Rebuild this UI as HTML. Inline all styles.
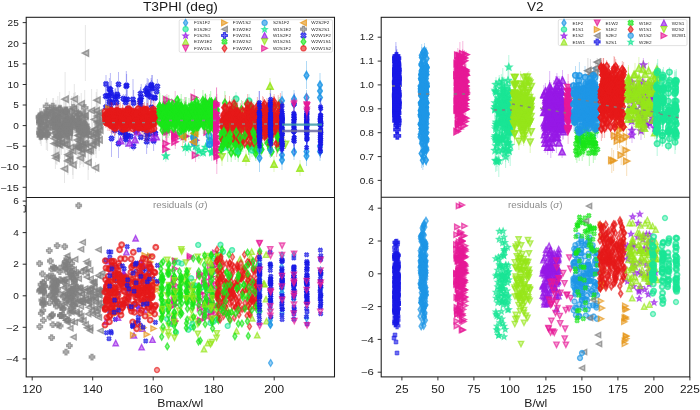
<!DOCTYPE html><html><head><meta charset="utf-8"><style>html,body{margin:0;padding:0;background:#fff;width:700px;height:410px;overflow:hidden}svg{display:block;font-family:"Liberation Sans",sans-serif;will-change:transform}</style></head><body><svg width="700" height="410" viewBox="0 0 700 410"><defs><path id="d1" d="M0,-1.22 L0.74,0 L0,1.22 L-0.74,0Z" transform="scale(3.10)"/><path id="D1" d="M0,-1.25 L0.85,0 L0,1.25 L-0.85,0Z" transform="scale(3.10)"/><path id="o1" d="M0.920,0.000 L0.797,0.460 L0.460,0.797 L0.000,0.920 L-0.460,0.797 L-0.797,0.460 L-0.920,0.000 L-0.797,-0.460 L-0.460,-0.797 L-0.000,-0.920 L0.460,-0.797 L0.797,-0.460Z" transform="scale(3.10)"/><path id="s1" d="M0.000,-0.900 L0.265,-0.264 L0.951,-0.209 L0.428,0.239 L0.588,0.909 L0.000,0.550 L-0.588,0.909 L-0.428,0.239 L-0.951,-0.209 L-0.265,-0.264Z" transform="scale(3.10)"/><path id="u1" d="M0,-1 L1,1 L-1,1Z" transform="scale(3.10)"/><path id="v1" d="M0,1 L1,-1 L-1,-1Z" transform="scale(3.10)"/><path id="r1" d="M1,0 L-1,-1 L-1,1Z" transform="scale(3.10)"/><path id="l1" d="M-1,0 L1,-1 L1,1Z" transform="scale(3.10)"/><path id="p1" d="M-0.36,-1 H0.36 V-0.36 H1 V0.36 H0.36 V1 H-0.36 V0.36 H-1 V-0.36 H-0.36Z" transform="scale(3.10)"/><path id="x1" d="M-0.36,-1 H0.36 V-0.36 H1 V0.36 H0.36 V1 H-0.36 V0.36 H-1 V-0.36 H-0.36Z" transform="scale(2.42) rotate(45)"/><path id="d2" d="M0,-1.22 L0.74,0 L0,1.22 L-0.74,0Z" transform="scale(2.70)"/><path id="D2" d="M0,-1.25 L0.85,0 L0,1.25 L-0.85,0Z" transform="scale(2.70)"/><path id="o2" d="M0.920,0.000 L0.797,0.460 L0.460,0.797 L0.000,0.920 L-0.460,0.797 L-0.797,0.460 L-0.920,0.000 L-0.797,-0.460 L-0.460,-0.797 L-0.000,-0.920 L0.460,-0.797 L0.797,-0.460Z" transform="scale(2.70)"/><path id="s2" d="M0.000,-0.900 L0.265,-0.264 L0.951,-0.209 L0.428,0.239 L0.588,0.909 L0.000,0.550 L-0.588,0.909 L-0.428,0.239 L-0.951,-0.209 L-0.265,-0.264Z" transform="scale(2.70)"/><path id="u2" d="M0,-1 L1,1 L-1,1Z" transform="scale(2.70)"/><path id="v2" d="M0,1 L1,-1 L-1,-1Z" transform="scale(2.70)"/><path id="r2" d="M1,0 L-1,-1 L-1,1Z" transform="scale(2.70)"/><path id="l2" d="M-1,0 L1,-1 L1,1Z" transform="scale(2.70)"/><path id="p2" d="M-0.36,-1 H0.36 V-0.36 H1 V0.36 H0.36 V1 H-0.36 V0.36 H-1 V-0.36 H-0.36Z" transform="scale(2.70)"/><path id="x2" d="M-0.36,-1 H0.36 V-0.36 H1 V0.36 H0.36 V1 H-0.36 V0.36 H-1 V-0.36 H-0.36Z" transform="scale(2.11) rotate(45)"/><path id="d3" d="M0,-1.22 L0.74,0 L0,1.22 L-0.74,0Z" transform="scale(2.60)"/><path id="D3" d="M0,-1.25 L0.85,0 L0,1.25 L-0.85,0Z" transform="scale(2.60)"/><path id="o3" d="M0.920,0.000 L0.797,0.460 L0.460,0.797 L0.000,0.920 L-0.460,0.797 L-0.797,0.460 L-0.920,0.000 L-0.797,-0.460 L-0.460,-0.797 L-0.000,-0.920 L0.460,-0.797 L0.797,-0.460Z" transform="scale(2.60)"/><path id="s3" d="M0.000,-0.900 L0.265,-0.264 L0.951,-0.209 L0.428,0.239 L0.588,0.909 L0.000,0.550 L-0.588,0.909 L-0.428,0.239 L-0.951,-0.209 L-0.265,-0.264Z" transform="scale(2.60)"/><path id="u3" d="M0,-1 L1,1 L-1,1Z" transform="scale(2.60)"/><path id="v3" d="M0,1 L1,-1 L-1,-1Z" transform="scale(2.60)"/><path id="r3" d="M1,0 L-1,-1 L-1,1Z" transform="scale(2.60)"/><path id="l3" d="M-1,0 L1,-1 L1,1Z" transform="scale(2.60)"/><path id="p3" d="M-0.36,-1 H0.36 V-0.36 H1 V0.36 H0.36 V1 H-0.36 V0.36 H-1 V-0.36 H-0.36Z" transform="scale(2.60)"/><path id="x3" d="M-0.36,-1 H0.36 V-0.36 H1 V0.36 H0.36 V1 H-0.36 V0.36 H-1 V-0.36 H-0.36Z" transform="scale(2.03) rotate(45)"/><path id="d4" d="M0,-1.22 L0.74,0 L0,1.22 L-0.74,0Z" transform="scale(2.30)"/><path id="D4" d="M0,-1.25 L0.85,0 L0,1.25 L-0.85,0Z" transform="scale(2.30)"/><path id="o4" d="M0.920,0.000 L0.797,0.460 L0.460,0.797 L0.000,0.920 L-0.460,0.797 L-0.797,0.460 L-0.920,0.000 L-0.797,-0.460 L-0.460,-0.797 L-0.000,-0.920 L0.460,-0.797 L0.797,-0.460Z" transform="scale(2.30)"/><path id="s4" d="M0.000,-0.900 L0.265,-0.264 L0.951,-0.209 L0.428,0.239 L0.588,0.909 L0.000,0.550 L-0.588,0.909 L-0.428,0.239 L-0.951,-0.209 L-0.265,-0.264Z" transform="scale(2.30)"/><path id="u4" d="M0,-1 L1,1 L-1,1Z" transform="scale(2.30)"/><path id="v4" d="M0,1 L1,-1 L-1,-1Z" transform="scale(2.30)"/><path id="r4" d="M1,0 L-1,-1 L-1,1Z" transform="scale(2.30)"/><path id="l4" d="M-1,0 L1,-1 L1,1Z" transform="scale(2.30)"/><path id="p4" d="M-0.36,-1 H0.36 V-0.36 H1 V0.36 H0.36 V1 H-0.36 V0.36 H-1 V-0.36 H-0.36Z" transform="scale(2.30)"/><path id="x4" d="M-0.36,-1 H0.36 V-0.36 H1 V0.36 H0.36 V1 H-0.36 V0.36 H-1 V-0.36 H-0.36Z" transform="scale(1.79) rotate(45)"/><path id="dL" d="M0,-1.22 L0.74,0 L0,1.22 L-0.74,0Z" transform="scale(2.90)"/><path id="DL" d="M0,-1.25 L0.85,0 L0,1.25 L-0.85,0Z" transform="scale(2.90)"/><path id="oL" d="M0.920,0.000 L0.797,0.460 L0.460,0.797 L0.000,0.920 L-0.460,0.797 L-0.797,0.460 L-0.920,0.000 L-0.797,-0.460 L-0.460,-0.797 L-0.000,-0.920 L0.460,-0.797 L0.797,-0.460Z" transform="scale(2.90)"/><path id="sL" d="M0.000,-0.900 L0.265,-0.264 L0.951,-0.209 L0.428,0.239 L0.588,0.909 L0.000,0.550 L-0.588,0.909 L-0.428,0.239 L-0.951,-0.209 L-0.265,-0.264Z" transform="scale(2.90)"/><path id="uL" d="M0,-1 L1,1 L-1,1Z" transform="scale(2.90)"/><path id="vL" d="M0,1 L1,-1 L-1,-1Z" transform="scale(2.90)"/><path id="rL" d="M1,0 L-1,-1 L-1,1Z" transform="scale(2.90)"/><path id="lL" d="M-1,0 L1,-1 L1,1Z" transform="scale(2.90)"/><path id="pL" d="M-0.36,-1 H0.36 V-0.36 H1 V0.36 H0.36 V1 H-0.36 V0.36 H-1 V-0.36 H-0.36Z" transform="scale(2.90)"/><path id="xL" d="M-0.36,-1 H0.36 V-0.36 H1 V0.36 H0.36 V1 H-0.36 V0.36 H-1 V-0.36 H-0.36Z" transform="scale(2.75) rotate(45)"/><clipPath id="cTL"><rect x="26.2" y="17.3" width="308.3" height="180.1"/></clipPath><clipPath id="cBL"><rect x="26.2" y="197.4" width="308.3" height="179.5"/></clipPath><clipPath id="cTR"><rect x="381.2" y="17.3" width="308.6" height="179.9"/></clipPath><clipPath id="cBR"><rect x="381.2" y="197.2" width="308.6" height="179.7"/></clipPath></defs><g clip-path="url(#cTL)"><path d="M88.1 146V180M96.1 128V158M91.6 89V132M60.2 111V142M85.3 131V140M65.1 72V126M88.4 118V152M83.8 119V146M73.0 151V179M78.7 103V126M66.8 138V150M68.2 109V137M76.7 110V145M55.3 105V146M63.1 114V134M61.3 129V149M97.8 127V138M82.3 129V161M69.3 150V162M85.4 111V158M71.3 108V129M56.9 107V165M73.8 93V123M59.6 131V158M56.0 152V164M54.7 129V137M95.5 162V173M54.1 131V156M67.8 106V141M80.2 110V152M74.4 119V133M54.5 103V136M96.4 123V147M82.7 108V143M94.4 107V132M81.2 93V114M69.2 118V146M69.2 91V154M98.9 115V137M62.4 116V145M55.6 113V160M56.9 120V126M99.1 129V151M57.4 116V138M75.2 92V134M69.6 117V142M86.8 114V148M66.1 132V142M64.5 155V183M75.1 124V133M97.0 89V111M66.0 121V148M56.0 100V156M98.9 101V125M96.2 92V129M85.8 141V148M78.6 113V136M57.8 129V158M65.5 111V146M95.6 131V151M88.4 132V170M74.3 84V114M65.2 112V126M78.9 121V150M85.2 106V124M99.8 114V146M57.9 96V123M92.8 135V155M99.4 112V119M81.7 120V149M77.9 121V150M77.3 126V154M90.4 139V162M79.1 123V141M80.4 151V165M59.9 109V118M77.4 129V164M77.4 138V153M91.6 129V160M68.0 121V143M67.7 157V165M83.3 110V153M85.8 118V137M82.3 115V143M97.0 96V148M71.9 101V138M81.9 143V164M98.3 119V129M76.5 105V138M68.8 106V132M84.7 125V161M67.9 134V175M92.6 123V152M80.8 125V153M78.3 138V159M57.7 106V149M63.8 97V126M57.5 139V147M70.6 134V161M64.1 106V147M57.5 122V146M95.0 125V142M81.1 139V159M69.7 154V166M55.4 142V169M72.8 127V175M79.7 116V168M64.9 122V167M95.8 120V154M72.2 116V129M83.3 128V167M61.2 107V124M56.7 120V139M62.7 118V145M81.2 119V142M54.1 121V156M55.8 108V127M99.3 112V132M82.5 119V131M97.1 100V132M76.9 117V131M78.7 136V158M77.4 108V137M61.5 130V155" stroke="#808080" stroke-opacity="0.20" stroke-width="1" fill="none"/><g fill="#808080" fill-opacity="0.45" stroke="#808080" stroke-opacity="0.70" stroke-width="0.50"><use href="#l1" x="88.1" y="162.7"/><use href="#l1" x="96.1" y="142.9"/><use href="#l1" x="91.6" y="110.7"/><use href="#l1" x="60.2" y="126.7"/><use href="#l1" x="85.3" y="135.1"/><use href="#l1" x="65.1" y="99.2"/><use href="#l1" x="88.4" y="134.9"/><use href="#l1" x="83.8" y="132.1"/><use href="#l1" x="73.0" y="164.8"/><use href="#l1" x="78.7" y="114.3"/><use href="#l1" x="66.8" y="144.3"/><use href="#l1" x="68.2" y="123.0"/><use href="#l1" x="76.7" y="127.5"/><use href="#l1" x="55.3" y="125.5"/><use href="#l1" x="63.1" y="124.2"/><use href="#l1" x="61.3" y="139.1"/><use href="#l1" x="97.8" y="132.1"/><use href="#l1" x="82.3" y="145.0"/><use href="#l1" x="69.3" y="155.9"/><use href="#l1" x="85.4" y="134.1"/><use href="#l1" x="71.3" y="118.7"/><use href="#l1" x="56.9" y="136.3"/><use href="#l1" x="73.8" y="108.4"/><use href="#l1" x="59.6" y="144.9"/><use href="#l1" x="56.0" y="158.2"/><use href="#l1" x="54.7" y="133.3"/><use href="#l1" x="95.5" y="167.8"/><use href="#l1" x="54.1" y="143.6"/><use href="#l1" x="67.8" y="123.7"/><use href="#l1" x="80.2" y="131.3"/><use href="#l1" x="74.4" y="126.4"/><use href="#l1" x="54.5" y="119.6"/><use href="#l1" x="96.4" y="134.8"/><use href="#l1" x="82.7" y="125.7"/><use href="#l1" x="94.4" y="119.4"/><use href="#l1" x="81.2" y="103.9"/><use href="#l1" x="69.2" y="132.3"/><use href="#l1" x="69.2" y="122.2"/><use href="#l1" x="98.9" y="126.0"/><use href="#l1" x="62.4" y="130.2"/><use href="#l1" x="55.6" y="136.6"/><use href="#l1" x="56.9" y="122.9"/><use href="#l1" x="99.1" y="139.9"/><use href="#l1" x="57.4" y="126.7"/><use href="#l1" x="75.2" y="113.1"/><use href="#l1" x="69.6" y="129.3"/><use href="#l1" x="86.8" y="131.2"/><use href="#l1" x="66.1" y="137.1"/><use href="#l1" x="64.5" y="168.8"/><use href="#l1" x="75.1" y="128.5"/><use href="#l1" x="97.0" y="100.2"/><use href="#l1" x="66.0" y="134.7"/><use href="#l1" x="56.0" y="128.4"/><use href="#l1" x="98.9" y="112.7"/><use href="#l1" x="96.2" y="110.7"/><use href="#l1" x="85.8" y="144.3"/><use href="#l1" x="78.6" y="124.5"/><use href="#l1" x="57.8" y="143.6"/><use href="#l1" x="65.5" y="128.6"/><use href="#l1" x="95.6" y="140.9"/><use href="#l1" x="68.6" y="137.1"/><use href="#l1" x="88.4" y="151.2"/><use href="#l1" x="74.3" y="99.1"/><use href="#l1" x="65.2" y="119.0"/><use href="#l1" x="78.9" y="135.5"/><use href="#l1" x="85.2" y="115.3"/><use href="#l1" x="99.8" y="130.1"/><use href="#l1" x="57.9" y="109.4"/><use href="#l1" x="92.8" y="145.0"/><use href="#l1" x="99.4" y="115.6"/><use href="#l1" x="81.7" y="134.3"/><use href="#l1" x="77.9" y="135.5"/><use href="#l1" x="77.3" y="140.0"/><use href="#l1" x="90.4" y="150.4"/><use href="#l1" x="79.1" y="132.1"/><use href="#l1" x="80.4" y="158.0"/><use href="#l1" x="59.9" y="113.5"/><use href="#l1" x="77.4" y="146.7"/><use href="#l1" x="77.4" y="145.2"/><use href="#l1" x="91.6" y="144.4"/><use href="#l1" x="68.0" y="131.8"/><use href="#l1" x="67.7" y="160.9"/><use href="#l1" x="83.3" y="131.2"/><use href="#l1" x="85.8" y="127.6"/><use href="#l1" x="82.3" y="129.0"/><use href="#l1" x="97.0" y="122.0"/><use href="#l1" x="71.9" y="119.1"/><use href="#l1" x="81.9" y="153.2"/><use href="#l1" x="94.8" y="129.2"/><use href="#l1" x="98.3" y="123.9"/><use href="#l1" x="76.5" y="121.3"/><use href="#l1" x="68.8" y="118.7"/><use href="#l1" x="84.7" y="143.1"/><use href="#l1" x="67.9" y="154.6"/><use href="#l1" x="92.6" y="137.4"/><use href="#l1" x="80.8" y="139.2"/><use href="#l1" x="81.0" y="124.0"/><use href="#l1" x="78.3" y="148.2"/><use href="#l1" x="57.7" y="127.6"/><use href="#l1" x="63.8" y="111.1"/><use href="#l1" x="57.5" y="143.4"/><use href="#l1" x="70.6" y="147.5"/><use href="#l1" x="90.5" y="132.9"/><use href="#l1" x="64.1" y="126.5"/><use href="#l1" x="57.5" y="133.9"/><use href="#l1" x="95.0" y="133.5"/><use href="#l1" x="69.0" y="131.5"/><use href="#l1" x="81.1" y="149.2"/><use href="#l1" x="69.7" y="159.8"/><use href="#l1" x="55.4" y="155.6"/><use href="#l1" x="72.8" y="150.9"/><use href="#l1" x="79.7" y="141.7"/><use href="#l1" x="64.9" y="144.2"/><use href="#l1" x="95.8" y="136.8"/><use href="#l1" x="72.2" y="122.6"/><use href="#l1" x="83.3" y="147.4"/><use href="#l1" x="61.2" y="115.3"/><use href="#l1" x="56.7" y="129.1"/><use href="#l1" x="62.7" y="131.5"/><use href="#l1" x="81.2" y="130.6"/><use href="#l1" x="54.1" y="138.5"/><use href="#l1" x="55.8" y="117.5"/><use href="#l1" x="99.3" y="121.9"/><use href="#l1" x="82.5" y="124.9"/><use href="#l1" x="97.1" y="116.1"/><use href="#l1" x="76.9" y="123.9"/><use href="#l1" x="78.7" y="146.9"/><use href="#l1" x="77.4" y="122.8"/><use href="#l1" x="61.5" y="142.6"/><use href="#l1" x="94.8" y="129.4"/></g><path d="M41.3 132V140M66.4 107V120M67.2 112V131M53.2 107V127M65.8 111V135M53.3 111V130M58.4 112V122M59.7 92V125M58.9 128V144M65.3 121V142M41.5 108V121M53.2 115V134M67.1 117V128M40.5 117V128M59.6 123V129M40.3 114V144M52.7 110V133M67.0 115V134M53.6 98V124M84.7 109V128M78.9 113V136M47.0 104V118M72.5 107V141M66.3 118V136M39.9 125V141M46.3 118V150M46.4 129V143M66.2 106V118M83.9 113V152M40.2 112V126M41.2 124V146M41.1 111V121M59.5 105V115M41.3 130V137M40.0 116V131M73.3 96V120M65.4 112V133M53.4 106V122M46.5 105V141M65.3 101V120M84.6 121V136M41.6 120V139M84.7 90V126M52.7 98V115M45.5 110V123M46.6 124V135M84.2 109V121M71.6 96V128M47.7 107V117M40.2 108V134M40.4 131V141M59.9 115V124M79.8 119V141M66.2 110V121M58.3 119V131M66.8 124V142M78.5 122V131M53.3 109V144M71.7 112V135M67.2 118V141M46.5 109V119M77.8 112V128M86.1 127V137M53.8 110V128M58.9 108V118M84.8 114V141M47.7 111V137M84.7 117V133M65.0 121V136M59.0 119V154M66.9 107V145M59.5 119V132M60.2 113V159M66.6 121V132M71.6 101V134M66.5 127V134M80.1 125V133M39.5 108V127M84.6 114V137M47.2 124V132M45.3 122V129M51.9 103V124M72.2 116V125M78.6 111V130M59.8 114V142M79.1 96V132M84.2 109V138M84.6 123V134M40.4 125V140M78.4 105V124M46.6 98V115M53.8 117V141M47.7 110V120M59.1 127V138M66.3 100V121M53.6 108V136M66.7 112V144M65.9 112V133M47.6 117V151M86.0 124V132M52.7 103V115M46.7 128V139M59.4 109V135M59.6 113V122" stroke="#808080" stroke-opacity="0.20" stroke-width="1" fill="none"/><g fill="#808080" fill-opacity="0.42" stroke="#808080" stroke-opacity="0.67" stroke-width="0.50"><use href="#p1" x="41.3" y="135.8"/><use href="#p1" x="46.8" y="119.7"/><use href="#p1" x="66.4" y="113.6"/><use href="#p1" x="67.2" y="121.9"/><use href="#p1" x="53.2" y="116.9"/><use href="#p1" x="65.8" y="122.7"/><use href="#p1" x="53.3" y="120.5"/><use href="#p1" x="58.4" y="117.1"/><use href="#p1" x="59.7" y="108.7"/><use href="#p1" x="58.9" y="135.9"/><use href="#p1" x="65.3" y="131.8"/><use href="#p1" x="41.5" y="114.5"/><use href="#p1" x="53.2" y="124.9"/><use href="#p1" x="67.1" y="122.4"/><use href="#p1" x="40.5" y="122.3"/><use href="#p1" x="59.6" y="125.9"/><use href="#p1" x="40.3" y="129.2"/><use href="#p1" x="46.3" y="116.6"/><use href="#p1" x="52.7" y="121.7"/><use href="#p1" x="78.2" y="119.9"/><use href="#p1" x="67.0" y="124.6"/><use href="#p1" x="53.6" y="111.0"/><use href="#p1" x="84.7" y="118.6"/><use href="#p1" x="78.9" y="124.3"/><use href="#p1" x="47.0" y="110.9"/><use href="#p1" x="72.5" y="123.6"/><use href="#p1" x="66.3" y="126.7"/><use href="#p1" x="39.9" y="132.9"/><use href="#p1" x="46.3" y="133.7"/><use href="#p1" x="83.8" y="129.7"/><use href="#p1" x="46.4" y="135.8"/><use href="#p1" x="66.2" y="111.7"/><use href="#p1" x="65.1" y="124.8"/><use href="#p1" x="83.9" y="132.3"/><use href="#p1" x="79.1" y="125.9"/><use href="#p1" x="40.2" y="118.9"/><use href="#p1" x="41.2" y="134.9"/><use href="#p1" x="41.1" y="115.8"/><use href="#p1" x="59.5" y="110.0"/><use href="#p1" x="41.3" y="133.8"/><use href="#p1" x="40.0" y="123.3"/><use href="#p1" x="73.3" y="107.8"/><use href="#p1" x="65.4" y="122.2"/><use href="#p1" x="53.4" y="113.9"/><use href="#p1" x="46.5" y="123.0"/><use href="#p1" x="65.3" y="110.6"/><use href="#p1" x="84.6" y="128.5"/><use href="#p1" x="41.6" y="129.8"/><use href="#p1" x="84.7" y="107.8"/><use href="#p1" x="52.7" y="106.5"/><use href="#p1" x="45.5" y="116.6"/><use href="#p1" x="46.6" y="129.5"/><use href="#p1" x="84.2" y="115.0"/><use href="#p1" x="71.6" y="112.1"/><use href="#p1" x="47.7" y="112.2"/><use href="#p1" x="40.2" y="121.2"/><use href="#p1" x="40.4" y="135.9"/><use href="#p1" x="59.9" y="119.8"/><use href="#p1" x="79.8" y="130.1"/><use href="#p1" x="66.2" y="115.5"/><use href="#p1" x="58.3" y="124.7"/><use href="#p1" x="66.8" y="133.3"/><use href="#p1" x="78.5" y="126.7"/><use href="#p1" x="53.3" y="126.2"/><use href="#p1" x="71.7" y="123.5"/><use href="#p1" x="67.2" y="129.6"/><use href="#p1" x="66.8" y="119.4"/><use href="#p1" x="46.5" y="114.2"/><use href="#p1" x="77.8" y="119.8"/><use href="#p1" x="39.7" y="116.6"/><use href="#p1" x="86.1" y="132.1"/><use href="#p1" x="53.8" y="118.9"/><use href="#p1" x="58.9" y="113.3"/><use href="#p1" x="84.8" y="127.8"/><use href="#p1" x="47.7" y="124.2"/><use href="#p1" x="84.7" y="125.0"/><use href="#p1" x="65.0" y="128.7"/><use href="#p1" x="59.0" y="136.5"/><use href="#p1" x="66.9" y="126.1"/><use href="#p1" x="59.5" y="125.4"/><use href="#p1" x="60.2" y="135.6"/><use href="#p1" x="66.6" y="126.5"/><use href="#p1" x="71.6" y="117.6"/><use href="#p1" x="66.5" y="130.6"/><use href="#p1" x="80.1" y="128.7"/><use href="#p1" x="39.5" y="117.5"/><use href="#p1" x="84.6" y="125.6"/><use href="#p1" x="47.2" y="128.1"/><use href="#p1" x="45.3" y="125.7"/><use href="#p1" x="51.9" y="113.2"/><use href="#p1" x="72.2" y="120.5"/><use href="#p1" x="78.6" y="120.4"/><use href="#p1" x="59.8" y="128.3"/><use href="#p1" x="79.1" y="114.1"/><use href="#p1" x="84.2" y="123.4"/><use href="#p1" x="84.6" y="128.8"/><use href="#p1" x="40.4" y="132.6"/><use href="#p1" x="78.4" y="114.6"/><use href="#p1" x="46.6" y="106.4"/><use href="#p1" x="53.8" y="129.0"/><use href="#p1" x="47.7" y="115.0"/><use href="#p1" x="59.1" y="132.4"/><use href="#p1" x="66.3" y="110.3"/><use href="#p1" x="53.6" y="122.0"/><use href="#p1" x="66.7" y="127.9"/><use href="#p1" x="39.9" y="121.4"/><use href="#p1" x="65.9" y="122.5"/><use href="#p1" x="47.6" y="134.0"/><use href="#p1" x="86.0" y="127.9"/><use href="#p1" x="52.7" y="109.0"/><use href="#p1" x="59.9" y="135.6"/><use href="#p1" x="46.7" y="133.5"/><use href="#p1" x="59.4" y="122.3"/><use href="#p1" x="59.6" y="117.8"/><use href="#p1" x="41.1" y="126.9"/></g><path d="M85.4 25V81" stroke="#808080" stroke-opacity="0.20" stroke-width="1" fill="none"/><g fill="#808080" fill-opacity="0.50" stroke="#808080" stroke-opacity="0.75" stroke-width="0.50"><use href="#l1" x="85.4" y="53.1"/></g><path d="M126.6 74V97M156.6 88V95M125.7 94V105M140.1 90V111M110.4 88V97M105.9 96V118M145.6 84V97M140.5 87V101M110.4 73V106M109.4 78V99M133.0 79V120M151.1 78V93M140.4 97V113M151.6 91V123M140.3 97V108M151.5 80V90M106.0 75V93M152.0 75V103M105.7 87V105M111.4 81V108M128.1 97V120M141.2 84V111M123.4 94V104M146.9 83V106M107.3 85V106M147.2 78V106M154.8 93V103M116.6 96V109M150.6 89V105M118.5 72V97M115.3 88V109M148.0 89V97M115.1 89V104M157.4 79V93M109.5 94V109M127.4 90V108M148.3 79V111M140.4 89V110M112.5 96V109M110.3 88V117M117.2 84V105M152.1 75V101M133.6 90V116M117.8 81V112M125.6 97V108M110.3 97V119M126.3 71V101M109.4 88V105" stroke="#1919e6" stroke-opacity="0.30" stroke-width="1" fill="none"/><g fill="#1919e6" fill-opacity="0.60" stroke="#1919e6" stroke-opacity="0.85" stroke-width="0.50"><use href="#x1" x="126.6" y="85.4"/><use href="#x1" x="156.6" y="91.5"/><use href="#x1" x="125.7" y="99.7"/><use href="#x1" x="140.1" y="100.6"/><use href="#x1" x="147.3" y="88.3"/><use href="#x1" x="110.4" y="92.6"/><use href="#x1" x="105.9" y="107.1"/><use href="#x1" x="145.6" y="90.5"/><use href="#x1" x="140.5" y="93.6"/><use href="#x1" x="110.4" y="89.5"/><use href="#x1" x="109.4" y="88.8"/><use href="#x1" x="133.0" y="99.4"/><use href="#x1" x="151.1" y="85.9"/><use href="#x1" x="140.4" y="104.9"/><use href="#x1" x="151.6" y="107.4"/><use href="#x1" x="140.3" y="102.3"/><use href="#x1" x="151.5" y="84.8"/><use href="#x1" x="106.0" y="84.0"/><use href="#x1" x="152.0" y="88.6"/><use href="#x1" x="105.7" y="96.2"/><use href="#x1" x="111.4" y="94.2"/><use href="#x1" x="128.1" y="108.6"/><use href="#x1" x="141.2" y="97.4"/><use href="#x1" x="123.4" y="98.7"/><use href="#x1" x="146.9" y="94.1"/><use href="#x1" x="107.3" y="95.6"/><use href="#x1" x="147.2" y="92.3"/><use href="#x1" x="154.8" y="98.1"/><use href="#x1" x="116.6" y="102.5"/><use href="#x1" x="150.6" y="96.8"/><use href="#x1" x="154.8" y="97.4"/><use href="#x1" x="118.5" y="84.4"/><use href="#x1" x="115.3" y="98.6"/><use href="#x1" x="148.0" y="93.0"/><use href="#x1" x="115.1" y="96.6"/><use href="#x1" x="157.4" y="86.4"/><use href="#x1" x="109.5" y="101.7"/><use href="#x1" x="127.4" y="99.4"/><use href="#x1" x="148.3" y="95.0"/><use href="#x1" x="140.4" y="99.7"/><use href="#x1" x="112.5" y="102.8"/><use href="#x1" x="110.3" y="102.2"/><use href="#x1" x="117.2" y="94.4"/><use href="#x1" x="152.1" y="87.6"/><use href="#x1" x="133.6" y="103.0"/><use href="#x1" x="117.8" y="96.4"/><use href="#x1" x="125.6" y="102.4"/><use href="#x1" x="110.3" y="108.0"/><use href="#x1" x="126.3" y="86.2"/><use href="#x1" x="109.4" y="96.2"/></g><path d="M125.6 128V147M146.6 129V154M125.3 126V140M128.2 128V143M146.9 126V139M153.6 131V151M155.3 122V145M125.7 127V143M114.8 122V139M111.5 120V157M118.5 129V158M147.3 126V148M125.8 129V142M122.7 125V140M143.8 121V138M130.7 133V140M133.4 142V151M136.0 118V145M126.0 132V147M149.6 122V145M120.6 126V139M123.3 121V141M136.4 123V136" stroke="#1919e6" stroke-opacity="0.30" stroke-width="1" fill="none"/><g fill="#1919e6" fill-opacity="0.60" stroke="#1919e6" stroke-opacity="0.85" stroke-width="0.50"><use href="#x1" x="125.6" y="137.2"/><use href="#x1" x="140.8" y="137.2"/><use href="#x1" x="146.6" y="141.6"/><use href="#x1" x="125.3" y="132.7"/><use href="#x1" x="128.2" y="135.7"/><use href="#x1" x="146.9" y="132.4"/><use href="#x1" x="153.6" y="140.9"/><use href="#x1" x="155.3" y="133.5"/><use href="#x1" x="125.7" y="134.9"/><use href="#x1" x="114.8" y="130.2"/><use href="#x1" x="111.5" y="138.5"/><use href="#x1" x="118.5" y="143.5"/><use href="#x1" x="147.3" y="137.3"/><use href="#x1" x="125.8" y="135.5"/><use href="#x1" x="122.7" y="132.2"/><use href="#x1" x="143.8" y="129.3"/><use href="#x1" x="130.7" y="136.5"/><use href="#x1" x="133.4" y="146.3"/><use href="#x1" x="155.0" y="133.3"/><use href="#x1" x="136.0" y="131.3"/><use href="#x1" x="126.0" y="139.4"/><use href="#x1" x="149.6" y="133.7"/><use href="#x1" x="120.6" y="132.5"/><use href="#x1" x="123.3" y="130.7"/><use href="#x1" x="136.4" y="129.5"/></g><path d="M137.4 126V137M120.6 136V145M135.0 130V149M156.2 132V141M129.6 137V149M152.9 133V143" stroke="#9619e6" stroke-opacity="0.30" stroke-width="1" fill="none"/><g fill="#9619e6" fill-opacity="0.50" stroke="#9619e6" stroke-opacity="0.75" stroke-width="0.50"><use href="#u1" x="137.4" y="131.4"/><use href="#u1" x="120.6" y="140.6"/><use href="#u1" x="135.0" y="139.5"/><use href="#u1" x="156.2" y="136.6"/><use href="#u1" x="129.6" y="142.8"/><use href="#u1" x="152.9" y="137.7"/></g><path d="M138.3 111V118M127.1 113V131M120.8 109V124M108.8 100V118M145.0 112V124" stroke="#e69619" stroke-opacity="0.30" stroke-width="1" fill="none"/><g fill="#e69619" fill-opacity="0.50" stroke="#e69619" stroke-opacity="0.75" stroke-width="0.50"><use href="#r1" x="138.3" y="114.2"/><use href="#r1" x="127.1" y="122.3"/><use href="#r1" x="120.8" y="116.5"/><use href="#r1" x="108.8" y="108.7"/><use href="#r1" x="145.0" y="118.2"/></g><path d="M136.9 110V118M148.1 110V123M120.6 113V120M148.4 111V124M116.1 109V120M145.4 124V130M138.8 114V124M141.1 109V121M106.8 106V127M148.2 118V134M123.1 115V126M150.3 114V126M106.9 110V118M129.2 103V121M142.7 107V125M115.5 116V122M140.7 110V127M136.0 109V117M155.0 112V127M117.9 108V119M132.9 119V133M122.9 104V122M140.4 116V127M124.8 118V128M153.6 107V119M120.4 108V124M141.2 121V129M125.6 108V129M109.8 108V126M144.9 113V141M108.9 117V124M106.2 112V124M106.2 119V126M153.8 120V137M134.2 110V130M151.4 115V128M122.3 117V132M122.8 121V128M145.7 108V116M143.6 120V132M151.3 125V134M144.9 107V124M125.1 120V133M138.7 114V126M118.6 108V121M109.8 106V121M153.9 113V129M134.8 108V121M135.3 117V129M151.3 113V125M128.6 107V130M142.9 103V125M149.4 112V130M115.1 115V122M134.0 110V127M119.6 109V121M110.8 113V130M118.7 105V119M114.5 120V136M151.2 112V124M105.6 113V126M110.3 108V123M117.9 107V122M141.7 113V120M115.4 121V135M153.9 112V121M136.1 119V131M147.4 103V126M110.2 112V127M113.2 114V126M150.3 113V134M130.1 112V133M147.2 108V127M139.7 123V132M120.4 108V129M109.1 105V124M116.3 107V115M140.3 115V127M143.5 104V124M146.9 118V142M139.5 107V122M112.9 119V130M113.1 107V122M152.4 118V130M144.5 117V127M148.9 120V128M131.7 106V116M149.0 110V127M138.7 114V130M147.0 103V125M153.3 111V127M123.5 120V133M126.4 116V125M145.2 115V125M130.4 105V122M153.4 100V119M133.8 116V132M125.3 118V128M143.3 105V116M126.4 108V124M144.7 110V123M122.6 105V118M115.7 105V122M124.1 116V128M139.3 116V123M118.2 105V125M150.4 113V132M141.2 121V134M123.9 113V131M142.0 112V122M143.2 111V119M127.3 116V128M150.8 113V137M133.2 111V121M125.1 125V132M112.4 103V121M138.2 118V136M125.7 107V128M124.7 107V117M118.0 106V123M111.9 114V124M120.8 118V129M137.6 106V134M116.3 103V120M111.3 102V119M139.5 115V123M146.8 117V130M130.0 101V121M127.5 111V125M147.9 117V137M143.8 111V120M117.8 109V126M126.8 106V122M116.7 102V119M138.0 123V130M111.9 112V126M132.1 112V122M125.1 116V125M117.4 112V127M117.5 104V118M115.7 108V120M153.5 105V124M153.2 113V130M142.1 107V127M131.3 110V127M152.6 109V121M117.8 119V132M143.0 118V137M134.9 112V124M108.0 114V121M115.0 114V128M145.5 113V124M139.7 109V128M108.0 110V131M128.7 112V119M155.0 110V123M126.7 117V129M154.9 103V120M124.4 111V124M123.4 114V121M141.1 104V122M132.1 116V129M106.9 111V125M151.1 116V126M133.3 117V127M148.7 110V128M109.6 117V131M106.9 112V119M143.6 118V124M145.4 112V128M145.1 117V131M141.5 110V125M133.9 109V118M144.5 102V116M137.9 111V126M151.9 113V131M136.6 107V123M113.3 116V127M145.5 113V133M141.6 123V132M115.1 107V118M154.3 112V123M154.5 115V131M140.4 116V129M137.0 116V126M113.1 110V126M116.1 118V127M105.9 114V128M114.8 115V126M124.8 120V132M142.8 120V132M132.0 112V125M133.2 115V124M145.9 106V126M119.6 111V123M132.7 110V123M138.2 100V118M138.8 112V129M152.6 114V123M146.4 110V123M129.9 112V132M150.8 107V123M114.9 110V123M107.6 106V120M116.6 118V132M111.2 106V125M151.8 113V122M117.0 113V133M118.9 104V120M148.2 105V123M136.7 118V125M131.1 107V118M127.4 115V128M144.5 119V133M126.2 117V129M136.0 115V126M123.1 118V140M109.0 109V124M148.6 107V123M141.8 112V127M148.4 112V128M150.6 99V125M115.0 111V127M132.9 106V127M134.6 117V135M137.1 103V123M122.2 113V128M150.5 108V122M143.3 116V124M120.3 102V123M135.0 107V116M143.6 112V123M112.2 117V134M125.7 106V119M141.2 111V119M127.4 104V118M111.1 102V119M113.3 108V132M111.1 119V129M122.3 109V124M146.0 120V129M136.8 106V122M125.2 110V118M154.5 109V121M134.3 118V129M139.0 111V127M108.2 113V128M138.7 124V131M143.4 109V129M136.0 117V125M126.9 108V126M148.4 107V130M141.6 108V116M125.8 116V135M128.4 112V126M140.6 106V115M152.1 109V120M129.8 118V132M131.9 120V129M128.2 112V125M149.7 111V125M144.1 107V114M111.1 118V133M113.8 111V127M114.0 112V133" stroke="#e61919" stroke-opacity="0.30" stroke-width="1" fill="none"/><g fill="#e61919" fill-opacity="0.55" stroke="#e61919" stroke-opacity="0.80" stroke-width="0.50"><use href="#o1" x="136.9" y="114.0"/><use href="#o1" x="148.1" y="116.5"/><use href="#o1" x="120.6" y="116.5"/><use href="#o1" x="148.4" y="117.5"/><use href="#o1" x="118.3" y="118.4"/><use href="#o1" x="145.4" y="115.6"/><use href="#o1" x="116.1" y="114.5"/><use href="#o1" x="145.4" y="127.0"/><use href="#o1" x="138.8" y="118.8"/><use href="#o1" x="141.1" y="115.3"/><use href="#o1" x="106.8" y="116.5"/><use href="#o1" x="148.2" y="125.6"/><use href="#o1" x="123.1" y="120.5"/><use href="#o1" x="150.3" y="120.3"/><use href="#o1" x="106.9" y="114.5"/><use href="#o1" x="129.2" y="112.1"/><use href="#o1" x="142.7" y="116.0"/><use href="#o1" x="109.4" y="120.6"/><use href="#o1" x="115.5" y="118.9"/><use href="#o1" x="140.7" y="118.7"/><use href="#o1" x="136.0" y="112.8"/><use href="#o1" x="146.2" y="109.4"/><use href="#o1" x="122.0" y="121.8"/><use href="#o1" x="155.0" y="119.6"/><use href="#o1" x="117.9" y="113.8"/><use href="#o1" x="132.9" y="126.0"/><use href="#o1" x="122.9" y="113.2"/><use href="#o1" x="140.4" y="121.5"/><use href="#o1" x="124.8" y="122.6"/><use href="#o1" x="153.6" y="112.8"/><use href="#o1" x="120.4" y="115.5"/><use href="#o1" x="141.2" y="125.0"/><use href="#o1" x="125.6" y="118.5"/><use href="#o1" x="109.8" y="117.4"/><use href="#o1" x="144.9" y="127.3"/><use href="#o1" x="108.9" y="120.5"/><use href="#o1" x="106.2" y="117.6"/><use href="#o1" x="106.2" y="122.5"/><use href="#o1" x="113.5" y="123.9"/><use href="#o1" x="153.8" y="128.5"/><use href="#o1" x="143.1" y="119.6"/><use href="#o1" x="134.2" y="119.9"/><use href="#o1" x="147.0" y="116.5"/><use href="#o1" x="151.4" y="121.4"/><use href="#o1" x="122.3" y="124.7"/><use href="#o1" x="122.8" y="124.3"/><use href="#o1" x="145.7" y="112.3"/><use href="#o1" x="143.6" y="125.9"/><use href="#o1" x="144.7" y="127.1"/><use href="#o1" x="151.3" y="129.4"/><use href="#o1" x="144.9" y="115.8"/><use href="#o1" x="125.1" y="126.4"/><use href="#o1" x="138.7" y="120.2"/><use href="#o1" x="118.6" y="114.7"/><use href="#o1" x="109.8" y="113.3"/><use href="#o1" x="153.9" y="121.0"/><use href="#o1" x="134.8" y="114.5"/><use href="#o1" x="135.3" y="122.9"/><use href="#o1" x="128.5" y="116.4"/><use href="#o1" x="151.3" y="118.8"/><use href="#o1" x="128.6" y="118.4"/><use href="#o1" x="142.9" y="114.1"/><use href="#o1" x="149.4" y="120.9"/><use href="#o1" x="115.1" y="118.5"/><use href="#o1" x="134.0" y="118.6"/><use href="#o1" x="119.6" y="115.0"/><use href="#o1" x="110.8" y="121.7"/><use href="#o1" x="118.7" y="112.0"/><use href="#o1" x="114.5" y="127.8"/><use href="#o1" x="145.2" y="114.8"/><use href="#o1" x="151.2" y="118.2"/><use href="#o1" x="105.6" y="119.4"/><use href="#o1" x="110.3" y="116.0"/><use href="#o1" x="105.2" y="115.5"/><use href="#o1" x="155.2" y="120.7"/><use href="#o1" x="128.3" y="122.4"/><use href="#o1" x="117.9" y="114.2"/><use href="#o1" x="141.7" y="116.7"/><use href="#o1" x="115.4" y="128.2"/><use href="#o1" x="153.9" y="116.4"/><use href="#o1" x="136.1" y="125.1"/><use href="#o1" x="147.4" y="114.7"/><use href="#o1" x="126.7" y="128.2"/><use href="#o1" x="110.2" y="119.5"/><use href="#o1" x="113.2" y="120.1"/><use href="#o1" x="150.3" y="123.5"/><use href="#o1" x="130.1" y="122.5"/><use href="#o1" x="147.2" y="117.3"/><use href="#o1" x="139.7" y="127.7"/><use href="#o1" x="120.4" y="118.2"/><use href="#o1" x="109.1" y="114.9"/><use href="#o1" x="116.3" y="111.2"/><use href="#o1" x="140.3" y="120.9"/><use href="#o1" x="138.1" y="118.7"/><use href="#o1" x="143.5" y="113.6"/><use href="#o1" x="146.9" y="129.6"/><use href="#o1" x="105.3" y="111.6"/><use href="#o1" x="139.5" y="114.4"/><use href="#o1" x="112.9" y="124.4"/><use href="#o1" x="113.1" y="114.6"/><use href="#o1" x="152.4" y="124.3"/><use href="#o1" x="144.5" y="122.2"/><use href="#o1" x="148.9" y="123.8"/><use href="#o1" x="131.7" y="111.1"/><use href="#o1" x="141.3" y="126.5"/><use href="#o1" x="149.0" y="118.2"/><use href="#o1" x="138.7" y="122.0"/><use href="#o1" x="147.0" y="114.0"/><use href="#o1" x="153.3" y="118.9"/><use href="#o1" x="123.5" y="126.3"/><use href="#o1" x="126.4" y="120.3"/><use href="#o1" x="145.2" y="120.2"/><use href="#o1" x="130.4" y="113.5"/><use href="#o1" x="153.4" y="109.4"/><use href="#o1" x="133.8" y="124.1"/><use href="#o1" x="128.5" y="113.9"/><use href="#o1" x="125.3" y="123.0"/><use href="#o1" x="143.3" y="110.4"/><use href="#o1" x="126.4" y="115.8"/><use href="#o1" x="144.7" y="116.7"/><use href="#o1" x="122.6" y="111.1"/><use href="#o1" x="115.7" y="113.2"/><use href="#o1" x="105.5" y="116.2"/><use href="#o1" x="124.1" y="121.6"/><use href="#o1" x="139.3" y="119.6"/><use href="#o1" x="118.2" y="114.8"/><use href="#o1" x="150.4" y="122.7"/><use href="#o1" x="141.2" y="127.5"/><use href="#o1" x="123.9" y="121.9"/><use href="#o1" x="142.0" y="117.2"/><use href="#o1" x="143.2" y="115.0"/><use href="#o1" x="127.3" y="122.0"/><use href="#o1" x="150.8" y="125.0"/><use href="#o1" x="133.2" y="116.1"/><use href="#o1" x="114.5" y="114.0"/><use href="#o1" x="125.1" y="128.4"/><use href="#o1" x="112.4" y="112.0"/><use href="#o1" x="138.2" y="127.0"/><use href="#o1" x="125.7" y="117.3"/><use href="#o1" x="141.9" y="121.3"/><use href="#o1" x="124.7" y="111.8"/><use href="#o1" x="118.0" y="114.4"/><use href="#o1" x="111.9" y="118.8"/><use href="#o1" x="120.8" y="123.3"/><use href="#o1" x="137.6" y="120.3"/><use href="#o1" x="116.3" y="111.9"/><use href="#o1" x="111.3" y="110.7"/><use href="#o1" x="139.5" y="119.2"/><use href="#o1" x="127.4" y="128.0"/><use href="#o1" x="146.8" y="123.5"/><use href="#o1" x="125.6" y="122.4"/><use href="#o1" x="132.4" y="122.5"/><use href="#o1" x="130.0" y="110.6"/><use href="#o1" x="127.5" y="117.9"/><use href="#o1" x="147.9" y="126.7"/><use href="#o1" x="143.8" y="115.5"/><use href="#o1" x="117.8" y="117.5"/><use href="#o1" x="126.8" y="113.8"/><use href="#o1" x="116.7" y="110.6"/><use href="#o1" x="138.0" y="126.1"/><use href="#o1" x="138.9" y="122.5"/><use href="#o1" x="111.9" y="119.0"/><use href="#o1" x="132.1" y="117.1"/><use href="#o1" x="125.1" y="120.4"/><use href="#o1" x="135.3" y="114.5"/><use href="#o1" x="117.4" y="119.8"/><use href="#o1" x="117.5" y="110.8"/><use href="#o1" x="115.7" y="114.0"/><use href="#o1" x="142.7" y="120.8"/><use href="#o1" x="153.5" y="114.5"/><use href="#o1" x="147.1" y="125.6"/><use href="#o1" x="122.4" y="128.9"/><use href="#o1" x="153.2" y="121.4"/><use href="#o1" x="142.1" y="117.4"/><use href="#o1" x="131.3" y="118.6"/><use href="#o1" x="152.6" y="115.0"/><use href="#o1" x="117.8" y="125.5"/><use href="#o1" x="143.0" y="127.5"/><use href="#o1" x="134.9" y="117.6"/><use href="#o1" x="108.0" y="117.1"/><use href="#o1" x="138.3" y="114.0"/><use href="#o1" x="115.0" y="120.7"/><use href="#o1" x="145.5" y="118.7"/><use href="#o1" x="139.7" y="118.2"/><use href="#o1" x="108.0" y="120.8"/><use href="#o1" x="128.7" y="115.5"/><use href="#o1" x="155.0" y="116.6"/><use href="#o1" x="126.7" y="122.7"/><use href="#o1" x="120.1" y="117.1"/><use href="#o1" x="154.9" y="111.1"/><use href="#o1" x="147.5" y="118.1"/><use href="#o1" x="152.4" y="120.4"/><use href="#o1" x="124.4" y="117.2"/><use href="#o1" x="108.9" y="111.8"/><use href="#o1" x="123.4" y="117.7"/><use href="#o1" x="141.1" y="113.2"/><use href="#o1" x="132.1" y="122.8"/><use href="#o1" x="113.5" y="121.3"/><use href="#o1" x="106.9" y="118.2"/><use href="#o1" x="151.1" y="121.3"/><use href="#o1" x="133.3" y="121.8"/><use href="#o1" x="148.7" y="118.9"/><use href="#o1" x="109.6" y="123.8"/><use href="#o1" x="106.9" y="115.7"/><use href="#o1" x="143.6" y="121.1"/><use href="#o1" x="145.4" y="120.2"/><use href="#o1" x="145.1" y="124.0"/><use href="#o1" x="143.9" y="117.1"/><use href="#o1" x="141.5" y="117.1"/><use href="#o1" x="155.3" y="116.3"/><use href="#o1" x="131.2" y="121.9"/><use href="#o1" x="146.0" y="119.5"/><use href="#o1" x="133.9" y="113.7"/><use href="#o1" x="144.5" y="109.2"/><use href="#o1" x="137.9" y="118.5"/><use href="#o1" x="151.9" y="121.7"/><use href="#o1" x="136.6" y="114.8"/><use href="#o1" x="113.3" y="121.1"/><use href="#o1" x="145.5" y="123.4"/><use href="#o1" x="141.6" y="127.4"/><use href="#o1" x="115.1" y="112.5"/><use href="#o1" x="154.3" y="117.4"/><use href="#o1" x="154.5" y="123.1"/><use href="#o1" x="140.4" y="122.1"/><use href="#o1" x="140.1" y="123.4"/><use href="#o1" x="137.0" y="121.3"/><use href="#o1" x="113.1" y="117.6"/><use href="#o1" x="116.1" y="122.5"/><use href="#o1" x="105.9" y="121.3"/><use href="#o1" x="114.8" y="120.2"/><use href="#o1" x="124.8" y="125.8"/><use href="#o1" x="142.8" y="125.9"/><use href="#o1" x="132.0" y="118.5"/><use href="#o1" x="133.2" y="119.5"/><use href="#o1" x="145.9" y="115.7"/><use href="#o1" x="119.6" y="116.7"/><use href="#o1" x="127.8" y="117.3"/><use href="#o1" x="132.7" y="116.8"/><use href="#o1" x="138.2" y="109.0"/><use href="#o1" x="138.8" y="120.5"/><use href="#o1" x="152.6" y="118.8"/><use href="#o1" x="146.4" y="116.1"/><use href="#o1" x="129.9" y="121.9"/><use href="#o1" x="150.8" y="115.0"/><use href="#o1" x="114.9" y="116.4"/><use href="#o1" x="107.6" y="113.0"/><use href="#o1" x="116.6" y="125.0"/><use href="#o1" x="111.2" y="115.7"/><use href="#o1" x="151.8" y="117.7"/><use href="#o1" x="117.0" y="123.1"/><use href="#o1" x="118.9" y="111.8"/><use href="#o1" x="148.2" y="114.0"/><use href="#o1" x="138.1" y="120.6"/><use href="#o1" x="136.7" y="121.5"/><use href="#o1" x="131.1" y="112.4"/><use href="#o1" x="127.4" y="121.5"/><use href="#o1" x="144.5" y="125.8"/><use href="#o1" x="126.2" y="123.0"/><use href="#o1" x="108.2" y="122.1"/><use href="#o1" x="136.0" y="120.5"/><use href="#o1" x="123.1" y="129.1"/><use href="#o1" x="132.9" y="128.7"/><use href="#o1" x="109.0" y="116.2"/><use href="#o1" x="148.6" y="115.0"/><use href="#o1" x="141.8" y="119.4"/><use href="#o1" x="134.4" y="119.4"/><use href="#o1" x="148.4" y="119.9"/><use href="#o1" x="150.6" y="111.7"/><use href="#o1" x="115.0" y="119.1"/><use href="#o1" x="132.9" y="116.3"/><use href="#o1" x="134.6" y="126.2"/><use href="#o1" x="137.1" y="112.8"/><use href="#o1" x="122.2" y="120.4"/><use href="#o1" x="150.5" y="114.6"/><use href="#o1" x="143.3" y="120.1"/><use href="#o1" x="129.2" y="121.5"/><use href="#o1" x="120.3" y="112.7"/><use href="#o1" x="135.0" y="111.6"/><use href="#o1" x="143.6" y="117.8"/><use href="#o1" x="112.2" y="125.8"/><use href="#o1" x="125.7" y="112.5"/><use href="#o1" x="141.2" y="114.7"/><use href="#o1" x="127.4" y="111.1"/><use href="#o1" x="111.1" y="110.6"/><use href="#o1" x="113.3" y="119.6"/><use href="#o1" x="111.1" y="124.1"/><use href="#o1" x="122.3" y="116.4"/><use href="#o1" x="146.0" y="124.6"/><use href="#o1" x="127.4" y="114.8"/><use href="#o1" x="136.8" y="114.0"/><use href="#o1" x="125.2" y="114.2"/><use href="#o1" x="154.5" y="114.9"/><use href="#o1" x="123.5" y="119.3"/><use href="#o1" x="134.3" y="123.5"/><use href="#o1" x="139.0" y="119.4"/><use href="#o1" x="108.2" y="120.3"/><use href="#o1" x="138.7" y="127.8"/><use href="#o1" x="145.7" y="110.3"/><use href="#o1" x="107.1" y="123.2"/><use href="#o1" x="143.4" y="119.2"/><use href="#o1" x="136.0" y="121.2"/><use href="#o1" x="143.8" y="120.4"/><use href="#o1" x="126.9" y="116.7"/><use href="#o1" x="148.4" y="118.4"/><use href="#o1" x="141.6" y="112.1"/><use href="#o1" x="125.8" y="125.4"/><use href="#o1" x="128.4" y="119.2"/><use href="#o1" x="140.6" y="110.6"/><use href="#o1" x="152.1" y="114.6"/><use href="#o1" x="129.8" y="125.2"/><use href="#o1" x="131.9" y="124.4"/><use href="#o1" x="128.2" y="118.2"/><use href="#o1" x="149.7" y="118.3"/><use href="#o1" x="152.8" y="115.5"/><use href="#o1" x="144.1" y="110.7"/><use href="#o1" x="111.1" y="125.6"/><use href="#o1" x="122.4" y="119.7"/><use href="#o1" x="128.4" y="108.8"/><use href="#o1" x="113.8" y="118.6"/><use href="#o1" x="114.0" y="122.1"/></g><path d="M184.4 130V143M166.7 98V113M194.3 89V106M206.7 95V109M175.0 138V146M167.2 118V146M194.9 111V137M166.3 117V141M166.1 127V160M166.9 94V105M176.0 106V124M195.5 149V162M206.8 107V124M184.7 97V120M185.4 102V122M166.8 96V116M194.6 121V133M185.6 106V142M195.5 130V150M166.0 142V157M174.9 128V143M166.4 104V115M167.2 124V136M195.0 112V134M175.5 130V146M175.2 91V115M175.3 124V149M195.5 109V126M185.8 130V142M167.1 117V131M195.0 98V125M185.1 102V116M166.1 119V142M207.3 99V119M175.3 127V139M195.3 100V114M167.3 99V112M175.9 105V125M175.1 106V124" stroke="#e61996" stroke-opacity="0.30" stroke-width="1" fill="none"/><g fill="#e61996" fill-opacity="0.55" stroke="#e61996" stroke-opacity="0.80" stroke-width="0.50"><use href="#r1" x="184.4" y="136.3"/><use href="#r1" x="166.7" y="105.4"/><use href="#r1" x="194.3" y="97.5"/><use href="#r1" x="206.7" y="102.2"/><use href="#r1" x="175.0" y="141.8"/><use href="#r1" x="167.2" y="132.0"/><use href="#r1" x="194.9" y="123.6"/><use href="#r1" x="166.3" y="128.8"/><use href="#r1" x="166.1" y="143.6"/><use href="#r1" x="166.9" y="99.8"/><use href="#r1" x="207.2" y="131.9"/><use href="#r1" x="176.0" y="114.8"/><use href="#r1" x="195.5" y="155.2"/><use href="#r1" x="206.8" y="115.6"/><use href="#r1" x="184.7" y="108.8"/><use href="#r1" x="185.4" y="112.0"/><use href="#r1" x="166.8" y="105.7"/><use href="#r1" x="194.6" y="126.9"/><use href="#r1" x="185.6" y="123.7"/><use href="#r1" x="195.5" y="140.3"/><use href="#r1" x="166.0" y="149.2"/><use href="#r1" x="174.9" y="135.4"/><use href="#r1" x="166.4" y="109.6"/><use href="#r1" x="167.2" y="130.2"/><use href="#r1" x="195.0" y="123.0"/><use href="#r1" x="175.5" y="138.4"/><use href="#r1" x="175.2" y="103.2"/><use href="#r1" x="175.3" y="136.2"/><use href="#r1" x="195.5" y="117.7"/><use href="#r1" x="185.8" y="136.2"/><use href="#r1" x="167.1" y="123.8"/><use href="#r1" x="195.0" y="111.5"/><use href="#r1" x="185.1" y="108.9"/><use href="#r1" x="166.1" y="130.8"/><use href="#r1" x="207.3" y="108.8"/><use href="#r1" x="175.3" y="133.3"/><use href="#r1" x="195.3" y="107.3"/><use href="#r1" x="167.3" y="105.6"/><use href="#r1" x="175.9" y="115.4"/><use href="#r1" x="175.1" y="115.3"/></g><path d="M188.6 142V153M211.7 142V161M195.5 134V158M203.1 148V157M212.1 132V149M165.8 149V162M181.8 130V140M213.7 135V151M185.4 139V156M198.9 142V159M205.6 142V152M220.9 142V153" stroke="#19e696" stroke-opacity="0.30" stroke-width="1" fill="none"/><g fill="#19e696" fill-opacity="0.60" stroke="#19e696" stroke-opacity="0.85" stroke-width="0.50"><use href="#s1" x="188.6" y="147.2"/><use href="#s1" x="211.7" y="151.4"/><use href="#s1" x="226.3" y="147.3"/><use href="#s1" x="195.5" y="146.1"/><use href="#s1" x="203.1" y="152.3"/><use href="#s1" x="212.1" y="140.4"/><use href="#s1" x="165.8" y="155.7"/><use href="#s1" x="181.8" y="135.2"/><use href="#s1" x="211.9" y="152.4"/><use href="#s1" x="213.7" y="142.6"/><use href="#s1" x="185.4" y="147.4"/><use href="#s1" x="198.9" y="150.5"/><use href="#s1" x="205.6" y="147.1"/><use href="#s1" x="220.9" y="147.3"/></g><path d="M209.5 139V150M194.2 134V152M209.1 128V143M209.6 136V145M193.7 129V145M193.8 130V146M194.7 136V145" stroke="#1e96e6" stroke-opacity="0.30" stroke-width="1" fill="none"/><g fill="#1e96e6" fill-opacity="0.60" stroke="#1e96e6" stroke-opacity="0.85" stroke-width="0.50"><use href="#o1" x="209.5" y="144.7"/><use href="#o1" x="194.2" y="142.8"/><use href="#o1" x="209.1" y="135.6"/><use href="#o1" x="209.8" y="144.1"/><use href="#o1" x="209.6" y="140.9"/><use href="#o1" x="193.7" y="136.7"/><use href="#o1" x="193.8" y="138.0"/><use href="#o1" x="194.7" y="140.3"/></g><path d="M182.6 124V149M193.3 122V129M194.6 126V139M193.3 137V146M173.7 111V119M194.3 129V138M205.6 105V121" stroke="#e69619" stroke-opacity="0.30" stroke-width="1" fill="none"/><g fill="#e69619" fill-opacity="0.60" stroke="#e69619" stroke-opacity="0.85" stroke-width="0.50"><use href="#l1" x="182.6" y="136.8"/><use href="#l1" x="193.3" y="125.6"/><use href="#l1" x="194.6" y="132.9"/><use href="#l1" x="193.3" y="141.9"/><use href="#l1" x="206.7" y="122.9"/><use href="#l1" x="173.7" y="114.9"/><use href="#l1" x="194.3" y="133.4"/><use href="#l1" x="205.6" y="113.1"/></g><path d="M177.6 113V135M206.6 102V111M175.4 102V113M208.8 112V127M161.3 117V130M201.0 108V123M207.5 101V125M211.7 97V110M209.8 110V125M207.5 101V120M181.2 94V118M165.9 108V124M188.7 115V140M202.9 90V111M171.6 114V131M181.2 99V115M168.5 99V120M175.9 103V122M191.0 100V116M163.2 110V126M203.6 103V122M160.3 114V125M189.8 103V118M184.4 101V118M197.6 110V131M207.9 109V119M171.1 102V120M164.2 121V128M176.5 110V129M169.0 102V112M190.0 109V129M182.1 112V129M181.9 113V129M210.1 105V123M186.8 104V125M169.2 109V135M183.5 115V143M172.6 111V128M180.7 99V123M168.2 115V133M199.8 116V131M162.5 95V121M196.9 122V130M185.8 100V123M184.1 108V129M169.9 100V117M173.3 107V133M203.8 108V127M197.8 100V112M192.6 113V132M180.3 104V123M198.8 113V135M184.5 117V139M162.5 119V142M183.1 104V120M166.3 105V129M174.9 113V131M165.0 105V119M159.1 106V115M186.3 97V122M185.4 97V121M167.4 102V126M177.6 97V122M183.0 99V122M164.5 113V123M181.9 107V114M174.2 105V122M182.5 104V128M212.0 102V122M169.5 111V136M168.1 107V127M174.8 113V129M167.9 112V131M180.9 98V121M192.2 106V127M160.3 108V124M196.8 117V136M186.1 118V125M183.1 106V122M205.0 103V110M210.0 107V129M181.4 107V116M212.6 104V121M176.4 105V124M178.8 100V119M191.7 95V116M194.7 97V111M213.4 112V124M199.0 110V127M183.2 105V118M205.4 94V119M198.3 122V131M204.6 110V129M193.5 118V133M182.5 115V131M203.2 116V134M197.2 108V122M199.2 109V126M180.6 104V122M207.4 105V128M160.7 110V131M204.3 112V130M190.2 121V131M192.7 113V119M166.0 102V129M203.4 102V119M183.1 107V132M171.0 109V130M210.5 110V119M210.5 119V135M202.4 118V128M177.7 102V113M198.1 102V113M186.2 110V132M175.5 100V121M195.4 101V114M179.1 108V127M212.1 99V115M165.8 113V134M206.4 104V124M180.8 110V130M185.9 118V138M210.4 110V136M213.0 105V118M203.4 99V114M180.0 102V116M198.5 100V120M188.6 114V123M193.1 110V118M214.3 109V127M210.7 91V116M159.2 116V127M168.3 112V124M201.1 102V116M200.4 103V121M163.7 101V116M207.2 111V125M165.6 117V138M216.2 104V128M171.6 98V117M189.0 98V117M216.9 101V118M181.8 122V129M177.4 107V114M215.1 114V123M159.6 91V122M200.9 106V116M191.0 110V121M203.1 110V127M177.3 97V103M163.7 113V123M173.4 104V119M176.4 115V131M186.4 116V122M205.2 109V123M193.7 110V125M185.1 118V124M181.2 125V134M185.3 106V124M166.8 103V118M170.5 111V124M176.8 110V124M163.5 114V131M184.0 120V132M191.8 104V117M189.4 107V124M212.2 108V125M184.5 103V117M175.9 106V134M198.6 109V131M180.4 103V127M174.5 116V130M192.1 113V136M173.8 110V121M199.4 98V119M171.0 107V129M202.4 109V122M179.3 100V120M198.7 115V122M215.3 120V131M215.0 104V135M205.2 94V118M209.7 94V110M201.2 105V122M173.2 104V120M212.8 105V116M215.9 111V126M183.5 116V129M175.0 115V128M164.5 105V115M192.0 116V125M180.0 105V122M197.5 112V132M173.8 118V127M166.5 105V121M165.0 111V118M212.0 99V109M217.5 113V126M177.9 115V125M178.2 106V118M216.6 97V126M214.1 106V124M189.7 120V132M160.5 103V120M173.7 123V133M167.2 106V127M202.4 108V120M159.2 108V119M187.1 117V127M197.9 109V122M211.4 97V108M210.3 113V126M190.6 117V128M196.9 106V123M204.4 106V129M176.1 109V127M189.8 116V126M167.8 119V131M174.8 102V126M172.8 114V127M199.9 108V122M164.3 107V123M208.1 111V129M171.8 110V132M175.8 107V123M173.7 113V120M165.9 116V133M199.5 103V117M175.5 101V115M191.9 113V131M211.5 100V129M210.3 99V125M207.1 110V139M180.3 111V121M164.6 112V129M169.2 110V131M165.8 98V122M181.7 106V124M164.6 116V135M169.1 104V117M162.4 102V122M210.0 103V125M213.2 107V122M170.5 111V129M190.5 114V122M203.4 108V123M212.9 114V132M174.7 109V133M159.4 100V112M215.9 108V127M204.5 117V134M208.5 118V141M207.5 106V121M194.5 100V122M210.3 104V125M190.8 102V123M161.1 117V129M211.1 113V131M194.8 113V130M213.6 116V125M193.5 116V141M202.7 99V110M159.7 104V116M165.5 111V122M194.2 110V132M184.1 108V122M209.1 98V120M198.2 117V125M183.6 122V129M171.1 108V126M164.7 111V119M176.5 110V128M203.2 102V125M205.4 94V111M211.7 108V127M195.4 110V135M163.9 106V124M185.3 101V124M190.7 107V121M209.2 113V129M165.2 95V124M215.4 111V132M192.6 115V135M192.2 107V125M159.8 93V121M213.3 121V136M210.2 107V120M162.5 107V125M199.4 102V120M168.1 119V138M173.3 108V120M208.8 106V122M168.8 105V124M190.0 119V130M163.9 107V120M167.4 112V128M178.3 96V114M193.9 103V125M201.2 104V117M186.5 114V122M187.2 104V125M178.6 106V125M178.1 107V122M186.2 102V128M208.4 102V110M215.9 110V125M175.3 120V131M208.9 102V115M213.6 114V136M216.0 110V118M175.8 101V125M180.9 108V117M179.4 118V124M215.3 96V108M192.8 111V133M180.4 115V131M197.8 117V130M168.8 104V125M191.5 111V135M189.3 108V119M179.3 126V137M205.4 93V116M171.9 110V124M168.3 113V123M171.6 117V129M196.6 96V107M188.1 110V121M164.1 105V115M197.6 112V124M178.0 106V128M200.1 102V126M168.8 95V114M166.8 105V119M192.7 101V114M191.2 103V115M184.8 103V120M163.8 105V125M214.5 114V133M167.9 111V131M210.5 108V119M170.3 105V126" stroke="#19e619" stroke-opacity="0.30" stroke-width="1" fill="none"/><g fill="#19e619" fill-opacity="0.60" stroke="#19e619" stroke-opacity="0.85" stroke-width="0.50"><use href="#d1" x="205.4" y="107.7"/><use href="#d1" x="177.6" y="124.1"/><use href="#d1" x="196.3" y="118.5"/><use href="#d1" x="189.6" y="120.1"/><use href="#d1" x="206.6" y="106.5"/><use href="#d1" x="175.4" y="107.8"/><use href="#d1" x="208.8" y="119.4"/><use href="#d1" x="161.3" y="123.2"/><use href="#d1" x="201.0" y="115.8"/><use href="#d1" x="207.5" y="112.7"/><use href="#d1" x="211.7" y="103.8"/><use href="#d1" x="209.8" y="117.2"/><use href="#d1" x="207.5" y="110.6"/><use href="#d1" x="181.2" y="106.1"/><use href="#d1" x="165.9" y="116.2"/><use href="#d1" x="188.7" y="127.3"/><use href="#d1" x="202.9" y="100.5"/><use href="#d1" x="171.6" y="122.5"/><use href="#d1" x="181.2" y="106.7"/><use href="#d1" x="168.5" y="109.7"/><use href="#d1" x="175.9" y="112.8"/><use href="#d1" x="191.0" y="108.0"/><use href="#d1" x="163.2" y="117.8"/><use href="#d1" x="203.6" y="112.6"/><use href="#d1" x="160.3" y="119.4"/><use href="#d1" x="189.8" y="110.7"/><use href="#d1" x="184.4" y="109.2"/><use href="#d1" x="197.6" y="120.4"/><use href="#d1" x="207.9" y="113.7"/><use href="#d1" x="171.1" y="110.9"/><use href="#d1" x="164.2" y="124.5"/><use href="#d1" x="176.5" y="119.5"/><use href="#d1" x="169.0" y="106.9"/><use href="#d1" x="190.0" y="119.3"/><use href="#d1" x="182.1" y="120.7"/><use href="#d1" x="181.9" y="120.9"/><use href="#d1" x="210.1" y="113.9"/><use href="#d1" x="186.8" y="114.5"/><use href="#d1" x="189.6" y="124.3"/><use href="#d1" x="169.2" y="122.2"/><use href="#d1" x="183.5" y="128.9"/><use href="#d1" x="172.6" y="119.8"/><use href="#d1" x="180.7" y="111.1"/><use href="#d1" x="168.2" y="124.1"/><use href="#d1" x="199.8" y="123.6"/><use href="#d1" x="162.5" y="107.9"/><use href="#d1" x="196.9" y="126.1"/><use href="#d1" x="185.8" y="111.3"/><use href="#d1" x="184.1" y="118.5"/><use href="#d1" x="169.9" y="108.2"/><use href="#d1" x="173.3" y="119.7"/><use href="#d1" x="203.8" y="117.4"/><use href="#d1" x="197.8" y="105.9"/><use href="#d1" x="192.6" y="122.7"/><use href="#d1" x="180.3" y="113.7"/><use href="#d1" x="198.8" y="123.7"/><use href="#d1" x="184.5" y="128.1"/><use href="#d1" x="162.5" y="130.3"/><use href="#d1" x="183.1" y="111.9"/><use href="#d1" x="166.3" y="117.0"/><use href="#d1" x="174.9" y="121.8"/><use href="#d1" x="165.0" y="112.3"/><use href="#d1" x="159.1" y="110.2"/><use href="#d1" x="186.3" y="109.6"/><use href="#d1" x="185.4" y="108.8"/><use href="#d1" x="167.4" y="113.6"/><use href="#d1" x="177.6" y="109.5"/><use href="#d1" x="183.0" y="110.4"/><use href="#d1" x="164.5" y="118.1"/><use href="#d1" x="181.9" y="110.4"/><use href="#d1" x="174.2" y="113.5"/><use href="#d1" x="182.5" y="115.7"/><use href="#d1" x="212.0" y="111.9"/><use href="#d1" x="169.5" y="123.6"/><use href="#d1" x="168.1" y="117.4"/><use href="#d1" x="174.8" y="121.4"/><use href="#d1" x="167.9" y="121.7"/><use href="#d1" x="180.9" y="109.5"/><use href="#d1" x="192.2" y="116.5"/><use href="#d1" x="160.3" y="116.2"/><use href="#d1" x="196.8" y="126.5"/><use href="#d1" x="186.1" y="121.3"/><use href="#d1" x="173.6" y="121.8"/><use href="#d1" x="183.1" y="114.1"/><use href="#d1" x="205.0" y="106.3"/><use href="#d1" x="210.0" y="118.0"/><use href="#d1" x="181.4" y="111.1"/><use href="#d1" x="212.6" y="112.5"/><use href="#d1" x="176.4" y="114.7"/><use href="#d1" x="178.8" y="109.6"/><use href="#d1" x="191.7" y="105.5"/><use href="#d1" x="194.7" y="104.3"/><use href="#d1" x="213.4" y="118.5"/><use href="#d1" x="199.0" y="118.7"/><use href="#d1" x="183.2" y="111.4"/><use href="#d1" x="205.4" y="106.5"/><use href="#d1" x="198.3" y="126.3"/><use href="#d1" x="204.6" y="119.1"/><use href="#d1" x="193.5" y="125.8"/><use href="#d1" x="182.5" y="122.8"/><use href="#d1" x="199.1" y="109.6"/><use href="#d1" x="203.2" y="125.3"/><use href="#d1" x="197.2" y="115.0"/><use href="#d1" x="199.2" y="117.4"/><use href="#d1" x="180.6" y="113.3"/><use href="#d1" x="207.4" y="116.6"/><use href="#d1" x="160.7" y="120.8"/><use href="#d1" x="204.3" y="108.7"/><use href="#d1" x="204.3" y="120.6"/><use href="#d1" x="190.2" y="125.8"/><use href="#d1" x="192.7" y="115.9"/><use href="#d1" x="166.0" y="115.6"/><use href="#d1" x="203.4" y="110.6"/><use href="#d1" x="183.1" y="119.5"/><use href="#d1" x="201.7" y="117.6"/><use href="#d1" x="171.0" y="119.4"/><use href="#d1" x="210.5" y="114.3"/><use href="#d1" x="172.5" y="104.7"/><use href="#d1" x="210.5" y="126.9"/><use href="#d1" x="202.4" y="122.8"/><use href="#d1" x="177.7" y="107.6"/><use href="#d1" x="198.1" y="107.4"/><use href="#d1" x="186.2" y="121.2"/><use href="#d1" x="175.5" y="110.9"/><use href="#d1" x="195.4" y="107.5"/><use href="#d1" x="179.1" y="117.4"/><use href="#d1" x="212.1" y="106.9"/><use href="#d1" x="165.8" y="123.6"/><use href="#d1" x="206.4" y="114.1"/><use href="#d1" x="180.8" y="119.6"/><use href="#d1" x="185.9" y="128.0"/><use href="#d1" x="210.4" y="122.8"/><use href="#d1" x="213.0" y="111.2"/><use href="#d1" x="203.4" y="106.4"/><use href="#d1" x="180.0" y="108.8"/><use href="#d1" x="198.5" y="109.7"/><use href="#d1" x="188.6" y="118.7"/><use href="#d1" x="193.1" y="114.1"/><use href="#d1" x="214.3" y="118.3"/><use href="#d1" x="210.7" y="103.6"/><use href="#d1" x="159.2" y="121.6"/><use href="#d1" x="168.3" y="117.9"/><use href="#d1" x="201.1" y="109.0"/><use href="#d1" x="195.5" y="117.4"/><use href="#d1" x="200.4" y="112.1"/><use href="#d1" x="163.7" y="108.1"/><use href="#d1" x="175.3" y="122.7"/><use href="#d1" x="207.2" y="117.9"/><use href="#d1" x="165.6" y="127.5"/><use href="#d1" x="211.0" y="126.5"/><use href="#d1" x="216.2" y="115.7"/><use href="#d1" x="171.6" y="107.7"/><use href="#d1" x="161.3" y="115.7"/><use href="#d1" x="189.0" y="107.6"/><use href="#d1" x="216.9" y="109.5"/><use href="#d1" x="181.8" y="125.5"/><use href="#d1" x="177.4" y="110.6"/><use href="#d1" x="215.1" y="118.6"/><use href="#d1" x="159.6" y="106.5"/><use href="#d1" x="200.9" y="111.1"/><use href="#d1" x="191.0" y="115.5"/><use href="#d1" x="203.1" y="118.4"/><use href="#d1" x="177.3" y="100.0"/><use href="#d1" x="163.7" y="118.2"/><use href="#d1" x="173.4" y="111.2"/><use href="#d1" x="176.4" y="123.1"/><use href="#d1" x="186.4" y="119.0"/><use href="#d1" x="205.2" y="116.3"/><use href="#d1" x="193.7" y="117.6"/><use href="#d1" x="185.1" y="120.9"/><use href="#d1" x="181.2" y="129.7"/><use href="#d1" x="185.3" y="114.8"/><use href="#d1" x="197.3" y="114.4"/><use href="#d1" x="166.8" y="110.2"/><use href="#d1" x="170.5" y="117.8"/><use href="#d1" x="176.8" y="116.9"/><use href="#d1" x="163.5" y="122.3"/><use href="#d1" x="184.0" y="125.7"/><use href="#d1" x="191.8" y="110.0"/><use href="#d1" x="189.4" y="115.7"/><use href="#d1" x="212.2" y="116.5"/><use href="#d1" x="184.5" y="109.8"/><use href="#d1" x="175.9" y="120.2"/><use href="#d1" x="198.6" y="119.7"/><use href="#d1" x="180.4" y="115.0"/><use href="#d1" x="174.5" y="123.5"/><use href="#d1" x="192.1" y="124.6"/><use href="#d1" x="173.8" y="115.7"/><use href="#d1" x="199.4" y="108.4"/><use href="#d1" x="171.0" y="117.7"/><use href="#d1" x="202.4" y="115.5"/><use href="#d1" x="179.3" y="110.3"/><use href="#d1" x="198.7" y="118.7"/><use href="#d1" x="215.3" y="125.7"/><use href="#d1" x="181.6" y="111.5"/><use href="#d1" x="215.0" y="119.3"/><use href="#d1" x="205.2" y="106.0"/><use href="#d1" x="209.7" y="102.0"/><use href="#d1" x="201.2" y="113.4"/><use href="#d1" x="173.2" y="112.1"/><use href="#d1" x="212.8" y="110.1"/><use href="#d1" x="215.9" y="118.6"/><use href="#d1" x="183.5" y="122.5"/><use href="#d1" x="180.5" y="120.9"/><use href="#d1" x="175.0" y="121.3"/><use href="#d1" x="164.5" y="110.1"/><use href="#d1" x="192.0" y="120.4"/><use href="#d1" x="180.0" y="113.4"/><use href="#d1" x="197.5" y="122.2"/><use href="#d1" x="173.8" y="122.4"/><use href="#d1" x="166.5" y="112.7"/><use href="#d1" x="165.0" y="114.3"/><use href="#d1" x="212.0" y="104.3"/><use href="#d1" x="217.5" y="119.3"/><use href="#d1" x="177.9" y="119.7"/><use href="#d1" x="178.2" y="112.3"/><use href="#d1" x="216.6" y="111.4"/><use href="#d1" x="214.1" y="115.1"/><use href="#d1" x="189.7" y="125.9"/><use href="#d1" x="160.5" y="111.5"/><use href="#d1" x="173.7" y="127.9"/><use href="#d1" x="167.2" y="116.9"/><use href="#d1" x="202.4" y="113.7"/><use href="#d1" x="159.2" y="113.4"/><use href="#d1" x="187.1" y="122.2"/><use href="#d1" x="197.9" y="116.0"/><use href="#d1" x="211.4" y="102.2"/><use href="#d1" x="210.3" y="119.4"/><use href="#d1" x="190.6" y="122.4"/><use href="#d1" x="196.9" y="114.8"/><use href="#d1" x="204.4" y="117.7"/><use href="#d1" x="176.1" y="118.3"/><use href="#d1" x="189.8" y="120.7"/><use href="#d1" x="167.8" y="125.2"/><use href="#d1" x="174.8" y="113.8"/><use href="#d1" x="172.8" y="120.3"/><use href="#d1" x="199.9" y="114.8"/><use href="#d1" x="164.3" y="115.0"/><use href="#d1" x="208.1" y="119.9"/><use href="#d1" x="171.8" y="121.2"/><use href="#d1" x="175.8" y="115.1"/><use href="#d1" x="173.7" y="116.9"/><use href="#d1" x="165.9" y="124.8"/><use href="#d1" x="199.5" y="109.9"/><use href="#d1" x="175.5" y="107.8"/><use href="#d1" x="191.9" y="121.7"/><use href="#d1" x="211.5" y="114.5"/><use href="#d1" x="210.3" y="111.9"/><use href="#d1" x="207.1" y="124.4"/><use href="#d1" x="180.3" y="115.8"/><use href="#d1" x="164.6" y="120.5"/><use href="#d1" x="169.2" y="120.2"/><use href="#d1" x="165.8" y="110.0"/><use href="#d1" x="181.7" y="115.0"/><use href="#d1" x="164.6" y="125.4"/><use href="#d1" x="204.1" y="116.5"/><use href="#d1" x="169.1" y="110.8"/><use href="#d1" x="162.4" y="112.0"/><use href="#d1" x="210.0" y="114.3"/><use href="#d1" x="213.2" y="114.6"/><use href="#d1" x="170.5" y="119.9"/><use href="#d1" x="190.5" y="118.1"/><use href="#d1" x="203.4" y="115.9"/><use href="#d1" x="212.9" y="123.2"/><use href="#d1" x="174.7" y="120.9"/><use href="#d1" x="159.4" y="106.2"/><use href="#d1" x="215.9" y="117.2"/><use href="#d1" x="204.5" y="125.6"/><use href="#d1" x="208.5" y="129.6"/><use href="#d1" x="207.5" y="113.9"/><use href="#d1" x="194.5" y="111.3"/><use href="#d1" x="210.3" y="114.6"/><use href="#d1" x="190.8" y="112.9"/><use href="#d1" x="161.1" y="122.9"/><use href="#d1" x="211.1" y="121.8"/><use href="#d1" x="194.8" y="121.3"/><use href="#d1" x="213.6" y="120.4"/><use href="#d1" x="193.5" y="128.9"/><use href="#d1" x="202.7" y="104.2"/><use href="#d1" x="159.7" y="109.8"/><use href="#d1" x="165.5" y="116.7"/><use href="#d1" x="194.2" y="121.0"/><use href="#d1" x="184.1" y="114.9"/><use href="#d1" x="209.1" y="109.3"/><use href="#d1" x="198.2" y="120.7"/><use href="#d1" x="183.6" y="125.4"/><use href="#d1" x="171.1" y="117.2"/><use href="#d1" x="164.7" y="115.5"/><use href="#d1" x="176.5" y="119.0"/><use href="#d1" x="203.2" y="113.7"/><use href="#d1" x="205.4" y="102.1"/><use href="#d1" x="211.7" y="117.9"/><use href="#d1" x="195.4" y="122.4"/><use href="#d1" x="163.9" y="115.3"/><use href="#d1" x="185.3" y="112.4"/><use href="#d1" x="190.7" y="113.9"/><use href="#d1" x="209.2" y="120.9"/><use href="#d1" x="165.2" y="109.2"/><use href="#d1" x="215.4" y="121.4"/><use href="#d1" x="192.6" y="125.0"/><use href="#d1" x="192.2" y="116.2"/><use href="#d1" x="159.8" y="107.0"/><use href="#d1" x="213.3" y="128.4"/><use href="#d1" x="210.2" y="113.5"/><use href="#d1" x="162.5" y="116.2"/><use href="#d1" x="211.3" y="112.8"/><use href="#d1" x="199.4" y="111.3"/><use href="#d1" x="168.1" y="128.5"/><use href="#d1" x="173.3" y="113.9"/><use href="#d1" x="208.8" y="113.7"/><use href="#d1" x="168.8" y="114.7"/><use href="#d1" x="190.0" y="124.7"/><use href="#d1" x="163.9" y="113.6"/><use href="#d1" x="167.4" y="119.9"/><use href="#d1" x="178.3" y="104.6"/><use href="#d1" x="193.9" y="114.2"/><use href="#d1" x="201.2" y="110.4"/><use href="#d1" x="186.5" y="117.7"/><use href="#d1" x="187.2" y="114.5"/><use href="#d1" x="178.6" y="115.8"/><use href="#d1" x="178.1" y="114.5"/><use href="#d1" x="186.2" y="115.1"/><use href="#d1" x="208.4" y="105.9"/><use href="#d1" x="215.9" y="117.2"/><use href="#d1" x="175.3" y="125.3"/><use href="#d1" x="208.9" y="108.5"/><use href="#d1" x="213.6" y="125.3"/><use href="#d1" x="216.0" y="114.1"/><use href="#d1" x="175.8" y="112.7"/><use href="#d1" x="180.9" y="112.8"/><use href="#d1" x="179.4" y="121.0"/><use href="#d1" x="215.3" y="102.4"/><use href="#d1" x="192.8" y="122.2"/><use href="#d1" x="180.4" y="122.9"/><use href="#d1" x="197.8" y="123.3"/><use href="#d1" x="168.8" y="114.3"/><use href="#d1" x="191.5" y="123.2"/><use href="#d1" x="189.3" y="113.6"/><use href="#d1" x="179.3" y="131.1"/><use href="#d1" x="205.4" y="104.2"/><use href="#d1" x="171.9" y="117.0"/><use href="#d1" x="168.3" y="117.9"/><use href="#d1" x="171.6" y="123.0"/><use href="#d1" x="196.6" y="101.6"/><use href="#d1" x="211.7" y="113.0"/><use href="#d1" x="188.1" y="115.7"/><use href="#d1" x="164.1" y="110.1"/><use href="#d1" x="197.6" y="118.1"/><use href="#d1" x="178.0" y="117.2"/><use href="#d1" x="200.1" y="113.6"/><use href="#d1" x="168.8" y="104.8"/><use href="#d1" x="166.8" y="112.2"/><use href="#d1" x="192.7" y="107.7"/><use href="#d1" x="191.2" y="108.7"/><use href="#d1" x="184.8" y="111.3"/><use href="#d1" x="163.8" y="114.6"/><use href="#d1" x="214.5" y="123.2"/><use href="#d1" x="167.9" y="120.8"/><use href="#d1" x="210.5" y="113.3"/><use href="#d1" x="170.3" y="115.4"/></g><path d="M216.7 104V123M216.6 129V153M216.9 94V112M216.2 126V146M216.2 124V154M216.9 107V125M216.5 97V114M216.5 88V121M216.7 137V162M216.6 87V139M216.9 125V161M216.7 119V146M216.3 111V135M216.2 112V131M216.4 120V134M216.2 130V156M216.5 127V147M216.7 137V151M216.4 132V156M216.8 111V127M216.3 97V116M216.8 138V174M216.8 117V138M216.2 120V137M216.2 109V117M216.7 151V164M216.8 113V128M216.8 121V141M216.5 119V134M216.3 111V137M216.8 137V156M216.1 143V158M216.5 101V134M216.7 105V132M216.9 112V123M216.8 141V164M216.6 104V133M216.4 121V139" stroke="#e61996" stroke-opacity="0.30" stroke-width="1" fill="none"/><g fill="#e61996" fill-opacity="0.60" stroke="#e61996" stroke-opacity="0.85" stroke-width="0.50"><use href="#r3" x="216.7" y="113.8"/><use href="#r3" x="216.6" y="141.3"/><use href="#r3" x="216.9" y="103.0"/><use href="#r3" x="216.2" y="136.0"/><use href="#r3" x="216.2" y="138.7"/><use href="#r3" x="216.9" y="116.0"/><use href="#r3" x="216.5" y="105.3"/><use href="#r3" x="216.5" y="104.4"/><use href="#r3" x="216.7" y="149.8"/><use href="#r3" x="216.6" y="112.8"/><use href="#r3" x="216.9" y="142.9"/><use href="#r3" x="216.7" y="132.3"/><use href="#r3" x="216.3" y="123.4"/><use href="#r3" x="216.2" y="121.8"/><use href="#r3" x="216.4" y="127.2"/><use href="#r3" x="216.2" y="142.9"/><use href="#r3" x="216.5" y="136.7"/><use href="#r3" x="216.7" y="144.1"/><use href="#r3" x="216.4" y="143.8"/><use href="#r3" x="216.7" y="126.0"/><use href="#r3" x="216.8" y="118.9"/><use href="#r3" x="216.3" y="106.3"/><use href="#r3" x="216.8" y="156.1"/><use href="#r3" x="216.8" y="127.0"/><use href="#r3" x="216.2" y="128.5"/><use href="#r3" x="216.2" y="113.0"/><use href="#r3" x="216.7" y="157.2"/><use href="#r3" x="216.8" y="120.6"/><use href="#r3" x="216.8" y="130.7"/><use href="#r3" x="216.5" y="126.3"/><use href="#r3" x="216.3" y="124.1"/><use href="#r3" x="216.8" y="146.9"/><use href="#r3" x="216.1" y="150.3"/><use href="#r3" x="216.3" y="123.1"/><use href="#r3" x="216.5" y="117.6"/><use href="#r3" x="216.7" y="118.2"/><use href="#r3" x="216.9" y="117.9"/><use href="#r3" x="216.8" y="152.9"/><use href="#r3" x="216.6" y="118.3"/><use href="#r3" x="216.4" y="130.0"/></g><path d="M266.6 128V138M251.0 99V118M254.0 141V156M257.1 100V127M238.2 145V162M279.2 97V112M270.8 131V150M233.5 116V129M281.6 111V127M279.7 131V148M265.1 125V145M274.7 107V128M253.9 120V134M245.4 121V137M278.6 113V135M263.4 118V137M237.9 108V129M224.9 91V115M250.5 119V141M235.2 143V160M230.8 113V133M233.0 115V133M235.0 130V144M267.0 114V139M237.3 103V120M259.1 115V142M249.8 132V160M253.8 102V135M237.0 136V155M240.8 117V136M269.1 130V154M259.9 113V120M226.8 136V151M268.6 114V129M279.0 127V146M227.7 127V162M245.8 118V132M225.9 121V136M223.2 135V152M234.9 100V112M271.7 146V157M240.5 112V127M259.1 125V151M248.3 106V129M277.6 141V154M257.7 128V137M247.7 126V136M228.5 109V117M277.7 125V136M236.4 134V141M221.8 129V149M234.2 131V151M232.1 110V122M277.8 121V140M239.0 126V141M242.8 130V152M229.7 109V129M238.0 139V155M221.8 127V139M223.8 126V139M273.9 119V135M226.0 109V127M236.9 120V148M231.2 143V162M248.5 137V155M221.5 127V143M229.5 121V138M255.8 146V161M236.6 113V128M231.8 99V122M255.8 135V147M273.9 101V114M267.5 135V151M252.1 109V125M229.9 117V134M229.0 121V137M258.0 117V136M248.2 107V128M281.4 125V137M263.1 113V130M226.8 112V140M249.4 102V111M256.9 103V128M246.7 118V132M269.7 123V140M223.4 119V132M247.2 111V122M246.7 99V109M241.5 100V119M237.6 133V143M248.9 139V155M224.0 130V143M228.0 120V130M279.4 131V150M239.3 130V143" stroke="#19e619" stroke-opacity="0.30" stroke-width="1" fill="none"/><g fill="#19e619" fill-opacity="0.60" stroke="#19e619" stroke-opacity="0.85" stroke-width="0.50"><use href="#d1" x="266.6" y="132.8"/><use href="#d1" x="251.0" y="108.3"/><use href="#d1" x="254.0" y="148.7"/><use href="#d1" x="257.1" y="113.7"/><use href="#d1" x="238.2" y="153.3"/><use href="#d1" x="279.2" y="104.4"/><use href="#d1" x="270.8" y="140.4"/><use href="#d1" x="233.5" y="122.5"/><use href="#d1" x="281.6" y="119.0"/><use href="#d1" x="279.7" y="139.8"/><use href="#d1" x="265.1" y="135.2"/><use href="#d1" x="249.4" y="133.3"/><use href="#d1" x="274.7" y="117.3"/><use href="#d1" x="253.9" y="126.7"/><use href="#d1" x="245.4" y="128.9"/><use href="#d1" x="278.6" y="123.8"/><use href="#d1" x="263.4" y="127.4"/><use href="#d1" x="237.9" y="118.5"/><use href="#d1" x="257.2" y="143.0"/><use href="#d1" x="224.9" y="103.1"/><use href="#d1" x="250.5" y="130.2"/><use href="#d1" x="235.2" y="151.7"/><use href="#d1" x="230.8" y="123.1"/><use href="#d1" x="233.0" y="124.0"/><use href="#d1" x="235.0" y="137.3"/><use href="#d1" x="267.0" y="126.6"/><use href="#d1" x="237.3" y="111.2"/><use href="#d1" x="259.1" y="128.4"/><use href="#d1" x="249.8" y="146.0"/><use href="#d1" x="253.8" y="118.5"/><use href="#d1" x="237.0" y="145.4"/><use href="#d1" x="240.8" y="126.8"/><use href="#d1" x="269.1" y="142.2"/><use href="#d1" x="259.9" y="116.6"/><use href="#d1" x="226.8" y="143.5"/><use href="#d1" x="268.6" y="121.4"/><use href="#d1" x="279.0" y="136.4"/><use href="#d1" x="227.7" y="144.1"/><use href="#d1" x="245.8" y="125.1"/><use href="#d1" x="225.9" y="128.1"/><use href="#d1" x="223.2" y="143.8"/><use href="#d1" x="234.9" y="105.8"/><use href="#d1" x="271.7" y="151.8"/><use href="#d1" x="240.5" y="119.8"/><use href="#d1" x="259.1" y="137.6"/><use href="#d1" x="248.3" y="117.5"/><use href="#d1" x="277.6" y="147.6"/><use href="#d1" x="257.7" y="132.4"/><use href="#d1" x="247.7" y="130.5"/><use href="#d1" x="228.5" y="113.2"/><use href="#d1" x="277.7" y="130.5"/><use href="#d1" x="236.4" y="137.7"/><use href="#d1" x="221.8" y="138.7"/><use href="#d1" x="234.2" y="141.3"/><use href="#d1" x="232.1" y="116.0"/><use href="#d1" x="277.8" y="130.3"/><use href="#d1" x="279.0" y="120.6"/><use href="#d1" x="239.0" y="133.5"/><use href="#d1" x="242.8" y="140.8"/><use href="#d1" x="229.7" y="119.2"/><use href="#d1" x="238.0" y="146.7"/><use href="#d1" x="221.8" y="132.5"/><use href="#d1" x="223.8" y="132.7"/><use href="#d1" x="273.9" y="127.3"/><use href="#d1" x="254.1" y="134.4"/><use href="#d1" x="226.0" y="117.9"/><use href="#d1" x="236.9" y="133.8"/><use href="#d1" x="231.2" y="152.6"/><use href="#d1" x="248.5" y="145.8"/><use href="#d1" x="221.5" y="135.0"/><use href="#d1" x="229.5" y="129.5"/><use href="#d1" x="255.8" y="153.4"/><use href="#d1" x="236.6" y="120.8"/><use href="#d1" x="231.8" y="110.2"/><use href="#d1" x="255.8" y="140.9"/><use href="#d1" x="273.9" y="107.7"/><use href="#d1" x="267.5" y="143.0"/><use href="#d1" x="252.1" y="116.9"/><use href="#d1" x="229.9" y="125.4"/><use href="#d1" x="229.0" y="128.8"/><use href="#d1" x="258.0" y="126.6"/><use href="#d1" x="248.2" y="117.5"/><use href="#d1" x="281.4" y="130.9"/><use href="#d1" x="263.1" y="121.9"/><use href="#d1" x="221.9" y="138.4"/><use href="#d1" x="226.8" y="125.8"/><use href="#d1" x="249.4" y="106.6"/><use href="#d1" x="256.9" y="115.3"/><use href="#d1" x="246.7" y="125.0"/><use href="#d1" x="269.7" y="131.2"/><use href="#d1" x="223.4" y="125.6"/><use href="#d1" x="247.2" y="116.8"/><use href="#d1" x="246.7" y="103.8"/><use href="#d1" x="241.5" y="109.8"/><use href="#d1" x="237.6" y="138.0"/><use href="#d1" x="248.9" y="147.1"/><use href="#d1" x="224.0" y="136.7"/><use href="#d1" x="228.0" y="124.8"/><use href="#d1" x="279.4" y="140.3"/><use href="#d1" x="239.3" y="136.8"/></g><path d="M239.5 107V122M255.1 135V157M231.6 126V144M285.5 139V149M256.5 103V126M239.9 125V137M249.7 111V129M278.1 113V125M222.0 147V166M229.9 112V128M228.5 120V145M272.6 128V145M244.8 112V128" stroke="#96e619" stroke-opacity="0.30" stroke-width="1" fill="none"/><g fill="#96e619" fill-opacity="0.50" stroke="#96e619" stroke-opacity="0.75" stroke-width="0.50"><use href="#v1" x="239.5" y="114.5"/><use href="#v1" x="255.1" y="146.3"/><use href="#v1" x="231.6" y="135.0"/><use href="#v1" x="285.5" y="144.4"/><use href="#v1" x="256.5" y="114.3"/><use href="#v1" x="239.9" y="131.5"/><use href="#v1" x="226.9" y="124.6"/><use href="#v1" x="249.7" y="119.7"/><use href="#v1" x="278.1" y="119.1"/><use href="#v1" x="222.0" y="156.8"/><use href="#v1" x="229.9" y="120.0"/><use href="#v1" x="228.5" y="132.7"/><use href="#v1" x="272.6" y="136.1"/><use href="#v1" x="244.8" y="119.8"/></g><path d="M236.0 92V106M249.0 94V108M252.0 143V157M238.0 144V158" stroke="#19e696" stroke-opacity="0.30" stroke-width="1" fill="none"/><g fill="#19e696" fill-opacity="0.55" stroke="#19e696" stroke-opacity="0.80" stroke-width="0.50"><use href="#o1" x="236.0" y="99.0"/><use href="#o1" x="249.0" y="101.0"/><use href="#o1" x="252.0" y="150.0"/><use href="#o1" x="238.0" y="151.0"/></g><path d="M248.5 111V127M259.1 113V122M242.5 107V126M259.4 108V124M261.4 111V127M247.4 119V139M268.7 118V131M237.5 121V143M254.2 109V131M222.8 112V128M263.6 116V127M252.3 133V141M267.9 109V119M237.3 105V124M255.7 110V135M274.1 94V109M232.0 121V130M254.2 134V152M240.5 120V133M263.7 116V135M245.3 127V144M235.1 120V139M227.9 128V148M270.8 119V135M268.0 101V113M248.2 117V128M223.3 104V137M274.2 118V133M247.8 123V135M255.5 115V127M240.6 134V150M279.6 107V125M254.3 105V126M239.2 114V139M238.2 123V140M262.6 115V128M260.9 108V129M236.4 129V146M260.4 104V114M264.9 116V129M263.5 97V116M253.2 104V117M245.8 112V134M269.8 114V130M250.3 113V128M235.9 106V117M230.0 111V128M258.7 126V141M279.4 109V129M274.1 96V117M223.3 114V138M256.5 120V138M223.4 112V120M255.5 131V145M271.6 112V121M229.5 106V124M245.9 113V133M280.1 101V123M244.6 138V149M230.2 102V119M262.7 113V129M247.4 99V120M267.2 118V136M270.9 108V129M259.4 121V145M229.9 108V122M263.8 109V125M229.9 118V140M254.5 125V144M274.9 118V131M281.0 129V147M250.9 130V140M266.0 128V141M256.5 104V119M275.3 120V135M248.8 124V134M259.3 123V131M270.4 133V156M276.6 130V157M265.2 106V122M240.6 111V137M231.0 113V120M258.5 126V153M270.3 105V132M264.2 101V124M254.5 120V136M269.6 100V116M246.2 131V142M223.7 108V121M271.3 108V131M235.1 110V138M259.2 118V136M254.9 119V129M277.1 117V128M275.5 108V133M247.6 94V114M277.8 102V125M233.5 126V150M232.8 100V131M275.0 114V130M258.5 101V124M254.1 114V128M246.3 103V117M255.3 111V127M252.3 125V147M229.5 96V114M253.2 113V137M234.9 110V125M243.7 117V136M222.6 110V134M260.8 119V133M260.6 108V132M236.0 115V131M265.5 119V127M248.2 122V137M267.8 123V142M270.7 106V121M226.4 110V135M267.3 105V126M246.9 126V146M250.8 113V130M268.2 122V138M247.2 99V127M228.5 112V119M234.7 103V122M230.4 115V141M243.9 115V126M278.7 130V148M262.0 120V134M249.2 110V129M263.3 115V123M273.0 106V120M234.7 112V126M246.0 128V137M263.9 107V122M240.0 108V138M225.6 111V124M253.9 108V124M259.0 132V148M273.1 96V111M234.7 119V138M260.7 104V118M279.5 105V124M239.9 115V124M226.6 108V125M259.9 128V149M246.5 104V126M245.5 107V123M279.4 110V122M234.8 126V138M250.0 135V149M280.5 119V129M246.0 128V142M258.6 100V118M233.7 120V129M277.5 126V141M260.3 105V117M251.1 100V113M280.4 93V115M257.7 101V121M261.9 117V124M226.8 108V122M234.0 107V130M223.0 122V130M234.5 108V122M239.1 111V127M222.9 135V145M272.6 127V137M237.7 101V122M275.1 118V139M246.7 121V141M257.4 97V115M240.0 132V147M280.7 109V126M266.0 114V125M252.0 105V118M250.1 123V132M231.6 103V131M279.1 106V127M278.3 139V145M276.8 119V148M232.7 108V121M251.3 121V130M273.1 113V130M246.4 116V133M264.4 128V144M236.1 112V124M257.4 121V128M258.7 105V123M239.0 127V137M228.0 119V132M267.1 119V128M264.6 125V141M225.4 95V121M274.2 119V126M262.2 122V132M236.4 126V143M245.4 117V125M274.6 112V126M262.6 96V118M233.5 114V130M238.9 123V148M247.1 110V126M247.5 117V126M226.9 123V142M229.7 110V125M265.2 109V130M258.0 114V132M269.3 106V124M249.3 104V122M242.7 101V121M275.9 108V128M243.3 118V130M222.8 117V128M224.4 108V134M261.6 108V118M276.4 123V132M256.4 109V135M277.1 114V128M249.9 111V118M269.2 101V112M242.0 134V149M227.6 106V129M275.0 104V121M281.5 120V128M257.5 104V120M268.1 99V118M231.3 104V117M236.9 115V130M275.6 112V129M278.2 95V117M234.3 118V138M254.3 112V126M250.3 111V123M254.4 118V140M277.1 111V141M264.5 99V110M237.5 119V126M252.7 126V141M234.6 112V125M267.8 120V136M270.4 110V121M226.6 109V129M228.0 131V145M266.9 98V119M230.1 131V151M246.8 129V140M236.1 105V119M232.4 112V127M250.6 111V138M240.0 107V128M250.6 112V124M234.1 96V112M223.2 119V137M246.8 109V140M281.0 111V129M268.1 124V138M231.8 101V125M265.2 114V124M252.7 110V125M230.1 120V131M266.4 125V139M268.5 118V126M261.9 112V143M265.5 122V132M252.1 105V120M259.2 105V128M263.0 119V135M242.2 115V130M263.6 121V134M279.8 120V137M244.3 113V130M242.1 115V130M240.4 103V131M241.9 118V138M239.8 118V129" stroke="#e61919" stroke-opacity="0.30" stroke-width="1" fill="none"/><g fill="#e61919" fill-opacity="0.55" stroke="#e61919" stroke-opacity="0.80" stroke-width="0.50"><use href="#D1" x="248.5" y="119.0"/><use href="#D1" x="259.1" y="117.6"/><use href="#D1" x="242.5" y="116.7"/><use href="#D1" x="259.4" y="116.3"/><use href="#D1" x="261.4" y="118.7"/><use href="#D1" x="247.4" y="129.0"/><use href="#D1" x="268.7" y="124.5"/><use href="#D1" x="279.3" y="138.4"/><use href="#D1" x="237.5" y="131.9"/><use href="#D1" x="254.2" y="120.0"/><use href="#D1" x="222.8" y="119.9"/><use href="#D1" x="263.6" y="121.1"/><use href="#D1" x="252.3" y="137.4"/><use href="#D1" x="267.9" y="113.5"/><use href="#D1" x="237.3" y="114.3"/><use href="#D1" x="255.7" y="122.4"/><use href="#D1" x="274.1" y="101.9"/><use href="#D1" x="232.0" y="125.4"/><use href="#D1" x="254.2" y="143.1"/><use href="#D1" x="240.5" y="126.5"/><use href="#D1" x="263.7" y="125.9"/><use href="#D1" x="245.3" y="135.1"/><use href="#D1" x="235.1" y="129.3"/><use href="#D1" x="227.9" y="138.3"/><use href="#D1" x="270.8" y="127.0"/><use href="#D1" x="268.0" y="106.8"/><use href="#D1" x="248.2" y="122.7"/><use href="#D1" x="223.3" y="120.3"/><use href="#D1" x="274.2" y="125.3"/><use href="#D1" x="247.8" y="128.9"/><use href="#D1" x="255.5" y="120.9"/><use href="#D1" x="240.6" y="142.2"/><use href="#D1" x="279.6" y="116.1"/><use href="#D1" x="254.3" y="115.4"/><use href="#D1" x="239.2" y="126.4"/><use href="#D1" x="238.2" y="131.5"/><use href="#D1" x="262.6" y="121.8"/><use href="#D1" x="260.9" y="118.7"/><use href="#D1" x="236.4" y="137.5"/><use href="#D1" x="260.4" y="109.0"/><use href="#D1" x="264.9" y="122.9"/><use href="#D1" x="275.2" y="126.2"/><use href="#D1" x="263.5" y="106.5"/><use href="#D1" x="253.2" y="110.1"/><use href="#D1" x="245.8" y="122.8"/><use href="#D1" x="269.8" y="122.0"/><use href="#D1" x="246.6" y="133.8"/><use href="#D1" x="250.3" y="120.6"/><use href="#D1" x="235.9" y="111.4"/><use href="#D1" x="230.0" y="119.4"/><use href="#D1" x="258.7" y="133.2"/><use href="#D1" x="279.4" y="118.6"/><use href="#D1" x="274.1" y="106.5"/><use href="#D1" x="223.3" y="126.2"/><use href="#D1" x="256.5" y="129.1"/><use href="#D1" x="223.4" y="116.1"/><use href="#D1" x="255.5" y="137.9"/><use href="#D1" x="271.6" y="116.6"/><use href="#D1" x="229.5" y="114.6"/><use href="#D1" x="245.9" y="122.8"/><use href="#D1" x="280.1" y="111.6"/><use href="#D1" x="244.6" y="143.1"/><use href="#D1" x="230.2" y="110.6"/><use href="#D1" x="262.7" y="120.7"/><use href="#D1" x="247.4" y="109.4"/><use href="#D1" x="267.2" y="127.2"/><use href="#D1" x="270.9" y="118.5"/><use href="#D1" x="259.4" y="133.0"/><use href="#D1" x="229.9" y="114.8"/><use href="#D1" x="263.8" y="117.2"/><use href="#D1" x="229.9" y="128.6"/><use href="#D1" x="254.5" y="134.7"/><use href="#D1" x="274.9" y="124.6"/><use href="#D1" x="281.0" y="137.8"/><use href="#D1" x="250.9" y="135.0"/><use href="#D1" x="266.0" y="134.7"/><use href="#D1" x="256.5" y="111.6"/><use href="#D1" x="275.3" y="127.5"/><use href="#D1" x="248.8" y="129.0"/><use href="#D1" x="259.3" y="126.9"/><use href="#D1" x="270.4" y="144.6"/><use href="#D1" x="276.6" y="143.3"/><use href="#D1" x="265.2" y="114.3"/><use href="#D1" x="240.6" y="124.3"/><use href="#D1" x="231.0" y="116.4"/><use href="#D1" x="258.5" y="139.5"/><use href="#D1" x="270.3" y="118.2"/><use href="#D1" x="264.2" y="112.4"/><use href="#D1" x="254.5" y="127.9"/><use href="#D1" x="236.7" y="114.6"/><use href="#D1" x="269.6" y="107.8"/><use href="#D1" x="246.2" y="136.3"/><use href="#D1" x="223.7" y="114.2"/><use href="#D1" x="271.3" y="119.4"/><use href="#D1" x="235.1" y="124.0"/><use href="#D1" x="259.2" y="127.3"/><use href="#D1" x="254.9" y="124.2"/><use href="#D1" x="277.1" y="122.5"/><use href="#D1" x="275.5" y="120.4"/><use href="#D1" x="247.6" y="104.3"/><use href="#D1" x="277.8" y="113.3"/><use href="#D1" x="233.5" y="138.1"/><use href="#D1" x="232.8" y="115.2"/><use href="#D1" x="275.0" y="122.1"/><use href="#D1" x="258.5" y="112.5"/><use href="#D1" x="253.4" y="114.1"/><use href="#D1" x="254.1" y="121.1"/><use href="#D1" x="246.3" y="110.1"/><use href="#D1" x="255.3" y="119.3"/><use href="#D1" x="252.3" y="135.8"/><use href="#D1" x="229.5" y="105.4"/><use href="#D1" x="253.2" y="125.3"/><use href="#D1" x="234.9" y="117.8"/><use href="#D1" x="243.7" y="126.4"/><use href="#D1" x="222.6" y="121.7"/><use href="#D1" x="260.8" y="126.0"/><use href="#D1" x="260.6" y="120.3"/><use href="#D1" x="236.0" y="123.0"/><use href="#D1" x="265.5" y="123.0"/><use href="#D1" x="248.2" y="129.5"/><use href="#D1" x="267.8" y="132.1"/><use href="#D1" x="270.7" y="113.2"/><use href="#D1" x="226.8" y="134.5"/><use href="#D1" x="226.4" y="122.3"/><use href="#D1" x="267.3" y="115.8"/><use href="#D1" x="246.9" y="135.9"/><use href="#D1" x="250.8" y="121.3"/><use href="#D1" x="268.2" y="130.2"/><use href="#D1" x="247.2" y="113.1"/><use href="#D1" x="228.5" y="115.7"/><use href="#D1" x="234.7" y="112.9"/><use href="#D1" x="230.4" y="128.2"/><use href="#D1" x="243.9" y="120.6"/><use href="#D1" x="278.7" y="138.9"/><use href="#D1" x="262.0" y="127.0"/><use href="#D1" x="249.2" y="119.3"/><use href="#D1" x="263.3" y="118.9"/><use href="#D1" x="273.0" y="113.0"/><use href="#D1" x="234.7" y="119.1"/><use href="#D1" x="246.0" y="132.1"/><use href="#D1" x="263.9" y="114.2"/><use href="#D1" x="240.0" y="123.3"/><use href="#D1" x="225.6" y="117.2"/><use href="#D1" x="253.9" y="115.8"/><use href="#D1" x="259.0" y="139.9"/><use href="#D1" x="273.1" y="103.4"/><use href="#D1" x="234.7" y="128.3"/><use href="#D1" x="260.7" y="111.4"/><use href="#D1" x="279.5" y="114.4"/><use href="#D1" x="239.9" y="119.7"/><use href="#D1" x="226.6" y="116.5"/><use href="#D1" x="259.9" y="138.1"/><use href="#D1" x="246.5" y="115.1"/><use href="#D1" x="245.5" y="115.0"/><use href="#D1" x="279.4" y="116.3"/><use href="#D1" x="234.8" y="132.4"/><use href="#D1" x="250.0" y="142.2"/><use href="#D1" x="280.5" y="124.4"/><use href="#D1" x="246.0" y="135.1"/><use href="#D1" x="258.6" y="108.6"/><use href="#D1" x="233.7" y="124.5"/><use href="#D1" x="277.5" y="133.6"/><use href="#D1" x="271.2" y="135.9"/><use href="#D1" x="260.3" y="111.3"/><use href="#D1" x="251.1" y="106.1"/><use href="#D1" x="280.4" y="103.9"/><use href="#D1" x="257.7" y="110.9"/><use href="#D1" x="261.9" y="120.3"/><use href="#D1" x="226.8" y="115.1"/><use href="#D1" x="234.0" y="118.7"/><use href="#D1" x="223.0" y="126.4"/><use href="#D1" x="234.5" y="115.0"/><use href="#D1" x="239.1" y="119.1"/><use href="#D1" x="222.9" y="140.1"/><use href="#D1" x="272.6" y="131.9"/><use href="#D1" x="237.7" y="111.4"/><use href="#D1" x="275.1" y="128.7"/><use href="#D1" x="246.7" y="131.2"/><use href="#D1" x="257.4" y="106.2"/><use href="#D1" x="240.0" y="139.5"/><use href="#D1" x="280.7" y="117.4"/><use href="#D1" x="266.0" y="119.8"/><use href="#D1" x="252.0" y="111.5"/><use href="#D1" x="250.1" y="127.4"/><use href="#D1" x="231.6" y="117.0"/><use href="#D1" x="279.1" y="116.4"/><use href="#D1" x="278.3" y="142.0"/><use href="#D1" x="276.8" y="133.3"/><use href="#D1" x="232.7" y="114.9"/><use href="#D1" x="251.3" y="125.8"/><use href="#D1" x="273.1" y="121.7"/><use href="#D1" x="246.4" y="124.9"/><use href="#D1" x="264.4" y="136.1"/><use href="#D1" x="236.1" y="117.9"/><use href="#D1" x="257.4" y="124.6"/><use href="#D1" x="224.4" y="107.5"/><use href="#D1" x="258.7" y="113.9"/><use href="#D1" x="239.0" y="132.1"/><use href="#D1" x="228.0" y="125.5"/><use href="#D1" x="267.1" y="123.3"/><use href="#D1" x="264.6" y="133.0"/><use href="#D1" x="225.4" y="108.0"/><use href="#D1" x="274.2" y="122.7"/><use href="#D1" x="262.2" y="127.1"/><use href="#D1" x="236.4" y="134.5"/><use href="#D1" x="245.4" y="121.2"/><use href="#D1" x="274.6" y="118.7"/><use href="#D1" x="262.6" y="107.3"/><use href="#D1" x="233.5" y="121.8"/><use href="#D1" x="238.9" y="135.6"/><use href="#D1" x="247.1" y="118.2"/><use href="#D1" x="247.5" y="121.4"/><use href="#D1" x="226.9" y="132.6"/><use href="#D1" x="229.7" y="117.4"/><use href="#D1" x="265.2" y="119.5"/><use href="#D1" x="258.0" y="122.8"/><use href="#D1" x="269.3" y="114.9"/><use href="#D1" x="238.6" y="114.0"/><use href="#D1" x="249.3" y="113.4"/><use href="#D1" x="242.7" y="111.0"/><use href="#D1" x="275.9" y="117.8"/><use href="#D1" x="243.3" y="123.8"/><use href="#D1" x="222.8" y="122.4"/><use href="#D1" x="224.4" y="120.8"/><use href="#D1" x="261.6" y="113.1"/><use href="#D1" x="276.4" y="127.3"/><use href="#D1" x="256.4" y="121.9"/><use href="#D1" x="277.1" y="121.0"/><use href="#D1" x="249.9" y="114.5"/><use href="#D1" x="269.2" y="106.5"/><use href="#D1" x="242.0" y="141.4"/><use href="#D1" x="227.6" y="117.5"/><use href="#D1" x="255.9" y="137.1"/><use href="#D1" x="275.0" y="112.3"/><use href="#D1" x="281.5" y="123.9"/><use href="#D1" x="257.5" y="112.1"/><use href="#D1" x="268.1" y="108.4"/><use href="#D1" x="231.3" y="110.5"/><use href="#D1" x="236.9" y="122.4"/><use href="#D1" x="275.6" y="120.8"/><use href="#D1" x="278.2" y="106.2"/><use href="#D1" x="234.3" y="127.9"/><use href="#D1" x="254.3" y="119.3"/><use href="#D1" x="250.3" y="116.9"/><use href="#D1" x="254.4" y="128.6"/><use href="#D1" x="277.1" y="125.7"/><use href="#D1" x="264.5" y="104.3"/><use href="#D1" x="237.5" y="122.8"/><use href="#D1" x="273.1" y="118.8"/><use href="#D1" x="230.9" y="125.3"/><use href="#D1" x="252.7" y="133.7"/><use href="#D1" x="234.6" y="118.4"/><use href="#D1" x="267.8" y="127.8"/><use href="#D1" x="270.4" y="115.4"/><use href="#D1" x="226.6" y="118.7"/><use href="#D1" x="228.0" y="137.9"/><use href="#D1" x="266.9" y="108.6"/><use href="#D1" x="230.1" y="140.9"/><use href="#D1" x="246.8" y="134.3"/><use href="#D1" x="236.1" y="111.7"/><use href="#D1" x="232.4" y="119.5"/><use href="#D1" x="250.6" y="124.2"/><use href="#D1" x="240.0" y="117.5"/><use href="#D1" x="271.1" y="111.0"/><use href="#D1" x="250.6" y="118.2"/><use href="#D1" x="234.1" y="104.0"/><use href="#D1" x="223.2" y="127.9"/><use href="#D1" x="246.8" y="124.4"/><use href="#D1" x="281.0" y="120.0"/><use href="#D1" x="268.1" y="130.9"/><use href="#D1" x="231.8" y="112.7"/><use href="#D1" x="265.2" y="118.7"/><use href="#D1" x="252.7" y="117.5"/><use href="#D1" x="230.1" y="125.2"/><use href="#D1" x="266.4" y="132.2"/><use href="#D1" x="268.5" y="121.8"/><use href="#D1" x="261.9" y="127.4"/><use href="#D1" x="265.5" y="127.1"/><use href="#D1" x="252.1" y="112.5"/><use href="#D1" x="259.2" y="116.1"/><use href="#D1" x="229.6" y="118.2"/><use href="#D1" x="263.0" y="127.1"/><use href="#D1" x="242.2" y="122.5"/><use href="#D1" x="263.6" y="127.4"/><use href="#D1" x="279.8" y="128.2"/><use href="#D1" x="244.3" y="121.2"/><use href="#D1" x="242.1" y="122.6"/><use href="#D1" x="240.4" y="117.1"/><use href="#D1" x="241.9" y="128.0"/><use href="#D1" x="239.8" y="123.5"/></g><path d="M244.8 127V143M236.2 126V138M281.0 130V146M222.7 137V155M261.6 143V156M254.8 133V147M221.1 145V153M224.5 137V144M228.3 131V153M226.4 136V145M224.1 125V141M231.3 141V151M235.4 135V153M224.3 138V146M270.3 129V155M277.5 129V145M240.8 142V153M256.0 143V156M229.9 123V146M260.1 145V153M269.9 140V157M240.1 128V148M260.7 137V153M253.1 121V143M278.5 130V144M230.0 128V150M281.1 131V144" stroke="#19e619" stroke-opacity="0.30" stroke-width="1" fill="none"/><g fill="#19e619" fill-opacity="0.60" stroke="#19e619" stroke-opacity="0.85" stroke-width="0.50"><use href="#d1" x="244.8" y="135.4"/><use href="#d1" x="228.4" y="137.7"/><use href="#d1" x="236.2" y="132.2"/><use href="#d1" x="281.0" y="138.0"/><use href="#d1" x="222.7" y="146.1"/><use href="#d1" x="261.6" y="149.5"/><use href="#d1" x="254.8" y="140.2"/><use href="#d1" x="221.1" y="149.0"/><use href="#d1" x="224.5" y="140.5"/><use href="#d1" x="228.3" y="141.9"/><use href="#d1" x="226.4" y="140.2"/><use href="#d1" x="224.1" y="133.0"/><use href="#d1" x="231.3" y="146.1"/><use href="#d1" x="253.8" y="134.3"/><use href="#d1" x="235.4" y="144.4"/><use href="#d1" x="224.3" y="142.2"/><use href="#d1" x="270.3" y="142.3"/><use href="#d1" x="277.5" y="137.0"/><use href="#d1" x="223.7" y="131.6"/><use href="#d1" x="240.8" y="147.1"/><use href="#d1" x="256.0" y="149.6"/><use href="#d1" x="229.9" y="134.5"/><use href="#d1" x="260.1" y="149.2"/><use href="#d1" x="269.9" y="148.2"/><use href="#d1" x="240.1" y="138.0"/><use href="#d1" x="260.7" y="144.9"/><use href="#d1" x="253.1" y="131.8"/><use href="#d1" x="278.5" y="137.3"/><use href="#d1" x="230.0" y="138.9"/><use href="#d1" x="281.1" y="137.7"/></g><path d="M270.0 78V94M246.0 150V166M274.0 156V172M300.0 160V176" stroke="#96e619" stroke-opacity="0.30" stroke-width="1" fill="none"/><g fill="#96e619" fill-opacity="0.60" stroke="#96e619" stroke-opacity="0.85" stroke-width="0.50"><use href="#u1" x="270.0" y="86.0"/><use href="#u1" x="246.0" y="158.0"/><use href="#u1" x="274.0" y="164.0"/><use href="#u1" x="300.0" y="168.0"/></g><path d="M259.5 144V172M259.5 142V158M270.5 142V158M282.0 91V111M282.0 147V163M282.0 150V170M294.0 90V108M294.0 97V111M294.0 144V160M306.5 61V89M306.5 90V106M306.5 143V161M306.5 146V166M320.0 73V97M320.0 82V100M320.0 89V107M320.0 143V161M320.0 137V155" stroke="#1e96e6" stroke-opacity="0.35" stroke-width="1" fill="none"/><g fill="#1e96e6" fill-opacity="0.60" stroke="#1e96e6" stroke-opacity="0.85" stroke-width="0.50"><use href="#d1" x="259.5" y="158.0"/><use href="#d1" x="259.5" y="150.0"/><use href="#d1" x="270.5" y="150.0"/><use href="#d1" x="282.0" y="100.8"/><use href="#d1" x="282.0" y="155.0"/><use href="#d1" x="282.0" y="160.0"/><use href="#d1" x="294.0" y="99.0"/><use href="#d1" x="294.0" y="104.0"/><use href="#d1" x="294.0" y="152.0"/><use href="#d1" x="306.5" y="75.4"/><use href="#d1" x="306.5" y="97.6"/><use href="#d1" x="306.5" y="151.6"/><use href="#d1" x="306.5" y="156.0"/><use href="#d1" x="320.0" y="85.0"/><use href="#d1" x="320.0" y="91.0"/><use href="#d1" x="320.0" y="97.6"/><use href="#d1" x="320.0" y="151.6"/><use href="#d1" x="320.0" y="146.0"/></g><path d="M281.9 106V130M282.0 115V121M270.6 105V129M307.2 112V137M259.6 126V138M259.4 115V132M294.1 122V136M259.1 107V116M259.9 129V145M320.7 115V128M306.8 117V125M306.7 107V122M270.6 125V141M282.2 111V128M281.7 119V141M259.5 114V134M320.5 98V115M282.2 101V111M259.4 122V146M282.1 140V150M306.4 109V123M259.2 102V124M259.1 117V145M306.5 113V134M293.8 120V143M294.4 128V155M320.3 108V130M320.8 116V140M306.9 117V132M270.2 114V130M320.8 117V129M270.4 113V138M259.1 108V133M293.8 118V130M270.3 108V127M259.3 115V132M320.7 111V124M282.3 142V153M293.7 115V137M259.7 116V131M282.0 140V150M270.2 128V142M259.8 106V127M270.2 134V148M270.6 89V109M270.3 124V137M270.6 94V113M306.6 128V133M259.6 110V123M270.3 121V145M306.5 119V135M320.6 121V140M282.2 109V127M281.8 114V132M306.7 119V132M259.3 118V147M259.2 122V141M320.4 125V135M320.1 127V146M320.1 113V137M306.9 123V141M294.3 93V116M320.4 107V123M270.9 118V132M270.4 134V148M281.9 119V127M320.7 120V126M294.3 113V125M270.7 111V126M270.4 123V129M320.3 117V133M270.8 127V150M320.1 113V126M293.6 134V147M270.7 127V145M282.4 124V132M306.5 114V133M259.5 113V124M306.6 115V141M320.2 111V130M320.5 145V158M281.7 117V131M293.7 106V131M307.1 106V121M320.7 128V140M270.8 125V142M281.8 117V134M259.4 129V137M259.4 91V114M282.1 134V154M320.4 106V128M320.2 125V139M306.9 129V150M270.6 116V138M320.9 121V129M320.3 111V130M259.3 109V118M259.5 118V138M282.2 113V133M320.5 122V141M259.7 126V148M270.6 135V143M259.3 135V147M282.0 109V121M307.0 126V133M270.8 104V123M259.5 120V141M270.8 125V143M259.2 115V135M281.9 102V119M306.6 141V154M259.3 106V122M282.0 120V138M320.2 142V155M307.1 132V144M306.6 119V125M259.9 105V124M282.2 136V152M320.6 117V127M320.3 132V144M307.2 122V139M294.0 130V146M293.9 111V121M307.1 117V134M306.8 125V137M270.3 118V141M307.2 125V143M293.9 109V123M259.6 140V152M320.2 116V132M270.5 124V144M270.5 108V116M270.8 135V153M259.2 123V134M270.3 125V134M259.4 137V152M306.9 105V120M270.6 110V129M259.6 118V136M306.8 117V136M307.0 110V132M270.6 119V142M294.2 121V133M320.9 120V147M281.7 120V137M282.3 117V125M320.8 109V136M259.7 127V149M259.5 130V146M259.2 116V136M320.8 137V151M293.7 124V139M320.6 136V146M259.2 130V148M282.0 125V141M294.1 111V130M282.1 116V122M281.9 128V144M293.9 123V133M282.0 116V130M320.7 118V130M320.9 103V128M282.4 105V133M320.8 98V119M281.8 132V149M259.6 116V132M282.3 139V145M259.6 100V115M320.6 119V147M307.0 119V131M293.7 112V131M293.8 124V137M307.0 131V145M259.4 126V146M306.6 122V148M282.2 102V123M320.8 131V144M281.8 128V154M293.7 110V116M306.5 110V133M294.2 112V120M320.6 123V141M306.9 113V123M259.2 91V117M307.0 117V136M270.3 100V111M306.8 131V147M259.4 115V126M281.9 133V152M270.5 107V133M259.8 127V146M294.2 120V142M259.8 128V154M270.5 121V145M306.4 110V127M294.0 115V131M270.8 127V141M307.0 101V116M294.0 121V139M270.2 93V110M320.4 123V142M259.3 118V145M306.5 104V126M282.2 130V138M270.3 115V132M270.6 123V148M270.3 124V143M320.1 136V144M306.5 117V135M320.1 137V156M270.5 125V134M320.7 115V135M259.6 114V148M281.7 133V146M282.0 107V124M320.8 123V139M281.7 116V135M306.9 114V126M306.4 114V132M270.4 107V120M294.2 111V118M282.1 123V138M282.2 117V125M281.8 108V135M259.3 125V138M270.5 121V137M270.5 102V115M270.7 113V138M270.7 107V125M282.0 106V128M259.7 125V137M270.2 113V125M294.4 120V141M270.7 127V139M320.3 107V128M259.3 121V139M294.3 123V152M282.1 111V121M259.7 123V139M282.3 124V145M282.0 121V138M259.8 120V137M281.6 131V148M281.6 110V123M306.5 122V133M320.3 118V131M282.2 106V122M270.4 107V121M259.7 124V137M320.8 132V147M270.1 116V139M282.1 121V145M270.2 113V135M306.9 107V117M259.7 117V139M306.9 101V120M270.1 98V111M281.8 141V158M259.1 113V130M259.3 107V118M307.0 111V126M259.3 113V128M293.9 123V140M270.6 116V130M306.8 108V123M306.6 123V144M320.7 115V134M306.6 125V138" stroke="#1919e6" stroke-opacity="0.30" stroke-width="1" fill="none"/><g fill="#1919e6" fill-opacity="0.60" stroke="#1919e6" stroke-opacity="0.85" stroke-width="0.50"><use href="#x3" x="281.9" y="117.8"/><use href="#x3" x="282.0" y="117.8"/><use href="#x3" x="270.6" y="117.4"/><use href="#x3" x="281.9" y="134.2"/><use href="#x3" x="307.2" y="124.1"/><use href="#x3" x="259.6" y="131.7"/><use href="#x3" x="259.4" y="123.4"/><use href="#x3" x="294.1" y="128.7"/><use href="#x3" x="259.1" y="111.7"/><use href="#x3" x="259.9" y="136.8"/><use href="#x3" x="320.7" y="121.5"/><use href="#x3" x="306.8" y="120.9"/><use href="#x3" x="306.7" y="114.5"/><use href="#x3" x="270.6" y="133.0"/><use href="#x3" x="282.2" y="119.1"/><use href="#x3" x="281.7" y="129.7"/><use href="#x3" x="259.5" y="123.8"/><use href="#x3" x="320.5" y="106.8"/><use href="#x3" x="282.2" y="105.8"/><use href="#x3" x="259.4" y="134.1"/><use href="#x3" x="282.1" y="145.4"/><use href="#x3" x="306.4" y="116.0"/><use href="#x3" x="259.2" y="113.2"/><use href="#x3" x="259.1" y="131.1"/><use href="#x3" x="306.5" y="123.8"/><use href="#x3" x="293.8" y="131.6"/><use href="#x3" x="294.4" y="141.4"/><use href="#x3" x="320.3" y="119.0"/><use href="#x3" x="320.8" y="127.7"/><use href="#x3" x="306.9" y="124.2"/><use href="#x3" x="270.2" y="122.0"/><use href="#x3" x="320.8" y="122.8"/><use href="#x3" x="270.4" y="125.1"/><use href="#x3" x="259.1" y="120.5"/><use href="#x3" x="293.8" y="123.9"/><use href="#x3" x="270.3" y="117.7"/><use href="#x3" x="306.5" y="116.7"/><use href="#x3" x="259.3" y="123.3"/><use href="#x3" x="320.7" y="117.6"/><use href="#x3" x="282.3" y="147.6"/><use href="#x3" x="293.7" y="125.8"/><use href="#x3" x="259.7" y="123.5"/><use href="#x3" x="282.0" y="144.9"/><use href="#x3" x="270.2" y="135.1"/><use href="#x3" x="259.8" y="116.3"/><use href="#x3" x="270.2" y="141.1"/><use href="#x3" x="270.6" y="99.4"/><use href="#x3" x="270.3" y="130.6"/><use href="#x3" x="270.6" y="103.5"/><use href="#x3" x="306.6" y="130.8"/><use href="#x3" x="259.6" y="116.8"/><use href="#x3" x="270.3" y="133.3"/><use href="#x3" x="306.5" y="127.2"/><use href="#x3" x="320.6" y="130.8"/><use href="#x3" x="282.2" y="118.0"/><use href="#x3" x="281.8" y="122.6"/><use href="#x3" x="306.7" y="125.6"/><use href="#x3" x="259.3" y="132.1"/><use href="#x3" x="259.2" y="131.7"/><use href="#x3" x="320.4" y="130.1"/><use href="#x3" x="320.1" y="136.4"/><use href="#x3" x="320.1" y="125.1"/><use href="#x3" x="306.9" y="131.8"/><use href="#x3" x="259.7" y="128.8"/><use href="#x3" x="294.3" y="104.4"/><use href="#x3" x="320.4" y="115.2"/><use href="#x3" x="270.9" y="124.9"/><use href="#x3" x="270.4" y="141.0"/><use href="#x3" x="281.9" y="122.8"/><use href="#x3" x="320.7" y="123.4"/><use href="#x3" x="294.3" y="118.9"/><use href="#x3" x="270.7" y="118.6"/><use href="#x3" x="270.4" y="126.0"/><use href="#x3" x="320.3" y="124.6"/><use href="#x3" x="270.8" y="138.8"/><use href="#x3" x="320.1" y="119.1"/><use href="#x3" x="293.6" y="140.7"/><use href="#x3" x="270.7" y="135.9"/><use href="#x3" x="282.4" y="128.3"/><use href="#x3" x="306.5" y="123.4"/><use href="#x3" x="259.5" y="118.5"/><use href="#x3" x="306.6" y="127.9"/><use href="#x3" x="320.2" y="120.8"/><use href="#x3" x="320.5" y="151.4"/><use href="#x3" x="281.7" y="124.1"/><use href="#x3" x="293.7" y="118.5"/><use href="#x3" x="307.1" y="113.7"/><use href="#x3" x="320.7" y="133.9"/><use href="#x3" x="270.8" y="133.2"/><use href="#x3" x="281.8" y="125.8"/><use href="#x3" x="259.4" y="132.8"/><use href="#x3" x="259.4" y="102.6"/><use href="#x3" x="282.1" y="143.8"/><use href="#x3" x="320.4" y="117.3"/><use href="#x3" x="320.2" y="132.1"/><use href="#x3" x="306.9" y="139.2"/><use href="#x3" x="270.6" y="126.9"/><use href="#x3" x="320.9" y="124.9"/><use href="#x3" x="320.3" y="120.4"/><use href="#x3" x="259.3" y="113.4"/><use href="#x3" x="259.5" y="128.0"/><use href="#x3" x="282.2" y="123.3"/><use href="#x3" x="320.5" y="131.5"/><use href="#x3" x="259.7" y="136.7"/><use href="#x3" x="270.6" y="138.6"/><use href="#x3" x="259.3" y="140.6"/><use href="#x3" x="282.0" y="115.0"/><use href="#x3" x="307.0" y="129.8"/><use href="#x3" x="270.8" y="113.6"/><use href="#x3" x="259.5" y="130.4"/><use href="#x3" x="270.8" y="133.9"/><use href="#x3" x="259.2" y="124.8"/><use href="#x3" x="281.9" y="110.3"/><use href="#x3" x="306.6" y="147.5"/><use href="#x3" x="259.3" y="113.6"/><use href="#x3" x="282.0" y="129.0"/><use href="#x3" x="320.2" y="148.9"/><use href="#x3" x="307.1" y="138.2"/><use href="#x3" x="306.6" y="121.7"/><use href="#x3" x="259.9" y="114.7"/><use href="#x3" x="282.2" y="144.4"/><use href="#x3" x="320.6" y="122.1"/><use href="#x3" x="320.3" y="138.0"/><use href="#x3" x="307.2" y="130.5"/><use href="#x3" x="294.0" y="137.9"/><use href="#x3" x="293.9" y="116.0"/><use href="#x3" x="294.3" y="118.9"/><use href="#x3" x="307.1" y="125.2"/><use href="#x3" x="306.8" y="131.3"/><use href="#x3" x="270.3" y="129.5"/><use href="#x3" x="307.2" y="133.9"/><use href="#x3" x="293.9" y="116.2"/><use href="#x3" x="259.6" y="146.2"/><use href="#x3" x="320.2" y="124.2"/><use href="#x3" x="270.5" y="133.8"/><use href="#x3" x="270.5" y="111.6"/><use href="#x3" x="270.8" y="143.9"/><use href="#x3" x="270.2" y="133.7"/><use href="#x3" x="259.2" y="128.5"/><use href="#x3" x="270.3" y="129.8"/><use href="#x3" x="259.4" y="144.1"/><use href="#x3" x="306.9" y="112.5"/><use href="#x3" x="270.6" y="119.7"/><use href="#x3" x="259.6" y="126.8"/><use href="#x3" x="306.8" y="126.8"/><use href="#x3" x="307.0" y="121.0"/><use href="#x3" x="270.6" y="130.4"/><use href="#x3" x="294.2" y="127.1"/><use href="#x3" x="320.9" y="133.4"/><use href="#x3" x="281.7" y="128.5"/><use href="#x3" x="282.3" y="121.0"/><use href="#x3" x="320.8" y="122.5"/><use href="#x3" x="259.7" y="137.9"/><use href="#x3" x="259.5" y="138.3"/><use href="#x3" x="259.2" y="125.6"/><use href="#x3" x="320.8" y="143.9"/><use href="#x3" x="293.7" y="131.8"/><use href="#x3" x="320.6" y="140.9"/><use href="#x3" x="259.2" y="139.0"/><use href="#x3" x="282.0" y="133.0"/><use href="#x3" x="294.1" y="120.3"/><use href="#x3" x="282.1" y="118.7"/><use href="#x3" x="281.9" y="135.9"/><use href="#x3" x="293.9" y="128.1"/><use href="#x3" x="282.0" y="123.1"/><use href="#x3" x="320.7" y="124.0"/><use href="#x3" x="320.9" y="115.4"/><use href="#x3" x="282.4" y="119.4"/><use href="#x3" x="320.8" y="108.5"/><use href="#x3" x="281.8" y="140.6"/><use href="#x3" x="259.6" y="123.9"/><use href="#x3" x="282.3" y="142.3"/><use href="#x3" x="259.6" y="107.3"/><use href="#x3" x="320.6" y="132.9"/><use href="#x3" x="259.5" y="125.5"/><use href="#x3" x="307.0" y="125.3"/><use href="#x3" x="293.7" y="121.6"/><use href="#x3" x="293.8" y="130.5"/><use href="#x3" x="307.0" y="138.3"/><use href="#x3" x="259.4" y="135.9"/><use href="#x3" x="306.6" y="135.1"/><use href="#x3" x="282.2" y="112.5"/><use href="#x3" x="320.8" y="137.4"/><use href="#x3" x="281.8" y="140.6"/><use href="#x3" x="293.7" y="113.4"/><use href="#x3" x="306.5" y="121.4"/><use href="#x3" x="294.2" y="115.7"/><use href="#x3" x="320.6" y="131.8"/><use href="#x3" x="306.9" y="117.7"/><use href="#x3" x="259.2" y="104.4"/><use href="#x3" x="307.0" y="126.2"/><use href="#x3" x="270.3" y="105.3"/><use href="#x3" x="306.8" y="139.4"/><use href="#x3" x="259.4" y="120.2"/><use href="#x3" x="281.9" y="142.8"/><use href="#x3" x="270.5" y="120.1"/><use href="#x3" x="259.8" y="136.5"/><use href="#x3" x="259.6" y="134.9"/><use href="#x3" x="294.2" y="131.1"/><use href="#x3" x="259.8" y="141.1"/><use href="#x3" x="270.5" y="133.0"/><use href="#x3" x="306.4" y="118.4"/><use href="#x3" x="294.0" y="122.9"/><use href="#x3" x="270.8" y="134.2"/><use href="#x3" x="307.0" y="108.2"/><use href="#x3" x="294.0" y="130.1"/><use href="#x3" x="270.2" y="101.7"/><use href="#x3" x="320.4" y="132.5"/><use href="#x3" x="259.3" y="131.5"/><use href="#x3" x="306.5" y="114.6"/><use href="#x3" x="282.2" y="134.1"/><use href="#x3" x="270.3" y="123.5"/><use href="#x3" x="320.3" y="143.3"/><use href="#x3" x="270.6" y="135.3"/><use href="#x3" x="270.3" y="133.6"/><use href="#x3" x="320.1" y="140.4"/><use href="#x3" x="306.5" y="125.9"/><use href="#x3" x="320.1" y="146.8"/><use href="#x3" x="270.5" y="129.8"/><use href="#x3" x="320.7" y="124.8"/><use href="#x3" x="259.6" y="131.2"/><use href="#x3" x="281.7" y="139.5"/><use href="#x3" x="282.0" y="115.7"/><use href="#x3" x="320.8" y="131.0"/><use href="#x3" x="281.7" y="125.7"/><use href="#x3" x="306.9" y="119.9"/><use href="#x3" x="306.4" y="122.8"/><use href="#x3" x="270.4" y="113.8"/><use href="#x3" x="294.2" y="114.2"/><use href="#x3" x="282.1" y="130.8"/><use href="#x3" x="282.2" y="120.8"/><use href="#x3" x="281.8" y="121.2"/><use href="#x3" x="259.3" y="131.8"/><use href="#x3" x="270.5" y="129.0"/><use href="#x3" x="270.5" y="108.2"/><use href="#x3" x="270.7" y="125.3"/><use href="#x3" x="270.7" y="116.4"/><use href="#x3" x="282.0" y="116.9"/><use href="#x3" x="259.7" y="131.1"/><use href="#x3" x="270.2" y="119.2"/><use href="#x3" x="294.4" y="130.8"/><use href="#x3" x="270.7" y="132.7"/><use href="#x3" x="320.3" y="117.3"/><use href="#x3" x="259.3" y="129.8"/><use href="#x3" x="294.3" y="137.3"/><use href="#x3" x="282.1" y="116.4"/><use href="#x3" x="259.7" y="131.1"/><use href="#x3" x="282.3" y="134.4"/><use href="#x3" x="282.0" y="129.7"/><use href="#x3" x="259.8" y="128.7"/><use href="#x3" x="281.6" y="139.9"/><use href="#x3" x="281.6" y="116.4"/><use href="#x3" x="306.5" y="127.5"/><use href="#x3" x="320.4" y="122.6"/><use href="#x3" x="320.3" y="124.4"/><use href="#x3" x="282.2" y="114.2"/><use href="#x3" x="270.4" y="114.2"/><use href="#x3" x="270.2" y="123.8"/><use href="#x3" x="259.3" y="128.6"/><use href="#x3" x="259.7" y="130.5"/><use href="#x3" x="320.8" y="139.3"/><use href="#x3" x="270.1" y="127.4"/><use href="#x3" x="282.1" y="132.6"/><use href="#x3" x="270.2" y="123.8"/><use href="#x3" x="306.9" y="112.0"/><use href="#x3" x="259.7" y="128.0"/><use href="#x3" x="306.9" y="110.3"/><use href="#x3" x="270.1" y="104.7"/><use href="#x3" x="281.8" y="149.4"/><use href="#x3" x="259.1" y="121.6"/><use href="#x3" x="259.3" y="112.6"/><use href="#x3" x="307.0" y="118.4"/><use href="#x3" x="320.3" y="120.4"/><use href="#x3" x="259.3" y="120.5"/><use href="#x3" x="293.9" y="131.3"/><use href="#x3" x="270.6" y="122.8"/><use href="#x3" x="306.8" y="115.9"/><use href="#x3" x="306.6" y="133.7"/><use href="#x3" x="320.7" y="124.6"/><use href="#x3" x="306.6" y="131.5"/></g><path d="M294.1 98V108M306.8 97V115M306.6 93V115M293.9 97V112M307.1 95V116M306.9 101V119M307.0 102V109M306.8 102V121" stroke="#e61996" stroke-opacity="0.30" stroke-width="1" fill="none"/><g fill="#e61996" fill-opacity="0.40" stroke="#e61996" stroke-opacity="0.65" stroke-width="0.50"><use href="#v3" x="294.1" y="103.1"/><use href="#v3" x="306.8" y="106.3"/><use href="#v3" x="306.6" y="104.3"/><use href="#v3" x="293.9" y="104.5"/><use href="#v3" x="307.1" y="105.3"/><use href="#v3" x="306.9" y="109.7"/><use href="#v3" x="307.0" y="105.2"/><use href="#v3" x="306.8" y="111.6"/></g><path d="M282 124.6H322" stroke="#3a9aa8" stroke-width="2.4" opacity="0.85"/><path d="M282 131H322" stroke="#6a6aa0" stroke-width="2.4" opacity="0.85"/><path d="M102 122.6H158" stroke="#8a8a8a" stroke-width="1.4" stroke-dasharray="3 7" opacity="0.9"/><path d="M158 120.5H220" stroke="#8a8a8a" stroke-width="1.4" stroke-dasharray="3 8" opacity="0.9"/><path d="M220 124H284" stroke="#8a8a8a" stroke-width="1.4" stroke-dasharray="3 8" opacity="0.9"/></g><g clip-path="url(#cBL)"><g fill="#808080" fill-opacity="0.45" stroke="#808080" stroke-opacity="0.70" stroke-width="0.50"><use href="#p2" x="77.6" y="272.5"/><use href="#p2" x="43.1" y="291.3"/><use href="#p2" x="60.9" y="307.0"/><use href="#p2" x="72.0" y="289.3"/><use href="#p2" x="54.6" y="287.4"/><use href="#p2" x="53.2" y="278.1"/><use href="#p2" x="65.2" y="280.2"/><use href="#p2" x="41.8" y="300.2"/><use href="#p2" x="45.0" y="303.7"/><use href="#p2" x="76.4" y="302.8"/><use href="#p2" x="66.8" y="258.8"/><use href="#p2" x="54.7" y="292.6"/><use href="#p2" x="68.5" y="267.1"/><use href="#p2" x="73.5" y="305.0"/><use href="#p2" x="64.7" y="246.5"/><use href="#p2" x="57.2" y="302.4"/><use href="#p2" x="43.4" y="320.4"/><use href="#p2" x="51.7" y="269.2"/><use href="#p2" x="49.9" y="296.2"/><use href="#p2" x="77.7" y="295.0"/><use href="#p2" x="56.3" y="306.0"/><use href="#p2" x="60.4" y="315.7"/><use href="#p2" x="64.2" y="265.4"/><use href="#p2" x="74.9" y="305.7"/><use href="#p2" x="74.5" y="280.4"/><use href="#p2" x="45.0" y="286.7"/><use href="#p2" x="63.8" y="281.6"/><use href="#p2" x="54.0" y="298.8"/><use href="#p2" x="64.5" y="317.7"/><use href="#p2" x="53.7" y="291.3"/><use href="#p2" x="71.0" y="289.4"/><use href="#p2" x="60.0" y="268.1"/><use href="#p2" x="60.9" y="315.4"/><use href="#p2" x="42.1" y="287.3"/><use href="#p2" x="53.3" y="267.2"/><use href="#p2" x="43.8" y="292.2"/><use href="#p2" x="65.4" y="261.7"/><use href="#p2" x="71.9" y="298.2"/><use href="#p2" x="70.0" y="312.8"/><use href="#p2" x="57.9" y="324.8"/><use href="#p2" x="55.2" y="284.5"/><use href="#p2" x="71.1" y="293.1"/><use href="#p2" x="71.4" y="275.3"/><use href="#p2" x="70.7" y="273.5"/><use href="#p2" x="49.7" y="302.6"/><use href="#p2" x="71.1" y="307.8"/><use href="#p2" x="68.2" y="298.1"/><use href="#p2" x="55.9" y="289.4"/><use href="#p2" x="42.5" y="303.4"/><use href="#p2" x="71.5" y="267.3"/><use href="#p2" x="63.0" y="309.3"/><use href="#p2" x="52.6" y="276.1"/><use href="#p2" x="66.2" y="286.0"/><use href="#p2" x="56.0" y="283.3"/><use href="#p2" x="71.7" y="263.3"/><use href="#p2" x="45.3" y="296.3"/><use href="#p2" x="41.0" y="284.5"/><use href="#p2" x="60.1" y="279.5"/><use href="#p2" x="39.5" y="291.0"/><use href="#p2" x="74.4" y="283.8"/><use href="#p2" x="42.9" y="304.3"/><use href="#p2" x="64.9" y="262.9"/><use href="#p2" x="72.2" y="277.9"/><use href="#p2" x="58.4" y="302.5"/><use href="#p2" x="63.3" y="315.3"/><use href="#p2" x="52.5" y="314.7"/><use href="#p2" x="56.8" y="285.0"/><use href="#p2" x="41.3" y="313.4"/><use href="#p2" x="52.7" y="285.4"/><use href="#p2" x="40.8" y="289.5"/><use href="#p2" x="68.5" y="294.0"/><use href="#p2" x="65.6" y="301.7"/><use href="#p2" x="49.6" y="276.2"/><use href="#p2" x="68.6" y="296.4"/><use href="#p2" x="72.6" y="278.7"/><use href="#p2" x="59.8" y="271.7"/><use href="#p2" x="42.4" y="273.9"/><use href="#p2" x="55.3" y="280.5"/><use href="#p2" x="62.2" y="306.9"/><use href="#p2" x="50.4" y="261.0"/><use href="#p2" x="73.1" y="295.7"/><use href="#p2" x="52.0" y="315.7"/><use href="#p2" x="55.6" y="299.8"/><use href="#p2" x="44.4" y="286.0"/><use href="#p2" x="39.6" y="263.5"/><use href="#p2" x="42.4" y="289.8"/><use href="#p2" x="55.1" y="295.8"/><use href="#p2" x="52.2" y="287.5"/><use href="#p2" x="69.5" y="260.2"/><use href="#p2" x="60.2" y="325.9"/><use href="#p2" x="53.9" y="297.8"/><use href="#p2" x="49.9" y="317.2"/><use href="#p2" x="51.3" y="288.4"/><use href="#p2" x="57.6" y="288.7"/><use href="#p2" x="57.2" y="245.7"/><use href="#p2" x="54.8" y="302.9"/><use href="#p2" x="63.3" y="296.9"/><use href="#p2" x="55.3" y="285.3"/><use href="#p2" x="74.8" y="292.0"/><use href="#p2" x="39.8" y="326.6"/><use href="#p2" x="43.6" y="291.4"/><use href="#p2" x="53.8" y="293.0"/><use href="#p2" x="71.9" y="290.2"/><use href="#p2" x="70.5" y="273.1"/><use href="#p2" x="50.9" y="294.9"/><use href="#p2" x="56.4" y="281.6"/><use href="#p2" x="54.6" y="268.3"/><use href="#p2" x="42.8" y="310.3"/><use href="#p2" x="63.4" y="308.3"/><use href="#p2" x="69.4" y="345.7"/><use href="#p2" x="43.2" y="301.0"/><use href="#p2" x="49.3" y="250.6"/><use href="#p2" x="74.4" y="274.3"/><use href="#p2" x="52.9" y="281.3"/><use href="#p2" x="60.5" y="315.4"/><use href="#p2" x="57.4" y="281.6"/><use href="#p2" x="56.3" y="291.7"/><use href="#p2" x="70.5" y="309.8"/><use href="#p2" x="61.7" y="280.7"/><use href="#p2" x="71.6" y="271.0"/><use href="#p2" x="54.9" y="290.6"/><use href="#p2" x="68.1" y="319.6"/><use href="#p2" x="70.6" y="297.0"/><use href="#p2" x="76.4" y="287.4"/><use href="#p2" x="43.3" y="282.5"/><use href="#p2" x="55.3" y="268.1"/><use href="#p2" x="47.4" y="277.5"/><use href="#p2" x="59.8" y="293.9"/><use href="#p2" x="64.3" y="295.9"/><use href="#p2" x="52.9" y="324.6"/><use href="#p2" x="64.9" y="280.1"/><use href="#p2" x="66.2" y="268.3"/><use href="#p2" x="56.4" y="282.7"/><use href="#p2" x="75.0" y="291.9"/><use href="#p2" x="43.4" y="282.6"/><use href="#p2" x="40.4" y="289.9"/><use href="#p2" x="66.7" y="271.9"/><use href="#p2" x="52.8" y="282.3"/><use href="#p2" x="72.5" y="305.2"/><use href="#p2" x="51.6" y="337.7"/></g><g fill="#808080" fill-opacity="0.45" stroke="#808080" stroke-opacity="0.70" stroke-width="0.50"><use href="#l2" x="72.2" y="289.1"/><use href="#l2" x="70.3" y="328.1"/><use href="#l2" x="69.2" y="301.0"/><use href="#l2" x="80.8" y="306.4"/><use href="#l2" x="66.3" y="320.4"/><use href="#l2" x="102.3" y="272.9"/><use href="#l2" x="91.4" y="305.8"/><use href="#l2" x="102.2" y="306.4"/><use href="#l2" x="83.4" y="320.4"/><use href="#l2" x="80.4" y="301.2"/><use href="#l2" x="70.6" y="297.5"/><use href="#l2" x="86.3" y="272.8"/><use href="#l2" x="94.4" y="281.8"/><use href="#l2" x="82.4" y="302.4"/><use href="#l2" x="64.6" y="292.4"/><use href="#l2" x="72.6" y="310.8"/><use href="#l2" x="85.6" y="299.4"/><use href="#l2" x="66.5" y="281.8"/><use href="#l2" x="64.7" y="269.1"/><use href="#l2" x="86.4" y="261.6"/><use href="#l2" x="92.6" y="282.0"/><use href="#l2" x="101.1" y="302.8"/><use href="#l2" x="80.0" y="287.7"/><use href="#l2" x="88.6" y="301.9"/><use href="#l2" x="99.4" y="291.3"/><use href="#l2" x="88.4" y="300.8"/><use href="#l2" x="69.5" y="291.9"/><use href="#l2" x="74.7" y="322.3"/><use href="#l2" x="95.2" y="298.5"/><use href="#l2" x="82.3" y="299.5"/><use href="#l2" x="98.6" y="249.7"/><use href="#l2" x="102.3" y="290.4"/><use href="#l2" x="91.5" y="286.8"/><use href="#l2" x="97.3" y="314.3"/><use href="#l2" x="91.7" y="310.9"/><use href="#l2" x="71.8" y="285.3"/><use href="#l2" x="98.6" y="294.8"/><use href="#l2" x="78.7" y="278.7"/><use href="#l2" x="98.7" y="290.3"/><use href="#l2" x="98.7" y="302.9"/><use href="#l2" x="98.0" y="275.6"/><use href="#l2" x="91.9" y="298.5"/><use href="#l2" x="66.3" y="320.4"/><use href="#l2" x="85.7" y="324.4"/><use href="#l2" x="76.3" y="311.6"/><use href="#l2" x="90.1" y="270.2"/><use href="#l2" x="71.2" y="274.4"/><use href="#l2" x="96.3" y="311.3"/><use href="#l2" x="94.4" y="287.4"/><use href="#l2" x="78.0" y="300.4"/><use href="#l2" x="69.4" y="302.9"/><use href="#l2" x="81.0" y="249.2"/><use href="#l2" x="97.7" y="308.6"/><use href="#l2" x="81.8" y="294.3"/><use href="#l2" x="67.5" y="322.5"/><use href="#l2" x="78.7" y="291.6"/><use href="#l2" x="73.3" y="288.9"/><use href="#l2" x="72.6" y="301.2"/><use href="#l2" x="75.1" y="296.8"/><use href="#l2" x="81.7" y="294.1"/><use href="#l2" x="90.1" y="327.7"/><use href="#l2" x="71.7" y="321.5"/><use href="#l2" x="80.3" y="288.7"/><use href="#l2" x="90.8" y="288.7"/><use href="#l2" x="102.6" y="290.0"/><use href="#l2" x="98.8" y="317.4"/><use href="#l2" x="65.7" y="299.6"/><use href="#l2" x="99.5" y="295.4"/><use href="#l2" x="75.6" y="287.4"/><use href="#l2" x="88.1" y="314.0"/><use href="#l2" x="93.3" y="296.5"/><use href="#l2" x="79.5" y="301.6"/><use href="#l2" x="88.0" y="263.7"/><use href="#l2" x="82.7" y="242.3"/><use href="#l2" x="66.5" y="263.7"/><use href="#l2" x="85.2" y="268.8"/><use href="#l2" x="80.8" y="271.9"/><use href="#l2" x="79.4" y="313.4"/><use href="#l2" x="70.2" y="298.3"/><use href="#l2" x="78.3" y="287.5"/><use href="#l2" x="95.8" y="298.8"/><use href="#l2" x="71.9" y="291.4"/><use href="#l2" x="75.8" y="274.9"/><use href="#l2" x="95.8" y="302.6"/><use href="#l2" x="69.7" y="290.0"/><use href="#l2" x="98.0" y="292.7"/><use href="#l2" x="89.9" y="330.5"/><use href="#l2" x="90.7" y="299.5"/><use href="#l2" x="89.3" y="293.2"/><use href="#l2" x="69.2" y="276.9"/><use href="#l2" x="74.1" y="280.0"/><use href="#l2" x="85.1" y="288.5"/><use href="#l2" x="64.9" y="265.7"/><use href="#l2" x="93.8" y="283.1"/><use href="#l2" x="100.5" y="330.7"/><use href="#l2" x="85.1" y="290.8"/><use href="#l2" x="85.6" y="298.7"/><use href="#l2" x="65.2" y="303.5"/><use href="#l2" x="89.9" y="289.7"/><use href="#l2" x="75.1" y="259.3"/><use href="#l2" x="91.0" y="292.5"/><use href="#l2" x="80.5" y="300.2"/><use href="#l2" x="90.6" y="278.7"/><use href="#l2" x="71.4" y="311.9"/><use href="#l2" x="97.7" y="289.7"/><use href="#l2" x="93.0" y="314.2"/><use href="#l2" x="63.7" y="287.5"/><use href="#l2" x="94.9" y="308.3"/><use href="#l2" x="83.1" y="302.5"/><use href="#l2" x="83.9" y="269.4"/><use href="#l2" x="94.5" y="293.4"/><use href="#l2" x="87.9" y="289.8"/><use href="#l2" x="81.1" y="316.1"/><use href="#l2" x="88.7" y="307.3"/><use href="#l2" x="101.9" y="306.8"/><use href="#l2" x="76.7" y="313.1"/><use href="#l2" x="73.9" y="302.9"/><use href="#l2" x="100.5" y="276.7"/><use href="#l2" x="86.9" y="301.5"/><use href="#l2" x="88.0" y="295.2"/><use href="#l2" x="65.2" y="294.2"/><use href="#l2" x="70.9" y="297.6"/><use href="#l2" x="80.3" y="320.2"/><use href="#l2" x="73.6" y="269.6"/><use href="#l2" x="86.6" y="277.0"/><use href="#l2" x="74.1" y="282.1"/><use href="#l2" x="73.5" y="337.1"/><use href="#l2" x="64.6" y="268.1"/><use href="#l2" x="87.0" y="327.7"/><use href="#l2" x="67.2" y="255.8"/></g><g fill="#808080" fill-opacity="0.45" stroke="#808080" stroke-opacity="0.70" stroke-width="0.50"><use href="#p2" x="78.7" y="205.5"/><use href="#p2" x="66.0" y="352.0"/><use href="#p2" x="92.0" y="357.0"/></g><g fill="#1919e6" fill-opacity="0.50" stroke="#1919e6" stroke-opacity="0.75" stroke-width="0.50"><use href="#x2" x="143.1" y="267.1"/><use href="#x2" x="127.2" y="246.6"/><use href="#x2" x="131.3" y="288.9"/><use href="#x2" x="114.6" y="274.5"/><use href="#x2" x="109.7" y="311.8"/><use href="#x2" x="127.7" y="293.2"/><use href="#x2" x="138.3" y="317.2"/><use href="#x2" x="136.4" y="291.8"/><use href="#x2" x="136.1" y="263.6"/><use href="#x2" x="110.8" y="294.2"/><use href="#x2" x="140.8" y="273.7"/><use href="#x2" x="114.1" y="278.9"/><use href="#x2" x="132.6" y="326.5"/><use href="#x2" x="135.3" y="322.9"/><use href="#x2" x="147.1" y="285.6"/><use href="#x2" x="147.3" y="298.6"/><use href="#x2" x="149.4" y="272.5"/><use href="#x2" x="143.3" y="271.1"/><use href="#x2" x="122.5" y="275.2"/><use href="#x2" x="124.2" y="303.7"/><use href="#x2" x="111.3" y="289.7"/><use href="#x2" x="157.5" y="265.4"/><use href="#x2" x="134.1" y="281.8"/><use href="#x2" x="110.9" y="301.6"/><use href="#x2" x="133.1" y="326.2"/><use href="#x2" x="111.9" y="265.4"/><use href="#x2" x="139.1" y="293.2"/><use href="#x2" x="128.9" y="306.1"/><use href="#x2" x="109.9" y="257.1"/><use href="#x2" x="118.5" y="305.5"/><use href="#x2" x="138.0" y="306.6"/><use href="#x2" x="140.5" y="325.3"/><use href="#x2" x="135.2" y="303.6"/><use href="#x2" x="127.6" y="284.8"/><use href="#x2" x="145.7" y="269.3"/><use href="#x2" x="113.5" y="266.9"/><use href="#x2" x="109.0" y="338.7"/><use href="#x2" x="148.1" y="282.4"/><use href="#x2" x="145.7" y="341.0"/><use href="#x2" x="149.7" y="263.7"/><use href="#x2" x="123.1" y="303.8"/><use href="#x2" x="108.8" y="251.9"/><use href="#x2" x="137.1" y="295.7"/><use href="#x2" x="136.2" y="271.2"/><use href="#x2" x="153.2" y="278.8"/><use href="#x2" x="142.4" y="282.4"/><use href="#x2" x="155.4" y="322.4"/><use href="#x2" x="106.5" y="332.7"/><use href="#x2" x="109.6" y="284.1"/><use href="#x2" x="116.5" y="281.3"/><use href="#x2" x="148.4" y="256.4"/><use href="#x2" x="105.9" y="260.2"/><use href="#x2" x="118.3" y="293.3"/><use href="#x2" x="115.4" y="319.4"/><use href="#x2" x="120.9" y="276.3"/></g><g fill="#9619e6" fill-opacity="0.45" stroke="#9619e6" stroke-opacity="0.70" stroke-width="0.50"><use href="#u2" x="108.4" y="261.2"/><use href="#u2" x="127.6" y="288.1"/><use href="#u2" x="152.5" y="339.7"/><use href="#u2" x="109.8" y="286.1"/><use href="#u2" x="123.5" y="272.5"/><use href="#u2" x="146.0" y="309.6"/><use href="#u2" x="111.1" y="270.4"/><use href="#u2" x="142.4" y="328.6"/><use href="#u2" x="135.6" y="238.3"/><use href="#u2" x="141.6" y="347.2"/><use href="#u2" x="142.3" y="263.5"/><use href="#u2" x="134.0" y="335.4"/><use href="#u2" x="124.3" y="274.0"/><use href="#u2" x="134.2" y="292.0"/><use href="#u2" x="118.0" y="317.5"/><use href="#u2" x="107.2" y="282.0"/><use href="#u2" x="138.9" y="308.3"/><use href="#u2" x="140.4" y="262.1"/><use href="#u2" x="105.9" y="321.5"/><use href="#u2" x="126.4" y="252.1"/><use href="#u2" x="115.7" y="343.0"/><use href="#u2" x="128.1" y="297.2"/></g><g fill="#e69619" fill-opacity="0.45" stroke="#e69619" stroke-opacity="0.70" stroke-width="0.50"><use href="#r2" x="114.6" y="307.3"/><use href="#r2" x="143.3" y="327.7"/><use href="#r2" x="154.8" y="281.8"/><use href="#r2" x="157.9" y="287.2"/><use href="#r2" x="116.8" y="313.2"/><use href="#r2" x="151.2" y="283.4"/><use href="#r2" x="130.8" y="278.0"/><use href="#r2" x="150.4" y="313.9"/><use href="#r2" x="150.2" y="261.9"/><use href="#r2" x="153.6" y="328.5"/><use href="#r2" x="133.2" y="335.1"/><use href="#r2" x="132.1" y="283.9"/><use href="#r2" x="146.8" y="334.4"/><use href="#r2" x="115.0" y="296.4"/><use href="#r2" x="157.0" y="290.0"/><use href="#r2" x="150.3" y="255.9"/><use href="#r2" x="144.7" y="255.4"/><use href="#r2" x="111.3" y="280.3"/></g><g fill="#e61919" fill-opacity="0.32" stroke="#e61919" stroke-opacity="0.75" stroke-width="0.70"><use href="#o2" x="126.3" y="302.4"/><use href="#o2" x="143.6" y="265.9"/><use href="#o2" x="106.9" y="317.6"/><use href="#o2" x="149.3" y="303.7"/><use href="#o2" x="145.0" y="279.8"/><use href="#o2" x="115.6" y="273.1"/><use href="#o2" x="118.5" y="263.4"/><use href="#o2" x="120.9" y="281.5"/><use href="#o2" x="135.7" y="297.6"/><use href="#o2" x="152.1" y="285.4"/><use href="#o2" x="142.2" y="287.8"/><use href="#o2" x="137.1" y="289.3"/><use href="#o2" x="106.3" y="288.6"/><use href="#o2" x="119.6" y="249.7"/><use href="#o2" x="125.7" y="283.1"/><use href="#o2" x="156.4" y="283.0"/><use href="#o2" x="151.2" y="281.6"/><use href="#o2" x="140.1" y="293.5"/><use href="#o2" x="120.6" y="304.4"/><use href="#o2" x="132.9" y="292.0"/><use href="#o2" x="155.6" y="305.3"/><use href="#o2" x="108.6" y="268.8"/><use href="#o2" x="118.1" y="270.5"/><use href="#o2" x="106.0" y="268.1"/><use href="#o2" x="110.4" y="292.7"/><use href="#o2" x="118.0" y="295.1"/><use href="#o2" x="109.6" y="300.3"/><use href="#o2" x="113.6" y="312.4"/><use href="#o2" x="111.3" y="281.6"/><use href="#o2" x="153.5" y="308.9"/><use href="#o2" x="143.2" y="258.3"/><use href="#o2" x="146.8" y="275.8"/><use href="#o2" x="108.2" y="282.7"/><use href="#o2" x="151.8" y="287.9"/><use href="#o2" x="139.8" y="280.6"/><use href="#o2" x="112.0" y="261.9"/><use href="#o2" x="121.7" y="283.6"/><use href="#o2" x="124.9" y="291.7"/><use href="#o2" x="123.9" y="286.2"/><use href="#o2" x="144.2" y="288.6"/><use href="#o2" x="139.8" y="291.2"/><use href="#o2" x="137.4" y="289.5"/><use href="#o2" x="136.3" y="283.9"/><use href="#o2" x="152.1" y="256.6"/><use href="#o2" x="134.0" y="290.0"/><use href="#o2" x="110.8" y="307.8"/><use href="#o2" x="116.5" y="296.7"/><use href="#o2" x="149.2" y="264.3"/><use href="#o2" x="155.8" y="247.3"/><use href="#o2" x="108.6" y="290.9"/><use href="#o2" x="127.2" y="280.3"/><use href="#o2" x="121.2" y="283.7"/><use href="#o2" x="119.7" y="265.9"/><use href="#o2" x="143.2" y="293.5"/><use href="#o2" x="135.1" y="287.8"/><use href="#o2" x="151.2" y="290.2"/><use href="#o2" x="138.8" y="288.7"/><use href="#o2" x="151.6" y="294.2"/><use href="#o2" x="136.7" y="328.8"/><use href="#o2" x="110.4" y="297.4"/><use href="#o2" x="149.8" y="287.2"/><use href="#o2" x="115.5" y="279.7"/><use href="#o2" x="116.1" y="303.6"/><use href="#o2" x="142.4" y="287.4"/><use href="#o2" x="136.1" y="288.7"/><use href="#o2" x="152.4" y="296.2"/><use href="#o2" x="109.4" y="316.5"/><use href="#o2" x="143.5" y="290.2"/><use href="#o2" x="147.5" y="291.5"/><use href="#o2" x="121.0" y="315.1"/><use href="#o2" x="146.7" y="294.9"/><use href="#o2" x="152.1" y="290.5"/><use href="#o2" x="116.0" y="280.0"/><use href="#o2" x="126.5" y="297.0"/><use href="#o2" x="111.3" y="308.0"/><use href="#o2" x="130.9" y="272.3"/><use href="#o2" x="134.4" y="304.2"/><use href="#o2" x="107.4" y="298.4"/><use href="#o2" x="145.1" y="316.0"/><use href="#o2" x="149.5" y="288.0"/><use href="#o2" x="154.7" y="314.1"/><use href="#o2" x="106.7" y="301.3"/><use href="#o2" x="112.7" y="305.5"/><use href="#o2" x="147.3" y="290.2"/><use href="#o2" x="142.5" y="276.8"/><use href="#o2" x="137.4" y="323.2"/><use href="#o2" x="143.6" y="291.5"/><use href="#o2" x="148.7" y="306.2"/><use href="#o2" x="118.5" y="287.1"/><use href="#o2" x="135.0" y="288.7"/><use href="#o2" x="129.1" y="303.7"/><use href="#o2" x="104.8" y="292.1"/><use href="#o2" x="150.3" y="305.0"/><use href="#o2" x="105.2" y="308.7"/><use href="#o2" x="112.0" y="308.5"/><use href="#o2" x="150.1" y="298.3"/><use href="#o2" x="106.1" y="307.7"/><use href="#o2" x="114.3" y="274.4"/><use href="#o2" x="123.2" y="305.2"/><use href="#o2" x="126.2" y="276.8"/><use href="#o2" x="154.9" y="272.7"/><use href="#o2" x="114.7" y="265.9"/><use href="#o2" x="150.7" y="295.5"/><use href="#o2" x="131.3" y="281.9"/><use href="#o2" x="148.2" y="307.8"/><use href="#o2" x="131.2" y="258.9"/><use href="#o2" x="125.5" y="279.4"/><use href="#o2" x="105.3" y="260.7"/><use href="#o2" x="132.7" y="321.9"/><use href="#o2" x="139.5" y="266.1"/><use href="#o2" x="106.3" y="301.9"/><use href="#o2" x="106.9" y="300.6"/><use href="#o2" x="107.7" y="282.4"/><use href="#o2" x="108.2" y="297.2"/><use href="#o2" x="106.2" y="299.3"/><use href="#o2" x="119.4" y="289.2"/><use href="#o2" x="105.7" y="279.7"/><use href="#o2" x="140.4" y="276.1"/><use href="#o2" x="149.4" y="267.0"/><use href="#o2" x="138.6" y="267.9"/><use href="#o2" x="145.9" y="276.4"/><use href="#o2" x="138.5" y="294.8"/><use href="#o2" x="147.6" y="286.0"/><use href="#o2" x="141.0" y="262.9"/><use href="#o2" x="133.6" y="273.9"/><use href="#o2" x="116.1" y="308.0"/><use href="#o2" x="110.0" y="315.5"/><use href="#o2" x="128.2" y="298.5"/><use href="#o2" x="125.6" y="287.0"/><use href="#o2" x="121.6" y="279.0"/><use href="#o2" x="135.1" y="303.7"/><use href="#o2" x="122.0" y="307.9"/><use href="#o2" x="115.0" y="311.8"/><use href="#o2" x="140.6" y="312.9"/><use href="#o2" x="106.2" y="292.0"/><use href="#o2" x="113.8" y="292.8"/><use href="#o2" x="152.0" y="275.1"/><use href="#o2" x="141.0" y="303.0"/><use href="#o2" x="114.8" y="300.3"/><use href="#o2" x="107.7" y="296.3"/><use href="#o2" x="111.9" y="301.1"/><use href="#o2" x="145.8" y="292.4"/><use href="#o2" x="151.7" y="297.8"/><use href="#o2" x="109.9" y="269.0"/><use href="#o2" x="118.7" y="274.4"/><use href="#o2" x="133.0" y="265.4"/><use href="#o2" x="115.1" y="286.9"/><use href="#o2" x="111.5" y="311.2"/><use href="#o2" x="143.5" y="281.3"/><use href="#o2" x="124.8" y="299.6"/><use href="#o2" x="139.7" y="273.0"/><use href="#o2" x="105.4" y="307.9"/><use href="#o2" x="131.3" y="308.0"/><use href="#o2" x="146.6" y="291.0"/><use href="#o2" x="151.0" y="268.0"/><use href="#o2" x="120.0" y="282.2"/><use href="#o2" x="137.6" y="294.8"/><use href="#o2" x="141.5" y="310.5"/><use href="#o2" x="134.5" y="312.3"/><use href="#o2" x="131.7" y="279.5"/><use href="#o2" x="149.9" y="267.8"/><use href="#o2" x="133.8" y="264.7"/><use href="#o2" x="140.9" y="274.1"/><use href="#o2" x="109.9" y="289.5"/><use href="#o2" x="105.0" y="325.0"/><use href="#o2" x="113.8" y="261.2"/><use href="#o2" x="110.1" y="281.6"/><use href="#o2" x="129.1" y="281.4"/><use href="#o2" x="127.9" y="287.2"/><use href="#o2" x="121.7" y="244.8"/><use href="#o2" x="132.3" y="293.6"/><use href="#o2" x="145.0" y="298.9"/><use href="#o2" x="147.6" y="299.5"/><use href="#o2" x="111.5" y="261.1"/><use href="#o2" x="115.1" y="288.2"/><use href="#o2" x="147.7" y="294.5"/><use href="#o2" x="106.8" y="300.2"/><use href="#o2" x="107.3" y="286.8"/><use href="#o2" x="106.3" y="286.2"/><use href="#o2" x="109.4" y="321.8"/><use href="#o2" x="122.5" y="307.2"/><use href="#o2" x="123.4" y="290.9"/><use href="#o2" x="109.8" y="289.6"/><use href="#o2" x="123.4" y="303.6"/><use href="#o2" x="120.4" y="275.7"/><use href="#o2" x="130.7" y="308.0"/><use href="#o2" x="114.8" y="292.3"/><use href="#o2" x="143.3" y="289.8"/><use href="#o2" x="147.3" y="277.2"/><use href="#o2" x="112.9" y="287.4"/><use href="#o2" x="121.6" y="300.6"/><use href="#o2" x="143.4" y="301.0"/><use href="#o2" x="115.7" y="292.7"/><use href="#o2" x="131.6" y="267.1"/><use href="#o2" x="118.4" y="273.9"/><use href="#o2" x="124.8" y="258.7"/><use href="#o2" x="147.2" y="287.6"/><use href="#o2" x="145.6" y="278.4"/><use href="#o2" x="129.3" y="287.9"/><use href="#o2" x="136.8" y="284.2"/><use href="#o2" x="137.1" y="289.0"/><use href="#o2" x="139.3" y="283.3"/><use href="#o2" x="141.6" y="300.0"/><use href="#o2" x="145.7" y="259.2"/><use href="#o2" x="151.6" y="310.9"/><use href="#o2" x="112.4" y="303.9"/><use href="#o2" x="141.5" y="267.5"/><use href="#o2" x="108.2" y="276.2"/><use href="#o2" x="105.1" y="309.6"/><use href="#o2" x="123.6" y="278.3"/><use href="#o2" x="120.6" y="258.7"/><use href="#o2" x="122.9" y="281.0"/><use href="#o2" x="114.9" y="300.8"/><use href="#o2" x="133.3" y="252.3"/><use href="#o2" x="154.2" y="272.1"/><use href="#o2" x="142.1" y="297.4"/><use href="#o2" x="110.5" y="303.1"/><use href="#o2" x="119.6" y="277.4"/><use href="#o2" x="146.4" y="287.1"/><use href="#o2" x="122.2" y="280.8"/><use href="#o2" x="117.5" y="300.6"/><use href="#o2" x="143.7" y="306.4"/><use href="#o2" x="137.0" y="298.2"/><use href="#o2" x="114.6" y="276.0"/><use href="#o2" x="150.2" y="320.1"/><use href="#o2" x="115.2" y="289.7"/><use href="#o2" x="111.5" y="266.4"/><use href="#o2" x="129.7" y="292.7"/><use href="#o2" x="149.5" y="273.1"/><use href="#o2" x="128.5" y="296.9"/><use href="#o2" x="135.1" y="281.7"/><use href="#o2" x="131.5" y="311.3"/><use href="#o2" x="138.1" y="294.1"/><use href="#o2" x="116.3" y="267.9"/><use href="#o2" x="137.6" y="277.7"/><use href="#o2" x="137.6" y="291.8"/><use href="#o2" x="120.3" y="311.4"/><use href="#o2" x="126.3" y="278.5"/><use href="#o2" x="154.8" y="306.6"/><use href="#o2" x="112.4" y="292.8"/></g><g fill="#1919e6" fill-opacity="0.50" stroke="#1919e6" stroke-opacity="0.75" stroke-width="0.50"><use href="#x2" x="143.1" y="327.2"/><use href="#x2" x="127.2" y="285.4"/><use href="#x2" x="131.3" y="306.8"/><use href="#x2" x="114.6" y="300.1"/><use href="#x2" x="109.7" y="286.1"/><use href="#x2" x="127.7" y="279.8"/><use href="#x2" x="138.3" y="320.7"/><use href="#x2" x="136.4" y="263.1"/><use href="#x2" x="136.1" y="282.8"/><use href="#x2" x="110.8" y="331.5"/><use href="#x2" x="140.8" y="276.4"/><use href="#x2" x="114.1" y="312.3"/><use href="#x2" x="132.6" y="325.4"/><use href="#x2" x="135.3" y="264.4"/><use href="#x2" x="147.1" y="303.7"/><use href="#x2" x="147.3" y="281.7"/><use href="#x2" x="149.4" y="279.1"/><use href="#x2" x="143.3" y="304.4"/><use href="#x2" x="122.5" y="265.9"/><use href="#x2" x="124.2" y="268.7"/><use href="#x2" x="111.3" y="332.9"/><use href="#x2" x="157.5" y="281.2"/><use href="#x2" x="134.1" y="291.2"/><use href="#x2" x="110.9" y="252.0"/><use href="#x2" x="133.1" y="273.1"/><use href="#x2" x="111.9" y="268.9"/><use href="#x2" x="139.1" y="249.9"/><use href="#x2" x="128.9" y="289.0"/><use href="#x2" x="109.9" y="275.7"/><use href="#x2" x="118.5" y="310.1"/></g><g fill="#e61919" fill-opacity="0.40" stroke="#e61919" stroke-opacity="0.65" stroke-width="0.50"><use href="#o2" x="157.0" y="370.0"/></g><g fill="#96e619" fill-opacity="0.45" stroke="#96e619" stroke-opacity="0.70" stroke-width="0.50"><use href="#v2" x="193.0" y="290.7"/><use href="#v2" x="186.1" y="277.7"/><use href="#v2" x="219.2" y="271.3"/><use href="#v2" x="218.9" y="278.2"/><use href="#v2" x="211.9" y="293.8"/><use href="#v2" x="179.1" y="310.7"/><use href="#v2" x="192.4" y="298.7"/><use href="#v2" x="216.8" y="333.4"/><use href="#v2" x="211.9" y="306.1"/><use href="#v2" x="180.3" y="296.1"/><use href="#v2" x="200.2" y="261.5"/><use href="#v2" x="173.3" y="296.5"/><use href="#v2" x="212.2" y="308.4"/><use href="#v2" x="212.0" y="342.2"/><use href="#v2" x="167.5" y="302.3"/><use href="#v2" x="175.5" y="323.5"/><use href="#v2" x="212.6" y="269.5"/><use href="#v2" x="216.9" y="289.5"/><use href="#v2" x="174.5" y="261.0"/><use href="#v2" x="173.3" y="286.1"/><use href="#v2" x="192.9" y="288.9"/><use href="#v2" x="187.2" y="276.7"/><use href="#v2" x="169.0" y="285.1"/><use href="#v2" x="192.0" y="299.9"/><use href="#v2" x="173.6" y="315.8"/><use href="#v2" x="169.6" y="287.1"/><use href="#v2" x="213.0" y="261.2"/><use href="#v2" x="161.5" y="318.8"/><use href="#v2" x="218.8" y="263.8"/><use href="#v2" x="212.7" y="310.7"/><use href="#v2" x="206.6" y="285.9"/><use href="#v2" x="160.7" y="295.7"/><use href="#v2" x="191.7" y="319.7"/><use href="#v2" x="168.3" y="303.4"/><use href="#v2" x="167.1" y="295.1"/><use href="#v2" x="193.3" y="282.4"/><use href="#v2" x="217.1" y="318.3"/><use href="#v2" x="175.1" y="297.2"/><use href="#v2" x="181.0" y="284.5"/><use href="#v2" x="206.1" y="289.0"/><use href="#v2" x="185.8" y="281.8"/><use href="#v2" x="206.4" y="260.2"/><use href="#v2" x="168.5" y="335.8"/><use href="#v2" x="168.8" y="325.8"/><use href="#v2" x="191.7" y="311.0"/><use href="#v2" x="168.0" y="272.1"/><use href="#v2" x="187.9" y="270.9"/><use href="#v2" x="197.9" y="324.1"/><use href="#v2" x="211.0" y="305.7"/><use href="#v2" x="210.6" y="319.7"/><use href="#v2" x="174.9" y="316.2"/><use href="#v2" x="162.7" y="330.6"/><use href="#v2" x="175.2" y="301.9"/><use href="#v2" x="193.6" y="302.8"/><use href="#v2" x="216.5" y="337.9"/><use href="#v2" x="199.8" y="276.7"/><use href="#v2" x="198.1" y="321.4"/><use href="#v2" x="197.7" y="256.8"/><use href="#v2" x="205.8" y="256.1"/><use href="#v2" x="193.6" y="317.8"/></g><g fill="#e61996" fill-opacity="0.45" stroke="#e61996" stroke-opacity="0.70" stroke-width="0.50"><use href="#r2" x="216.1" y="305.3"/><use href="#r2" x="174.0" y="279.6"/><use href="#r2" x="190.7" y="284.8"/><use href="#r2" x="210.9" y="312.3"/><use href="#r2" x="199.7" y="299.0"/><use href="#r2" x="204.1" y="311.7"/><use href="#r2" x="215.8" y="306.7"/><use href="#r2" x="190.1" y="257.9"/><use href="#r2" x="205.2" y="315.6"/><use href="#r2" x="190.0" y="256.1"/><use href="#r2" x="174.0" y="300.0"/><use href="#r2" x="175.6" y="285.0"/><use href="#r2" x="215.3" y="252.8"/><use href="#r2" x="200.5" y="293.5"/><use href="#r2" x="199.4" y="275.4"/><use href="#r2" x="174.9" y="320.9"/><use href="#r2" x="216.9" y="265.0"/><use href="#r2" x="175.2" y="260.9"/><use href="#r2" x="175.1" y="268.8"/><use href="#r2" x="210.5" y="272.6"/><use href="#r2" x="189.3" y="285.2"/><use href="#r2" x="175.5" y="279.3"/><use href="#r2" x="175.5" y="300.5"/><use href="#r2" x="200.7" y="305.6"/><use href="#r2" x="211.8" y="296.1"/><use href="#r2" x="204.3" y="283.2"/><use href="#r2" x="174.1" y="278.4"/><use href="#r2" x="175.2" y="290.1"/><use href="#r2" x="216.0" y="313.4"/><use href="#r2" x="175.0" y="289.1"/><use href="#r2" x="210.8" y="300.7"/><use href="#r2" x="211.2" y="283.4"/><use href="#r2" x="211.6" y="276.5"/><use href="#r2" x="200.4" y="292.7"/><use href="#r2" x="200.8" y="273.6"/><use href="#r2" x="211.9" y="318.4"/><use href="#r2" x="200.1" y="308.5"/><use href="#r2" x="215.9" y="283.9"/><use href="#r2" x="205.2" y="295.1"/><use href="#r2" x="211.1" y="313.6"/><use href="#r2" x="216.5" y="294.8"/><use href="#r2" x="211.6" y="276.5"/><use href="#r2" x="189.9" y="287.5"/><use href="#r2" x="210.0" y="266.3"/><use href="#r2" x="205.2" y="318.1"/><use href="#r2" x="200.7" y="285.9"/><use href="#r2" x="216.1" y="271.5"/><use href="#r2" x="211.0" y="287.4"/><use href="#r2" x="215.2" y="289.6"/><use href="#r2" x="205.4" y="303.5"/><use href="#r2" x="174.7" y="305.1"/><use href="#r2" x="211.3" y="312.6"/><use href="#r2" x="174.4" y="321.8"/><use href="#r2" x="215.8" y="265.5"/><use href="#r2" x="174.5" y="305.2"/><use href="#r2" x="210.4" y="302.3"/><use href="#r2" x="215.2" y="295.3"/><use href="#r2" x="174.1" y="319.0"/><use href="#r2" x="200.3" y="320.1"/><use href="#r2" x="205.0" y="279.4"/></g><g fill="#19e696" fill-opacity="0.45" stroke="#19e696" stroke-opacity="0.70" stroke-width="0.50"><use href="#o2" x="220.2" y="254.7"/><use href="#o2" x="220.3" y="305.9"/><use href="#o2" x="191.5" y="327.2"/><use href="#o2" x="181.7" y="263.6"/><use href="#o2" x="164.2" y="307.1"/><use href="#o2" x="177.0" y="295.5"/><use href="#o2" x="202.0" y="287.4"/><use href="#o2" x="221.8" y="277.4"/><use href="#o2" x="227.7" y="325.9"/><use href="#o2" x="207.3" y="290.0"/><use href="#o2" x="195.2" y="285.4"/><use href="#o2" x="217.1" y="319.7"/><use href="#o2" x="213.5" y="321.7"/><use href="#o2" x="176.0" y="332.3"/><use href="#o2" x="172.0" y="324.1"/><use href="#o2" x="213.1" y="271.7"/><use href="#o2" x="227.2" y="289.6"/><use href="#o2" x="188.4" y="329.7"/><use href="#o2" x="220.5" y="244.8"/><use href="#o2" x="198.2" y="244.9"/><use href="#o2" x="191.1" y="278.2"/><use href="#o2" x="193.8" y="285.5"/><use href="#o2" x="230.0" y="277.5"/><use href="#o2" x="192.4" y="323.8"/><use href="#o2" x="214.6" y="292.4"/><use href="#o2" x="223.0" y="251.7"/><use href="#o2" x="210.5" y="323.0"/><use href="#o2" x="179.7" y="295.0"/><use href="#o2" x="214.0" y="258.6"/><use href="#o2" x="232.0" y="297.7"/><use href="#o2" x="178.3" y="262.4"/><use href="#o2" x="209.7" y="310.2"/><use href="#o2" x="167.2" y="319.1"/><use href="#o2" x="225.5" y="291.6"/><use href="#o2" x="232.1" y="250.1"/></g><g fill="#19e619" fill-opacity="0.45" stroke="#19e619" stroke-opacity="0.70" stroke-width="0.50"><use href="#d2" x="192.3" y="307.4"/><use href="#d2" x="191.9" y="298.1"/><use href="#d2" x="174.7" y="312.6"/><use href="#d2" x="180.8" y="276.2"/><use href="#d2" x="168.2" y="309.9"/><use href="#d2" x="161.4" y="310.2"/><use href="#d2" x="188.0" y="286.3"/><use href="#d2" x="186.2" y="275.1"/><use href="#d2" x="167.1" y="304.1"/><use href="#d2" x="175.0" y="304.1"/><use href="#d2" x="180.1" y="300.3"/><use href="#d2" x="175.1" y="323.3"/><use href="#d2" x="186.5" y="292.3"/><use href="#d2" x="199.1" y="287.0"/><use href="#d2" x="211.3" y="309.4"/><use href="#d2" x="180.9" y="312.2"/><use href="#d2" x="175.5" y="293.0"/><use href="#d2" x="179.6" y="290.1"/><use href="#d2" x="167.4" y="273.6"/><use href="#d2" x="219.0" y="300.3"/><use href="#d2" x="161.1" y="278.5"/><use href="#d2" x="161.2" y="299.5"/><use href="#d2" x="169.1" y="286.5"/><use href="#d2" x="205.2" y="302.8"/><use href="#d2" x="181.5" y="296.4"/><use href="#d2" x="168.6" y="273.6"/><use href="#d2" x="187.5" y="292.5"/><use href="#d2" x="185.8" y="291.1"/><use href="#d2" x="198.0" y="292.1"/><use href="#d2" x="161.5" y="295.3"/><use href="#d2" x="161.6" y="310.8"/><use href="#d2" x="174.3" y="291.0"/><use href="#d2" x="218.7" y="293.4"/><use href="#d2" x="212.2" y="266.0"/><use href="#d2" x="161.3" y="279.5"/><use href="#d2" x="167.2" y="287.5"/><use href="#d2" x="218.4" y="299.6"/><use href="#d2" x="218.2" y="295.1"/><use href="#d2" x="168.4" y="265.2"/><use href="#d2" x="187.6" y="283.7"/><use href="#d2" x="173.3" y="270.8"/><use href="#d2" x="198.4" y="290.1"/><use href="#d2" x="193.3" y="297.9"/><use href="#d2" x="193.5" y="293.0"/><use href="#d2" x="206.5" y="292.2"/><use href="#d2" x="204.6" y="255.4"/><use href="#d2" x="206.6" y="299.1"/><use href="#d2" x="193.6" y="298.5"/><use href="#d2" x="186.3" y="327.9"/><use href="#d2" x="198.5" y="341.6"/><use href="#d2" x="206.5" y="306.8"/><use href="#d2" x="162.2" y="300.1"/><use href="#d2" x="187.7" y="302.0"/><use href="#d2" x="211.5" y="255.0"/><use href="#d2" x="211.7" y="288.3"/><use href="#d2" x="191.9" y="303.8"/><use href="#d2" x="210.8" y="270.7"/><use href="#d2" x="187.2" y="319.6"/><use href="#d2" x="217.2" y="305.9"/><use href="#d2" x="210.4" y="290.5"/><use href="#d2" x="181.8" y="313.5"/><use href="#d2" x="168.0" y="310.6"/><use href="#d2" x="199.2" y="286.3"/><use href="#d2" x="169.4" y="306.1"/><use href="#d2" x="187.2" y="271.9"/><use href="#d2" x="200.3" y="340.6"/><use href="#d2" x="162.6" y="289.2"/><use href="#d2" x="180.5" y="289.6"/><use href="#d2" x="212.7" y="270.9"/><use href="#d2" x="211.5" y="274.4"/><use href="#d2" x="198.5" y="294.4"/><use href="#d2" x="218.6" y="307.4"/><use href="#d2" x="163.0" y="302.8"/><use href="#d2" x="200.2" y="289.6"/><use href="#d2" x="211.1" y="281.1"/><use href="#d2" x="212.3" y="296.7"/><use href="#d2" x="204.5" y="317.2"/><use href="#d2" x="186.6" y="302.4"/><use href="#d2" x="179.6" y="286.0"/><use href="#d2" x="204.4" y="281.6"/><use href="#d2" x="199.0" y="296.3"/><use href="#d2" x="179.8" y="287.8"/><use href="#d2" x="218.5" y="296.1"/><use href="#d2" x="186.5" y="298.2"/><use href="#d2" x="168.6" y="270.5"/><use href="#d2" x="212.3" y="319.7"/><use href="#d2" x="205.1" y="270.5"/><use href="#d2" x="174.5" y="276.5"/><use href="#d2" x="205.5" y="287.8"/><use href="#d2" x="205.8" y="297.5"/><use href="#d2" x="205.7" y="285.6"/><use href="#d2" x="204.4" y="277.2"/><use href="#d2" x="193.3" y="258.5"/><use href="#d2" x="173.8" y="292.4"/><use href="#d2" x="180.4" y="315.0"/><use href="#d2" x="181.8" y="277.4"/><use href="#d2" x="175.0" y="299.1"/><use href="#d2" x="198.4" y="286.7"/><use href="#d2" x="193.5" y="316.9"/><use href="#d2" x="168.5" y="300.9"/><use href="#d2" x="162.1" y="317.1"/><use href="#d2" x="180.0" y="297.4"/><use href="#d2" x="174.3" y="279.9"/><use href="#d2" x="217.3" y="257.4"/><use href="#d2" x="175.5" y="331.8"/><use href="#d2" x="193.8" y="327.1"/><use href="#d2" x="174.0" y="325.6"/><use href="#d2" x="168.8" y="322.6"/><use href="#d2" x="161.8" y="276.6"/><use href="#d2" x="161.9" y="307.5"/><use href="#d2" x="179.5" y="271.3"/><use href="#d2" x="199.9" y="300.1"/><use href="#d2" x="205.4" y="301.9"/><use href="#d2" x="205.2" y="324.2"/><use href="#d2" x="161.3" y="263.7"/><use href="#d2" x="211.0" y="286.9"/><use href="#d2" x="204.3" y="265.0"/><use href="#d2" x="162.1" y="282.4"/><use href="#d2" x="198.3" y="298.7"/><use href="#d2" x="169.0" y="293.0"/><use href="#d2" x="161.1" y="273.6"/><use href="#d2" x="193.5" y="286.9"/><use href="#d2" x="218.1" y="276.1"/><use href="#d2" x="181.8" y="303.3"/><use href="#d2" x="212.2" y="279.0"/><use href="#d2" x="173.7" y="293.7"/><use href="#d2" x="218.1" y="298.6"/><use href="#d2" x="162.4" y="313.1"/><use href="#d2" x="181.7" y="278.5"/><use href="#d2" x="186.6" y="301.5"/><use href="#d2" x="174.4" y="263.0"/><use href="#d2" x="205.8" y="273.9"/><use href="#d2" x="204.4" y="305.2"/><use href="#d2" x="162.7" y="276.3"/><use href="#d2" x="210.9" y="255.1"/><use href="#d2" x="162.9" y="279.5"/><use href="#d2" x="212.4" y="301.8"/><use href="#d2" x="180.2" y="296.5"/><use href="#d2" x="204.4" y="302.8"/><use href="#d2" x="204.9" y="315.0"/><use href="#d2" x="173.6" y="318.1"/><use href="#d2" x="173.3" y="282.2"/><use href="#d2" x="217.9" y="297.1"/><use href="#d2" x="193.4" y="304.4"/><use href="#d2" x="168.4" y="315.2"/><use href="#d2" x="186.9" y="283.6"/><use href="#d2" x="174.1" y="311.9"/><use href="#d2" x="162.1" y="287.5"/><use href="#d2" x="199.9" y="312.5"/><use href="#d2" x="161.7" y="309.2"/><use href="#d2" x="161.2" y="319.2"/><use href="#d2" x="199.1" y="275.9"/><use href="#d2" x="180.9" y="280.0"/><use href="#d2" x="185.8" y="285.1"/><use href="#d2" x="163.0" y="326.8"/><use href="#d2" x="218.5" y="320.3"/><use href="#d2" x="181.8" y="282.9"/><use href="#d2" x="173.8" y="317.7"/><use href="#d2" x="211.3" y="272.6"/><use href="#d2" x="186.5" y="323.2"/><use href="#d2" x="163.2" y="261.6"/><use href="#d2" x="198.6" y="304.7"/><use href="#d2" x="167.3" y="346.4"/><use href="#d2" x="204.9" y="284.9"/><use href="#d2" x="168.2" y="290.7"/><use href="#d2" x="211.0" y="301.6"/><use href="#d2" x="186.7" y="291.0"/><use href="#d2" x="169.0" y="309.0"/><use href="#d2" x="161.7" y="336.8"/><use href="#d2" x="162.6" y="279.2"/><use href="#d2" x="187.0" y="293.8"/><use href="#d2" x="169.2" y="287.5"/><use href="#d2" x="169.0" y="263.8"/><use href="#d2" x="174.3" y="276.6"/><use href="#d2" x="186.7" y="271.2"/><use href="#d2" x="218.2" y="286.3"/><use href="#d2" x="161.3" y="286.7"/><use href="#d2" x="212.8" y="294.9"/><use href="#d2" x="163.2" y="279.6"/><use href="#d2" x="173.5" y="290.6"/><use href="#d2" x="217.9" y="286.6"/><use href="#d2" x="217.6" y="307.9"/><use href="#d2" x="162.1" y="305.1"/><use href="#d2" x="218.2" y="292.7"/><use href="#d2" x="205.9" y="301.4"/><use href="#d2" x="168.0" y="293.4"/><use href="#d2" x="218.2" y="317.2"/><use href="#d2" x="174.8" y="300.5"/><use href="#d2" x="160.9" y="268.8"/><use href="#d2" x="212.4" y="295.8"/><use href="#d2" x="198.6" y="259.3"/><use href="#d2" x="212.2" y="322.4"/><use href="#d2" x="163.0" y="311.5"/><use href="#d2" x="187.6" y="282.0"/><use href="#d2" x="212.6" y="328.4"/><use href="#d2" x="192.5" y="297.0"/><use href="#d2" x="187.4" y="308.8"/><use href="#d2" x="187.3" y="292.2"/><use href="#d2" x="187.8" y="298.9"/><use href="#d2" x="174.3" y="298.9"/><use href="#d2" x="193.4" y="302.5"/><use href="#d2" x="161.2" y="295.8"/><use href="#d2" x="211.2" y="305.5"/><use href="#d2" x="179.6" y="305.0"/><use href="#d2" x="205.2" y="307.4"/><use href="#d2" x="193.0" y="294.7"/><use href="#d2" x="210.9" y="256.1"/><use href="#d2" x="179.8" y="292.9"/><use href="#d2" x="217.1" y="254.7"/><use href="#d2" x="186.2" y="298.0"/><use href="#d2" x="180.6" y="292.8"/><use href="#d2" x="217.9" y="304.7"/><use href="#d2" x="199.1" y="322.0"/><use href="#d2" x="187.3" y="282.5"/><use href="#d2" x="204.9" y="312.0"/><use href="#d2" x="179.9" y="278.5"/><use href="#d2" x="198.8" y="271.4"/><use href="#d2" x="161.2" y="289.7"/><use href="#d2" x="169.0" y="273.9"/><use href="#d2" x="205.4" y="272.1"/></g><g fill="#96e619" fill-opacity="0.45" stroke="#96e619" stroke-opacity="0.70" stroke-width="0.50"><use href="#u2" x="250.7" y="256.7"/><use href="#u2" x="243.3" y="266.7"/><use href="#u2" x="246.5" y="274.9"/><use href="#u2" x="247.8" y="274.2"/><use href="#u2" x="226.7" y="307.9"/><use href="#u2" x="240.1" y="259.1"/><use href="#u2" x="207.8" y="343.2"/><use href="#u2" x="252.2" y="318.3"/><use href="#u2" x="263.6" y="283.8"/><use href="#u2" x="210.7" y="288.7"/><use href="#u2" x="204.5" y="304.1"/><use href="#u2" x="231.7" y="311.7"/><use href="#u2" x="247.4" y="306.5"/><use href="#u2" x="244.7" y="290.0"/><use href="#u2" x="266.0" y="299.1"/><use href="#u2" x="254.8" y="305.7"/><use href="#u2" x="266.5" y="321.1"/><use href="#u2" x="236.5" y="331.0"/><use href="#u2" x="266.1" y="254.6"/><use href="#u2" x="237.8" y="284.7"/><use href="#u2" x="248.2" y="281.2"/><use href="#u2" x="257.2" y="335.2"/><use href="#u2" x="209.4" y="260.5"/><use href="#u2" x="220.0" y="259.4"/><use href="#u2" x="238.5" y="278.5"/><use href="#u2" x="244.1" y="295.4"/><use href="#u2" x="210.5" y="263.1"/><use href="#u2" x="204.0" y="349.2"/><use href="#u2" x="264.5" y="284.0"/><use href="#u2" x="251.7" y="251.7"/></g><g fill="#96e619" fill-opacity="0.45" stroke="#96e619" stroke-opacity="0.70" stroke-width="0.50"><use href="#v2" x="191.8" y="296.4"/><use href="#v2" x="185.9" y="262.5"/><use href="#v2" x="218.0" y="271.9"/><use href="#v2" x="216.9" y="311.4"/><use href="#v2" x="212.4" y="298.2"/><use href="#v2" x="181.3" y="249.4"/><use href="#v2" x="191.8" y="291.3"/><use href="#v2" x="216.9" y="293.7"/><use href="#v2" x="212.1" y="318.6"/><use href="#v2" x="181.7" y="251.5"/><use href="#v2" x="197.8" y="333.8"/><use href="#v2" x="174.5" y="337.7"/><use href="#v2" x="212.1" y="271.8"/><use href="#v2" x="211.9" y="306.6"/><use href="#v2" x="168.3" y="332.2"/><use href="#v2" x="174.4" y="280.3"/><use href="#v2" x="210.9" y="308.7"/><use href="#v2" x="219.2" y="257.3"/><use href="#v2" x="175.5" y="291.9"/><use href="#v2" x="174.7" y="298.5"/><use href="#v2" x="191.5" y="285.7"/><use href="#v2" x="186.2" y="298.3"/><use href="#v2" x="167.2" y="259.8"/><use href="#v2" x="193.3" y="298.5"/><use href="#v2" x="174.1" y="322.1"/><use href="#v2" x="169.2" y="307.4"/><use href="#v2" x="210.5" y="344.4"/><use href="#v2" x="162.6" y="309.1"/><use href="#v2" x="218.2" y="256.6"/><use href="#v2" x="210.9" y="271.9"/></g><g fill="#e61919" fill-opacity="0.40" stroke="#e61919" stroke-opacity="0.65" stroke-width="0.50"><use href="#d2" x="244.8" y="303.2"/><use href="#d2" x="223.7" y="301.0"/><use href="#d2" x="217.1" y="295.7"/><use href="#d2" x="238.2" y="281.3"/><use href="#d2" x="240.6" y="276.7"/><use href="#d2" x="243.2" y="274.6"/><use href="#d2" x="237.9" y="305.0"/><use href="#d2" x="243.4" y="270.5"/><use href="#d2" x="238.3" y="267.8"/><use href="#d2" x="247.0" y="315.7"/><use href="#d2" x="235.9" y="284.6"/><use href="#d2" x="256.1" y="302.9"/><use href="#d2" x="246.8" y="289.2"/><use href="#d2" x="230.5" y="298.0"/><use href="#d2" x="249.5" y="326.5"/><use href="#d2" x="218.5" y="299.5"/><use href="#d2" x="219.1" y="290.3"/><use href="#d2" x="220.5" y="268.1"/><use href="#d2" x="244.1" y="308.4"/><use href="#d2" x="254.9" y="306.7"/><use href="#d2" x="227.6" y="284.3"/><use href="#d2" x="254.1" y="276.2"/><use href="#d2" x="247.5" y="261.8"/><use href="#d2" x="222.6" y="301.5"/><use href="#d2" x="222.1" y="293.7"/><use href="#d2" x="237.5" y="278.0"/><use href="#d2" x="254.5" y="294.6"/><use href="#d2" x="229.9" y="263.6"/><use href="#d2" x="224.6" y="305.5"/><use href="#d2" x="225.9" y="282.4"/><use href="#d2" x="245.8" y="271.4"/><use href="#d2" x="258.3" y="297.4"/><use href="#d2" x="231.0" y="281.2"/><use href="#d2" x="240.3" y="276.1"/><use href="#d2" x="234.3" y="295.6"/><use href="#d2" x="218.8" y="314.0"/><use href="#d2" x="248.1" y="305.8"/><use href="#d2" x="249.1" y="291.8"/><use href="#d2" x="254.1" y="302.0"/><use href="#d2" x="241.6" y="278.0"/><use href="#d2" x="230.3" y="288.7"/><use href="#d2" x="223.5" y="293.3"/><use href="#d2" x="226.1" y="286.9"/><use href="#d2" x="232.5" y="257.0"/><use href="#d2" x="254.4" y="282.5"/><use href="#d2" x="234.3" y="317.7"/><use href="#d2" x="217.1" y="278.9"/><use href="#d2" x="217.4" y="282.5"/><use href="#d2" x="252.8" y="294.0"/><use href="#d2" x="239.0" y="314.7"/><use href="#d2" x="233.1" y="291.8"/><use href="#d2" x="242.8" y="292.6"/><use href="#d2" x="258.6" y="276.5"/><use href="#d2" x="244.8" y="269.1"/><use href="#d2" x="248.0" y="287.0"/><use href="#d2" x="224.0" y="281.0"/><use href="#d2" x="240.9" y="263.1"/><use href="#d2" x="237.7" y="284.8"/><use href="#d2" x="239.0" y="297.2"/><use href="#d2" x="229.7" y="302.8"/><use href="#d2" x="224.3" y="293.8"/><use href="#d2" x="232.1" y="286.2"/><use href="#d2" x="217.0" y="298.4"/><use href="#d2" x="252.2" y="289.2"/><use href="#d2" x="234.3" y="295.4"/><use href="#d2" x="244.5" y="254.6"/><use href="#d2" x="222.0" y="271.0"/><use href="#d2" x="223.1" y="311.7"/><use href="#d2" x="233.8" y="266.7"/><use href="#d2" x="222.8" y="265.4"/><use href="#d2" x="216.8" y="261.1"/><use href="#d2" x="225.6" y="282.6"/><use href="#d2" x="231.6" y="297.1"/><use href="#d2" x="255.8" y="270.4"/><use href="#d2" x="256.7" y="293.3"/><use href="#d2" x="217.6" y="283.7"/><use href="#d2" x="229.9" y="289.3"/><use href="#d2" x="241.1" y="278.8"/><use href="#d2" x="249.6" y="313.3"/><use href="#d2" x="250.1" y="314.7"/><use href="#d2" x="236.5" y="307.8"/><use href="#d2" x="222.6" y="262.6"/><use href="#d2" x="228.5" y="279.7"/><use href="#d2" x="252.5" y="300.4"/><use href="#d2" x="231.3" y="292.3"/><use href="#d2" x="256.2" y="282.5"/><use href="#d2" x="230.0" y="290.5"/><use href="#d2" x="227.5" y="294.7"/><use href="#d2" x="256.2" y="288.9"/><use href="#d2" x="255.0" y="290.9"/><use href="#d2" x="232.3" y="270.5"/><use href="#d2" x="256.7" y="285.1"/><use href="#d2" x="249.3" y="262.8"/><use href="#d2" x="216.7" y="260.9"/><use href="#d2" x="220.7" y="258.3"/><use href="#d2" x="224.1" y="295.9"/><use href="#d2" x="256.9" y="258.9"/><use href="#d2" x="232.3" y="286.7"/><use href="#d2" x="251.7" y="301.4"/><use href="#d2" x="217.0" y="249.7"/><use href="#d2" x="219.5" y="278.9"/><use href="#d2" x="236.8" y="300.8"/><use href="#d2" x="226.9" y="286.3"/><use href="#d2" x="217.7" y="291.7"/><use href="#d2" x="217.7" y="294.0"/><use href="#d2" x="229.8" y="319.5"/><use href="#d2" x="231.9" y="302.1"/><use href="#d2" x="237.5" y="266.4"/><use href="#d2" x="217.2" y="294.1"/><use href="#d2" x="237.3" y="289.1"/><use href="#d2" x="232.0" y="264.6"/><use href="#d2" x="234.8" y="282.8"/><use href="#d2" x="249.0" y="263.4"/><use href="#d2" x="248.2" y="300.3"/><use href="#d2" x="237.9" y="303.2"/><use href="#d2" x="242.9" y="277.7"/><use href="#d2" x="258.3" y="288.0"/><use href="#d2" x="220.1" y="289.6"/><use href="#d2" x="224.3" y="283.6"/><use href="#d2" x="219.8" y="286.1"/><use href="#d2" x="221.5" y="307.5"/><use href="#d2" x="249.9" y="308.4"/><use href="#d2" x="219.2" y="263.9"/><use href="#d2" x="239.6" y="309.6"/><use href="#d2" x="225.9" y="286.6"/><use href="#d2" x="235.2" y="307.5"/><use href="#d2" x="228.9" y="268.2"/><use href="#d2" x="225.0" y="288.7"/><use href="#d2" x="243.5" y="268.5"/><use href="#d2" x="220.1" y="272.8"/><use href="#d2" x="252.9" y="284.8"/><use href="#d2" x="250.3" y="282.2"/><use href="#d2" x="253.3" y="270.7"/><use href="#d2" x="258.8" y="284.8"/><use href="#d2" x="221.9" y="278.4"/><use href="#d2" x="232.8" y="293.1"/><use href="#d2" x="258.8" y="294.5"/><use href="#d2" x="233.7" y="294.4"/><use href="#d2" x="221.0" y="256.8"/><use href="#d2" x="230.8" y="276.4"/><use href="#d2" x="236.2" y="284.9"/><use href="#d2" x="237.6" y="286.5"/><use href="#d2" x="217.8" y="259.3"/><use href="#d2" x="242.1" y="309.1"/><use href="#d2" x="228.6" y="313.5"/><use href="#d2" x="235.3" y="298.3"/><use href="#d2" x="247.9" y="279.7"/><use href="#d2" x="237.6" y="288.3"/><use href="#d2" x="250.3" y="277.6"/><use href="#d2" x="251.7" y="299.9"/><use href="#d2" x="251.1" y="299.5"/><use href="#d2" x="237.4" y="269.3"/><use href="#d2" x="251.9" y="297.7"/><use href="#d2" x="255.1" y="269.9"/><use href="#d2" x="249.0" y="297.8"/><use href="#d2" x="250.5" y="302.5"/><use href="#d2" x="238.9" y="270.5"/><use href="#d2" x="253.1" y="269.1"/><use href="#d2" x="256.2" y="298.7"/><use href="#d2" x="220.7" y="282.0"/><use href="#d2" x="232.1" y="290.2"/><use href="#d2" x="239.8" y="302.5"/><use href="#d2" x="222.3" y="302.9"/><use href="#d2" x="218.7" y="305.8"/><use href="#d2" x="259.5" y="253.2"/><use href="#d2" x="232.8" y="272.6"/><use href="#d2" x="247.8" y="275.9"/><use href="#d2" x="229.7" y="283.5"/><use href="#d2" x="235.7" y="306.8"/><use href="#d2" x="231.7" y="288.2"/><use href="#d2" x="237.6" y="289.9"/><use href="#d2" x="232.6" y="306.3"/><use href="#d2" x="232.7" y="287.1"/><use href="#d2" x="252.5" y="263.2"/><use href="#d2" x="218.4" y="270.3"/><use href="#d2" x="223.6" y="297.6"/><use href="#d2" x="229.7" y="262.9"/><use href="#d2" x="237.2" y="265.1"/><use href="#d2" x="239.9" y="277.8"/><use href="#d2" x="256.1" y="283.2"/><use href="#d2" x="257.0" y="287.7"/><use href="#d2" x="220.6" y="279.0"/><use href="#d2" x="253.1" y="282.8"/><use href="#d2" x="223.5" y="315.8"/><use href="#d2" x="224.2" y="274.0"/><use href="#d2" x="255.8" y="300.9"/><use href="#d2" x="226.6" y="312.9"/><use href="#d2" x="244.5" y="289.9"/><use href="#d2" x="246.2" y="283.3"/><use href="#d2" x="221.6" y="275.8"/><use href="#d2" x="242.4" y="292.3"/><use href="#d2" x="217.3" y="270.9"/><use href="#d2" x="220.1" y="319.7"/><use href="#d2" x="225.9" y="306.6"/><use href="#d2" x="228.1" y="294.9"/><use href="#d2" x="230.0" y="294.4"/><use href="#d2" x="230.0" y="288.7"/><use href="#d2" x="241.4" y="274.9"/><use href="#d2" x="226.6" y="263.7"/><use href="#d2" x="227.1" y="299.6"/></g><g fill="#19e619" fill-opacity="0.45" stroke="#19e619" stroke-opacity="0.70" stroke-width="0.50"><use href="#d2" x="243.7" y="284.7"/><use href="#d2" x="229.0" y="254.4"/><use href="#d2" x="228.8" y="276.9"/><use href="#d2" x="230.1" y="320.5"/><use href="#d2" x="219.9" y="266.4"/><use href="#d2" x="221.1" y="309.6"/><use href="#d2" x="252.6" y="282.1"/><use href="#d2" x="257.4" y="307.1"/><use href="#d2" x="255.4" y="293.0"/><use href="#d2" x="253.1" y="261.1"/><use href="#d2" x="251.8" y="310.2"/><use href="#d2" x="239.8" y="286.3"/><use href="#d2" x="257.5" y="310.5"/><use href="#d2" x="223.1" y="312.1"/><use href="#d2" x="226.8" y="294.3"/><use href="#d2" x="248.3" y="335.9"/><use href="#d2" x="242.4" y="294.4"/><use href="#d2" x="223.3" y="292.0"/><use href="#d2" x="252.3" y="289.1"/><use href="#d2" x="226.8" y="272.9"/><use href="#d2" x="235.6" y="313.7"/><use href="#d2" x="238.3" y="309.7"/><use href="#d2" x="259.3" y="309.1"/><use href="#d2" x="234.9" y="336.3"/><use href="#d2" x="222.0" y="249.4"/><use href="#d2" x="256.4" y="305.4"/><use href="#d2" x="248.0" y="264.7"/><use href="#d2" x="227.6" y="316.0"/><use href="#d2" x="225.6" y="301.2"/><use href="#d2" x="230.3" y="284.5"/><use href="#d2" x="224.9" y="290.9"/><use href="#d2" x="226.1" y="313.2"/><use href="#d2" x="223.2" y="307.2"/><use href="#d2" x="236.9" y="288.6"/><use href="#d2" x="247.4" y="321.2"/><use href="#d2" x="249.1" y="294.3"/><use href="#d2" x="237.7" y="278.5"/><use href="#d2" x="247.3" y="297.8"/><use href="#d2" x="224.3" y="286.1"/><use href="#d2" x="226.5" y="272.0"/><use href="#d2" x="236.8" y="288.1"/><use href="#d2" x="245.0" y="308.6"/><use href="#d2" x="248.9" y="287.1"/><use href="#d2" x="257.8" y="265.3"/><use href="#d2" x="238.3" y="323.7"/><use href="#d2" x="247.9" y="273.8"/><use href="#d2" x="259.8" y="251.2"/><use href="#d2" x="238.5" y="276.1"/><use href="#d2" x="253.3" y="267.6"/><use href="#d2" x="228.9" y="313.2"/><use href="#d2" x="238.3" y="274.6"/><use href="#d2" x="245.6" y="267.0"/><use href="#d2" x="247.6" y="252.6"/><use href="#d2" x="244.0" y="284.9"/><use href="#d2" x="260.0" y="311.3"/><use href="#d2" x="227.3" y="285.6"/><use href="#d2" x="231.5" y="312.2"/><use href="#d2" x="242.9" y="297.4"/><use href="#d2" x="229.9" y="275.2"/><use href="#d2" x="241.9" y="323.5"/></g><g fill="#1e96e6" fill-opacity="0.45" stroke="#1e96e6" stroke-opacity="0.70" stroke-width="0.50"><use href="#d2" x="259.7" y="290.3"/><use href="#d2" x="320.8" y="273.7"/><use href="#d2" x="281.7" y="266.8"/><use href="#d2" x="270.6" y="363.0"/><use href="#d2" x="293.8" y="299.6"/><use href="#d2" x="306.6" y="292.0"/><use href="#d2" x="259.5" y="312.0"/><use href="#d2" x="281.9" y="292.7"/><use href="#d2" x="306.9" y="277.6"/><use href="#d2" x="282.0" y="312.8"/><use href="#d2" x="320.8" y="295.4"/><use href="#d2" x="259.5" y="281.0"/><use href="#d2" x="294.1" y="291.2"/><use href="#d2" x="270.7" y="292.5"/><use href="#d2" x="270.3" y="320.6"/><use href="#d2" x="282.0" y="255.4"/><use href="#d2" x="306.6" y="284.1"/><use href="#d2" x="282.2" y="287.1"/><use href="#d2" x="259.3" y="275.6"/><use href="#d2" x="281.9" y="289.0"/><use href="#d2" x="306.6" y="318.2"/><use href="#d2" x="281.9" y="286.1"/><use href="#d2" x="270.2" y="309.7"/><use href="#d2" x="293.9" y="255.0"/><use href="#d2" x="293.9" y="285.2"/><use href="#d2" x="293.8" y="281.4"/><use href="#d2" x="281.8" y="292.8"/><use href="#d2" x="270.7" y="265.7"/><use href="#d2" x="259.4" y="262.5"/><use href="#d2" x="270.3" y="324.4"/><use href="#d2" x="320.5" y="270.3"/><use href="#d2" x="259.5" y="282.0"/><use href="#d2" x="270.5" y="324.9"/><use href="#d2" x="320.5" y="286.2"/><use href="#d2" x="282.3" y="276.1"/><use href="#d2" x="306.9" y="283.4"/><use href="#d2" x="259.3" y="282.8"/><use href="#d2" x="259.8" y="279.4"/><use href="#d2" x="270.5" y="317.8"/><use href="#d2" x="320.7" y="288.3"/></g><g fill="#1919e6" fill-opacity="0.50" stroke="#1919e6" stroke-opacity="0.75" stroke-width="0.50"><use href="#x2" x="259.3" y="299.1"/><use href="#x2" x="270.1" y="252.2"/><use href="#x2" x="282.2" y="309.4"/><use href="#x2" x="282.3" y="295.9"/><use href="#x2" x="282.1" y="300.0"/><use href="#x2" x="307.0" y="263.3"/><use href="#x2" x="282.0" y="281.9"/><use href="#x2" x="306.7" y="279.8"/><use href="#x2" x="320.4" y="278.8"/><use href="#x2" x="259.5" y="272.1"/><use href="#x2" x="270.3" y="264.0"/><use href="#x2" x="307.1" y="277.3"/><use href="#x2" x="320.4" y="307.2"/><use href="#x2" x="294.3" y="282.9"/><use href="#x2" x="282.2" y="280.5"/><use href="#x2" x="320.5" y="298.6"/><use href="#x2" x="307.1" y="324.0"/><use href="#x2" x="259.7" y="268.8"/><use href="#x2" x="293.7" y="284.9"/><use href="#x2" x="293.6" y="276.7"/><use href="#x2" x="270.1" y="282.3"/><use href="#x2" x="282.4" y="283.6"/><use href="#x2" x="293.6" y="288.2"/><use href="#x2" x="270.8" y="284.4"/><use href="#x2" x="259.7" y="284.5"/><use href="#x2" x="306.6" y="283.7"/><use href="#x2" x="307.1" y="295.2"/><use href="#x2" x="293.9" y="319.3"/><use href="#x2" x="320.5" y="296.0"/><use href="#x2" x="259.3" y="267.4"/><use href="#x2" x="307.0" y="286.2"/><use href="#x2" x="294.3" y="309.2"/><use href="#x2" x="259.6" y="275.9"/><use href="#x2" x="270.1" y="289.5"/><use href="#x2" x="320.8" y="294.4"/><use href="#x2" x="306.4" y="281.8"/><use href="#x2" x="270.9" y="301.9"/><use href="#x2" x="306.5" y="296.4"/><use href="#x2" x="306.4" y="290.6"/><use href="#x2" x="320.7" y="258.0"/><use href="#x2" x="307.1" y="299.9"/><use href="#x2" x="259.3" y="294.6"/><use href="#x2" x="281.8" y="307.1"/><use href="#x2" x="282.3" y="260.2"/><use href="#x2" x="307.0" y="275.0"/><use href="#x2" x="281.8" y="295.7"/><use href="#x2" x="259.7" y="296.7"/><use href="#x2" x="320.5" y="281.2"/><use href="#x2" x="259.1" y="273.1"/><use href="#x2" x="282.0" y="274.4"/><use href="#x2" x="259.2" y="283.0"/><use href="#x2" x="307.1" y="262.8"/><use href="#x2" x="282.1" y="319.5"/><use href="#x2" x="293.8" y="258.0"/><use href="#x2" x="307.1" y="286.2"/><use href="#x2" x="294.1" y="290.2"/><use href="#x2" x="259.1" y="287.7"/><use href="#x2" x="307.2" y="269.2"/><use href="#x2" x="293.9" y="267.1"/><use href="#x2" x="294.3" y="294.5"/><use href="#x2" x="270.7" y="279.3"/><use href="#x2" x="306.7" y="268.3"/><use href="#x2" x="306.8" y="261.5"/><use href="#x2" x="281.8" y="280.0"/><use href="#x2" x="270.4" y="278.4"/><use href="#x2" x="282.1" y="275.0"/><use href="#x2" x="282.1" y="280.2"/><use href="#x2" x="294.3" y="281.5"/><use href="#x2" x="294.3" y="291.0"/><use href="#x2" x="307.1" y="302.7"/><use href="#x2" x="307.2" y="266.5"/><use href="#x2" x="270.5" y="291.9"/><use href="#x2" x="281.9" y="268.6"/><use href="#x2" x="293.7" y="271.4"/><use href="#x2" x="293.9" y="276.9"/><use href="#x2" x="281.7" y="287.5"/><use href="#x2" x="306.6" y="254.8"/><use href="#x2" x="307.0" y="275.7"/><use href="#x2" x="259.4" y="257.1"/><use href="#x2" x="320.1" y="291.5"/><use href="#x2" x="270.3" y="299.8"/><use href="#x2" x="281.8" y="304.0"/><use href="#x2" x="320.4" y="250.1"/><use href="#x2" x="320.2" y="299.2"/><use href="#x2" x="259.4" y="284.4"/><use href="#x2" x="259.4" y="279.9"/><use href="#x2" x="259.9" y="265.2"/><use href="#x2" x="282.3" y="279.2"/><use href="#x2" x="293.9" y="295.5"/><use href="#x2" x="282.2" y="282.1"/><use href="#x2" x="294.1" y="281.3"/><use href="#x2" x="294.1" y="294.1"/><use href="#x2" x="259.9" y="287.1"/><use href="#x2" x="294.0" y="306.9"/><use href="#x2" x="294.0" y="283.2"/><use href="#x2" x="320.8" y="286.2"/><use href="#x2" x="306.6" y="290.5"/><use href="#x2" x="306.4" y="316.7"/><use href="#x2" x="294.1" y="267.0"/><use href="#x2" x="259.9" y="304.9"/><use href="#x2" x="270.4" y="306.0"/><use href="#x2" x="259.4" y="297.2"/><use href="#x2" x="320.8" y="273.7"/><use href="#x2" x="293.9" y="284.5"/><use href="#x2" x="282.0" y="284.2"/><use href="#x2" x="294.1" y="274.3"/><use href="#x2" x="270.5" y="295.2"/><use href="#x2" x="259.1" y="315.4"/><use href="#x2" x="320.7" y="274.7"/><use href="#x2" x="259.7" y="269.5"/><use href="#x2" x="259.3" y="280.5"/><use href="#x2" x="320.7" y="313.8"/><use href="#x2" x="281.8" y="259.7"/><use href="#x2" x="259.5" y="319.3"/><use href="#x2" x="294.2" y="271.1"/><use href="#x2" x="306.9" y="282.6"/><use href="#x2" x="270.7" y="295.4"/><use href="#x2" x="270.5" y="266.3"/><use href="#x2" x="270.8" y="297.6"/><use href="#x2" x="306.6" y="277.6"/><use href="#x2" x="270.4" y="291.9"/><use href="#x2" x="270.3" y="300.5"/><use href="#x2" x="307.2" y="283.6"/><use href="#x2" x="320.5" y="295.7"/><use href="#x2" x="307.0" y="301.7"/><use href="#x2" x="270.9" y="288.4"/><use href="#x2" x="282.0" y="270.1"/><use href="#x2" x="270.7" y="279.6"/><use href="#x2" x="259.7" y="270.7"/><use href="#x2" x="270.9" y="316.8"/><use href="#x2" x="306.6" y="270.6"/><use href="#x2" x="293.7" y="298.1"/><use href="#x2" x="259.6" y="273.4"/><use href="#x2" x="282.3" y="279.6"/><use href="#x2" x="270.3" y="270.4"/><use href="#x2" x="259.2" y="302.3"/><use href="#x2" x="270.7" y="283.8"/><use href="#x2" x="293.9" y="314.0"/><use href="#x2" x="320.3" y="290.2"/><use href="#x2" x="320.4" y="305.9"/><use href="#x2" x="282.0" y="261.5"/><use href="#x2" x="282.0" y="274.8"/><use href="#x2" x="294.0" y="284.4"/><use href="#x2" x="259.9" y="295.6"/><use href="#x2" x="259.2" y="270.0"/><use href="#x2" x="307.0" y="279.6"/><use href="#x2" x="294.0" y="285.4"/><use href="#x2" x="259.8" y="274.4"/><use href="#x2" x="270.2" y="284.0"/><use href="#x2" x="306.6" y="308.5"/><use href="#x2" x="306.6" y="302.4"/><use href="#x2" x="293.7" y="268.8"/><use href="#x2" x="306.7" y="293.2"/><use href="#x2" x="320.8" y="271.4"/><use href="#x2" x="270.8" y="276.3"/><use href="#x2" x="282.1" y="297.6"/><use href="#x2" x="293.9" y="267.2"/><use href="#x2" x="307.1" y="292.7"/><use href="#x2" x="306.8" y="295.9"/><use href="#x2" x="307.0" y="311.9"/><use href="#x2" x="294.2" y="276.8"/><use href="#x2" x="281.7" y="271.6"/><use href="#x2" x="307.1" y="302.6"/><use href="#x2" x="320.8" y="303.6"/><use href="#x2" x="320.5" y="280.9"/><use href="#x2" x="259.5" y="291.0"/><use href="#x2" x="320.8" y="255.7"/><use href="#x2" x="259.2" y="323.3"/><use href="#x2" x="293.7" y="276.0"/><use href="#x2" x="306.4" y="282.1"/><use href="#x2" x="320.5" y="271.8"/><use href="#x2" x="306.9" y="263.2"/><use href="#x2" x="270.3" y="291.6"/><use href="#x2" x="259.7" y="282.6"/><use href="#x2" x="320.5" y="286.3"/><use href="#x2" x="259.6" y="273.1"/><use href="#x2" x="320.7" y="301.8"/><use href="#x2" x="270.3" y="281.2"/><use href="#x2" x="270.4" y="300.9"/><use href="#x2" x="294.3" y="280.6"/><use href="#x2" x="259.8" y="259.1"/><use href="#x2" x="281.9" y="315.2"/><use href="#x2" x="306.5" y="280.3"/><use href="#x2" x="294.0" y="311.2"/><use href="#x2" x="307.0" y="297.5"/><use href="#x2" x="259.5" y="309.6"/><use href="#x2" x="259.4" y="307.2"/><use href="#x2" x="320.6" y="259.8"/><use href="#x2" x="282.0" y="261.3"/><use href="#x2" x="294.2" y="281.7"/><use href="#x2" x="282.0" y="303.5"/><use href="#x2" x="259.8" y="268.4"/><use href="#x2" x="270.2" y="264.6"/><use href="#x2" x="306.8" y="275.1"/><use href="#x2" x="270.8" y="282.3"/><use href="#x2" x="294.0" y="284.6"/><use href="#x2" x="259.3" y="304.6"/><use href="#x2" x="320.7" y="286.4"/><use href="#x2" x="307.1" y="298.5"/><use href="#x2" x="282.3" y="309.2"/></g><g fill="#e61996" fill-opacity="0.40" stroke="#e61996" stroke-opacity="0.65" stroke-width="0.50"><use href="#v2" x="306.6" y="281.0"/><use href="#v2" x="293.9" y="274.8"/><use href="#v2" x="270.2" y="249.3"/><use href="#v2" x="320.4" y="285.0"/><use href="#v2" x="259.3" y="243.5"/><use href="#v2" x="281.9" y="276.0"/><use href="#v2" x="320.6" y="259.9"/><use href="#v2" x="270.5" y="311.9"/><use href="#v2" x="306.7" y="290.1"/><use href="#v2" x="259.7" y="269.8"/><use href="#v2" x="306.9" y="305.0"/><use href="#v2" x="282.2" y="299.8"/><use href="#v2" x="320.5" y="270.6"/><use href="#v2" x="270.6" y="291.0"/><use href="#v2" x="281.8" y="286.6"/><use href="#v2" x="270.2" y="306.4"/><use href="#v2" x="320.3" y="311.9"/><use href="#v2" x="293.9" y="281.7"/><use href="#v2" x="294.3" y="321.0"/><use href="#v2" x="270.7" y="292.4"/><use href="#v2" x="270.4" y="315.9"/><use href="#v2" x="293.7" y="313.6"/><use href="#v2" x="293.9" y="296.0"/><use href="#v2" x="294.0" y="304.7"/><use href="#v2" x="294.0" y="293.8"/><use href="#v2" x="320.7" y="282.7"/><use href="#v2" x="282.1" y="245.7"/><use href="#v2" x="293.9" y="283.4"/><use href="#v2" x="259.6" y="287.7"/><use href="#v2" x="294.1" y="253.8"/><use href="#v2" x="307.1" y="325.3"/><use href="#v2" x="259.7" y="243.0"/><use href="#v2" x="270.6" y="255.7"/><use href="#v2" x="282.0" y="255.2"/><use href="#v2" x="259.7" y="326.0"/></g></g><g clip-path="url(#cTR)"><path d="M397.6 92V110M397.2 71V93M397.5 74V82M395.9 69V79M397.4 68V84M396.3 78V87M396.2 103V123M397.2 103V111M395.8 94V102M396.0 79V92M397.3 86V104M397.0 121V138M396.3 90V120M397.3 57V73M397.2 72V87M396.8 99V112M395.8 74V92M397.4 77V93M396.3 76V89M396.8 80V97M396.6 104V111M396.3 60V79M396.8 104V117M396.1 57V77M397.1 96V109M397.0 96V105M397.3 108V128M396.4 59V83M395.9 42V75M397.2 54V71M397.5 66V92M396.0 79V96M396.3 103V113M397.0 74V96M396.1 46V69M395.9 92V104M397.2 76V86M395.9 69V82M397.3 57V71M396.7 78V98M396.1 70V93M396.1 99V119M396.7 90V112M396.7 84V103M397.4 65V88M397.0 92V104M396.7 59V79M397.5 102V111M397.0 82V106M397.6 74V94M397.1 74V89M397.3 64V82M396.6 75V90M395.9 87V102M397.7 86V105M396.4 78V94M396.9 63V81M396.2 99V120M395.9 103V119M397.4 94V114M396.7 77V89M397.4 113V128M397.7 62V83M396.8 102V117M397.3 64V76M396.9 56V70M396.5 89V96M396.7 79V95M397.0 87V99M397.6 87V101M397.6 104V122M396.4 61V78M396.6 97V119M396.8 79V92M395.8 78V85M396.4 81V90M396.1 94V100M396.3 96V116M396.2 66V74M396.9 77V92M396.9 82V95M396.8 88V99M397.7 78V92M396.9 75V85M397.3 98V121M397.6 64V75M396.7 69V98M396.7 86V104M396.4 67V94M397.3 84V107M395.9 101V125M396.4 97V107M397.6 97V111M397.6 70V92M396.8 86V111M396.9 83V108M397.6 117V129M396.4 78V87M396.8 90V104M396.3 94V113M396.7 66V90M397.2 92V114M396.6 98V115M397.2 60V91M397.6 92V101M395.9 92V109M397.1 101V120M397.3 75V84M396.3 92V116M397.5 98V110M395.9 92V114M396.7 100V115M396.6 56V67M395.9 98V113M396.0 103V128M397.2 65V80M397.6 93V111M397.6 67V91M397.6 68V85M396.2 86V103M397.2 118V134M396.0 84V97M397.5 72V90M397.1 70V85M397.3 61V74M397.7 112V128M396.0 55V67M397.1 92V113M396.7 87V108M396.7 88V108M396.9 70V87M396.1 109V125M396.8 85V106M395.8 85V105M396.1 79V98M396.9 94V112M396.8 92V114M395.9 79V87M396.7 95V107M396.9 71V90M396.2 73V91M397.0 96V112M396.8 71V79M396.4 62V92M396.1 81V91M395.9 93V101M396.7 103V109M396.6 98V108M396.7 79V98M395.8 86V102M396.7 107V123M397.1 71V95M396.5 91V111M396.8 61V81M396.7 78V90M396.9 92V103M396.2 71V93M396.9 49V82M397.1 68V82M396.2 90V98M397.4 83V101M397.2 69V94M397.4 52V64M396.1 56V71M396.4 94V117M397.1 87V109M397.1 100V114M396.6 93V115M396.0 79V93M396.9 103V115M397.0 59V79M396.5 78V95M396.7 112V125M396.2 103V120M396.5 50V62M396.7 96V119M396.6 78V100M396.6 96V119M396.8 88V108M396.8 57V86M396.2 87V106M397.1 69V76M395.9 79V93M396.3 95V106M396.5 73V85M397.7 66V73M396.5 73V82M395.9 86V94M396.7 92V112M396.2 64V75M397.2 63V91M397.0 79V90M396.0 100V109M397.7 101V114M397.5 82V102M395.9 95V117M395.8 86V106M397.3 58V74M396.7 92V111M396.1 84V103M396.9 93V109M397.3 133V139M397.2 103V112M395.9 80V92M395.9 68V79M397.3 89V107M397.0 89V99M396.7 91V105M396.7 51V67M397.6 74V86" stroke="#1919e6" stroke-opacity="0.30" stroke-width="1" fill="none"/><g fill="#1919e6" fill-opacity="0.60" stroke="#1919e6" stroke-opacity="0.85" stroke-width="0.50"><use href="#p1" x="396.0" y="120.8"/><use href="#p1" x="397.6" y="100.9"/><use href="#p1" x="397.2" y="81.8"/><use href="#p1" x="397.5" y="78.0"/><use href="#p1" x="395.9" y="74.1"/><use href="#p1" x="397.4" y="76.3"/><use href="#p1" x="396.3" y="82.5"/><use href="#p1" x="396.2" y="112.8"/><use href="#p1" x="397.2" y="107.0"/><use href="#p1" x="395.8" y="97.9"/><use href="#p1" x="396.0" y="85.8"/><use href="#p1" x="397.3" y="94.8"/><use href="#p1" x="397.0" y="129.7"/><use href="#p1" x="396.3" y="105.1"/><use href="#p1" x="397.3" y="65.0"/><use href="#p1" x="397.2" y="79.7"/><use href="#p1" x="396.8" y="106.0"/><use href="#p1" x="395.8" y="83.0"/><use href="#p1" x="397.4" y="84.5"/><use href="#p1" x="396.3" y="82.6"/><use href="#p1" x="396.8" y="88.8"/><use href="#p1" x="396.8" y="85.8"/><use href="#p1" x="396.6" y="107.7"/><use href="#p1" x="396.3" y="69.2"/><use href="#p1" x="396.8" y="110.5"/><use href="#p1" x="396.1" y="66.8"/><use href="#p1" x="397.1" y="102.7"/><use href="#p1" x="396.2" y="72.6"/><use href="#p1" x="397.0" y="100.2"/><use href="#p1" x="397.3" y="118.0"/><use href="#p1" x="396.4" y="71.1"/><use href="#p1" x="395.9" y="58.5"/><use href="#p1" x="397.2" y="62.4"/><use href="#p1" x="397.5" y="78.6"/><use href="#p1" x="396.0" y="87.6"/><use href="#p1" x="396.3" y="108.0"/><use href="#p1" x="397.0" y="85.4"/><use href="#p1" x="396.1" y="57.5"/><use href="#p1" x="395.9" y="98.3"/><use href="#p1" x="397.2" y="80.5"/><use href="#p1" x="395.9" y="75.4"/><use href="#p1" x="397.3" y="64.0"/><use href="#p1" x="396.7" y="88.0"/><use href="#p1" x="396.1" y="81.6"/><use href="#p1" x="396.1" y="108.7"/><use href="#p1" x="396.7" y="101.0"/><use href="#p1" x="396.7" y="93.8"/><use href="#p1" x="397.4" y="76.4"/><use href="#p1" x="397.0" y="97.9"/><use href="#p1" x="396.7" y="68.6"/><use href="#p1" x="397.5" y="106.6"/><use href="#p1" x="397.0" y="94.2"/><use href="#p1" x="397.6" y="84.5"/><use href="#p1" x="397.1" y="81.3"/><use href="#p1" x="397.3" y="73.2"/><use href="#p1" x="396.6" y="82.1"/><use href="#p1" x="395.9" y="94.1"/><use href="#p1" x="397.7" y="95.4"/><use href="#p1" x="396.4" y="85.9"/><use href="#p1" x="396.9" y="72.1"/><use href="#p1" x="396.2" y="109.5"/><use href="#p1" x="395.9" y="111.2"/><use href="#p1" x="397.4" y="103.7"/><use href="#p1" x="396.5" y="68.5"/><use href="#p1" x="396.7" y="83.4"/><use href="#p1" x="397.4" y="120.6"/><use href="#p1" x="397.7" y="72.1"/><use href="#p1" x="396.9" y="90.6"/><use href="#p1" x="396.8" y="109.3"/><use href="#p1" x="397.3" y="70.4"/><use href="#p1" x="396.9" y="63.2"/><use href="#p1" x="396.5" y="92.7"/><use href="#p1" x="396.7" y="87.0"/><use href="#p1" x="397.1" y="65.0"/><use href="#p1" x="397.0" y="93.1"/><use href="#p1" x="397.6" y="94.1"/><use href="#p1" x="397.6" y="113.1"/><use href="#p1" x="396.4" y="69.8"/><use href="#p1" x="396.6" y="107.8"/><use href="#p1" x="396.8" y="85.7"/><use href="#p1" x="395.8" y="81.6"/><use href="#p1" x="396.4" y="85.2"/><use href="#p1" x="397.3" y="89.6"/><use href="#p1" x="396.1" y="97.0"/><use href="#p1" x="396.3" y="106.4"/><use href="#p1" x="396.2" y="70.2"/><use href="#p1" x="396.9" y="84.2"/><use href="#p1" x="396.9" y="88.4"/><use href="#p1" x="396.8" y="93.5"/><use href="#p1" x="397.7" y="85.0"/><use href="#p1" x="396.9" y="80.0"/><use href="#p1" x="397.3" y="109.5"/><use href="#p1" x="397.6" y="69.4"/><use href="#p1" x="396.7" y="83.3"/><use href="#p1" x="396.7" y="95.0"/><use href="#p1" x="396.4" y="80.5"/><use href="#p1" x="397.3" y="95.6"/><use href="#p1" x="395.9" y="112.7"/><use href="#p1" x="396.4" y="101.6"/><use href="#p1" x="397.6" y="103.8"/><use href="#p1" x="397.6" y="81.1"/><use href="#p1" x="396.8" y="98.3"/><use href="#p1" x="396.9" y="95.4"/><use href="#p1" x="397.6" y="123.4"/><use href="#p1" x="396.4" y="82.4"/><use href="#p1" x="396.8" y="97.2"/><use href="#p1" x="396.3" y="103.3"/><use href="#p1" x="396.7" y="78.2"/><use href="#p1" x="397.2" y="103.0"/><use href="#p1" x="396.6" y="106.5"/><use href="#p1" x="397.2" y="75.1"/><use href="#p1" x="397.6" y="96.7"/><use href="#p1" x="395.9" y="100.3"/><use href="#p1" x="397.1" y="110.5"/><use href="#p1" x="397.3" y="79.5"/><use href="#p1" x="396.3" y="104.2"/><use href="#p1" x="397.5" y="103.9"/><use href="#p1" x="395.9" y="102.9"/><use href="#p1" x="396.7" y="107.9"/><use href="#p1" x="396.6" y="61.2"/><use href="#p1" x="395.9" y="105.7"/><use href="#p1" x="396.0" y="115.4"/><use href="#p1" x="397.2" y="72.5"/><use href="#p1" x="397.6" y="102.3"/><use href="#p1" x="397.6" y="102.5"/><use href="#p1" x="396.2" y="101.7"/><use href="#p1" x="397.6" y="78.7"/><use href="#p1" x="397.6" y="76.7"/><use href="#p1" x="396.2" y="94.5"/><use href="#p1" x="397.2" y="125.7"/><use href="#p1" x="396.0" y="90.3"/><use href="#p1" x="397.5" y="81.2"/><use href="#p1" x="397.1" y="77.6"/><use href="#p1" x="397.3" y="67.4"/><use href="#p1" x="397.7" y="120.3"/><use href="#p1" x="396.0" y="61.0"/><use href="#p1" x="397.1" y="102.6"/><use href="#p1" x="396.7" y="97.6"/><use href="#p1" x="396.7" y="98.1"/><use href="#p1" x="396.9" y="78.5"/><use href="#p1" x="396.1" y="117.1"/><use href="#p1" x="396.8" y="95.3"/><use href="#p1" x="395.8" y="95.0"/><use href="#p1" x="396.1" y="88.6"/><use href="#p1" x="396.9" y="102.8"/><use href="#p1" x="396.8" y="102.9"/><use href="#p1" x="395.9" y="83.4"/><use href="#p1" x="396.7" y="100.7"/><use href="#p1" x="396.9" y="80.6"/><use href="#p1" x="396.2" y="81.9"/><use href="#p1" x="397.0" y="104.2"/><use href="#p1" x="396.8" y="75.3"/><use href="#p1" x="396.4" y="76.9"/><use href="#p1" x="396.1" y="85.7"/><use href="#p1" x="395.9" y="97.4"/><use href="#p1" x="396.7" y="106.1"/><use href="#p1" x="396.6" y="103.3"/><use href="#p1" x="396.7" y="88.7"/><use href="#p1" x="395.8" y="94.3"/><use href="#p1" x="396.7" y="115.3"/><use href="#p1" x="397.1" y="82.9"/><use href="#p1" x="396.5" y="101.0"/><use href="#p1" x="396.8" y="71.0"/><use href="#p1" x="396.7" y="84.1"/><use href="#p1" x="396.9" y="97.4"/><use href="#p1" x="396.2" y="82.0"/><use href="#p1" x="396.9" y="65.6"/><use href="#p1" x="397.1" y="75.3"/><use href="#p1" x="396.2" y="94.1"/><use href="#p1" x="397.4" y="92.0"/><use href="#p1" x="397.2" y="81.7"/><use href="#p1" x="397.4" y="58.1"/><use href="#p1" x="396.1" y="63.5"/><use href="#p1" x="396.4" y="105.8"/><use href="#p1" x="397.1" y="98.2"/><use href="#p1" x="397.1" y="107.3"/><use href="#p1" x="396.6" y="104.3"/><use href="#p1" x="396.0" y="86.3"/><use href="#p1" x="396.9" y="109.1"/><use href="#p1" x="397.0" y="68.8"/><use href="#p1" x="396.5" y="86.4"/><use href="#p1" x="396.7" y="118.3"/><use href="#p1" x="396.2" y="111.1"/><use href="#p1" x="396.5" y="55.9"/><use href="#p1" x="396.7" y="107.3"/><use href="#p1" x="396.6" y="89.0"/><use href="#p1" x="396.6" y="107.7"/><use href="#p1" x="396.8" y="97.8"/><use href="#p1" x="396.8" y="71.7"/><use href="#p1" x="396.2" y="96.4"/><use href="#p1" x="397.1" y="72.4"/><use href="#p1" x="395.9" y="86.1"/><use href="#p1" x="396.3" y="100.3"/><use href="#p1" x="396.5" y="78.7"/><use href="#p1" x="397.7" y="69.7"/><use href="#p1" x="396.5" y="77.5"/><use href="#p1" x="395.9" y="89.8"/><use href="#p1" x="396.7" y="102.4"/><use href="#p1" x="396.2" y="69.3"/><use href="#p1" x="397.2" y="77.1"/><use href="#p1" x="397.0" y="84.2"/><use href="#p1" x="396.0" y="104.8"/><use href="#p1" x="397.7" y="107.4"/><use href="#p1" x="397.5" y="91.8"/><use href="#p1" x="395.9" y="105.8"/><use href="#p1" x="395.8" y="96.1"/><use href="#p1" x="397.3" y="66.0"/><use href="#p1" x="396.7" y="101.6"/><use href="#p1" x="396.1" y="93.7"/><use href="#p1" x="396.9" y="101.1"/><use href="#p1" x="397.3" y="135.8"/><use href="#p1" x="397.2" y="107.4"/><use href="#p1" x="395.9" y="85.7"/><use href="#p1" x="395.9" y="73.4"/><use href="#p1" x="397.3" y="98.1"/><use href="#p1" x="397.0" y="94.0"/><use href="#p1" x="396.7" y="97.9"/><use href="#p1" x="396.7" y="59.1"/><use href="#p1" x="396.4" y="81.6"/><use href="#p1" x="397.6" y="79.9"/></g><path d="M426.7 102V126M424.5 43V59M425.5 136V145M426.5 64V79M424.7 106V134M421.6 104V111M425.6 92V105M424.0 78V93M426.5 134V166M426.8 70V102M420.8 78V101M425.6 100V141M420.6 116V133M426.7 88V118M425.6 83V96M426.5 122V155M423.4 115V142M426.5 131V147M421.7 44V67M425.1 133V141M423.0 101V125M421.0 61V97M425.4 137V161M420.6 127V141M420.8 107V123M425.5 108V120M426.4 116V131M425.9 80V100M426.1 97V123M426.5 61V71M421.1 64V86M421.7 105V118M426.4 86V98M425.4 62V86M424.3 110V135M421.9 102V127M423.1 123V143M420.7 117V130M425.6 90V124M425.8 112V131M422.4 135V149M421.9 111V122M424.0 80V92M425.2 67V104M426.5 119V147M422.3 87V106M425.6 49V58M424.3 96V106M423.1 114V128M421.4 82V96M426.5 59V76M421.4 122V134M422.9 103V130M424.1 120V127M424.9 108V126M424.9 80V97M424.2 125V146M426.0 80V111M426.7 103V123M420.5 121V152M424.5 105V118M423.3 75V99M422.6 84V108M425.6 117V142M421.0 76V97M420.7 116V133M421.5 88V99M421.8 47V68M426.4 102V127M422.1 65V81M422.3 69V92M425.7 100V115M424.4 138V152M423.2 101V120M424.8 102V110M420.5 70V102M426.4 104V127M424.1 98V125M423.2 95V109M426.7 101V134M424.2 99V130M425.4 102V121M426.0 59V98M423.7 101V125M421.5 93V111M420.5 104V126M424.2 110V127M426.7 77V95M425.6 107V132M422.5 104V113M425.3 76V105M420.7 89V117M426.7 64V85M423.0 64V95M422.8 90V113M426.3 140V156M423.3 88V113M421.2 88V102M423.8 85V105M425.6 48V82M420.8 106V127M422.7 94V117M423.3 102V126M422.7 74V103M420.9 92V114M425.8 84V98M424.9 84V106M425.1 81V105M421.2 67V82M422.3 94V128M422.7 96V123M422.1 62V77M420.7 83V94M423.8 59V78M421.5 64V78M424.6 76V96M425.5 93V122M423.4 144V158M421.0 99V111M423.8 125V138M424.1 140V162M425.3 118V147M423.6 76V100M424.4 109V140M426.0 63V86M426.6 73V96M426.8 82V92M426.2 110V145M425.4 114V142M424.2 122V142M422.0 84V101M421.3 99V123M422.3 85V102M422.6 82V98M423.5 89V118M421.3 57V71M423.5 146V167M421.4 54V77M421.2 97V128M423.6 59V86M420.9 72V85M425.9 86V97M422.2 89V120M423.2 104V121M425.0 78V88M422.9 80V94M425.5 50V89M422.9 70V86M426.6 77V112M421.5 72V81M421.8 107V134M420.8 80V102M425.4 88V113M424.7 113V137M421.5 139V168M422.6 82V92M424.7 99V134M421.7 81V95M421.7 100V117M424.2 122V142M422.7 72V89M426.9 59V76M425.6 123V145M421.3 84V96M421.0 102V117M422.7 79V98M424.0 83V93M422.0 115V142M422.0 101V127M426.0 92V124M420.6 99V122M423.8 78V92M424.7 125V142M424.1 102V133M425.6 94V113M425.8 105V126M426.5 131V151M423.5 114V160M423.2 111V149M421.6 102V134M422.5 99V117M425.9 74V97M423.5 115V138M421.3 106V114M422.9 66V85M423.3 102V121M424.9 85V110M425.9 95V108M424.0 93V104M422.5 110V142M422.8 100V111M423.5 79V97M422.4 109V136M424.7 50V60M425.4 71V97M426.8 66V101M426.2 87V97M425.4 83V105M426.2 92V113M421.9 136V151M426.0 101V113M421.9 112V138M424.4 106V117M421.6 87V99M426.0 156V165M421.0 75V101M423.6 73V92M421.0 86V106M424.3 129V149M424.5 110V120M422.9 95V113M422.6 54V69M426.6 47V70M421.4 60V100M422.7 96V122M422.5 76V96M421.8 73V101M421.4 115V143M422.8 151V170M423.9 91V117" stroke="#1e96e6" stroke-opacity="0.30" stroke-width="1" fill="none"/><g fill="#1e96e6" fill-opacity="0.60" stroke="#1e96e6" stroke-opacity="0.85" stroke-width="0.50"><use href="#d1" x="426.7" y="114.2"/><use href="#d1" x="424.5" y="51.0"/><use href="#d1" x="425.5" y="140.5"/><use href="#d1" x="426.5" y="71.6"/><use href="#d1" x="424.7" y="120.0"/><use href="#d1" x="421.6" y="107.5"/><use href="#d1" x="425.6" y="98.8"/><use href="#d1" x="424.0" y="85.5"/><use href="#d1" x="426.5" y="150.0"/><use href="#d1" x="426.8" y="86.2"/><use href="#d1" x="420.8" y="89.7"/><use href="#d1" x="425.6" y="120.3"/><use href="#d1" x="420.6" y="124.6"/><use href="#d1" x="426.7" y="103.0"/><use href="#d1" x="425.6" y="89.3"/><use href="#d1" x="426.5" y="138.5"/><use href="#d1" x="423.4" y="128.6"/><use href="#d1" x="426.5" y="139.3"/><use href="#d1" x="421.7" y="55.3"/><use href="#d1" x="425.1" y="136.9"/><use href="#d1" x="423.0" y="113.0"/><use href="#d1" x="421.0" y="78.7"/><use href="#d1" x="425.4" y="149.3"/><use href="#d1" x="420.6" y="134.3"/><use href="#d1" x="420.8" y="115.1"/><use href="#d1" x="425.5" y="113.7"/><use href="#d1" x="426.4" y="123.7"/><use href="#d1" x="425.9" y="89.8"/><use href="#d1" x="426.1" y="110.0"/><use href="#d1" x="426.5" y="66.4"/><use href="#d1" x="421.1" y="74.7"/><use href="#d1" x="421.7" y="111.4"/><use href="#d1" x="426.4" y="92.1"/><use href="#d1" x="425.4" y="74.4"/><use href="#d1" x="424.3" y="122.6"/><use href="#d1" x="421.9" y="114.7"/><use href="#d1" x="423.1" y="133.0"/><use href="#d1" x="420.7" y="123.2"/><use href="#d1" x="425.6" y="107.2"/><use href="#d1" x="425.8" y="121.4"/><use href="#d1" x="422.4" y="141.8"/><use href="#d1" x="421.9" y="116.8"/><use href="#d1" x="424.0" y="85.6"/><use href="#d1" x="425.2" y="85.4"/><use href="#d1" x="426.5" y="132.6"/><use href="#d1" x="422.3" y="96.0"/><use href="#d1" x="425.6" y="53.2"/><use href="#d1" x="424.3" y="100.7"/><use href="#d1" x="423.1" y="121.3"/><use href="#d1" x="421.4" y="88.7"/><use href="#d1" x="426.5" y="67.4"/><use href="#d1" x="421.4" y="128.5"/><use href="#d1" x="422.9" y="116.3"/><use href="#d1" x="424.1" y="123.6"/><use href="#d1" x="424.9" y="117.0"/><use href="#d1" x="424.9" y="88.9"/><use href="#d1" x="424.2" y="135.7"/><use href="#d1" x="426.0" y="95.5"/><use href="#d1" x="426.7" y="113.1"/><use href="#d1" x="420.5" y="136.9"/><use href="#d1" x="426.2" y="107.3"/><use href="#d1" x="424.5" y="111.7"/><use href="#d1" x="423.3" y="87.1"/><use href="#d1" x="422.6" y="96.0"/><use href="#d1" x="425.6" y="129.6"/><use href="#d1" x="423.8" y="137.0"/><use href="#d1" x="421.0" y="86.5"/><use href="#d1" x="420.7" y="124.5"/><use href="#d1" x="421.8" y="119.6"/><use href="#d1" x="421.5" y="93.5"/><use href="#d1" x="421.8" y="57.4"/><use href="#d1" x="426.4" y="114.5"/><use href="#d1" x="422.1" y="73.3"/><use href="#d1" x="422.3" y="80.5"/><use href="#d1" x="425.7" y="107.2"/><use href="#d1" x="424.4" y="144.8"/><use href="#d1" x="423.2" y="110.8"/><use href="#d1" x="424.8" y="106.1"/><use href="#d1" x="420.5" y="86.0"/><use href="#d1" x="426.4" y="115.3"/><use href="#d1" x="424.1" y="111.6"/><use href="#d1" x="423.2" y="102.1"/><use href="#d1" x="426.7" y="117.5"/><use href="#d1" x="424.2" y="114.2"/><use href="#d1" x="425.4" y="111.3"/><use href="#d1" x="426.0" y="78.6"/><use href="#d1" x="423.7" y="112.8"/><use href="#d1" x="421.5" y="102.0"/><use href="#d1" x="420.5" y="114.7"/><use href="#d1" x="424.2" y="118.5"/><use href="#d1" x="426.7" y="86.3"/><use href="#d1" x="425.6" y="119.6"/><use href="#d1" x="422.5" y="108.6"/><use href="#d1" x="425.3" y="90.5"/><use href="#d1" x="420.7" y="103.0"/><use href="#d1" x="426.7" y="74.6"/><use href="#d1" x="423.0" y="79.1"/><use href="#d1" x="422.8" y="101.3"/><use href="#d1" x="426.3" y="148.0"/><use href="#d1" x="423.3" y="100.5"/><use href="#d1" x="421.2" y="95.3"/><use href="#d1" x="423.2" y="52.3"/><use href="#d1" x="423.8" y="95.1"/><use href="#d1" x="425.6" y="64.9"/><use href="#d1" x="420.8" y="116.4"/><use href="#d1" x="422.7" y="105.4"/><use href="#d1" x="423.3" y="113.9"/><use href="#d1" x="422.7" y="88.5"/><use href="#d1" x="420.9" y="102.7"/><use href="#d1" x="425.8" y="90.6"/><use href="#d1" x="424.9" y="94.8"/><use href="#d1" x="425.1" y="92.8"/><use href="#d1" x="421.2" y="74.6"/><use href="#d1" x="422.3" y="111.0"/><use href="#d1" x="422.7" y="109.5"/><use href="#d1" x="422.1" y="69.7"/><use href="#d1" x="420.7" y="88.5"/><use href="#d1" x="423.8" y="68.8"/><use href="#d1" x="421.5" y="71.0"/><use href="#d1" x="424.6" y="86.2"/><use href="#d1" x="425.5" y="107.2"/><use href="#d1" x="423.4" y="151.0"/><use href="#d1" x="421.0" y="105.0"/><use href="#d1" x="423.8" y="131.3"/><use href="#d1" x="424.1" y="150.6"/><use href="#d1" x="425.3" y="132.2"/><use href="#d1" x="423.6" y="88.0"/><use href="#d1" x="424.4" y="124.7"/><use href="#d1" x="426.0" y="74.5"/><use href="#d1" x="426.6" y="84.7"/><use href="#d1" x="426.8" y="86.8"/><use href="#d1" x="426.2" y="127.4"/><use href="#d1" x="425.4" y="128.0"/><use href="#d1" x="424.2" y="132.0"/><use href="#d1" x="422.0" y="92.5"/><use href="#d1" x="421.5" y="131.4"/><use href="#d1" x="421.3" y="110.7"/><use href="#d1" x="422.3" y="93.7"/><use href="#d1" x="422.6" y="90.0"/><use href="#d1" x="423.5" y="103.4"/><use href="#d1" x="421.3" y="64.0"/><use href="#d1" x="423.0" y="131.2"/><use href="#d1" x="423.5" y="156.5"/><use href="#d1" x="421.4" y="65.3"/><use href="#d1" x="421.2" y="112.8"/><use href="#d1" x="423.6" y="72.6"/><use href="#d1" x="420.9" y="78.5"/><use href="#d1" x="425.9" y="91.4"/><use href="#d1" x="422.2" y="104.3"/><use href="#d1" x="423.2" y="112.3"/><use href="#d1" x="425.0" y="83.0"/><use href="#d1" x="422.9" y="87.3"/><use href="#d1" x="425.5" y="69.8"/><use href="#d1" x="422.9" y="77.9"/><use href="#d1" x="426.6" y="94.2"/><use href="#d1" x="421.5" y="76.3"/><use href="#d1" x="421.8" y="120.4"/><use href="#d1" x="420.8" y="91.0"/><use href="#d1" x="425.4" y="100.1"/><use href="#d1" x="424.7" y="125.3"/><use href="#d1" x="421.5" y="153.5"/><use href="#d1" x="422.6" y="86.9"/><use href="#d1" x="424.7" y="116.6"/><use href="#d1" x="421.7" y="88.0"/><use href="#d1" x="421.7" y="108.3"/><use href="#d1" x="424.2" y="131.7"/><use href="#d1" x="422.7" y="80.7"/><use href="#d1" x="426.9" y="67.7"/><use href="#d1" x="425.6" y="134.3"/><use href="#d1" x="421.3" y="90.0"/><use href="#d1" x="421.0" y="109.8"/><use href="#d1" x="422.7" y="88.7"/><use href="#d1" x="424.0" y="87.8"/><use href="#d1" x="422.0" y="128.8"/><use href="#d1" x="422.0" y="113.9"/><use href="#d1" x="424.9" y="121.9"/><use href="#d1" x="421.5" y="73.1"/><use href="#d1" x="426.0" y="107.7"/><use href="#d1" x="420.6" y="110.7"/><use href="#d1" x="423.8" y="85.1"/><use href="#d1" x="424.7" y="133.6"/><use href="#d1" x="424.1" y="117.6"/><use href="#d1" x="425.6" y="103.6"/><use href="#d1" x="425.8" y="115.3"/><use href="#d1" x="426.5" y="141.1"/><use href="#d1" x="423.5" y="136.6"/><use href="#d1" x="423.2" y="130.2"/><use href="#d1" x="421.6" y="117.8"/><use href="#d1" x="422.5" y="107.7"/><use href="#d1" x="425.9" y="85.4"/><use href="#d1" x="423.5" y="126.2"/><use href="#d1" x="421.3" y="110.5"/><use href="#d1" x="422.9" y="75.1"/><use href="#d1" x="423.3" y="111.6"/><use href="#d1" x="424.9" y="97.6"/><use href="#d1" x="425.9" y="101.4"/><use href="#d1" x="424.0" y="98.4"/><use href="#d1" x="422.5" y="126.0"/><use href="#d1" x="422.8" y="105.3"/><use href="#d1" x="423.5" y="88.2"/><use href="#d1" x="422.4" y="122.8"/><use href="#d1" x="424.7" y="55.2"/><use href="#d1" x="425.4" y="84.0"/><use href="#d1" x="426.8" y="83.2"/><use href="#d1" x="426.2" y="92.1"/><use href="#d1" x="425.4" y="93.8"/><use href="#d1" x="426.2" y="102.5"/><use href="#d1" x="421.9" y="143.4"/><use href="#d1" x="426.0" y="107.0"/><use href="#d1" x="421.9" y="124.9"/><use href="#d1" x="424.4" y="111.4"/><use href="#d1" x="421.6" y="93.0"/><use href="#d1" x="426.0" y="160.1"/><use href="#d1" x="421.0" y="87.9"/><use href="#d1" x="423.6" y="82.6"/><use href="#d1" x="421.0" y="95.7"/><use href="#d1" x="424.3" y="138.7"/><use href="#d1" x="420.7" y="92.0"/><use href="#d1" x="424.5" y="114.7"/><use href="#d1" x="422.9" y="103.9"/><use href="#d1" x="422.6" y="61.4"/><use href="#d1" x="426.6" y="58.6"/><use href="#d1" x="421.9" y="82.2"/><use href="#d1" x="421.4" y="80.2"/><use href="#d1" x="422.7" y="109.0"/><use href="#d1" x="422.5" y="86.1"/><use href="#d1" x="421.8" y="87.3"/><use href="#d1" x="421.4" y="128.9"/><use href="#d1" x="422.8" y="160.3"/><use href="#d1" x="423.9" y="104.2"/></g><path d="M461.7 87V100M460.7 70V89M462.4 100V115M464.2 65V74M465.5 64V76M463.4 90V113M465.1 89V101M464.1 85V94M465.7 113V123M464.0 92V105M461.8 74V88M462.0 96V110M459.1 79V98M459.9 87V115M465.2 74V97M464.0 71V88M463.8 86V99M460.5 88V108M462.8 63V89M457.8 97V108M460.9 95V112M465.3 85V96M459.5 94V102M457.8 101V115M463.1 88V110M460.3 83V93M462.9 69V80M461.4 81V90M458.9 70V96M459.9 42V71M458.5 85V102M460.3 78V98M459.0 92V107M465.2 67V76M461.3 98V112M463.2 70V87M459.9 106V118M460.1 91V113M461.7 64V85M458.3 51V72M457.7 80V93M465.1 86V97M460.3 61V78M461.6 68V75M462.3 103V117M459.3 64V74M458.8 79V97M463.3 89V104M463.6 88V103M463.8 74V92M463.1 73V91M463.6 70V91M465.7 67V84M460.7 96V104M463.8 79V89M462.0 53V64M461.3 112V123M463.2 73V87M459.5 99V120M462.4 87V103M460.6 103V110M464.5 50V67M461.1 94V118M461.4 72V91M458.1 82V100M462.1 79V93M464.1 67V92M460.3 90V110M461.5 66V88M465.8 94V106M457.5 65V80M461.8 90V112M458.7 81V96M461.2 61V91M466.0 64V86M465.1 84V110M462.8 102V108M459.3 81V103M462.9 72V85M462.8 60V88M464.8 65V78M462.8 41V67M462.4 108V128M463.8 91V115M460.2 73V86M464.2 79V97M461.6 93V107M460.9 59V79M466.1 51V59M459.2 90V104M465.5 73V92M459.4 101V116M463.5 97V112M459.2 95V103M459.6 64V85M465.4 68V78M460.7 111V132M463.3 86V104M458.3 78V91M460.7 71V82M461.3 90V98M463.4 95V115M466.2 85V100M463.3 104V130M464.5 52V69M463.4 79V93M463.6 74V88M459.4 50V78M457.9 77V86M461.8 90V105M457.2 54V73M459.9 87V111M465.2 66V82M461.0 53V65M464.3 98V109M458.9 66V87M460.2 89V98M458.5 104V125M461.1 62V78M458.6 101V112M458.8 86V101M459.4 82V105M457.8 48V62M460.9 85V99M460.9 69V91M465.2 100V107M457.4 80V102M461.2 115V126M465.7 78V94M458.9 116V133M461.6 82V94M464.8 78V92M462.7 82V102M465.0 66V82M465.7 104V115M458.0 94V111M462.2 63V80M460.8 83V94M458.4 101V110M461.6 93V106M465.8 62V80M460.3 70V90M465.1 76V85M460.8 78V89M464.8 63V85M457.1 96V123M460.6 74V102M461.7 85V98M459.2 103V126M457.7 104V116M464.4 81V93M459.9 88V102M461.9 53V71M464.0 121V130M458.5 66V87M459.9 91V104M459.6 71V83M463.7 102V119M465.2 100V113M464.5 101V118M465.7 80V98M462.7 80V94M459.1 95V102M459.4 73V88M461.0 54V73M459.6 94V114M457.8 88V106M458.3 76V97M462.7 49V65M459.2 74V96M459.2 105V114M460.5 90V100M460.5 65V82M458.9 81V107M458.2 92V112M461.0 73V92M457.8 58V72M460.3 93V106M458.9 63V79M458.3 83V97M462.9 78V98M465.6 86V98M465.7 87V102M465.4 71V92M461.7 59V77M464.0 73V90M464.6 85V99M464.2 79V102M456.9 67V83M462.7 88V104M462.1 91V103M459.4 92V104M457.9 92V106M459.1 63V82M463.2 74V95M458.9 126V132M457.4 75V89M458.6 109V134M460.6 96V119" stroke="#e61996" stroke-opacity="0.30" stroke-width="1" fill="none"/><g fill="#e61996" fill-opacity="0.60" stroke="#e61996" stroke-opacity="0.85" stroke-width="0.50"><use href="#r1" x="461.7" y="93.6"/><use href="#r1" x="460.7" y="79.5"/><use href="#r1" x="462.4" y="107.2"/><use href="#r1" x="464.2" y="69.5"/><use href="#r1" x="465.5" y="69.7"/><use href="#r1" x="463.4" y="101.5"/><use href="#r1" x="465.1" y="94.8"/><use href="#r1" x="464.1" y="89.3"/><use href="#r1" x="465.7" y="118.2"/><use href="#r1" x="464.0" y="98.5"/><use href="#r1" x="461.8" y="80.8"/><use href="#r1" x="462.0" y="103.1"/><use href="#r1" x="459.1" y="88.3"/><use href="#r1" x="459.9" y="101.1"/><use href="#r1" x="458.5" y="124.4"/><use href="#r1" x="465.2" y="85.6"/><use href="#r1" x="464.0" y="79.7"/><use href="#r1" x="460.3" y="89.3"/><use href="#r1" x="463.8" y="92.7"/><use href="#r1" x="460.5" y="98.0"/><use href="#r1" x="462.8" y="76.0"/><use href="#r1" x="457.8" y="102.5"/><use href="#r1" x="460.9" y="103.7"/><use href="#r1" x="465.3" y="90.4"/><use href="#r1" x="459.5" y="98.1"/><use href="#r1" x="457.8" y="108.2"/><use href="#r1" x="463.1" y="99.0"/><use href="#r1" x="460.3" y="88.4"/><use href="#r1" x="462.9" y="74.4"/><use href="#r1" x="461.4" y="85.3"/><use href="#r1" x="458.9" y="83.1"/><use href="#r1" x="459.9" y="56.7"/><use href="#r1" x="458.5" y="93.4"/><use href="#r1" x="460.3" y="88.3"/><use href="#r1" x="459.0" y="99.6"/><use href="#r1" x="465.2" y="71.5"/><use href="#r1" x="461.3" y="105.1"/><use href="#r1" x="463.2" y="78.4"/><use href="#r1" x="459.9" y="111.9"/><use href="#r1" x="460.1" y="101.5"/><use href="#r1" x="461.7" y="74.5"/><use href="#r1" x="458.3" y="61.4"/><use href="#r1" x="457.7" y="86.5"/><use href="#r1" x="465.1" y="91.4"/><use href="#r1" x="460.3" y="69.9"/><use href="#r1" x="461.6" y="71.5"/><use href="#r1" x="462.3" y="109.8"/><use href="#r1" x="459.3" y="68.6"/><use href="#r1" x="458.8" y="88.2"/><use href="#r1" x="463.3" y="96.3"/><use href="#r1" x="463.6" y="95.3"/><use href="#r1" x="463.8" y="83.0"/><use href="#r1" x="463.1" y="81.7"/><use href="#r1" x="463.6" y="80.5"/><use href="#r1" x="465.7" y="75.2"/><use href="#r1" x="460.7" y="99.6"/><use href="#r1" x="463.8" y="83.8"/><use href="#r1" x="462.0" y="58.6"/><use href="#r1" x="461.3" y="117.9"/><use href="#r1" x="463.2" y="79.7"/><use href="#r1" x="459.5" y="109.5"/><use href="#r1" x="462.4" y="95.2"/><use href="#r1" x="460.6" y="106.5"/><use href="#r1" x="464.5" y="58.0"/><use href="#r1" x="461.1" y="106.3"/><use href="#r1" x="461.4" y="81.4"/><use href="#r1" x="458.1" y="91.1"/><use href="#r1" x="457.4" y="99.7"/><use href="#r1" x="462.1" y="85.9"/><use href="#r1" x="459.5" y="55.5"/><use href="#r1" x="464.1" y="79.1"/><use href="#r1" x="460.3" y="99.6"/><use href="#r1" x="461.5" y="76.7"/><use href="#r1" x="465.8" y="99.6"/><use href="#r1" x="457.5" y="72.5"/><use href="#r1" x="461.8" y="101.1"/><use href="#r1" x="458.7" y="88.4"/><use href="#r1" x="465.2" y="108.8"/><use href="#r1" x="461.2" y="75.9"/><use href="#r1" x="466.0" y="75.2"/><use href="#r1" x="465.1" y="97.2"/><use href="#r1" x="462.8" y="105.2"/><use href="#r1" x="459.3" y="92.1"/><use href="#r1" x="462.9" y="78.9"/><use href="#r1" x="462.8" y="73.6"/><use href="#r1" x="459.9" y="79.6"/><use href="#r1" x="464.8" y="71.4"/><use href="#r1" x="462.8" y="53.9"/><use href="#r1" x="462.4" y="117.7"/><use href="#r1" x="463.8" y="103.0"/><use href="#r1" x="460.2" y="79.4"/><use href="#r1" x="464.2" y="87.7"/><use href="#r1" x="461.6" y="99.7"/><use href="#r1" x="460.9" y="69.3"/><use href="#r1" x="466.1" y="54.6"/><use href="#r1" x="459.2" y="96.9"/><use href="#r1" x="465.5" y="82.4"/><use href="#r1" x="459.4" y="108.3"/><use href="#r1" x="463.5" y="104.4"/><use href="#r1" x="459.2" y="99.1"/><use href="#r1" x="459.6" y="74.3"/><use href="#r1" x="465.4" y="72.9"/><use href="#r1" x="460.7" y="121.5"/><use href="#r1" x="463.4" y="81.7"/><use href="#r1" x="463.3" y="95.0"/><use href="#r1" x="458.3" y="84.7"/><use href="#r1" x="460.7" y="76.8"/><use href="#r1" x="461.3" y="94.4"/><use href="#r1" x="463.4" y="105.2"/><use href="#r1" x="466.2" y="92.9"/><use href="#r1" x="463.3" y="117.1"/><use href="#r1" x="464.5" y="60.8"/><use href="#r1" x="463.4" y="86.4"/><use href="#r1" x="463.6" y="80.7"/><use href="#r1" x="459.4" y="63.6"/><use href="#r1" x="457.9" y="81.8"/><use href="#r1" x="461.8" y="97.4"/><use href="#r1" x="457.2" y="63.7"/><use href="#r1" x="459.9" y="99.0"/><use href="#r1" x="465.2" y="74.1"/><use href="#r1" x="461.0" y="59.0"/><use href="#r1" x="457.1" y="131.6"/><use href="#r1" x="464.3" y="103.6"/><use href="#r1" x="458.9" y="76.6"/><use href="#r1" x="460.2" y="93.4"/><use href="#r1" x="458.5" y="114.1"/><use href="#r1" x="461.1" y="70.0"/><use href="#r1" x="458.6" y="106.5"/><use href="#r1" x="458.8" y="93.7"/><use href="#r1" x="460.7" y="89.9"/><use href="#r1" x="459.4" y="93.6"/><use href="#r1" x="457.8" y="55.4"/><use href="#r1" x="461.1" y="105.3"/><use href="#r1" x="460.9" y="91.9"/><use href="#r1" x="460.9" y="80.0"/><use href="#r1" x="465.2" y="103.6"/><use href="#r1" x="457.4" y="91.3"/><use href="#r1" x="461.2" y="120.7"/><use href="#r1" x="465.7" y="86.1"/><use href="#r1" x="460.6" y="70.6"/><use href="#r1" x="458.9" y="124.2"/><use href="#r1" x="461.6" y="88.0"/><use href="#r1" x="464.8" y="85.5"/><use href="#r1" x="462.7" y="91.9"/><use href="#r1" x="465.0" y="74.2"/><use href="#r1" x="465.7" y="109.4"/><use href="#r1" x="458.0" y="102.3"/><use href="#r1" x="462.2" y="71.7"/><use href="#r1" x="460.8" y="88.4"/><use href="#r1" x="458.4" y="105.4"/><use href="#r1" x="461.6" y="99.5"/><use href="#r1" x="465.8" y="70.9"/><use href="#r1" x="460.3" y="80.3"/><use href="#r1" x="458.4" y="83.1"/><use href="#r1" x="465.1" y="80.7"/><use href="#r1" x="460.8" y="83.4"/><use href="#r1" x="464.8" y="74.3"/><use href="#r1" x="465.1" y="121.4"/><use href="#r1" x="457.1" y="109.6"/><use href="#r1" x="460.6" y="88.3"/><use href="#r1" x="461.7" y="91.7"/><use href="#r1" x="459.2" y="114.1"/><use href="#r1" x="457.7" y="110.1"/><use href="#r1" x="464.4" y="87.0"/><use href="#r1" x="459.9" y="95.1"/><use href="#r1" x="461.9" y="62.0"/><use href="#r1" x="464.0" y="125.7"/><use href="#r1" x="458.5" y="76.9"/><use href="#r1" x="459.9" y="97.5"/><use href="#r1" x="459.6" y="77.0"/><use href="#r1" x="457.4" y="101.6"/><use href="#r1" x="463.7" y="110.3"/><use href="#r1" x="465.2" y="106.2"/><use href="#r1" x="464.5" y="109.8"/><use href="#r1" x="465.7" y="89.0"/><use href="#r1" x="462.7" y="86.9"/><use href="#r1" x="459.1" y="98.5"/><use href="#r1" x="459.4" y="80.5"/><use href="#r1" x="461.0" y="63.7"/><use href="#r1" x="459.6" y="103.6"/><use href="#r1" x="457.8" y="97.3"/><use href="#r1" x="458.3" y="86.7"/><use href="#r1" x="462.7" y="56.9"/><use href="#r1" x="459.2" y="84.9"/><use href="#r1" x="459.2" y="109.5"/><use href="#r1" x="460.5" y="95.3"/><use href="#r1" x="460.5" y="73.7"/><use href="#r1" x="458.9" y="93.6"/><use href="#r1" x="458.2" y="101.8"/><use href="#r1" x="461.0" y="82.6"/><use href="#r1" x="465.5" y="100.0"/><use href="#r1" x="457.8" y="65.1"/><use href="#r1" x="458.0" y="80.5"/><use href="#r1" x="460.3" y="99.1"/><use href="#r1" x="458.9" y="70.8"/><use href="#r1" x="458.3" y="90.0"/><use href="#r1" x="462.9" y="87.5"/><use href="#r1" x="465.6" y="92.0"/><use href="#r1" x="463.2" y="89.7"/><use href="#r1" x="465.7" y="94.4"/><use href="#r1" x="465.4" y="81.2"/><use href="#r1" x="461.7" y="68.2"/><use href="#r1" x="464.0" y="81.5"/><use href="#r1" x="463.6" y="77.4"/><use href="#r1" x="464.6" y="92.4"/><use href="#r1" x="464.2" y="90.4"/><use href="#r1" x="456.9" y="75.2"/><use href="#r1" x="462.7" y="95.8"/><use href="#r1" x="462.1" y="97.1"/><use href="#r1" x="459.4" y="98.4"/><use href="#r1" x="457.9" y="99.1"/><use href="#r1" x="465.2" y="86.8"/><use href="#r1" x="464.3" y="98.2"/><use href="#r1" x="459.1" y="72.2"/><use href="#r1" x="463.2" y="84.5"/><use href="#r1" x="458.9" y="129.0"/><use href="#r1" x="457.4" y="81.8"/><use href="#r1" x="458.6" y="121.4"/><use href="#r1" x="458.5" y="93.4"/><use href="#r1" x="460.6" y="107.8"/></g><path d="M498.6 109V115M510.5 122V142M509.5 114V147M504.4 83V97M495.4 125V154M505.2 96V121M507.2 91V105M495.3 95V110M502.6 103V129M505.2 101V125M507.6 108V127M508.8 55V78M507.4 124V138M505.1 119V133M500.0 124V158M510.4 112V137M505.2 119V132M510.4 114V135M502.1 77V100M502.2 120V157M504.9 87V116M496.2 83V100M501.9 118V126M507.6 115V137M499.7 92V124M507.0 109V125M501.9 82V107M504.7 83V102M502.4 107V136M508.5 108V129M507.8 135V149M510.5 80V109M505.6 145V168M508.0 112V134M504.8 116V131M509.8 104V111M506.0 123V137M502.6 91V114M505.2 131V146M508.9 114V123M509.4 80V103M495.1 141V159M501.4 132V146M499.2 103V124M499.3 104V120M495.5 102V111M504.7 123V146M499.1 102V112M510.8 113V132M498.0 93V111M498.8 144V177M496.3 96V119M505.1 94V112M504.5 95V110M508.0 103V135M504.9 87V115M510.4 107V121M505.5 88V105M509.1 109V131M509.5 80V103M498.1 135V151M508.8 94V123M502.7 98V111M505.7 114V129M509.6 106V135M507.0 81V113M502.6 97V126M502.6 135V164M510.0 107V134M505.0 88V102M499.3 99V121M498.7 137V165M499.1 101V124M510.2 124V166M502.8 68V94M495.3 81V99M509.9 110V142M495.7 125V146M495.0 100V119M501.6 89V119M508.7 119V131M509.6 110V140M502.6 120V131M508.5 137V163M498.5 87V115M510.0 111V137M499.1 131V143M495.0 96V121M496.5 112V135M507.8 97V133M498.1 85V111M509.8 99V135M501.8 104V126M508.0 66V94M508.8 108V136M510.4 118V130M505.9 93V104M508.6 89V121M502.7 105V135M495.9 117V141M496.7 132V144M508.8 124V140M510.1 92V118M504.5 138V153M509.3 122V140M502.8 97V113M510.7 110V144M505.1 109V129M502.2 87V102M499.2 130V149M507.4 129V154M495.9 117V136M499.2 75V89M496.5 116V128M508.1 130V156M495.7 148V172M501.6 127V150M502.3 112V132M501.0 122V140M496.9 151V171M501.6 94V114M499.2 109V125M504.2 77V100M502.2 121V152M499.6 106V137M507.4 110V131M505.3 109V121M499.7 100V122M504.5 87V111M497.0 156V167M501.3 74V113M510.5 112V132M507.1 80V92M510.9 103V118M502.1 105V112M509.2 92V110M496.0 77V92M496.9 125V146M501.6 77V94M510.4 87V116M508.6 118V143M509.7 122V139M509.1 106V128M496.2 136V155M502.7 108V126M502.6 89V122M495.1 131V143M501.2 98V124M509.1 143V159M504.8 93V118M504.4 114V131M505.7 135V162" stroke="#19e696" stroke-opacity="0.30" stroke-width="1" fill="none"/><g fill="#19e696" fill-opacity="0.50" stroke="#19e696" stroke-opacity="0.75" stroke-width="0.50"><use href="#s1" x="498.6" y="111.9"/><use href="#s1" x="510.5" y="132.3"/><use href="#s1" x="509.5" y="130.6"/><use href="#s1" x="504.4" y="90.1"/><use href="#s1" x="495.4" y="139.5"/><use href="#s1" x="505.2" y="108.1"/><use href="#s1" x="507.2" y="98.0"/><use href="#s1" x="495.3" y="102.6"/><use href="#s1" x="502.6" y="115.8"/><use href="#s1" x="505.2" y="112.9"/><use href="#s1" x="507.6" y="117.6"/><use href="#s1" x="508.8" y="66.8"/><use href="#s1" x="507.4" y="131.2"/><use href="#s1" x="502.7" y="121.9"/><use href="#s1" x="505.1" y="125.7"/><use href="#s1" x="500.0" y="141.0"/><use href="#s1" x="510.4" y="124.5"/><use href="#s1" x="505.2" y="125.8"/><use href="#s1" x="510.4" y="124.3"/><use href="#s1" x="502.1" y="88.7"/><use href="#s1" x="502.2" y="138.6"/><use href="#s1" x="504.9" y="101.2"/><use href="#s1" x="496.2" y="91.3"/><use href="#s1" x="501.9" y="122.2"/><use href="#s1" x="507.6" y="125.8"/><use href="#s1" x="499.7" y="107.8"/><use href="#s1" x="507.0" y="116.9"/><use href="#s1" x="501.9" y="94.3"/><use href="#s1" x="504.7" y="92.6"/><use href="#s1" x="502.4" y="121.4"/><use href="#s1" x="508.5" y="118.2"/><use href="#s1" x="507.8" y="142.4"/><use href="#s1" x="510.9" y="108.0"/><use href="#s1" x="510.5" y="94.5"/><use href="#s1" x="505.6" y="156.5"/><use href="#s1" x="508.0" y="123.2"/><use href="#s1" x="504.8" y="123.7"/><use href="#s1" x="509.8" y="107.7"/><use href="#s1" x="506.0" y="129.8"/><use href="#s1" x="502.6" y="102.2"/><use href="#s1" x="505.2" y="138.6"/><use href="#s1" x="508.9" y="118.6"/><use href="#s1" x="509.4" y="91.2"/><use href="#s1" x="495.1" y="150.2"/><use href="#s1" x="501.4" y="139.1"/><use href="#s1" x="499.2" y="113.5"/><use href="#s1" x="499.3" y="111.7"/><use href="#s1" x="495.5" y="106.4"/><use href="#s1" x="504.7" y="134.5"/><use href="#s1" x="499.1" y="107.1"/><use href="#s1" x="510.8" y="122.5"/><use href="#s1" x="498.0" y="102.1"/><use href="#s1" x="498.8" y="160.6"/><use href="#s1" x="496.3" y="107.3"/><use href="#s1" x="496.8" y="124.6"/><use href="#s1" x="505.1" y="102.7"/><use href="#s1" x="504.5" y="102.6"/><use href="#s1" x="508.0" y="119.1"/><use href="#s1" x="504.9" y="101.1"/><use href="#s1" x="510.4" y="114.0"/><use href="#s1" x="505.5" y="96.7"/><use href="#s1" x="509.1" y="120.0"/><use href="#s1" x="509.5" y="91.1"/><use href="#s1" x="499.3" y="99.4"/><use href="#s1" x="504.9" y="152.5"/><use href="#s1" x="498.1" y="142.9"/><use href="#s1" x="507.1" y="135.8"/><use href="#s1" x="508.8" y="108.6"/><use href="#s1" x="502.7" y="104.4"/><use href="#s1" x="505.7" y="121.4"/><use href="#s1" x="509.6" y="120.3"/><use href="#s1" x="507.0" y="96.9"/><use href="#s1" x="502.6" y="111.8"/><use href="#s1" x="502.6" y="149.5"/><use href="#s1" x="510.0" y="120.3"/><use href="#s1" x="505.0" y="94.8"/><use href="#s1" x="499.3" y="109.6"/><use href="#s1" x="498.7" y="150.8"/><use href="#s1" x="499.1" y="112.2"/><use href="#s1" x="510.2" y="145.2"/><use href="#s1" x="502.8" y="81.1"/><use href="#s1" x="495.3" y="90.0"/><use href="#s1" x="509.9" y="126.0"/><use href="#s1" x="495.7" y="135.7"/><use href="#s1" x="495.0" y="109.3"/><use href="#s1" x="501.6" y="104.1"/><use href="#s1" x="508.7" y="124.9"/><use href="#s1" x="509.6" y="125.0"/><use href="#s1" x="502.6" y="125.7"/><use href="#s1" x="508.5" y="150.1"/><use href="#s1" x="498.5" y="100.6"/><use href="#s1" x="510.0" y="124.2"/><use href="#s1" x="499.1" y="136.9"/><use href="#s1" x="495.0" y="108.7"/><use href="#s1" x="496.5" y="123.9"/><use href="#s1" x="507.8" y="114.7"/><use href="#s1" x="498.1" y="97.7"/><use href="#s1" x="509.8" y="117.1"/><use href="#s1" x="501.8" y="114.8"/><use href="#s1" x="508.0" y="80.2"/><use href="#s1" x="508.8" y="121.8"/><use href="#s1" x="510.4" y="123.8"/><use href="#s1" x="505.9" y="98.7"/><use href="#s1" x="508.6" y="104.8"/><use href="#s1" x="502.7" y="120.0"/><use href="#s1" x="495.9" y="128.7"/><use href="#s1" x="496.7" y="138.2"/><use href="#s1" x="508.8" y="132.1"/><use href="#s1" x="510.1" y="104.5"/><use href="#s1" x="504.5" y="145.7"/><use href="#s1" x="509.3" y="131.3"/><use href="#s1" x="502.8" y="104.9"/><use href="#s1" x="510.7" y="126.7"/><use href="#s1" x="505.1" y="118.9"/><use href="#s1" x="502.2" y="94.8"/><use href="#s1" x="499.2" y="139.1"/><use href="#s1" x="507.4" y="141.9"/><use href="#s1" x="495.9" y="126.6"/><use href="#s1" x="499.2" y="81.8"/><use href="#s1" x="496.5" y="121.9"/><use href="#s1" x="495.9" y="91.8"/><use href="#s1" x="508.1" y="143.0"/><use href="#s1" x="495.7" y="160.2"/><use href="#s1" x="501.6" y="138.6"/><use href="#s1" x="502.3" y="122.0"/><use href="#s1" x="501.0" y="130.7"/><use href="#s1" x="496.9" y="160.6"/><use href="#s1" x="501.6" y="104.2"/><use href="#s1" x="499.2" y="117.0"/><use href="#s1" x="504.2" y="88.7"/><use href="#s1" x="502.2" y="136.3"/><use href="#s1" x="499.6" y="121.7"/><use href="#s1" x="507.4" y="120.8"/><use href="#s1" x="505.3" y="114.6"/><use href="#s1" x="499.7" y="111.0"/><use href="#s1" x="504.5" y="99.2"/><use href="#s1" x="497.0" y="161.3"/><use href="#s1" x="501.3" y="93.5"/><use href="#s1" x="510.5" y="122.0"/><use href="#s1" x="507.1" y="86.0"/><use href="#s1" x="498.9" y="122.9"/><use href="#s1" x="510.9" y="110.5"/><use href="#s1" x="502.1" y="108.3"/><use href="#s1" x="509.2" y="101.3"/><use href="#s1" x="496.0" y="84.2"/><use href="#s1" x="496.9" y="135.5"/><use href="#s1" x="501.6" y="85.3"/><use href="#s1" x="510.4" y="101.2"/><use href="#s1" x="508.6" y="130.4"/><use href="#s1" x="509.7" y="130.6"/><use href="#s1" x="509.1" y="117.0"/><use href="#s1" x="496.2" y="145.6"/><use href="#s1" x="502.7" y="117.1"/><use href="#s1" x="502.6" y="105.4"/><use href="#s1" x="495.1" y="137.2"/><use href="#s1" x="501.2" y="111.2"/><use href="#s1" x="509.1" y="151.0"/><use href="#s1" x="504.8" y="105.4"/><use href="#s1" x="504.4" y="122.8"/><use href="#s1" x="505.7" y="148.6"/></g><path d="M527.4 72V89M524.4 106V128M527.3 73V81M528.8 71V92M524.5 87V103M517.0 94V120M517.2 91V107M528.4 96V107M530.0 105V117M521.0 113V125M514.2 117V131M518.9 132V150M525.1 113V141M520.3 107V125M513.8 91V99M524.6 112V127M528.5 116V129M517.6 91V110M521.7 99V111M523.7 132V146M528.0 108V137M520.7 114V134M514.1 112V126M525.4 115V131M517.3 103V122M518.6 111V132M531.0 103V116M521.4 93V111M525.1 111V128M523.7 115V137M513.5 114V134M515.1 104V123M513.5 100V110M520.9 111V135M530.5 101V122M517.3 97V105M521.4 100V115M514.5 89V106M530.8 97V116M520.5 89V104M525.1 94V114M514.2 82V111M520.6 71V97M528.9 106V126M514.6 74V81M521.3 81V96M524.4 101V119M529.9 78V88M517.4 106V119M525.3 86V101M514.9 103V133M514.5 97V113M525.5 76V95M524.6 93V103M514.2 115V135M518.5 86V105M524.2 110V132M524.0 73V83M531.4 92V109M514.4 112V140M515.5 83V104M529.6 96V116M531.3 97V106M514.9 128V139M521.7 80V99M521.3 89V108M525.2 102V127M523.9 129V142M528.7 118V132M521.7 86V110M524.7 89V113M515.4 79V90M515.3 101V123M514.6 83V103M524.4 125V136M530.6 91V115M525.4 87V107M521.2 105V124M514.9 87V101M520.7 102V116M524.4 74V99M514.9 106V127M514.9 99V115M529.7 90V120M521.3 117V133M517.0 105V129M530.5 107V136M521.3 114V129M514.0 79V91M524.9 115V138M514.8 103V122M528.4 100V111M518.5 92V98M515.2 93V106M525.1 101V125M514.7 90V114M514.6 87V105M518.4 106V113M517.6 83V106M529.8 102V115M520.2 121V134M521.0 100V122M528.5 104V123M523.7 105V121M514.9 114V126M528.7 84V97M515.3 79V93M518.7 105V124M514.6 96V116M521.8 93V107M527.8 100V124M525.1 127V139M521.7 96V116M521.3 98V116M524.2 119V137M531.3 77V96M527.2 89V97M514.0 111V131M525.2 74V95M527.1 96V112M513.8 105V117M520.5 102V116M514.9 73V83M531.0 109V124M520.0 105V126M528.8 92V108M530.2 132V153M524.5 113V135M521.4 102V118M520.7 104V123M514.1 101V123M518.9 105V127M517.8 108V117M528.7 115V129M521.2 97V119M524.4 88V116M520.9 114V137M528.8 106V134M514.0 102V117M529.7 99V116M520.9 112V145M529.8 115V131M515.5 95V111M521.7 124V140M524.6 113V143M514.5 124V145" stroke="#96e619" stroke-opacity="0.30" stroke-width="1" fill="none"/><g fill="#96e619" fill-opacity="0.50" stroke="#96e619" stroke-opacity="0.75" stroke-width="0.50"><use href="#v1" x="527.4" y="80.4"/><use href="#v1" x="524.4" y="117.4"/><use href="#v1" x="527.3" y="77.0"/><use href="#v1" x="528.8" y="81.6"/><use href="#v1" x="524.5" y="95.5"/><use href="#v1" x="517.0" y="107.4"/><use href="#v1" x="517.2" y="99.3"/><use href="#v1" x="528.4" y="101.4"/><use href="#v1" x="530.0" y="111.0"/><use href="#v1" x="521.0" y="118.9"/><use href="#v1" x="514.2" y="123.9"/><use href="#v1" x="518.9" y="141.4"/><use href="#v1" x="525.1" y="126.9"/><use href="#v1" x="520.3" y="116.1"/><use href="#v1" x="513.8" y="95.0"/><use href="#v1" x="524.6" y="119.8"/><use href="#v1" x="528.5" y="122.4"/><use href="#v1" x="517.6" y="100.4"/><use href="#v1" x="521.7" y="105.4"/><use href="#v1" x="523.7" y="139.3"/><use href="#v1" x="528.0" y="122.3"/><use href="#v1" x="520.7" y="123.9"/><use href="#v1" x="514.1" y="119.3"/><use href="#v1" x="525.4" y="123.0"/><use href="#v1" x="517.3" y="112.2"/><use href="#v1" x="518.6" y="121.8"/><use href="#v1" x="531.0" y="109.5"/><use href="#v1" x="521.4" y="102.1"/><use href="#v1" x="520.2" y="119.8"/><use href="#v1" x="529.5" y="97.6"/><use href="#v1" x="525.1" y="119.7"/><use href="#v1" x="523.7" y="126.3"/><use href="#v1" x="513.5" y="124.1"/><use href="#v1" x="515.1" y="113.3"/><use href="#v1" x="513.5" y="104.6"/><use href="#v1" x="520.9" y="123.1"/><use href="#v1" x="530.5" y="111.7"/><use href="#v1" x="517.3" y="101.0"/><use href="#v1" x="521.4" y="107.3"/><use href="#v1" x="514.5" y="97.0"/><use href="#v1" x="530.8" y="106.6"/><use href="#v1" x="520.5" y="96.4"/><use href="#v1" x="525.1" y="104.0"/><use href="#v1" x="514.2" y="96.8"/><use href="#v1" x="520.6" y="84.2"/><use href="#v1" x="528.9" y="116.0"/><use href="#v1" x="514.6" y="77.4"/><use href="#v1" x="521.3" y="88.9"/><use href="#v1" x="524.4" y="109.8"/><use href="#v1" x="529.9" y="83.0"/><use href="#v1" x="517.4" y="112.6"/><use href="#v1" x="525.3" y="93.2"/><use href="#v1" x="514.9" y="117.8"/><use href="#v1" x="514.5" y="105.2"/><use href="#v1" x="525.5" y="85.9"/><use href="#v1" x="524.6" y="97.9"/><use href="#v1" x="514.2" y="124.7"/><use href="#v1" x="518.5" y="95.5"/><use href="#v1" x="524.2" y="121.2"/><use href="#v1" x="524.0" y="77.7"/><use href="#v1" x="531.4" y="100.5"/><use href="#v1" x="514.4" y="126.0"/><use href="#v1" x="515.5" y="93.8"/><use href="#v1" x="529.6" y="105.8"/><use href="#v1" x="531.3" y="101.8"/><use href="#v1" x="514.9" y="133.5"/><use href="#v1" x="521.7" y="89.8"/><use href="#v1" x="521.3" y="98.3"/><use href="#v1" x="525.2" y="114.3"/><use href="#v1" x="523.9" y="135.9"/><use href="#v1" x="528.7" y="125.1"/><use href="#v1" x="521.7" y="98.1"/><use href="#v1" x="524.7" y="101.0"/><use href="#v1" x="515.4" y="84.2"/><use href="#v1" x="515.3" y="111.9"/><use href="#v1" x="514.6" y="92.8"/><use href="#v1" x="524.4" y="130.3"/><use href="#v1" x="530.6" y="103.0"/><use href="#v1" x="525.4" y="97.1"/><use href="#v1" x="521.2" y="114.7"/><use href="#v1" x="514.9" y="93.8"/><use href="#v1" x="520.7" y="109.1"/><use href="#v1" x="524.4" y="86.7"/><use href="#v1" x="514.9" y="116.5"/><use href="#v1" x="514.9" y="107.1"/><use href="#v1" x="529.7" y="104.9"/><use href="#v1" x="521.3" y="125.3"/><use href="#v1" x="517.0" y="116.8"/><use href="#v1" x="530.5" y="121.6"/><use href="#v1" x="521.3" y="121.3"/><use href="#v1" x="514.0" y="84.9"/><use href="#v1" x="524.9" y="126.5"/><use href="#v1" x="514.8" y="112.4"/><use href="#v1" x="528.4" y="105.4"/><use href="#v1" x="518.5" y="94.9"/><use href="#v1" x="518.6" y="101.4"/><use href="#v1" x="515.2" y="99.6"/><use href="#v1" x="525.1" y="112.9"/><use href="#v1" x="514.7" y="102.2"/><use href="#v1" x="514.6" y="95.7"/><use href="#v1" x="518.4" y="109.2"/><use href="#v1" x="517.6" y="94.4"/><use href="#v1" x="529.8" y="108.4"/><use href="#v1" x="520.2" y="127.5"/><use href="#v1" x="521.0" y="110.7"/><use href="#v1" x="528.5" y="113.7"/><use href="#v1" x="523.7" y="112.7"/><use href="#v1" x="514.9" y="120.0"/><use href="#v1" x="528.7" y="90.8"/><use href="#v1" x="515.3" y="85.8"/><use href="#v1" x="518.7" y="114.9"/><use href="#v1" x="514.6" y="106.2"/><use href="#v1" x="521.8" y="100.2"/><use href="#v1" x="527.8" y="112.0"/><use href="#v1" x="525.1" y="133.0"/><use href="#v1" x="521.7" y="105.9"/><use href="#v1" x="521.3" y="107.3"/><use href="#v1" x="524.2" y="127.6"/><use href="#v1" x="531.3" y="86.6"/><use href="#v1" x="527.2" y="92.9"/><use href="#v1" x="514.0" y="120.8"/><use href="#v1" x="525.2" y="84.5"/><use href="#v1" x="527.1" y="103.8"/><use href="#v1" x="513.8" y="110.9"/><use href="#v1" x="520.5" y="109.0"/><use href="#v1" x="514.9" y="77.9"/><use href="#v1" x="531.0" y="116.5"/><use href="#v1" x="520.0" y="115.4"/><use href="#v1" x="528.8" y="100.0"/><use href="#v1" x="530.2" y="142.1"/><use href="#v1" x="524.5" y="123.6"/><use href="#v1" x="531.2" y="131.8"/><use href="#v1" x="521.4" y="110.0"/><use href="#v1" x="520.7" y="113.1"/><use href="#v1" x="514.1" y="112.0"/><use href="#v1" x="518.9" y="115.8"/><use href="#v1" x="517.8" y="112.8"/><use href="#v1" x="528.7" y="121.8"/><use href="#v1" x="521.2" y="108.2"/><use href="#v1" x="524.4" y="102.1"/><use href="#v1" x="520.9" y="125.6"/><use href="#v1" x="528.8" y="120.1"/><use href="#v1" x="514.0" y="109.7"/><use href="#v1" x="529.7" y="107.3"/><use href="#v1" x="520.9" y="128.4"/><use href="#v1" x="529.8" y="122.9"/><use href="#v1" x="515.5" y="102.8"/><use href="#v1" x="521.7" y="131.9"/><use href="#v1" x="524.6" y="127.9"/><use href="#v1" x="514.5" y="134.2"/></g><path d="M546.7 110V133M554.0 122V135M553.0 102V113M552.2 120V133M560.8 97V106M562.6 104V123M556.1 84V105M556.3 112V130M544.3 115V131M554.5 96V118M562.8 99V117M555.1 88V111M551.5 96V111M549.2 110V117M553.9 114V129M559.6 109V125M551.6 106V129M554.9 84V104M560.0 104V120M545.8 93V106M557.7 120V136M550.4 108V125M545.2 133V153M548.2 104V125M553.7 108V130M558.0 116V142M552.9 97V116M560.3 122V136M560.8 108V120M559.5 109V129M561.1 102V122M555.1 124V140M561.5 108V121M558.4 100V115M558.6 88V102M557.3 129V146M562.4 108V123M549.4 105V121M560.7 100V107M548.3 87V101M557.9 96V111M561.4 114V136M548.8 94V107M549.5 80V101M557.6 99V116M561.4 101V108M561.2 107V126M551.8 108V127M556.3 94V114M557.8 93V105M552.8 101V127M555.0 113V132M556.7 95V106M558.4 100V122M560.1 116V127M554.4 89V108M547.5 107V128M553.9 110V128M548.4 102V120M552.5 102V110M546.5 89V106M551.7 106V129M555.3 94V116M551.6 87V109M550.8 136V158M559.7 113V140M562.9 118V140M558.0 110V132M544.5 126V143M555.5 104V113M553.2 108V114M552.2 126V151M548.8 106V119M545.4 122V142M552.0 128V145M561.1 104V127M556.5 108V131M547.9 104V120M555.1 120V130M561.5 88V96M554.5 113V120M549.8 99V108M561.4 76V97M554.9 96V113M544.9 103V122M560.0 116V138M559.5 79V110M549.7 71V102M559.0 76V90M558.8 99V121M556.9 126V141M559.2 117V130M556.0 93V109M549.8 82V104M552.9 98V111M545.4 83V99M556.0 88V95M560.8 118V128M546.5 92V114M550.0 102V119M554.2 108V119M556.3 106V119M561.7 118V130M553.3 117V132M547.7 97V105M561.5 85V97M560.1 113V130M557.0 93V112M548.7 94V103M557.0 97V116M549.6 91V102M562.5 70V90M547.8 129V146M545.0 119V133M553.0 90V108M562.0 93V111M558.0 80V99M549.3 105V131M563.1 124V139M555.0 106V131M558.9 103V125M551.3 112V124M553.8 80V108M558.9 139V147M562.7 105V116M562.9 112V121M562.9 120V127M553.3 89V112M561.0 116V135M546.2 87V115M548.1 137V148M558.7 106V125M562.3 96V104M552.6 109V127M545.0 117V131M557.8 99V114M562.1 145V158M558.5 119V134M544.9 129V149M551.4 105V115M552.2 104V125M557.2 89V101M555.5 87V99M545.7 123V133M555.7 102V114M549.0 115V132M548.6 87V105M559.7 118V137M555.5 76V102M551.7 88V103M560.9 113V121M562.5 98V116M561.3 100V118M553.0 115V130M550.6 89V102M548.3 101V117M547.7 140V155M556.4 121V153M553.9 107V115M552.5 133V153M551.6 102V109M546.0 98V113M553.5 96V112M544.7 101V113M543.8 100V125M551.5 92V108M543.8 85V104M553.0 107V130M554.0 102V118M544.3 92V98M553.7 108V121M547.1 91V102M561.0 106V131M551.5 101V118M550.6 91V120M558.3 91V110M546.6 115V138M553.6 108V124M562.0 86V112M547.6 121V137M557.7 113V125M549.3 97V113M556.9 73V88M554.9 112V118M560.6 108V124M551.9 92V107M551.7 128V134M547.7 110V143M555.8 89V109M551.0 82V96M547.9 103V129M551.5 89V107M547.9 107V119M556.7 76V95M552.2 109V132" stroke="#9619e6" stroke-opacity="0.30" stroke-width="1" fill="none"/><g fill="#9619e6" fill-opacity="0.60" stroke="#9619e6" stroke-opacity="0.85" stroke-width="0.50"><use href="#u1" x="546.7" y="121.5"/><use href="#u1" x="554.0" y="128.3"/><use href="#u1" x="556.5" y="104.6"/><use href="#u1" x="553.0" y="107.5"/><use href="#u1" x="552.2" y="126.5"/><use href="#u1" x="560.8" y="101.6"/><use href="#u1" x="562.6" y="113.4"/><use href="#u1" x="556.1" y="94.8"/><use href="#u1" x="556.3" y="120.9"/><use href="#u1" x="544.3" y="122.6"/><use href="#u1" x="554.5" y="106.9"/><use href="#u1" x="562.8" y="107.9"/><use href="#u1" x="555.1" y="99.7"/><use href="#u1" x="551.5" y="103.6"/><use href="#u1" x="549.2" y="114.0"/><use href="#u1" x="553.9" y="121.7"/><use href="#u1" x="559.6" y="116.7"/><use href="#u1" x="551.6" y="117.4"/><use href="#u1" x="554.9" y="93.9"/><use href="#u1" x="561.4" y="91.8"/><use href="#u1" x="560.0" y="111.8"/><use href="#u1" x="545.8" y="99.7"/><use href="#u1" x="557.7" y="128.1"/><use href="#u1" x="550.4" y="116.5"/><use href="#u1" x="545.2" y="143.0"/><use href="#u1" x="548.2" y="114.4"/><use href="#u1" x="553.7" y="118.7"/><use href="#u1" x="558.0" y="129.0"/><use href="#u1" x="552.9" y="106.3"/><use href="#u1" x="560.3" y="128.9"/><use href="#u1" x="560.8" y="113.9"/><use href="#u1" x="559.5" y="118.9"/><use href="#u1" x="561.1" y="112.4"/><use href="#u1" x="555.1" y="132.0"/><use href="#u1" x="561.5" y="114.6"/><use href="#u1" x="552.1" y="114.1"/><use href="#u1" x="558.4" y="107.6"/><use href="#u1" x="558.6" y="95.4"/><use href="#u1" x="557.3" y="137.3"/><use href="#u1" x="562.4" y="115.5"/><use href="#u1" x="557.8" y="95.0"/><use href="#u1" x="547.7" y="126.1"/><use href="#u1" x="549.4" y="113.2"/><use href="#u1" x="560.7" y="103.8"/><use href="#u1" x="548.3" y="93.8"/><use href="#u1" x="557.9" y="103.7"/><use href="#u1" x="561.4" y="125.4"/><use href="#u1" x="548.8" y="100.2"/><use href="#u1" x="545.6" y="106.0"/><use href="#u1" x="549.5" y="90.5"/><use href="#u1" x="557.6" y="107.6"/><use href="#u1" x="561.4" y="104.6"/><use href="#u1" x="561.2" y="116.5"/><use href="#u1" x="551.8" y="117.2"/><use href="#u1" x="556.3" y="104.1"/><use href="#u1" x="557.8" y="99.0"/><use href="#u1" x="552.8" y="113.8"/><use href="#u1" x="555.0" y="122.5"/><use href="#u1" x="556.7" y="100.8"/><use href="#u1" x="558.4" y="110.7"/><use href="#u1" x="560.1" y="121.6"/><use href="#u1" x="554.4" y="98.3"/><use href="#u1" x="547.5" y="117.6"/><use href="#u1" x="553.9" y="118.9"/><use href="#u1" x="548.4" y="111.3"/><use href="#u1" x="552.5" y="106.1"/><use href="#u1" x="546.5" y="97.3"/><use href="#u1" x="551.7" y="117.2"/><use href="#u1" x="555.3" y="104.9"/><use href="#u1" x="551.6" y="98.2"/><use href="#u1" x="550.8" y="147.0"/><use href="#u1" x="559.7" y="126.8"/><use href="#u1" x="562.9" y="129.3"/><use href="#u1" x="558.0" y="120.9"/><use href="#u1" x="561.7" y="114.1"/><use href="#u1" x="544.5" y="134.6"/><use href="#u1" x="555.5" y="108.3"/><use href="#u1" x="553.2" y="110.8"/><use href="#u1" x="552.2" y="138.4"/><use href="#u1" x="548.8" y="112.4"/><use href="#u1" x="545.4" y="131.6"/><use href="#u1" x="552.0" y="136.4"/><use href="#u1" x="561.1" y="115.1"/><use href="#u1" x="556.5" y="119.1"/><use href="#u1" x="547.9" y="111.9"/><use href="#u1" x="555.1" y="125.1"/><use href="#u1" x="561.5" y="91.8"/><use href="#u1" x="554.5" y="116.4"/><use href="#u1" x="549.8" y="103.6"/><use href="#u1" x="561.4" y="86.4"/><use href="#u1" x="554.9" y="104.6"/><use href="#u1" x="544.9" y="112.2"/><use href="#u1" x="560.0" y="127.2"/><use href="#u1" x="559.5" y="94.5"/><use href="#u1" x="549.7" y="86.5"/><use href="#u1" x="559.0" y="82.6"/><use href="#u1" x="558.8" y="110.2"/><use href="#u1" x="556.9" y="133.8"/><use href="#u1" x="559.2" y="123.5"/><use href="#u1" x="560.7" y="105.2"/><use href="#u1" x="556.0" y="100.9"/><use href="#u1" x="549.8" y="93.2"/><use href="#u1" x="552.9" y="104.8"/><use href="#u1" x="545.4" y="91.0"/><use href="#u1" x="556.0" y="91.6"/><use href="#u1" x="560.8" y="123.0"/><use href="#u1" x="546.5" y="102.8"/><use href="#u1" x="550.0" y="110.4"/><use href="#u1" x="554.2" y="113.7"/><use href="#u1" x="556.3" y="112.5"/><use href="#u1" x="561.7" y="124.0"/><use href="#u1" x="553.3" y="124.4"/><use href="#u1" x="547.7" y="101.0"/><use href="#u1" x="553.2" y="115.8"/><use href="#u1" x="561.5" y="91.0"/><use href="#u1" x="560.1" y="121.4"/><use href="#u1" x="557.0" y="102.9"/><use href="#u1" x="548.7" y="98.5"/><use href="#u1" x="557.0" y="106.4"/><use href="#u1" x="549.6" y="96.4"/><use href="#u1" x="562.5" y="80.3"/><use href="#u1" x="547.8" y="137.8"/><use href="#u1" x="545.0" y="125.7"/><use href="#u1" x="553.0" y="99.0"/><use href="#u1" x="557.8" y="119.2"/><use href="#u1" x="562.0" y="101.9"/><use href="#u1" x="558.0" y="89.7"/><use href="#u1" x="549.3" y="117.5"/><use href="#u1" x="563.1" y="131.7"/><use href="#u1" x="555.0" y="118.5"/><use href="#u1" x="558.9" y="114.1"/><use href="#u1" x="551.3" y="118.1"/><use href="#u1" x="553.8" y="93.9"/><use href="#u1" x="558.9" y="142.8"/><use href="#u1" x="562.7" y="110.7"/><use href="#u1" x="562.9" y="116.1"/><use href="#u1" x="562.9" y="123.7"/><use href="#u1" x="553.3" y="100.8"/><use href="#u1" x="561.0" y="125.8"/><use href="#u1" x="546.2" y="100.9"/><use href="#u1" x="548.1" y="142.6"/><use href="#u1" x="558.7" y="115.2"/><use href="#u1" x="562.3" y="99.9"/><use href="#u1" x="552.6" y="117.8"/><use href="#u1" x="545.0" y="124.3"/><use href="#u1" x="557.8" y="106.3"/><use href="#u1" x="562.1" y="151.5"/><use href="#u1" x="558.5" y="126.6"/><use href="#u1" x="544.9" y="139.3"/><use href="#u1" x="551.4" y="110.3"/><use href="#u1" x="552.2" y="114.7"/><use href="#u1" x="547.4" y="115.4"/><use href="#u1" x="557.2" y="95.0"/><use href="#u1" x="561.3" y="117.6"/><use href="#u1" x="555.5" y="93.3"/><use href="#u1" x="545.7" y="127.7"/><use href="#u1" x="555.7" y="108.0"/><use href="#u1" x="546.4" y="97.2"/><use href="#u1" x="549.0" y="123.7"/><use href="#u1" x="548.6" y="95.7"/><use href="#u1" x="559.7" y="127.5"/><use href="#u1" x="555.5" y="89.3"/><use href="#u1" x="551.7" y="95.5"/><use href="#u1" x="560.9" y="117.5"/><use href="#u1" x="562.5" y="107.1"/><use href="#u1" x="561.3" y="108.9"/><use href="#u1" x="553.0" y="122.4"/><use href="#u1" x="550.6" y="95.4"/><use href="#u1" x="548.3" y="109.3"/><use href="#u1" x="547.7" y="147.2"/><use href="#u1" x="556.4" y="137.2"/><use href="#u1" x="553.9" y="110.9"/><use href="#u1" x="552.5" y="142.7"/><use href="#u1" x="551.6" y="105.8"/><use href="#u1" x="546.0" y="105.6"/><use href="#u1" x="556.5" y="118.5"/><use href="#u1" x="553.5" y="104.3"/><use href="#u1" x="544.7" y="106.8"/><use href="#u1" x="543.8" y="112.3"/><use href="#u1" x="551.5" y="100.1"/><use href="#u1" x="543.8" y="94.4"/><use href="#u1" x="553.0" y="118.8"/><use href="#u1" x="554.0" y="110.5"/><use href="#u1" x="544.3" y="94.9"/><use href="#u1" x="553.7" y="114.4"/><use href="#u1" x="547.1" y="96.7"/><use href="#u1" x="561.0" y="118.5"/><use href="#u1" x="551.5" y="109.6"/><use href="#u1" x="550.6" y="105.7"/><use href="#u1" x="558.3" y="100.6"/><use href="#u1" x="546.6" y="126.7"/><use href="#u1" x="553.6" y="115.7"/><use href="#u1" x="552.8" y="109.9"/><use href="#u1" x="562.0" y="99.1"/><use href="#u1" x="547.6" y="129.3"/><use href="#u1" x="557.7" y="118.6"/><use href="#u1" x="549.3" y="105.2"/><use href="#u1" x="556.9" y="80.5"/><use href="#u1" x="554.9" y="114.8"/><use href="#u1" x="560.6" y="115.9"/><use href="#u1" x="551.9" y="99.3"/><use href="#u1" x="551.7" y="131.1"/><use href="#u1" x="547.7" y="126.7"/><use href="#u1" x="555.8" y="98.6"/><use href="#u1" x="551.0" y="88.9"/><use href="#u1" x="547.9" y="116.0"/><use href="#u1" x="551.5" y="98.2"/><use href="#u1" x="547.9" y="112.7"/><use href="#u1" x="556.7" y="85.9"/><use href="#u1" x="552.2" y="120.8"/></g><path d="M568.1 100V115M567.9 93V113M567.8 86V97M568.0 88V115M567.9 100V115M568.0 93V117M567.9 93V111M568.1 108V125M568.0 112V132M568.0 114V129M567.8 127V136M568.1 90V108M567.9 108V127M568.1 114V144M568.0 86V97M568.2 97V117M568.2 105V134M568.1 101V120M567.9 110V126M567.8 92V103M568.0 90V103M567.8 110V120M568.0 111V118M568.1 107V121M567.9 105V119M568.1 74V101M568.0 90V103M568.2 81V106M568.2 109V128M568.0 98V113M568.1 106V113M567.9 91V115M567.9 113V119M568.1 98V112M567.8 95V121M568.1 119V129M568.1 97V109" stroke="#e61996" stroke-opacity="0.30" stroke-width="1" fill="none"/><g fill="#e61996" fill-opacity="0.60" stroke="#e61996" stroke-opacity="0.85" stroke-width="0.50"><use href="#v1" x="568.1" y="107.2"/><use href="#v1" x="567.9" y="102.6"/><use href="#v1" x="567.8" y="91.4"/><use href="#v1" x="568.0" y="129.9"/><use href="#v1" x="568.0" y="101.2"/><use href="#v1" x="567.9" y="107.3"/><use href="#v1" x="568.0" y="105.0"/><use href="#v1" x="567.9" y="101.9"/><use href="#v1" x="568.1" y="116.7"/><use href="#v1" x="568.0" y="121.7"/><use href="#v1" x="568.0" y="121.4"/><use href="#v1" x="567.8" y="131.4"/><use href="#v1" x="568.1" y="99.4"/><use href="#v1" x="567.9" y="117.4"/><use href="#v1" x="568.1" y="128.9"/><use href="#v1" x="568.0" y="91.8"/><use href="#v1" x="568.2" y="107.3"/><use href="#v1" x="568.2" y="119.6"/><use href="#v1" x="568.1" y="110.2"/><use href="#v1" x="567.9" y="117.9"/><use href="#v1" x="567.8" y="97.5"/><use href="#v1" x="568.0" y="96.6"/><use href="#v1" x="567.8" y="115.1"/><use href="#v1" x="568.0" y="114.5"/><use href="#v1" x="568.0" y="117.7"/><use href="#v1" x="568.1" y="113.9"/><use href="#v1" x="567.9" y="112.0"/><use href="#v1" x="568.1" y="87.5"/><use href="#v1" x="568.0" y="96.5"/><use href="#v1" x="568.2" y="93.2"/><use href="#v1" x="568.2" y="118.4"/><use href="#v1" x="567.9" y="128.7"/><use href="#v1" x="568.0" y="105.1"/><use href="#v1" x="568.1" y="109.5"/><use href="#v1" x="567.9" y="102.8"/><use href="#v1" x="567.9" y="115.9"/><use href="#v1" x="568.1" y="104.9"/><use href="#v1" x="567.8" y="108.4"/><use href="#v1" x="568.1" y="123.7"/><use href="#v1" x="568.1" y="103.3"/></g><path d="M596.2 126V136M589.6 133V153M575.9 142V160M595.3 132V154M595.5 142V151M593.3 141V163M589.9 130V139M575.5 112V131M580.5 141V151M585.7 122V136M584.8 137V155M579.2 146V161M590.6 136V155M583.6 139V157M586.1 131V152M586.2 125V137M597.4 144V155M594.9 137V150M583.0 139V148M587.5 131V147M593.4 139V148M577.2 124V139M579.6 123V134M582.2 142V161M586.4 136V156M589.2 133V148M595.0 146V160M577.3 126V150M596.4 120V133M589.3 140V166M591.3 135V151M582.0 124V145M583.2 137V149M577.9 132V148M576.9 147V163M582.7 140V149M578.0 133V148M584.8 114V137M579.4 131V150M592.8 144V153M595.2 133V154M577.6 128V148M592.7 127V146M577.2 138V158M588.6 124V146M581.7 125V148M581.8 132V148M579.7 128V155M576.0 134V154M584.9 125V148M595.8 119V140M592.6 131V143" stroke="#19e619" stroke-opacity="0.30" stroke-width="1" fill="none"/><g fill="#19e619" fill-opacity="0.50" stroke="#19e619" stroke-opacity="0.75" stroke-width="0.50"><use href="#x1" x="596.2" y="131.3"/><use href="#x1" x="589.6" y="142.7"/><use href="#x1" x="575.9" y="150.8"/><use href="#x1" x="595.3" y="143.2"/><use href="#x1" x="595.5" y="146.4"/><use href="#x1" x="593.3" y="152.2"/><use href="#x1" x="589.9" y="134.5"/><use href="#x1" x="575.5" y="121.2"/><use href="#x1" x="580.5" y="146.2"/><use href="#x1" x="585.7" y="128.6"/><use href="#x1" x="584.8" y="146.0"/><use href="#x1" x="579.2" y="153.2"/><use href="#x1" x="590.6" y="145.6"/><use href="#x1" x="583.6" y="148.4"/><use href="#x1" x="586.1" y="141.5"/><use href="#x1" x="586.2" y="130.8"/><use href="#x1" x="597.4" y="149.4"/><use href="#x1" x="594.9" y="143.4"/><use href="#x1" x="583.0" y="143.4"/><use href="#x1" x="587.5" y="139.2"/><use href="#x1" x="593.4" y="143.3"/><use href="#x1" x="577.2" y="131.5"/><use href="#x1" x="579.6" y="128.9"/><use href="#x1" x="582.2" y="151.5"/><use href="#x1" x="586.4" y="145.7"/><use href="#x1" x="593.5" y="139.8"/><use href="#x1" x="589.2" y="140.5"/><use href="#x1" x="595.0" y="153.0"/><use href="#x1" x="577.3" y="137.7"/><use href="#x1" x="596.4" y="126.6"/><use href="#x1" x="589.3" y="153.1"/><use href="#x1" x="591.3" y="142.6"/><use href="#x1" x="582.0" y="134.3"/><use href="#x1" x="583.2" y="142.9"/><use href="#x1" x="577.9" y="139.7"/><use href="#x1" x="576.9" y="154.9"/><use href="#x1" x="582.7" y="144.3"/><use href="#x1" x="578.0" y="140.5"/><use href="#x1" x="584.8" y="125.4"/><use href="#x1" x="579.4" y="140.7"/><use href="#x1" x="592.8" y="148.5"/><use href="#x1" x="584.3" y="144.3"/><use href="#x1" x="595.2" y="143.4"/><use href="#x1" x="577.6" y="138.1"/><use href="#x1" x="592.7" y="136.5"/><use href="#x1" x="577.2" y="148.0"/><use href="#x1" x="588.6" y="135.1"/><use href="#x1" x="592.1" y="142.2"/><use href="#x1" x="581.7" y="136.4"/><use href="#x1" x="581.8" y="139.7"/><use href="#x1" x="579.7" y="141.6"/><use href="#x1" x="576.0" y="143.8"/><use href="#x1" x="584.9" y="136.8"/><use href="#x1" x="595.8" y="129.4"/><use href="#x1" x="592.6" y="136.7"/></g><path d="M595.7 61V75M590.4 59V90M594.8 66V79M587.9 58V84M597.2 58V67M589.4 70V96" stroke="#808080" stroke-opacity="0.30" stroke-width="1" fill="none"/><g fill="#808080" fill-opacity="0.60" stroke="#808080" stroke-opacity="0.85" stroke-width="0.50"><use href="#l1" x="595.7" y="68.3"/><use href="#l1" x="590.4" y="74.6"/><use href="#l1" x="594.8" y="72.5"/><use href="#l1" x="587.9" y="70.7"/><use href="#l1" x="597.2" y="62.1"/><use href="#l1" x="589.4" y="83.0"/></g><path d="M582.1 120V132M574.2 87V99M589.8 98V115M590.9 81V99M594.8 67V88M582.3 90V105M591.9 75V88M575.0 119V125M575.2 107V121M585.1 84V95M585.4 95V116M586.3 103V121M580.5 99V117M575.9 112V124M588.9 75V99M595.9 94V117M589.1 95V107M591.3 118V125M594.5 78V94M579.3 88V108M582.7 95V109M579.2 98V112M593.5 81V92M583.1 93V115M580.9 86V99M590.1 73V100M577.3 87V101M587.4 94V115M583.0 94V103M585.6 111V136M576.1 86V110M593.4 85V103M581.7 87V112M594.0 94V105M586.4 97V114M580.3 110V128M589.5 93V111M596.8 108V127M586.2 104V124M577.3 110V122M577.7 75V104M595.7 91V100M574.4 104V119M594.2 98V118M581.7 93V111M582.6 86V102M595.2 118V136M579.7 79V102M574.7 113V132M593.5 87V94M574.3 86V101M582.5 95V107M576.3 104V118M573.6 78V93M593.3 85V98M588.5 80V99M578.8 95V114M575.8 91V113M578.0 100V115M592.3 106V128M574.6 109V124M591.7 84V102M582.9 94V107M583.0 110V126M588.8 85V106M587.6 97V118M591.4 116V130M577.4 96V108M591.0 116V132M590.2 81V100M590.3 109V121M589.2 109V130M597.3 116V138M585.3 81V102M591.5 98V115M592.6 96V123M595.2 81V100M580.5 82V102M589.7 83V104M581.8 102V109M587.8 96V116M574.6 105V127M577.0 95V109M575.6 105V118M590.0 76V90M582.0 92V104M582.7 76V102M583.6 76V101M585.4 113V133M592.0 82V97M586.9 92V105M590.9 99V108M595.0 106V123M590.3 94V116M585.7 97V110M591.2 85V104M588.8 88V108M587.7 108V123M584.5 83V104M579.8 107V124M595.0 92V118M586.3 92V113M594.5 83V100M588.1 109V131M596.4 105V118M580.4 86V103M587.9 99V110M575.5 66V84M582.7 99V109M583.4 108V124M588.8 76V95M593.3 88V99M586.6 98V123M593.3 111V119M594.7 83V98M585.2 106V119M585.9 99V113M593.3 98V114M578.4 104V117M590.1 92V114M585.9 73V94M594.2 108V122M592.7 74V99M583.2 100V122M595.3 121V137M584.9 96V111M594.3 100V117M583.9 86V105M596.8 91V102M589.3 113V134M579.9 89V102M581.4 102V113M586.3 105V122M588.2 97V114M586.4 111V136M594.7 101V128M574.5 97V111M576.8 100V123M575.7 108V130M580.1 117V145M589.9 112V126M587.7 84V105M575.7 103V123M585.1 109V118M595.8 91V115M588.0 87V112M589.6 105V122M583.9 110V119M583.2 96V113M581.5 104V129M596.9 78V100M592.4 73V93M590.8 113V125M580.8 101V114M573.6 92V117M586.9 103V117M580.7 106V127M589.0 120V137M584.0 105V113M579.8 121V132M593.3 90V102M578.2 125V133M592.9 102V114M579.0 125V140M592.6 78V93M589.1 81V95M592.9 87V97M583.4 88V100M581.2 81V101M593.5 98V109M575.3 94V110M577.3 86V103M590.6 102V118M592.0 83V110M576.7 80V103M586.0 80V103M595.2 106V119M596.3 90V102M580.6 93V107M597.3 110V132M587.3 91V105M594.7 90V109M577.0 100V113M595.0 81V102M585.8 110V128M585.8 106V124M590.2 75V82M595.1 96V109M580.8 106V124M595.8 97V112M587.0 88V99M584.1 113V122M581.6 106V119M595.9 97V109M592.6 95V114M578.0 108V118M585.3 112V126M585.0 66V89M586.2 93V101M593.0 103V128M573.9 104V132M587.3 106V119M582.3 124V136M587.9 76V92M590.4 102V120M593.3 83V107M590.0 88V101M589.3 116V124M587.0 120V133M590.8 81V93M593.5 105V113M574.6 86V103M590.4 94V112M592.7 92V108M595.8 103V119M597.4 80V102M579.4 62V89M577.3 109V128M593.5 67V83M577.1 90V102M590.6 110V131M586.8 81V103M581.3 106V122M594.7 76V98M578.7 74V87M596.7 111V125M578.1 100V113M583.7 97V108" stroke="#1e96e6" stroke-opacity="0.30" stroke-width="1" fill="none"/><g fill="#1e96e6" fill-opacity="0.60" stroke="#1e96e6" stroke-opacity="0.85" stroke-width="0.50"><use href="#o1" x="582.1" y="126.0"/><use href="#o1" x="574.2" y="92.7"/><use href="#o1" x="589.8" y="106.5"/><use href="#o1" x="590.9" y="90.2"/><use href="#o1" x="594.8" y="77.7"/><use href="#o1" x="582.3" y="97.9"/><use href="#o1" x="591.9" y="81.7"/><use href="#o1" x="575.0" y="121.8"/><use href="#o1" x="575.2" y="114.0"/><use href="#o1" x="585.1" y="89.2"/><use href="#o1" x="585.4" y="105.5"/><use href="#o1" x="586.3" y="112.0"/><use href="#o1" x="580.5" y="107.8"/><use href="#o1" x="575.9" y="118.2"/><use href="#o1" x="588.9" y="87.2"/><use href="#o1" x="595.9" y="105.7"/><use href="#o1" x="589.1" y="100.9"/><use href="#o1" x="591.3" y="121.4"/><use href="#o1" x="594.5" y="86.1"/><use href="#o1" x="579.3" y="97.9"/><use href="#o1" x="582.7" y="102.1"/><use href="#o1" x="579.2" y="105.0"/><use href="#o1" x="594.7" y="84.2"/><use href="#o1" x="593.5" y="86.9"/><use href="#o1" x="583.1" y="104.1"/><use href="#o1" x="580.9" y="92.3"/><use href="#o1" x="590.1" y="86.3"/><use href="#o1" x="577.3" y="94.1"/><use href="#o1" x="587.4" y="104.4"/><use href="#o1" x="583.0" y="98.6"/><use href="#o1" x="585.6" y="123.6"/><use href="#o1" x="576.1" y="98.1"/><use href="#o1" x="593.4" y="93.6"/><use href="#o1" x="581.7" y="99.5"/><use href="#o1" x="594.0" y="99.9"/><use href="#o1" x="586.4" y="105.3"/><use href="#o1" x="580.3" y="119.1"/><use href="#o1" x="589.5" y="102.0"/><use href="#o1" x="596.8" y="117.1"/><use href="#o1" x="586.2" y="113.6"/><use href="#o1" x="577.3" y="115.9"/><use href="#o1" x="577.7" y="89.4"/><use href="#o1" x="595.7" y="95.2"/><use href="#o1" x="579.3" y="85.4"/><use href="#o1" x="574.4" y="111.2"/><use href="#o1" x="594.2" y="108.0"/><use href="#o1" x="581.7" y="102.1"/><use href="#o1" x="582.6" y="94.2"/><use href="#o1" x="595.2" y="126.9"/><use href="#o1" x="579.7" y="90.6"/><use href="#o1" x="574.7" y="122.3"/><use href="#o1" x="593.5" y="90.8"/><use href="#o1" x="574.3" y="93.9"/><use href="#o1" x="582.5" y="100.9"/><use href="#o1" x="576.3" y="111.0"/><use href="#o1" x="573.6" y="85.6"/><use href="#o1" x="593.3" y="91.7"/><use href="#o1" x="588.5" y="89.8"/><use href="#o1" x="578.8" y="104.3"/><use href="#o1" x="575.8" y="102.0"/><use href="#o1" x="594.9" y="117.9"/><use href="#o1" x="578.0" y="107.7"/><use href="#o1" x="592.3" y="116.9"/><use href="#o1" x="574.6" y="116.5"/><use href="#o1" x="591.7" y="93.0"/><use href="#o1" x="582.9" y="100.5"/><use href="#o1" x="583.0" y="118.1"/><use href="#o1" x="588.8" y="95.5"/><use href="#o1" x="587.6" y="107.2"/><use href="#o1" x="591.4" y="123.0"/><use href="#o1" x="577.4" y="101.8"/><use href="#o1" x="591.0" y="124.2"/><use href="#o1" x="590.2" y="90.6"/><use href="#o1" x="590.3" y="115.1"/><use href="#o1" x="589.2" y="119.9"/><use href="#o1" x="597.3" y="127.2"/><use href="#o1" x="585.3" y="91.1"/><use href="#o1" x="591.5" y="106.6"/><use href="#o1" x="592.6" y="109.6"/><use href="#o1" x="595.2" y="90.4"/><use href="#o1" x="580.5" y="92.4"/><use href="#o1" x="589.7" y="93.4"/><use href="#o1" x="581.8" y="105.7"/><use href="#o1" x="587.8" y="106.1"/><use href="#o1" x="574.6" y="116.0"/><use href="#o1" x="577.0" y="102.1"/><use href="#o1" x="575.6" y="111.6"/><use href="#o1" x="590.0" y="82.9"/><use href="#o1" x="582.0" y="98.1"/><use href="#o1" x="582.7" y="89.0"/><use href="#o1" x="583.6" y="88.5"/><use href="#o1" x="585.4" y="122.8"/><use href="#o1" x="592.0" y="89.6"/><use href="#o1" x="586.9" y="98.5"/><use href="#o1" x="590.9" y="103.4"/><use href="#o1" x="595.0" y="114.9"/><use href="#o1" x="590.3" y="104.7"/><use href="#o1" x="585.7" y="103.6"/><use href="#o1" x="591.2" y="94.5"/><use href="#o1" x="588.8" y="97.9"/><use href="#o1" x="582.2" y="108.2"/><use href="#o1" x="587.7" y="115.5"/><use href="#o1" x="584.5" y="93.5"/><use href="#o1" x="579.8" y="115.6"/><use href="#o1" x="595.0" y="105.2"/><use href="#o1" x="586.3" y="102.5"/><use href="#o1" x="594.5" y="91.5"/><use href="#o1" x="588.1" y="119.6"/><use href="#o1" x="596.4" y="111.5"/><use href="#o1" x="580.4" y="94.4"/><use href="#o1" x="587.9" y="104.6"/><use href="#o1" x="575.5" y="75.3"/><use href="#o1" x="582.7" y="104.2"/><use href="#o1" x="583.4" y="116.4"/><use href="#o1" x="588.8" y="85.4"/><use href="#o1" x="593.3" y="93.4"/><use href="#o1" x="586.6" y="110.7"/><use href="#o1" x="593.3" y="115.3"/><use href="#o1" x="594.7" y="90.1"/><use href="#o1" x="585.2" y="112.5"/><use href="#o1" x="585.9" y="106.0"/><use href="#o1" x="593.3" y="105.9"/><use href="#o1" x="578.4" y="110.4"/><use href="#o1" x="590.1" y="102.8"/><use href="#o1" x="585.9" y="83.7"/><use href="#o1" x="594.2" y="115.4"/><use href="#o1" x="592.7" y="86.7"/><use href="#o1" x="583.2" y="111.0"/><use href="#o1" x="595.3" y="129.1"/><use href="#o1" x="584.9" y="103.8"/><use href="#o1" x="594.3" y="108.4"/><use href="#o1" x="583.9" y="95.4"/><use href="#o1" x="596.8" y="96.4"/><use href="#o1" x="589.3" y="123.1"/><use href="#o1" x="579.9" y="95.7"/><use href="#o1" x="574.6" y="89.7"/><use href="#o1" x="581.4" y="107.8"/><use href="#o1" x="586.3" y="113.7"/><use href="#o1" x="588.2" y="105.9"/><use href="#o1" x="586.4" y="123.5"/><use href="#o1" x="594.7" y="114.6"/><use href="#o1" x="574.5" y="103.8"/><use href="#o1" x="576.8" y="111.4"/><use href="#o1" x="575.7" y="119.2"/><use href="#o1" x="580.1" y="131.1"/><use href="#o1" x="589.9" y="119.2"/><use href="#o1" x="587.7" y="94.7"/><use href="#o1" x="575.7" y="113.3"/><use href="#o1" x="585.1" y="113.4"/><use href="#o1" x="595.8" y="102.9"/><use href="#o1" x="588.0" y="99.8"/><use href="#o1" x="589.6" y="113.8"/><use href="#o1" x="583.9" y="114.9"/><use href="#o1" x="583.2" y="104.9"/><use href="#o1" x="581.5" y="116.7"/><use href="#o1" x="596.9" y="88.8"/><use href="#o1" x="592.4" y="83.0"/><use href="#o1" x="590.8" y="119.2"/><use href="#o1" x="580.8" y="107.9"/><use href="#o1" x="573.6" y="104.3"/><use href="#o1" x="586.9" y="110.4"/><use href="#o1" x="580.7" y="116.4"/><use href="#o1" x="589.0" y="128.3"/><use href="#o1" x="584.0" y="108.9"/><use href="#o1" x="579.8" y="126.5"/><use href="#o1" x="593.3" y="96.2"/><use href="#o1" x="578.2" y="129.1"/><use href="#o1" x="577.8" y="119.0"/><use href="#o1" x="592.9" y="108.0"/><use href="#o1" x="579.0" y="132.4"/><use href="#o1" x="592.6" y="85.2"/><use href="#o1" x="589.1" y="88.2"/><use href="#o1" x="592.9" y="92.0"/><use href="#o1" x="583.4" y="94.3"/><use href="#o1" x="581.2" y="91.4"/><use href="#o1" x="593.5" y="103.8"/><use href="#o1" x="575.3" y="102.2"/><use href="#o1" x="577.3" y="94.6"/><use href="#o1" x="590.6" y="110.0"/><use href="#o1" x="592.0" y="96.5"/><use href="#o1" x="576.7" y="91.7"/><use href="#o1" x="586.0" y="91.1"/><use href="#o1" x="595.2" y="112.9"/><use href="#o1" x="596.3" y="95.6"/><use href="#o1" x="580.6" y="100.0"/><use href="#o1" x="597.3" y="121.3"/><use href="#o1" x="587.3" y="98.1"/><use href="#o1" x="594.7" y="99.6"/><use href="#o1" x="577.0" y="106.5"/><use href="#o1" x="595.0" y="91.5"/><use href="#o1" x="585.8" y="119.2"/><use href="#o1" x="585.8" y="115.0"/><use href="#o1" x="590.2" y="78.3"/><use href="#o1" x="595.1" y="102.2"/><use href="#o1" x="580.8" y="114.7"/><use href="#o1" x="576.4" y="86.2"/><use href="#o1" x="595.8" y="104.6"/><use href="#o1" x="581.6" y="93.0"/><use href="#o1" x="587.0" y="93.2"/><use href="#o1" x="584.1" y="117.7"/><use href="#o1" x="581.6" y="112.7"/><use href="#o1" x="595.9" y="102.9"/><use href="#o1" x="592.6" y="104.8"/><use href="#o1" x="578.0" y="112.6"/><use href="#o1" x="585.3" y="118.9"/><use href="#o1" x="585.0" y="77.3"/><use href="#o1" x="594.3" y="107.2"/><use href="#o1" x="586.2" y="97.1"/><use href="#o1" x="579.5" y="89.2"/><use href="#o1" x="593.0" y="115.6"/><use href="#o1" x="573.9" y="118.0"/><use href="#o1" x="587.3" y="112.7"/><use href="#o1" x="582.3" y="130.1"/><use href="#o1" x="587.9" y="83.8"/><use href="#o1" x="590.4" y="110.7"/><use href="#o1" x="593.3" y="95.1"/><use href="#o1" x="590.0" y="94.5"/><use href="#o1" x="589.3" y="119.6"/><use href="#o1" x="587.0" y="126.2"/><use href="#o1" x="590.8" y="86.8"/><use href="#o1" x="593.5" y="108.9"/><use href="#o1" x="574.6" y="94.7"/><use href="#o1" x="590.4" y="103.3"/><use href="#o1" x="595.9" y="94.4"/><use href="#o1" x="592.7" y="100.2"/><use href="#o1" x="595.8" y="110.9"/><use href="#o1" x="597.4" y="90.9"/><use href="#o1" x="579.4" y="75.7"/><use href="#o1" x="577.3" y="118.5"/><use href="#o1" x="593.5" y="75.3"/><use href="#o1" x="577.1" y="95.8"/><use href="#o1" x="590.6" y="120.3"/><use href="#o1" x="586.8" y="92.4"/><use href="#o1" x="581.3" y="113.8"/><use href="#o1" x="594.7" y="87.4"/><use href="#o1" x="578.7" y="80.7"/><use href="#o1" x="596.7" y="118.3"/><use href="#o1" x="578.1" y="106.3"/><use href="#o1" x="582.2" y="89.9"/><use href="#o1" x="583.7" y="102.4"/></g><path d="M623.2 121V133M621.2 145V165M619.6 123V148M626.1 140V161M617.4 132V150M626.7 147V176M620.1 119V141M614.8 130V141M626.5 129V145M611.8 148V173M618.7 110V131M619.8 121V131M613.6 150V171M622.9 136V143" stroke="#e69619" stroke-opacity="0.30" stroke-width="1" fill="none"/><g fill="#e69619" fill-opacity="0.50" stroke="#e69619" stroke-opacity="0.75" stroke-width="0.50"><use href="#r1" x="623.2" y="127.3"/><use href="#r1" x="621.2" y="155.1"/><use href="#r1" x="619.6" y="135.7"/><use href="#r1" x="626.1" y="150.3"/><use href="#r1" x="617.4" y="141.0"/><use href="#r1" x="626.7" y="161.1"/><use href="#r1" x="620.1" y="130.0"/><use href="#r1" x="614.8" y="135.8"/><use href="#r1" x="626.5" y="136.8"/><use href="#r1" x="611.8" y="160.4"/><use href="#r1" x="618.7" y="120.4"/><use href="#r1" x="619.8" y="125.9"/><use href="#r1" x="613.6" y="160.6"/><use href="#r1" x="622.9" y="139.5"/></g><path d="M600.8 92V111M620.5 83V102M609.8 75V88M607.1 68V93M606.9 97V110M610.4 99V117M605.5 69V96M619.7 82V100M602.6 111V138M611.8 106V125M601.0 92V101M616.6 101V121M620.6 95V122M612.7 95V115M619.8 97V124M620.4 84V106M607.0 91V108M604.2 100V121M614.0 56V82M621.7 96V112M603.5 90V114M615.8 67V90M622.9 75V95M604.9 91V106M608.1 89V109M606.5 76V103M607.6 88V105M616.6 93V100M600.7 109V127M615.8 89V106M613.5 92V108M615.3 78V97M608.1 78V87M622.0 116V130M604.5 91V103M616.1 83V105M611.3 86V115M618.5 86V99M601.4 117V141M605.9 67V78M606.7 94V118M604.7 88V107M606.4 91V103M604.5 88V94M623.4 103V125M604.6 118V138M607.1 78V102M619.4 69V92M620.6 84V109M616.2 75V85M602.6 65V84M619.5 88V110M612.2 76V98M614.3 100V114M619.2 83V104M623.4 122V131M601.4 100V120M604.2 99V109M615.0 77V91M602.3 99V124M603.4 72V91M603.9 95V126M615.7 59V74M600.6 99V120M606.2 68V86M606.7 60V73M608.7 64V82M611.0 103V118M609.1 63V91M605.8 91V98M622.7 100V113M614.3 93V109M619.4 111V124M607.3 99V109M616.6 87V112M605.2 114V125M608.2 73V93M623.3 82V94M623.6 62V81M622.4 90V98M623.0 82V95M623.1 91V104M615.3 79V92M618.2 72V82M602.0 80V90M616.7 80V109M614.8 65V98M614.8 113V141M618.4 77V96M616.8 101V115M611.3 76V91M619.1 83V102M606.8 114V132M622.4 73V92M615.0 88V106M604.4 73V89M615.6 82V104M614.5 105V128M615.6 77V98M612.5 96V111M608.4 78V104M607.4 80V105M614.9 91V111M606.7 92V110M603.6 58V78M617.7 89V107M608.3 88V113M609.6 85V103M611.4 66V82M623.4 67V83M613.6 83V92M612.6 101V118M617.7 72V86M603.2 81V105M621.9 85V103M600.7 84V105M614.5 92V115M619.7 103V123M603.6 80V93M619.5 102V111M621.1 70V90M615.3 78V104M606.8 87V95M622.2 79V91M611.6 107V126M622.3 65V89M611.1 84V92M604.9 93V110M610.5 85V104M617.6 102V128M603.2 78V91M618.4 79V108M604.5 98V118M601.7 100V117M602.1 76V96M616.6 86V100M622.3 61V78M611.8 100V122M615.2 71V96M607.6 85V104M613.1 70V90M607.5 97V117M612.3 79V95M610.1 85V101M617.6 106V123M602.8 94V106M617.8 100V111M609.5 88V115M622.1 94V108M621.8 79V95M601.8 79V99M602.6 71V80M610.6 116V138M604.3 81V96M623.0 81V98M616.0 96V112M621.8 110V127M617.6 75V94M615.1 116V131M611.2 94V123M609.3 69V84M604.2 65V77M619.5 85V104M615.7 89V96M606.7 90V103M614.6 87V97M602.2 75V101M601.4 96V120M605.9 71V93M615.1 93V100M615.8 84V111M603.6 79V97M623.1 76V103M601.7 58V79M601.2 60V75M610.2 103V124M617.2 64V77M621.0 68V92M607.6 100V119M606.4 71V98M620.1 116V131M610.5 92V109M602.4 79V102M603.1 99V112M601.1 89V106M614.7 89V108M623.2 69V102M618.6 76V90M610.9 100V116M605.4 87V106M604.0 113V126M602.5 95V112M620.4 106V119M616.5 111V121M602.2 80V99M603.0 70V92M621.7 93V107M620.7 86V106M603.4 58V79M610.6 90V112M601.9 93V102M601.1 108V127M606.2 88V105M612.4 66V86M617.3 99V117M617.2 89V113M601.0 88V108M605.6 90V116M613.7 95V110M602.7 66V77M614.1 94V104M602.9 79V108M615.6 93V110M607.5 81V97M619.2 81V98M607.5 66V88M605.1 68V92M617.5 93V105M614.6 57V83M619.2 65V85M619.1 78V92M608.8 98V130M601.4 85V99M619.3 84V97M607.8 114V129M606.3 66V81M613.3 88V106M622.0 88V105M605.5 85V114M622.7 73V97M618.1 96V121M614.8 94V107M617.4 98V119M600.8 82V100M623.1 104V124M620.2 90V110M603.5 67V91M616.6 104V123M608.8 79V102M611.2 76V95M616.2 83V100M606.3 93V118M605.8 86V111" stroke="#e61919" stroke-opacity="0.30" stroke-width="1" fill="none"/><g fill="#e61919" fill-opacity="0.60" stroke="#e61919" stroke-opacity="0.85" stroke-width="0.50"><use href="#D1" x="600.8" y="101.9"/><use href="#D1" x="620.9" y="101.9"/><use href="#D1" x="620.5" y="93.0"/><use href="#D1" x="609.8" y="81.5"/><use href="#D1" x="607.1" y="80.5"/><use href="#D1" x="606.9" y="103.7"/><use href="#D1" x="610.4" y="108.0"/><use href="#D1" x="605.5" y="82.1"/><use href="#D1" x="619.7" y="91.0"/><use href="#D1" x="602.6" y="124.6"/><use href="#D1" x="611.8" y="115.4"/><use href="#D1" x="601.0" y="96.2"/><use href="#D1" x="616.6" y="111.0"/><use href="#D1" x="620.8" y="96.8"/><use href="#D1" x="620.6" y="108.3"/><use href="#D1" x="612.7" y="104.9"/><use href="#D1" x="619.8" y="110.3"/><use href="#D1" x="620.4" y="95.0"/><use href="#D1" x="607.0" y="99.5"/><use href="#D1" x="604.2" y="110.6"/><use href="#D1" x="614.0" y="68.6"/><use href="#D1" x="621.7" y="103.8"/><use href="#D1" x="603.5" y="102.1"/><use href="#D1" x="615.8" y="78.7"/><use href="#D1" x="622.9" y="85.2"/><use href="#D1" x="604.9" y="98.4"/><use href="#D1" x="608.1" y="98.7"/><use href="#D1" x="606.5" y="89.7"/><use href="#D1" x="607.6" y="96.6"/><use href="#D1" x="616.6" y="96.8"/><use href="#D1" x="600.7" y="117.6"/><use href="#D1" x="615.8" y="97.4"/><use href="#D1" x="613.5" y="99.7"/><use href="#D1" x="615.3" y="87.2"/><use href="#D1" x="608.1" y="82.3"/><use href="#D1" x="622.0" y="123.2"/><use href="#D1" x="604.5" y="96.9"/><use href="#D1" x="616.1" y="94.3"/><use href="#D1" x="611.3" y="100.6"/><use href="#D1" x="618.5" y="92.6"/><use href="#D1" x="601.4" y="128.8"/><use href="#D1" x="605.9" y="72.4"/><use href="#D1" x="606.7" y="105.8"/><use href="#D1" x="604.7" y="97.7"/><use href="#D1" x="606.4" y="97.0"/><use href="#D1" x="604.5" y="91.2"/><use href="#D1" x="623.4" y="114.0"/><use href="#D1" x="604.6" y="127.9"/><use href="#D1" x="607.1" y="89.9"/><use href="#D1" x="619.4" y="80.5"/><use href="#D1" x="620.6" y="96.3"/><use href="#D1" x="616.2" y="79.9"/><use href="#D1" x="602.6" y="74.7"/><use href="#D1" x="619.5" y="98.7"/><use href="#D1" x="612.2" y="87.2"/><use href="#D1" x="614.3" y="107.1"/><use href="#D1" x="619.2" y="93.4"/><use href="#D1" x="623.4" y="126.8"/><use href="#D1" x="601.4" y="110.0"/><use href="#D1" x="604.2" y="103.8"/><use href="#D1" x="615.0" y="84.1"/><use href="#D1" x="602.3" y="111.6"/><use href="#D1" x="603.4" y="81.8"/><use href="#D1" x="616.7" y="99.2"/><use href="#D1" x="603.9" y="111.0"/><use href="#D1" x="615.7" y="66.8"/><use href="#D1" x="600.6" y="109.2"/><use href="#D1" x="606.2" y="77.1"/><use href="#D1" x="606.7" y="66.4"/><use href="#D1" x="608.7" y="73.0"/><use href="#D1" x="611.0" y="110.2"/><use href="#D1" x="609.1" y="77.2"/><use href="#D1" x="605.8" y="94.4"/><use href="#D1" x="622.7" y="106.5"/><use href="#D1" x="614.3" y="101.1"/><use href="#D1" x="619.4" y="117.4"/><use href="#D1" x="607.3" y="104.0"/><use href="#D1" x="616.6" y="99.2"/><use href="#D1" x="605.2" y="119.6"/><use href="#D1" x="608.2" y="82.7"/><use href="#D1" x="623.3" y="88.0"/><use href="#D1" x="623.6" y="71.4"/><use href="#D1" x="622.4" y="94.0"/><use href="#D1" x="623.0" y="88.4"/><use href="#D1" x="623.1" y="97.6"/><use href="#D1" x="615.3" y="85.7"/><use href="#D1" x="618.2" y="76.5"/><use href="#D1" x="602.0" y="84.7"/><use href="#D1" x="616.7" y="94.2"/><use href="#D1" x="614.8" y="81.6"/><use href="#D1" x="614.8" y="127.0"/><use href="#D1" x="618.4" y="86.4"/><use href="#D1" x="616.8" y="108.3"/><use href="#D1" x="611.3" y="83.5"/><use href="#D1" x="619.1" y="92.6"/><use href="#D1" x="606.8" y="122.7"/><use href="#D1" x="622.4" y="82.5"/><use href="#D1" x="615.0" y="97.0"/><use href="#D1" x="604.4" y="81.2"/><use href="#D1" x="615.6" y="92.9"/><use href="#D1" x="614.5" y="116.4"/><use href="#D1" x="615.6" y="87.7"/><use href="#D1" x="612.5" y="103.4"/><use href="#D1" x="608.4" y="90.9"/><use href="#D1" x="607.1" y="78.1"/><use href="#D1" x="607.4" y="92.3"/><use href="#D1" x="614.9" y="100.9"/><use href="#D1" x="606.7" y="101.2"/><use href="#D1" x="603.6" y="67.9"/><use href="#D1" x="617.7" y="97.9"/><use href="#D1" x="608.3" y="100.6"/><use href="#D1" x="609.6" y="93.9"/><use href="#D1" x="611.4" y="74.3"/><use href="#D1" x="623.4" y="74.7"/><use href="#D1" x="613.6" y="87.8"/><use href="#D1" x="612.6" y="109.4"/><use href="#D1" x="617.7" y="78.6"/><use href="#D1" x="603.2" y="92.9"/><use href="#D1" x="621.9" y="94.0"/><use href="#D1" x="600.7" y="94.2"/><use href="#D1" x="614.5" y="103.6"/><use href="#D1" x="619.7" y="112.6"/><use href="#D1" x="603.6" y="86.4"/><use href="#D1" x="619.5" y="106.3"/><use href="#D1" x="621.1" y="80.0"/><use href="#D1" x="615.3" y="91.0"/><use href="#D1" x="606.8" y="91.0"/><use href="#D1" x="622.2" y="85.0"/><use href="#D1" x="611.6" y="116.7"/><use href="#D1" x="622.3" y="77.0"/><use href="#D1" x="611.1" y="87.9"/><use href="#D1" x="604.9" y="101.4"/><use href="#D1" x="610.5" y="94.5"/><use href="#D1" x="617.6" y="114.7"/><use href="#D1" x="603.2" y="84.6"/><use href="#D1" x="618.4" y="93.5"/><use href="#D1" x="604.5" y="107.7"/><use href="#D1" x="601.7" y="108.7"/><use href="#D1" x="614.5" y="112.2"/><use href="#D1" x="602.1" y="85.9"/><use href="#D1" x="616.6" y="93.2"/><use href="#D1" x="622.3" y="69.6"/><use href="#D1" x="611.8" y="111.2"/><use href="#D1" x="615.2" y="83.5"/><use href="#D1" x="607.6" y="94.1"/><use href="#D1" x="613.1" y="79.9"/><use href="#D1" x="607.5" y="107.1"/><use href="#D1" x="612.3" y="87.3"/><use href="#D1" x="610.1" y="93.4"/><use href="#D1" x="617.6" y="114.3"/><use href="#D1" x="602.8" y="100.3"/><use href="#D1" x="617.8" y="105.7"/><use href="#D1" x="609.5" y="101.5"/><use href="#D1" x="622.1" y="100.9"/><use href="#D1" x="621.8" y="87.0"/><use href="#D1" x="601.8" y="89.0"/><use href="#D1" x="602.6" y="75.1"/><use href="#D1" x="610.6" y="127.0"/><use href="#D1" x="604.3" y="88.3"/><use href="#D1" x="623.0" y="89.2"/><use href="#D1" x="616.0" y="104.0"/><use href="#D1" x="621.8" y="118.6"/><use href="#D1" x="617.6" y="84.2"/><use href="#D1" x="615.1" y="123.5"/><use href="#D1" x="611.2" y="108.3"/><use href="#D1" x="609.3" y="76.4"/><use href="#D1" x="604.2" y="71.1"/><use href="#D1" x="619.5" y="94.4"/><use href="#D1" x="605.9" y="115.6"/><use href="#D1" x="615.7" y="92.6"/><use href="#D1" x="606.7" y="96.3"/><use href="#D1" x="614.6" y="92.0"/><use href="#D1" x="602.2" y="88.2"/><use href="#D1" x="601.4" y="107.7"/><use href="#D1" x="605.9" y="81.7"/><use href="#D1" x="615.1" y="96.1"/><use href="#D1" x="615.8" y="97.5"/><use href="#D1" x="603.6" y="88.3"/><use href="#D1" x="623.1" y="89.5"/><use href="#D1" x="601.7" y="68.6"/><use href="#D1" x="601.2" y="67.1"/><use href="#D1" x="610.2" y="113.6"/><use href="#D1" x="617.2" y="70.5"/><use href="#D1" x="621.0" y="80.4"/><use href="#D1" x="607.6" y="109.6"/><use href="#D1" x="606.4" y="84.1"/><use href="#D1" x="620.1" y="123.5"/><use href="#D1" x="610.5" y="100.9"/><use href="#D1" x="602.4" y="90.5"/><use href="#D1" x="603.1" y="105.4"/><use href="#D1" x="601.1" y="97.4"/><use href="#D1" x="614.7" y="98.3"/><use href="#D1" x="623.2" y="85.7"/><use href="#D1" x="618.6" y="83.2"/><use href="#D1" x="610.9" y="108.0"/><use href="#D1" x="605.4" y="96.8"/><use href="#D1" x="604.0" y="119.3"/><use href="#D1" x="602.5" y="103.6"/><use href="#D1" x="620.4" y="112.6"/><use href="#D1" x="616.5" y="116.0"/><use href="#D1" x="602.2" y="89.4"/><use href="#D1" x="603.0" y="81.3"/><use href="#D1" x="621.7" y="100.4"/><use href="#D1" x="620.7" y="96.0"/><use href="#D1" x="603.4" y="68.8"/><use href="#D1" x="610.6" y="100.9"/><use href="#D1" x="601.9" y="97.6"/><use href="#D1" x="601.1" y="117.5"/><use href="#D1" x="606.2" y="96.7"/><use href="#D1" x="612.4" y="76.1"/><use href="#D1" x="617.3" y="107.8"/><use href="#D1" x="617.2" y="100.8"/><use href="#D1" x="601.0" y="97.9"/><use href="#D1" x="605.6" y="103.2"/><use href="#D1" x="613.7" y="102.5"/><use href="#D1" x="602.7" y="71.8"/><use href="#D1" x="614.1" y="99.1"/><use href="#D1" x="602.9" y="93.5"/><use href="#D1" x="615.6" y="101.6"/><use href="#D1" x="607.5" y="89.3"/><use href="#D1" x="619.2" y="89.8"/><use href="#D1" x="607.5" y="77.2"/><use href="#D1" x="605.1" y="80.0"/><use href="#D1" x="617.5" y="98.9"/><use href="#D1" x="614.6" y="69.9"/><use href="#D1" x="619.2" y="75.0"/><use href="#D1" x="619.1" y="85.2"/><use href="#D1" x="608.8" y="114.1"/><use href="#D1" x="601.4" y="92.1"/><use href="#D1" x="619.3" y="90.2"/><use href="#D1" x="607.5" y="87.3"/><use href="#D1" x="607.8" y="121.8"/><use href="#D1" x="606.3" y="73.4"/><use href="#D1" x="613.3" y="97.0"/><use href="#D1" x="622.0" y="96.5"/><use href="#D1" x="605.5" y="99.4"/><use href="#D1" x="622.7" y="85.4"/><use href="#D1" x="618.1" y="108.4"/><use href="#D1" x="614.8" y="100.3"/><use href="#D1" x="617.4" y="108.4"/><use href="#D1" x="600.8" y="91.1"/><use href="#D1" x="623.1" y="113.9"/><use href="#D1" x="620.2" y="99.6"/><use href="#D1" x="603.5" y="78.9"/><use href="#D1" x="616.6" y="113.5"/><use href="#D1" x="608.8" y="90.4"/><use href="#D1" x="611.2" y="85.3"/><use href="#D1" x="616.2" y="91.1"/><use href="#D1" x="606.3" y="105.2"/><use href="#D1" x="605.8" y="98.9"/></g><path d="M650.4 82V94M631.6 87V103M641.9 104V122M635.1 86V113M640.8 94V115M651.7 91V107M630.0 91V109M647.1 103V124M643.2 87V99M631.9 121V139M653.0 112V124M653.7 107V134M631.9 87V102M644.6 96V117M631.8 77V87M636.9 87V106M636.3 82V95M654.7 101V112M644.0 109V120M646.3 90V106M650.2 99V120M654.8 120V135M632.3 101V114M643.4 117V123M638.1 106V118M642.9 104V131M630.2 80V98M654.7 86V102M652.9 91V103M644.4 85V106M641.3 91V111M643.4 58V71M634.2 87V101M642.8 76V88M645.4 105V119M633.9 85V103M645.1 84V96M646.8 119V130M641.0 121V140M649.1 78V94M649.9 116V130M646.2 100V110M636.2 81V103M642.0 91V116M647.0 104V113M632.0 127V143M634.9 87V101" stroke="#9619e6" stroke-opacity="0.30" stroke-width="1" fill="none"/><g fill="#9619e6" fill-opacity="0.50" stroke="#9619e6" stroke-opacity="0.75" stroke-width="0.50"><use href="#s1" x="650.4" y="87.9"/><use href="#s1" x="631.6" y="95.3"/><use href="#s1" x="641.9" y="113.3"/><use href="#s1" x="635.1" y="99.4"/><use href="#s1" x="640.8" y="104.6"/><use href="#s1" x="651.7" y="99.0"/><use href="#s1" x="630.0" y="100.2"/><use href="#s1" x="647.1" y="113.3"/><use href="#s1" x="643.2" y="92.8"/><use href="#s1" x="631.9" y="130.1"/><use href="#s1" x="653.0" y="117.8"/><use href="#s1" x="653.7" y="120.6"/><use href="#s1" x="631.9" y="94.4"/><use href="#s1" x="644.6" y="106.9"/><use href="#s1" x="631.8" y="81.9"/><use href="#s1" x="636.9" y="96.2"/><use href="#s1" x="636.3" y="88.6"/><use href="#s1" x="654.7" y="106.8"/><use href="#s1" x="644.0" y="114.5"/><use href="#s1" x="646.3" y="98.2"/><use href="#s1" x="650.2" y="109.3"/><use href="#s1" x="654.8" y="127.8"/><use href="#s1" x="632.3" y="107.6"/><use href="#s1" x="643.4" y="120.0"/><use href="#s1" x="638.1" y="111.8"/><use href="#s1" x="642.9" y="117.8"/><use href="#s1" x="630.2" y="89.0"/><use href="#s1" x="654.7" y="94.2"/><use href="#s1" x="652.9" y="96.9"/><use href="#s1" x="644.4" y="95.7"/><use href="#s1" x="641.3" y="100.9"/><use href="#s1" x="643.4" y="64.6"/><use href="#s1" x="634.2" y="93.8"/><use href="#s1" x="642.8" y="82.0"/><use href="#s1" x="653.8" y="84.0"/><use href="#s1" x="645.4" y="112.2"/><use href="#s1" x="633.9" y="93.8"/><use href="#s1" x="645.1" y="90.0"/><use href="#s1" x="631.7" y="120.9"/><use href="#s1" x="649.6" y="111.7"/><use href="#s1" x="646.8" y="124.9"/><use href="#s1" x="641.0" y="130.6"/><use href="#s1" x="649.1" y="85.7"/><use href="#s1" x="649.9" y="123.1"/><use href="#s1" x="646.2" y="105.3"/><use href="#s1" x="636.2" y="92.4"/><use href="#s1" x="642.0" y="103.6"/><use href="#s1" x="647.0" y="108.7"/><use href="#s1" x="632.0" y="134.9"/><use href="#s1" x="634.9" y="93.6"/></g><path d="M644.9 110V121M658.2 84V101M654.2 100V108M656.8 67V82M644.1 118V131M648.4 90V111M634.6 106V124M654.8 80V102M644.2 98V120M638.8 111V130M633.2 78V105M644.2 71V98M642.9 60V79M628.6 81V101M648.9 88V99M656.0 95V113M653.7 82V99M648.6 62V79M635.0 106V114M638.9 57V80M654.6 95V113M644.5 94V103M643.0 118V135M644.2 84V95M627.9 82V104M633.9 102V117M644.0 101V123M633.6 103V118M656.1 67V81M637.9 76V92M644.9 101V117M638.5 106V128M657.1 91V100M633.0 82V95M628.2 112V126M630.0 102V117M643.5 90V115M634.6 86V104M628.1 88V95M628.4 80V101M628.5 65V90M638.9 106V129M638.9 76V94M653.1 72V79M629.9 93V106M657.8 96V113M644.8 111V126M649.5 100V111M649.6 103V120M628.2 67V92M628.3 108V123M644.9 99V123M630.1 84V103M649.8 77V94M633.7 80V89M628.2 83V99M644.0 98V116M639.3 109V119M638.9 89V104M628.8 73V88M635.0 93V122M635.2 87V96M657.3 80V97M653.1 117V124M649.4 82V103M649.5 102V119M639.3 93V108M648.1 98V109M648.3 78V97M648.1 104V122M639.8 77V95M634.6 91V100M657.4 111V127M632.9 102V113M628.5 77V94M649.1 79V100M635.0 63V85M627.8 82V115M657.7 81V96M643.9 82V96M628.0 91V104M656.3 99V119M644.2 85V95M628.5 78V91M645.1 64V84M656.5 70V91M633.8 92V103M639.7 88V96M656.5 99V112M633.3 107V130M634.1 103V109M630.1 106V121M639.1 115V134M643.1 84V108M644.0 83V97M644.1 89V119M639.1 67V89M639.6 78V96M639.7 114V127M628.8 100V116M653.9 105V118M649.3 92V109M634.1 85V111M640.0 96V105M638.5 110V136M649.0 91V111M654.9 98V108M644.8 100V110M655.1 74V95M628.1 106V123M657.8 66V90M637.9 83V104M644.5 118V138M639.3 81V98M657.7 83V95M649.7 93V111M645.1 100V117M647.8 76V90M654.7 126V139" stroke="#96e619" stroke-opacity="0.30" stroke-width="1" fill="none"/><g fill="#96e619" fill-opacity="0.50" stroke="#96e619" stroke-opacity="0.75" stroke-width="0.50"><use href="#u1" x="644.9" y="115.6"/><use href="#u1" x="658.2" y="92.8"/><use href="#u1" x="654.2" y="103.7"/><use href="#u1" x="656.8" y="74.2"/><use href="#u1" x="644.1" y="124.1"/><use href="#u1" x="648.4" y="100.5"/><use href="#u1" x="634.6" y="114.8"/><use href="#u1" x="654.8" y="91.0"/><use href="#u1" x="644.2" y="108.9"/><use href="#u1" x="638.8" y="120.5"/><use href="#u1" x="633.2" y="91.6"/><use href="#u1" x="644.2" y="84.3"/><use href="#u1" x="642.9" y="69.4"/><use href="#u1" x="628.6" y="90.9"/><use href="#u1" x="648.9" y="93.4"/><use href="#u1" x="633.9" y="74.7"/><use href="#u1" x="656.0" y="103.8"/><use href="#u1" x="653.7" y="90.6"/><use href="#u1" x="652.9" y="81.4"/><use href="#u1" x="648.6" y="70.7"/><use href="#u1" x="635.0" y="109.8"/><use href="#u1" x="638.9" y="68.1"/><use href="#u1" x="654.6" y="103.7"/><use href="#u1" x="644.5" y="98.4"/><use href="#u1" x="643.0" y="126.7"/><use href="#u1" x="644.2" y="89.5"/><use href="#u1" x="627.9" y="93.0"/><use href="#u1" x="633.9" y="109.5"/><use href="#u1" x="644.0" y="111.7"/><use href="#u1" x="633.6" y="110.3"/><use href="#u1" x="656.1" y="73.9"/><use href="#u1" x="637.9" y="84.1"/><use href="#u1" x="644.9" y="109.1"/><use href="#u1" x="638.5" y="116.6"/><use href="#u1" x="657.1" y="95.5"/><use href="#u1" x="633.0" y="88.3"/><use href="#u1" x="628.2" y="119.0"/><use href="#u1" x="630.0" y="109.8"/><use href="#u1" x="643.5" y="102.5"/><use href="#u1" x="634.6" y="95.3"/><use href="#u1" x="649.6" y="80.7"/><use href="#u1" x="628.1" y="91.1"/><use href="#u1" x="628.4" y="90.6"/><use href="#u1" x="628.5" y="77.4"/><use href="#u1" x="638.9" y="117.2"/><use href="#u1" x="638.9" y="84.9"/><use href="#u1" x="653.1" y="75.6"/><use href="#u1" x="629.9" y="99.3"/><use href="#u1" x="657.8" y="104.4"/><use href="#u1" x="644.8" y="118.8"/><use href="#u1" x="649.5" y="105.6"/><use href="#u1" x="649.6" y="111.5"/><use href="#u1" x="634.1" y="107.6"/><use href="#u1" x="656.5" y="97.0"/><use href="#u1" x="628.2" y="79.5"/><use href="#u1" x="628.3" y="115.8"/><use href="#u1" x="644.9" y="110.9"/><use href="#u1" x="630.1" y="93.4"/><use href="#u1" x="649.8" y="85.4"/><use href="#u1" x="629.0" y="109.1"/><use href="#u1" x="633.7" y="84.6"/><use href="#u1" x="628.2" y="91.2"/><use href="#u1" x="644.0" y="107.0"/><use href="#u1" x="639.3" y="113.6"/><use href="#u1" x="638.9" y="96.4"/><use href="#u1" x="628.8" y="80.3"/><use href="#u1" x="635.0" y="107.5"/><use href="#u1" x="635.2" y="91.5"/><use href="#u1" x="657.3" y="88.1"/><use href="#u1" x="653.1" y="120.2"/><use href="#u1" x="649.4" y="92.5"/><use href="#u1" x="649.5" y="110.5"/><use href="#u1" x="639.3" y="100.5"/><use href="#u1" x="648.1" y="103.2"/><use href="#u1" x="648.3" y="87.8"/><use href="#u1" x="648.1" y="113.1"/><use href="#u1" x="639.8" y="86.4"/><use href="#u1" x="634.6" y="95.7"/><use href="#u1" x="657.4" y="119.3"/><use href="#u1" x="632.9" y="107.8"/><use href="#u1" x="628.5" y="85.6"/><use href="#u1" x="649.1" y="89.3"/><use href="#u1" x="635.0" y="74.3"/><use href="#u1" x="627.8" y="98.8"/><use href="#u1" x="657.7" y="88.6"/><use href="#u1" x="643.9" y="89.0"/><use href="#u1" x="654.4" y="92.8"/><use href="#u1" x="628.0" y="97.5"/><use href="#u1" x="656.3" y="108.9"/><use href="#u1" x="644.0" y="102.4"/><use href="#u1" x="644.2" y="89.9"/><use href="#u1" x="628.5" y="84.2"/><use href="#u1" x="645.1" y="74.1"/><use href="#u1" x="656.5" y="80.4"/><use href="#u1" x="633.8" y="97.5"/><use href="#u1" x="639.7" y="92.1"/><use href="#u1" x="656.5" y="105.3"/><use href="#u1" x="633.3" y="118.6"/><use href="#u1" x="634.1" y="106.0"/><use href="#u1" x="630.1" y="113.9"/><use href="#u1" x="639.1" y="124.4"/><use href="#u1" x="653.0" y="107.7"/><use href="#u1" x="643.1" y="96.0"/><use href="#u1" x="634.6" y="93.1"/><use href="#u1" x="644.0" y="89.8"/><use href="#u1" x="644.1" y="104.2"/><use href="#u1" x="639.1" y="78.0"/><use href="#u1" x="639.6" y="87.1"/><use href="#u1" x="656.9" y="69.2"/><use href="#u1" x="639.7" y="120.5"/><use href="#u1" x="628.8" y="108.4"/><use href="#u1" x="653.9" y="111.8"/><use href="#u1" x="649.3" y="100.7"/><use href="#u1" x="634.1" y="98.2"/><use href="#u1" x="640.0" y="100.5"/><use href="#u1" x="638.5" y="123.1"/><use href="#u1" x="649.0" y="101.0"/><use href="#u1" x="654.9" y="103.1"/><use href="#u1" x="644.8" y="105.1"/><use href="#u1" x="655.1" y="84.4"/><use href="#u1" x="628.1" y="114.6"/><use href="#u1" x="657.8" y="77.8"/><use href="#u1" x="637.9" y="93.2"/><use href="#u1" x="644.5" y="128.1"/><use href="#u1" x="639.3" y="89.3"/><use href="#u1" x="657.7" y="88.9"/><use href="#u1" x="649.7" y="102.0"/><use href="#u1" x="645.1" y="108.5"/><use href="#u1" x="647.8" y="83.2"/><use href="#u1" x="654.7" y="132.6"/></g><path d="M657.3 81V88M656.5 112V135M657.2 122V142M669.5 129V148M675.8 95V120M662.4 69V92M668.5 85V93M674.7 129V140M662.9 90V112M663.3 75V98M676.0 71V89M663.0 70V80M675.5 79V89M669.5 111V122M662.7 96V110M657.7 59V84M675.4 110V133M663.2 104V126M663.3 108V131M676.2 115V133M662.2 117V125M657.6 116V138M675.4 106V125M668.4 141V151M657.0 118V132M657.6 95V119M674.8 105V128M669.2 107V118M668.8 108V117M657.7 97V111M668.2 123V139M669.2 106V130M668.4 123V138M662.8 97V114M656.7 97V120M668.2 115V126M657.4 99V116M662.3 85V96M662.9 102V121M669.5 113V136M663.1 77V99M669.3 105V121M656.6 111V135M663.4 103V125M663.0 92V113M675.0 111V131M656.2 98V121M657.3 100V118M669.1 75V90M663.0 107V130M662.2 124V147M657.5 81V96M668.4 126V138M657.3 118V138M657.2 89V105M669.7 100V114M675.1 99V114M675.0 122V138M662.1 86V97M669.5 107V114M661.9 96V103M656.5 123V139M657.2 131V156M675.3 77V98M663.3 81V96M676.1 132V141M656.5 106V123M668.7 114V126M657.3 101V120M668.5 117V137M662.6 125V146M663.2 92V105M662.8 105V128M675.4 122V150M674.8 88V115M668.2 92V110M656.3 95V119M668.6 123V141M663.1 109V120M656.5 71V103M663.2 85V94M663.4 67V87M656.3 109V119M663.3 102V128M657.4 98V109M656.7 93V113M675.2 119V131M674.9 118V144M662.4 98V109M676.3 126V141M656.9 120V129M675.6 123V141M662.4 122V143M656.9 88V113M675.7 123V144M656.5 87V110M657.0 115V131M663.4 88V107M668.9 112V130M657.4 81V108M675.5 103V115M674.7 82V106M663.2 90V112M657.1 116V133M657.2 107V133M674.8 70V92M662.5 110V123M657.1 77V98M668.5 78V99M662.9 109V131M675.0 123V143M656.5 87V109M662.4 88V107M668.7 100V115M668.3 103V119M676.1 93V109M676.3 69V94M661.9 71V84M669.6 72V88M662.6 95V108M668.3 74V97M675.5 108V114M675.3 103V118M657.2 121V138M657.1 63V82M674.8 99V110M656.8 107V130M656.3 91V113M675.6 80V101M662.7 83V96M669.4 67V77M675.7 100V112M656.2 119V145M674.9 98V125M669.7 121V142M676.2 104V117M669.6 119V140M675.0 130V154M662.7 137V144M676.1 101V119M675.4 82V94M675.2 89V96M675.0 72V95M675.2 107V127M669.1 95V124M656.4 118V143M656.8 117V131M657.8 94V111" stroke="#19e696" stroke-opacity="0.30" stroke-width="1" fill="none"/><g fill="#19e696" fill-opacity="0.50" stroke="#19e696" stroke-opacity="0.75" stroke-width="0.50"><use href="#o1" x="657.3" y="84.8"/><use href="#o1" x="656.5" y="123.6"/><use href="#o1" x="657.2" y="132.1"/><use href="#o1" x="669.5" y="138.5"/><use href="#o1" x="675.8" y="107.8"/><use href="#o1" x="662.4" y="80.5"/><use href="#o1" x="668.5" y="88.7"/><use href="#o1" x="657.5" y="102.1"/><use href="#o1" x="674.7" y="134.1"/><use href="#o1" x="662.9" y="100.8"/><use href="#o1" x="663.3" y="86.8"/><use href="#o1" x="676.0" y="80.3"/><use href="#o1" x="663.0" y="75.1"/><use href="#o1" x="675.5" y="84.2"/><use href="#o1" x="669.5" y="116.2"/><use href="#o1" x="662.7" y="102.9"/><use href="#o1" x="657.7" y="71.2"/><use href="#o1" x="675.4" y="121.6"/><use href="#o1" x="663.2" y="115.4"/><use href="#o1" x="663.3" y="119.2"/><use href="#o1" x="676.2" y="124.0"/><use href="#o1" x="662.2" y="121.4"/><use href="#o1" x="657.6" y="127.2"/><use href="#o1" x="675.4" y="115.0"/><use href="#o1" x="668.4" y="145.8"/><use href="#o1" x="657.0" y="124.6"/><use href="#o1" x="657.6" y="106.9"/><use href="#o1" x="674.8" y="116.5"/><use href="#o1" x="669.2" y="112.5"/><use href="#o1" x="668.8" y="112.4"/><use href="#o1" x="657.7" y="104.3"/><use href="#o1" x="668.2" y="131.0"/><use href="#o1" x="669.2" y="117.9"/><use href="#o1" x="668.4" y="130.4"/><use href="#o1" x="662.8" y="105.6"/><use href="#o1" x="656.7" y="108.4"/><use href="#o1" x="668.2" y="120.3"/><use href="#o1" x="657.4" y="107.7"/><use href="#o1" x="662.3" y="90.6"/><use href="#o1" x="662.9" y="111.6"/><use href="#o1" x="669.5" y="124.8"/><use href="#o1" x="663.1" y="87.9"/><use href="#o1" x="669.3" y="113.1"/><use href="#o1" x="656.6" y="123.0"/><use href="#o1" x="663.4" y="114.1"/><use href="#o1" x="663.0" y="102.2"/><use href="#o1" x="675.0" y="121.0"/><use href="#o1" x="656.2" y="109.3"/><use href="#o1" x="657.3" y="109.4"/><use href="#o1" x="669.1" y="82.4"/><use href="#o1" x="663.0" y="118.2"/><use href="#o1" x="662.2" y="135.6"/><use href="#o1" x="657.5" y="88.6"/><use href="#o1" x="668.4" y="132.2"/><use href="#o1" x="657.3" y="128.0"/><use href="#o1" x="657.2" y="97.1"/><use href="#o1" x="669.7" y="107.1"/><use href="#o1" x="675.1" y="106.5"/><use href="#o1" x="675.0" y="130.2"/><use href="#o1" x="662.1" y="91.7"/><use href="#o1" x="669.5" y="110.4"/><use href="#o1" x="661.9" y="99.4"/><use href="#o1" x="656.5" y="130.7"/><use href="#o1" x="657.2" y="143.6"/><use href="#o1" x="675.3" y="87.7"/><use href="#o1" x="663.3" y="88.3"/><use href="#o1" x="676.1" y="136.6"/><use href="#o1" x="656.5" y="114.5"/><use href="#o1" x="668.7" y="120.2"/><use href="#o1" x="657.3" y="110.7"/><use href="#o1" x="668.5" y="127.0"/><use href="#o1" x="662.6" y="135.5"/><use href="#o1" x="663.2" y="98.7"/><use href="#o1" x="662.8" y="116.7"/><use href="#o1" x="675.4" y="135.9"/><use href="#o1" x="674.8" y="101.0"/><use href="#o1" x="668.2" y="101.1"/><use href="#o1" x="656.3" y="106.7"/><use href="#o1" x="668.6" y="132.2"/><use href="#o1" x="663.1" y="114.4"/><use href="#o1" x="656.5" y="86.9"/><use href="#o1" x="663.2" y="89.5"/><use href="#o1" x="663.4" y="77.2"/><use href="#o1" x="656.3" y="114.2"/><use href="#o1" x="663.3" y="114.8"/><use href="#o1" x="657.4" y="103.8"/><use href="#o1" x="656.7" y="103.3"/><use href="#o1" x="675.2" y="124.9"/><use href="#o1" x="674.9" y="130.8"/><use href="#o1" x="662.4" y="103.3"/><use href="#o1" x="676.3" y="133.5"/><use href="#o1" x="656.9" y="124.0"/><use href="#o1" x="675.6" y="132.0"/><use href="#o1" x="662.4" y="132.7"/><use href="#o1" x="656.9" y="100.3"/><use href="#o1" x="675.7" y="133.3"/><use href="#o1" x="656.5" y="98.1"/><use href="#o1" x="657.0" y="123.0"/><use href="#o1" x="663.4" y="97.6"/><use href="#o1" x="668.9" y="121.1"/><use href="#o1" x="657.4" y="94.6"/><use href="#o1" x="675.5" y="109.1"/><use href="#o1" x="674.7" y="93.7"/><use href="#o1" x="663.2" y="100.9"/><use href="#o1" x="657.1" y="124.4"/><use href="#o1" x="657.2" y="120.2"/><use href="#o1" x="674.8" y="81.0"/><use href="#o1" x="662.5" y="116.3"/><use href="#o1" x="657.1" y="87.4"/><use href="#o1" x="668.5" y="88.1"/><use href="#o1" x="662.9" y="119.8"/><use href="#o1" x="675.0" y="133.0"/><use href="#o1" x="656.5" y="98.0"/><use href="#o1" x="662.4" y="97.5"/><use href="#o1" x="668.7" y="107.1"/><use href="#o1" x="668.3" y="111.0"/><use href="#o1" x="676.1" y="101.2"/><use href="#o1" x="676.3" y="81.4"/><use href="#o1" x="661.9" y="77.3"/><use href="#o1" x="669.6" y="80.3"/><use href="#o1" x="662.6" y="101.4"/><use href="#o1" x="668.3" y="85.4"/><use href="#o1" x="668.4" y="93.0"/><use href="#o1" x="675.5" y="110.9"/><use href="#o1" x="675.3" y="110.5"/><use href="#o1" x="657.2" y="129.1"/><use href="#o1" x="657.1" y="72.8"/><use href="#o1" x="674.8" y="104.7"/><use href="#o1" x="656.8" y="118.8"/><use href="#o1" x="656.3" y="101.8"/><use href="#o1" x="675.6" y="90.9"/><use href="#o1" x="662.7" y="89.5"/><use href="#o1" x="669.4" y="72.1"/><use href="#o1" x="675.7" y="105.9"/><use href="#o1" x="656.2" y="132.1"/><use href="#o1" x="674.9" y="111.5"/><use href="#o1" x="669.7" y="131.2"/><use href="#o1" x="676.2" y="110.7"/><use href="#o1" x="669.6" y="129.4"/><use href="#o1" x="675.0" y="142.2"/><use href="#o1" x="662.7" y="140.3"/><use href="#o1" x="676.1" y="109.9"/><use href="#o1" x="675.4" y="87.9"/><use href="#o1" x="675.2" y="92.7"/><use href="#o1" x="675.0" y="83.4"/><use href="#o1" x="675.2" y="116.9"/><use href="#o1" x="669.1" y="109.8"/><use href="#o1" x="656.4" y="130.5"/><use href="#o1" x="656.8" y="124.3"/><use href="#o1" x="657.8" y="102.4"/></g><path d="M392 86H401 M418 94H430 M454 94H469 M494 110H512 M512 104L533 108 M540 108L566 113 M570 98L600 103 M598 104L627 109 M627 107L660 113 M660 114L680 118" stroke="#808080" stroke-width="1.4" stroke-dasharray="3 5" opacity="0.9" fill="none"/></g><g clip-path="url(#cBR)"><g fill="#1919e6" fill-opacity="0.45" stroke="#1919e6" stroke-opacity="0.70" stroke-width="0.50"><use href="#p2" x="395.4" y="277.6"/><use href="#p2" x="396.0" y="275.9"/><use href="#p2" x="396.0" y="279.3"/><use href="#p2" x="395.6" y="267.7"/><use href="#p2" x="396.3" y="304.5"/><use href="#p2" x="396.1" y="259.0"/><use href="#p2" x="396.6" y="263.8"/><use href="#p2" x="396.5" y="293.6"/><use href="#p2" x="395.8" y="310.3"/><use href="#p2" x="396.9" y="302.4"/><use href="#p2" x="395.9" y="268.8"/><use href="#p2" x="396.9" y="255.4"/><use href="#p2" x="395.6" y="297.6"/><use href="#p2" x="396.7" y="284.7"/><use href="#p2" x="395.8" y="264.1"/><use href="#p2" x="395.9" y="297.5"/><use href="#p2" x="396.3" y="282.3"/><use href="#p2" x="396.6" y="256.2"/><use href="#p2" x="396.1" y="301.7"/><use href="#p2" x="397.1" y="280.0"/><use href="#p2" x="396.5" y="255.1"/><use href="#p2" x="396.1" y="275.5"/><use href="#p2" x="396.9" y="302.5"/><use href="#p2" x="395.4" y="310.1"/><use href="#p2" x="396.7" y="242.1"/><use href="#p2" x="397.3" y="274.9"/><use href="#p2" x="396.5" y="297.6"/><use href="#p2" x="396.4" y="279.6"/><use href="#p2" x="396.7" y="295.7"/><use href="#p2" x="396.2" y="311.7"/><use href="#p2" x="395.6" y="286.3"/><use href="#p2" x="396.2" y="299.1"/><use href="#p2" x="397.5" y="286.8"/><use href="#p2" x="397.2" y="277.6"/><use href="#p2" x="397.1" y="303.7"/><use href="#p2" x="396.4" y="290.1"/><use href="#p2" x="396.6" y="313.4"/><use href="#p2" x="397.6" y="304.4"/><use href="#p2" x="397.3" y="266.5"/><use href="#p2" x="396.5" y="299.9"/><use href="#p2" x="395.6" y="308.8"/><use href="#p2" x="396.8" y="266.6"/><use href="#p2" x="396.9" y="267.1"/><use href="#p2" x="396.9" y="275.6"/><use href="#p2" x="396.9" y="281.9"/><use href="#p2" x="397.4" y="287.0"/><use href="#p2" x="396.9" y="267.6"/><use href="#p2" x="395.8" y="271.4"/><use href="#p2" x="397.0" y="285.7"/><use href="#p2" x="395.5" y="256.6"/><use href="#p2" x="397.2" y="295.4"/><use href="#p2" x="396.0" y="266.4"/><use href="#p2" x="395.7" y="242.3"/><use href="#p2" x="396.6" y="310.1"/><use href="#p2" x="395.5" y="256.3"/><use href="#p2" x="396.5" y="306.2"/><use href="#p2" x="397.2" y="278.8"/><use href="#p2" x="395.8" y="268.6"/><use href="#p2" x="396.5" y="290.2"/><use href="#p2" x="396.7" y="257.3"/><use href="#p2" x="397.0" y="280.2"/><use href="#p2" x="395.6" y="257.9"/><use href="#p2" x="395.6" y="305.6"/><use href="#p2" x="396.4" y="287.3"/><use href="#p2" x="396.2" y="311.6"/><use href="#p2" x="396.6" y="277.9"/><use href="#p2" x="396.2" y="280.2"/><use href="#p2" x="397.1" y="325.8"/><use href="#p2" x="397.2" y="300.1"/><use href="#p2" x="395.6" y="267.8"/><use href="#p2" x="397.6" y="296.2"/><use href="#p2" x="395.5" y="247.4"/><use href="#p2" x="396.4" y="253.6"/><use href="#p2" x="396.7" y="282.0"/><use href="#p2" x="397.3" y="263.3"/><use href="#p2" x="395.7" y="281.5"/><use href="#p2" x="396.6" y="265.9"/><use href="#p2" x="396.4" y="269.1"/><use href="#p2" x="396.6" y="294.9"/><use href="#p2" x="396.7" y="310.6"/><use href="#p2" x="396.7" y="290.0"/><use href="#p2" x="395.6" y="287.8"/><use href="#p2" x="395.6" y="299.9"/><use href="#p2" x="397.6" y="283.2"/><use href="#p2" x="397.3" y="273.7"/><use href="#p2" x="396.3" y="275.5"/><use href="#p2" x="395.6" y="290.4"/><use href="#p2" x="396.4" y="276.3"/><use href="#p2" x="396.5" y="266.9"/><use href="#p2" x="397.1" y="298.8"/><use href="#p2" x="395.6" y="259.5"/><use href="#p2" x="396.5" y="298.5"/><use href="#p2" x="396.1" y="296.9"/><use href="#p2" x="395.9" y="283.3"/><use href="#p2" x="397.2" y="304.3"/><use href="#p2" x="395.6" y="311.2"/><use href="#p2" x="397.1" y="316.5"/><use href="#p2" x="397.3" y="304.1"/><use href="#p2" x="395.6" y="282.6"/><use href="#p2" x="397.5" y="266.2"/><use href="#p2" x="395.7" y="307.4"/><use href="#p2" x="396.2" y="266.5"/><use href="#p2" x="395.6" y="321.5"/><use href="#p2" x="397.2" y="275.0"/><use href="#p2" x="395.5" y="323.5"/><use href="#p2" x="396.6" y="267.4"/><use href="#p2" x="396.8" y="286.8"/><use href="#p2" x="395.9" y="291.6"/><use href="#p2" x="397.1" y="268.2"/><use href="#p2" x="395.7" y="272.8"/><use href="#p2" x="395.9" y="296.1"/><use href="#p2" x="396.5" y="282.6"/><use href="#p2" x="396.1" y="312.6"/><use href="#p2" x="397.4" y="302.6"/><use href="#p2" x="397.3" y="293.1"/><use href="#p2" x="395.5" y="271.7"/><use href="#p2" x="395.8" y="285.4"/><use href="#p2" x="397.0" y="292.3"/><use href="#p2" x="395.8" y="294.5"/><use href="#p2" x="395.7" y="250.6"/><use href="#p2" x="396.4" y="284.9"/><use href="#p2" x="396.8" y="255.3"/><use href="#p2" x="396.7" y="287.0"/><use href="#p2" x="397.0" y="264.2"/><use href="#p2" x="397.6" y="294.3"/><use href="#p2" x="397.5" y="283.5"/><use href="#p2" x="395.5" y="292.2"/><use href="#p2" x="396.2" y="292.8"/><use href="#p2" x="396.2" y="284.6"/><use href="#p2" x="397.2" y="278.8"/><use href="#p2" x="396.1" y="286.2"/><use href="#p2" x="397.2" y="276.3"/><use href="#p2" x="396.1" y="272.3"/><use href="#p2" x="396.8" y="256.7"/><use href="#p2" x="397.5" y="289.8"/><use href="#p2" x="397.0" y="284.4"/><use href="#p2" x="396.5" y="283.0"/><use href="#p2" x="397.2" y="309.2"/><use href="#p2" x="397.4" y="276.1"/><use href="#p2" x="396.7" y="317.1"/><use href="#p2" x="396.2" y="294.2"/><use href="#p2" x="397.0" y="270.2"/><use href="#p2" x="395.9" y="267.1"/><use href="#p2" x="396.2" y="291.2"/><use href="#p2" x="396.6" y="274.9"/><use href="#p2" x="397.5" y="255.2"/><use href="#p2" x="397.4" y="308.6"/><use href="#p2" x="396.8" y="275.0"/><use href="#p2" x="396.6" y="298.7"/><use href="#p2" x="396.6" y="281.2"/><use href="#p2" x="395.4" y="254.7"/><use href="#p2" x="395.8" y="317.2"/><use href="#p2" x="396.0" y="306.6"/><use href="#p2" x="397.2" y="320.1"/><use href="#p2" x="396.5" y="244.6"/><use href="#p2" x="395.5" y="313.2"/><use href="#p2" x="396.6" y="285.0"/><use href="#p2" x="395.4" y="301.9"/><use href="#p2" x="395.5" y="293.2"/><use href="#p2" x="396.7" y="313.4"/><use href="#p2" x="396.6" y="274.0"/><use href="#p2" x="395.9" y="320.4"/><use href="#p2" x="396.0" y="310.0"/><use href="#p2" x="397.1" y="276.5"/><use href="#p2" x="395.6" y="281.8"/><use href="#p2" x="397.1" y="278.5"/><use href="#p2" x="396.3" y="323.0"/><use href="#p2" x="395.7" y="298.0"/><use href="#p2" x="397.3" y="289.9"/><use href="#p2" x="397.3" y="262.1"/><use href="#p2" x="395.4" y="296.7"/><use href="#p2" x="396.7" y="292.0"/><use href="#p2" x="396.9" y="281.6"/><use href="#p2" x="395.5" y="304.1"/><use href="#p2" x="396.7" y="260.1"/><use href="#p2" x="397.6" y="302.6"/><use href="#p2" x="396.9" y="288.8"/><use href="#p2" x="396.7" y="274.9"/><use href="#p2" x="395.9" y="279.1"/><use href="#p2" x="396.6" y="273.9"/></g><g fill="#1919e6" fill-opacity="0.45" stroke="#1919e6" stroke-opacity="0.70" stroke-width="0.50"><use href="#x2" x="396.0" y="342.0"/><use href="#x2" x="397.0" y="353.0"/><use href="#x2" x="395.0" y="335.0"/><use href="#x2" x="394.0" y="338.0"/></g><g fill="#1e96e6" fill-opacity="0.35" stroke="#1e96e6" stroke-opacity="0.70" stroke-width="0.60"><use href="#d2" x="426.2" y="291.5"/><use href="#d2" x="424.2" y="296.0"/><use href="#d2" x="424.3" y="277.1"/><use href="#d2" x="422.1" y="281.9"/><use href="#d2" x="424.0" y="283.2"/><use href="#d2" x="420.2" y="316.3"/><use href="#d2" x="425.2" y="261.2"/><use href="#d2" x="425.7" y="304.7"/><use href="#d2" x="422.6" y="280.3"/><use href="#d2" x="420.5" y="256.4"/><use href="#d2" x="421.9" y="239.8"/><use href="#d2" x="421.1" y="282.2"/><use href="#d2" x="423.1" y="279.9"/><use href="#d2" x="420.2" y="283.5"/><use href="#d2" x="423.4" y="242.3"/><use href="#d2" x="424.7" y="314.0"/><use href="#d2" x="422.8" y="229.9"/><use href="#d2" x="425.7" y="276.3"/><use href="#d2" x="423.1" y="279.0"/><use href="#d2" x="423.2" y="226.1"/><use href="#d2" x="421.7" y="264.4"/><use href="#d2" x="421.0" y="302.4"/><use href="#d2" x="420.2" y="267.6"/><use href="#d2" x="420.5" y="266.6"/><use href="#d2" x="424.9" y="241.7"/><use href="#d2" x="425.6" y="292.2"/><use href="#d2" x="420.9" y="280.1"/><use href="#d2" x="423.6" y="293.4"/><use href="#d2" x="422.5" y="310.3"/><use href="#d2" x="422.7" y="263.0"/><use href="#d2" x="424.2" y="316.9"/><use href="#d2" x="424.4" y="246.3"/><use href="#d2" x="424.7" y="282.6"/><use href="#d2" x="425.8" y="243.3"/><use href="#d2" x="424.1" y="256.7"/><use href="#d2" x="422.5" y="234.3"/><use href="#d2" x="425.9" y="266.8"/><use href="#d2" x="426.1" y="295.2"/><use href="#d2" x="420.6" y="236.5"/><use href="#d2" x="425.1" y="256.4"/><use href="#d2" x="424.0" y="316.5"/><use href="#d2" x="422.3" y="228.0"/><use href="#d2" x="424.2" y="234.9"/><use href="#d2" x="423.0" y="265.7"/><use href="#d2" x="424.1" y="287.2"/><use href="#d2" x="422.4" y="273.6"/><use href="#d2" x="425.0" y="249.0"/><use href="#d2" x="423.1" y="276.3"/><use href="#d2" x="426.2" y="294.5"/><use href="#d2" x="425.2" y="275.5"/><use href="#d2" x="420.6" y="284.8"/><use href="#d2" x="423.7" y="325.6"/><use href="#d2" x="424.1" y="275.1"/><use href="#d2" x="421.8" y="259.9"/><use href="#d2" x="423.2" y="260.7"/><use href="#d2" x="423.0" y="268.6"/><use href="#d2" x="423.9" y="305.4"/><use href="#d2" x="423.2" y="234.3"/><use href="#d2" x="425.2" y="298.5"/><use href="#d2" x="421.2" y="300.5"/><use href="#d2" x="420.9" y="255.0"/><use href="#d2" x="421.5" y="265.0"/><use href="#d2" x="422.6" y="269.0"/><use href="#d2" x="423.3" y="269.6"/><use href="#d2" x="425.4" y="301.3"/><use href="#d2" x="423.2" y="298.3"/><use href="#d2" x="422.3" y="294.9"/><use href="#d2" x="423.6" y="273.4"/><use href="#d2" x="421.9" y="249.8"/><use href="#d2" x="425.6" y="244.7"/><use href="#d2" x="421.9" y="287.9"/><use href="#d2" x="424.7" y="270.6"/><use href="#d2" x="424.5" y="248.3"/><use href="#d2" x="421.2" y="288.0"/><use href="#d2" x="425.5" y="288.0"/><use href="#d2" x="423.9" y="306.4"/><use href="#d2" x="420.2" y="309.6"/><use href="#d2" x="423.8" y="276.0"/><use href="#d2" x="422.2" y="261.1"/><use href="#d2" x="425.5" y="265.3"/><use href="#d2" x="421.1" y="298.7"/><use href="#d2" x="421.4" y="284.9"/><use href="#d2" x="420.7" y="260.3"/><use href="#d2" x="424.2" y="258.2"/><use href="#d2" x="421.3" y="263.4"/><use href="#d2" x="421.2" y="326.2"/><use href="#d2" x="423.9" y="225.6"/><use href="#d2" x="423.4" y="308.5"/><use href="#d2" x="423.8" y="274.3"/><use href="#d2" x="424.9" y="294.1"/><use href="#d2" x="422.5" y="241.9"/><use href="#d2" x="426.0" y="220.9"/><use href="#d2" x="421.2" y="236.8"/><use href="#d2" x="423.5" y="291.5"/><use href="#d2" x="424.4" y="256.1"/><use href="#d2" x="425.9" y="246.5"/><use href="#d2" x="421.4" y="253.0"/><use href="#d2" x="421.6" y="235.4"/><use href="#d2" x="425.6" y="262.3"/><use href="#d2" x="424.2" y="260.1"/><use href="#d2" x="421.2" y="273.2"/><use href="#d2" x="421.4" y="302.7"/><use href="#d2" x="420.7" y="287.5"/><use href="#d2" x="423.2" y="321.1"/><use href="#d2" x="420.7" y="273.7"/><use href="#d2" x="421.2" y="253.1"/><use href="#d2" x="423.2" y="269.4"/><use href="#d2" x="421.3" y="255.3"/><use href="#d2" x="425.1" y="243.7"/><use href="#d2" x="424.5" y="256.3"/><use href="#d2" x="420.9" y="302.7"/><use href="#d2" x="424.1" y="308.6"/><use href="#d2" x="421.2" y="241.4"/><use href="#d2" x="425.5" y="305.3"/><use href="#d2" x="425.6" y="279.1"/><use href="#d2" x="420.8" y="265.4"/><use href="#d2" x="421.3" y="267.0"/><use href="#d2" x="424.9" y="285.3"/><use href="#d2" x="425.3" y="320.3"/><use href="#d2" x="422.3" y="288.3"/><use href="#d2" x="425.7" y="287.4"/><use href="#d2" x="423.3" y="244.7"/><use href="#d2" x="425.1" y="293.6"/><use href="#d2" x="421.5" y="277.6"/><use href="#d2" x="421.4" y="297.8"/><use href="#d2" x="423.3" y="279.2"/><use href="#d2" x="424.0" y="279.4"/><use href="#d2" x="423.6" y="276.3"/><use href="#d2" x="425.8" y="248.6"/><use href="#d2" x="421.4" y="259.2"/><use href="#d2" x="424.1" y="223.8"/><use href="#d2" x="425.3" y="273.2"/><use href="#d2" x="421.2" y="275.8"/><use href="#d2" x="420.7" y="262.7"/><use href="#d2" x="422.1" y="262.2"/><use href="#d2" x="424.6" y="267.0"/><use href="#d2" x="420.3" y="250.7"/><use href="#d2" x="423.7" y="245.4"/><use href="#d2" x="423.4" y="290.7"/><use href="#d2" x="424.7" y="265.2"/><use href="#d2" x="423.2" y="310.2"/><use href="#d2" x="425.6" y="270.3"/><use href="#d2" x="423.3" y="261.3"/><use href="#d2" x="423.0" y="263.3"/><use href="#d2" x="426.0" y="260.7"/><use href="#d2" x="420.6" y="238.7"/><use href="#d2" x="425.2" y="262.9"/><use href="#d2" x="424.8" y="312.6"/><use href="#d2" x="423.1" y="259.7"/><use href="#d2" x="425.2" y="274.0"/><use href="#d2" x="421.2" y="235.2"/><use href="#d2" x="425.0" y="247.3"/><use href="#d2" x="421.5" y="262.5"/><use href="#d2" x="423.9" y="306.4"/><use href="#d2" x="425.8" y="254.9"/><use href="#d2" x="422.4" y="278.2"/><use href="#d2" x="421.4" y="292.7"/><use href="#d2" x="421.4" y="248.2"/><use href="#d2" x="425.6" y="270.8"/><use href="#d2" x="422.0" y="258.4"/><use href="#d2" x="422.6" y="265.7"/><use href="#d2" x="424.2" y="266.7"/><use href="#d2" x="420.3" y="260.9"/><use href="#d2" x="424.7" y="227.0"/><use href="#d2" x="420.7" y="272.2"/><use href="#d2" x="423.2" y="275.3"/><use href="#d2" x="420.4" y="270.5"/><use href="#d2" x="421.1" y="283.9"/><use href="#d2" x="426.0" y="272.8"/><use href="#d2" x="423.2" y="275.1"/></g><g fill="#e61996" fill-opacity="0.45" stroke="#e61996" stroke-opacity="0.70" stroke-width="0.50"><use href="#r2" x="461.1" y="270.2"/><use href="#r2" x="460.0" y="304.8"/><use href="#r2" x="462.2" y="283.8"/><use href="#r2" x="463.1" y="270.2"/><use href="#r2" x="462.4" y="263.5"/><use href="#r2" x="459.1" y="241.9"/><use href="#r2" x="456.5" y="273.4"/><use href="#r2" x="464.8" y="282.5"/><use href="#r2" x="464.5" y="226.0"/><use href="#r2" x="464.2" y="280.7"/><use href="#r2" x="456.9" y="258.4"/><use href="#r2" x="465.0" y="272.0"/><use href="#r2" x="463.4" y="265.4"/><use href="#r2" x="458.9" y="250.8"/><use href="#r2" x="465.3" y="245.8"/><use href="#r2" x="465.2" y="297.1"/><use href="#r2" x="464.3" y="280.2"/><use href="#r2" x="461.2" y="257.0"/><use href="#r2" x="465.0" y="305.6"/><use href="#r2" x="459.6" y="311.4"/><use href="#r2" x="462.8" y="236.0"/><use href="#r2" x="464.2" y="235.7"/><use href="#r2" x="463.1" y="271.1"/><use href="#r2" x="457.3" y="226.9"/><use href="#r2" x="462.3" y="261.7"/><use href="#r2" x="460.7" y="311.4"/><use href="#r2" x="462.8" y="294.0"/><use href="#r2" x="456.4" y="244.6"/><use href="#r2" x="462.0" y="285.1"/><use href="#r2" x="461.9" y="241.5"/><use href="#r2" x="458.4" y="298.6"/><use href="#r2" x="460.7" y="296.6"/><use href="#r2" x="456.9" y="307.4"/><use href="#r2" x="458.6" y="276.4"/><use href="#r2" x="458.0" y="289.1"/><use href="#r2" x="463.1" y="283.9"/><use href="#r2" x="458.1" y="309.7"/><use href="#r2" x="461.6" y="261.8"/><use href="#r2" x="456.5" y="249.2"/><use href="#r2" x="460.8" y="255.0"/><use href="#r2" x="463.8" y="248.1"/><use href="#r2" x="463.0" y="282.0"/><use href="#r2" x="458.9" y="279.9"/><use href="#r2" x="463.1" y="277.2"/><use href="#r2" x="462.9" y="329.9"/><use href="#r2" x="460.2" y="267.9"/><use href="#r2" x="459.9" y="309.8"/><use href="#r2" x="461.1" y="232.2"/><use href="#r2" x="460.1" y="245.7"/><use href="#r2" x="457.1" y="310.9"/><use href="#r2" x="459.9" y="279.8"/><use href="#r2" x="459.1" y="294.8"/><use href="#r2" x="459.0" y="258.4"/><use href="#r2" x="464.8" y="265.2"/><use href="#r2" x="460.5" y="302.8"/><use href="#r2" x="462.5" y="250.2"/><use href="#r2" x="462.4" y="253.7"/><use href="#r2" x="464.5" y="270.3"/><use href="#r2" x="458.8" y="258.0"/><use href="#r2" x="462.6" y="315.6"/><use href="#r2" x="459.4" y="285.0"/><use href="#r2" x="460.2" y="258.9"/><use href="#r2" x="459.1" y="275.8"/><use href="#r2" x="456.5" y="274.5"/><use href="#r2" x="460.0" y="233.1"/><use href="#r2" x="458.8" y="272.0"/><use href="#r2" x="465.4" y="301.3"/><use href="#r2" x="458.5" y="249.9"/><use href="#r2" x="464.2" y="289.7"/><use href="#r2" x="462.0" y="314.8"/><use href="#r2" x="456.7" y="321.2"/><use href="#r2" x="463.3" y="272.5"/><use href="#r2" x="464.7" y="290.3"/><use href="#r2" x="456.8" y="283.8"/><use href="#r2" x="458.3" y="289.3"/><use href="#r2" x="457.9" y="261.2"/><use href="#r2" x="463.6" y="321.6"/><use href="#r2" x="456.4" y="281.4"/><use href="#r2" x="462.8" y="267.2"/><use href="#r2" x="461.3" y="295.4"/><use href="#r2" x="464.6" y="248.5"/><use href="#r2" x="465.6" y="256.8"/><use href="#r2" x="463.8" y="263.4"/><use href="#r2" x="463.0" y="286.1"/><use href="#r2" x="459.2" y="309.5"/><use href="#r2" x="461.9" y="285.4"/><use href="#r2" x="461.5" y="263.8"/><use href="#r2" x="461.8" y="240.9"/><use href="#r2" x="459.8" y="284.8"/><use href="#r2" x="458.6" y="271.2"/><use href="#r2" x="463.5" y="263.4"/><use href="#r2" x="456.7" y="254.9"/><use href="#r2" x="460.1" y="283.6"/><use href="#r2" x="464.0" y="292.5"/><use href="#r2" x="462.1" y="240.5"/><use href="#r2" x="462.2" y="251.5"/><use href="#r2" x="459.8" y="276.2"/><use href="#r2" x="464.8" y="297.0"/><use href="#r2" x="457.6" y="277.4"/><use href="#r2" x="461.0" y="286.1"/><use href="#r2" x="458.7" y="278.6"/><use href="#r2" x="462.6" y="283.3"/><use href="#r2" x="456.6" y="234.7"/><use href="#r2" x="458.6" y="255.6"/><use href="#r2" x="458.8" y="261.1"/><use href="#r2" x="462.9" y="288.4"/><use href="#r2" x="460.6" y="245.3"/><use href="#r2" x="463.8" y="319.5"/><use href="#r2" x="462.3" y="313.6"/><use href="#r2" x="462.0" y="329.9"/><use href="#r2" x="465.2" y="266.6"/><use href="#r2" x="457.4" y="314.1"/><use href="#r2" x="459.4" y="258.8"/><use href="#r2" x="464.8" y="269.1"/><use href="#r2" x="459.1" y="293.1"/><use href="#r2" x="464.4" y="270.4"/><use href="#r2" x="461.7" y="270.9"/><use href="#r2" x="458.0" y="281.2"/><use href="#r2" x="464.8" y="289.6"/><use href="#r2" x="459.2" y="260.5"/><use href="#r2" x="457.9" y="281.7"/><use href="#r2" x="460.8" y="256.8"/><use href="#r2" x="460.3" y="284.8"/><use href="#r2" x="460.4" y="314.4"/><use href="#r2" x="462.0" y="241.4"/><use href="#r2" x="459.6" y="293.5"/><use href="#r2" x="460.7" y="279.8"/><use href="#r2" x="465.4" y="251.2"/><use href="#r2" x="460.7" y="274.1"/><use href="#r2" x="459.5" y="298.5"/><use href="#r2" x="463.6" y="262.6"/><use href="#r2" x="458.7" y="271.2"/><use href="#r2" x="464.1" y="299.1"/><use href="#r2" x="464.7" y="257.7"/><use href="#r2" x="463.1" y="275.3"/><use href="#r2" x="459.1" y="267.3"/><use href="#r2" x="459.7" y="249.1"/><use href="#r2" x="463.8" y="255.8"/><use href="#r2" x="465.1" y="272.8"/><use href="#r2" x="458.7" y="269.6"/><use href="#r2" x="458.0" y="298.0"/><use href="#r2" x="458.1" y="260.4"/><use href="#r2" x="458.4" y="260.3"/><use href="#r2" x="457.1" y="257.1"/><use href="#r2" x="461.8" y="252.6"/><use href="#r2" x="459.9" y="260.2"/><use href="#r2" x="460.4" y="249.6"/><use href="#r2" x="458.2" y="286.5"/><use href="#r2" x="458.5" y="258.2"/><use href="#r2" x="459.6" y="295.7"/><use href="#r2" x="460.0" y="278.4"/><use href="#r2" x="464.5" y="265.6"/><use href="#r2" x="465.4" y="249.8"/><use href="#r2" x="456.6" y="284.8"/><use href="#r2" x="463.1" y="282.2"/><use href="#r2" x="457.6" y="314.3"/><use href="#r2" x="462.1" y="286.1"/><use href="#r2" x="460.1" y="270.2"/><use href="#r2" x="465.6" y="273.2"/><use href="#r2" x="461.9" y="299.1"/><use href="#r2" x="463.0" y="309.4"/><use href="#r2" x="464.8" y="264.2"/><use href="#r2" x="462.1" y="320.8"/><use href="#r2" x="460.3" y="280.3"/><use href="#r2" x="463.1" y="272.6"/><use href="#r2" x="463.8" y="279.3"/><use href="#r2" x="462.4" y="268.9"/><use href="#r2" x="464.4" y="280.9"/><use href="#r2" x="456.6" y="273.6"/><use href="#r2" x="456.9" y="325.9"/><use href="#r2" x="461.6" y="281.0"/><use href="#r2" x="462.2" y="265.4"/><use href="#r2" x="463.4" y="255.4"/><use href="#r2" x="463.8" y="256.1"/><use href="#r2" x="460.5" y="305.3"/><use href="#r2" x="460.2" y="273.7"/><use href="#r2" x="458.2" y="243.7"/><use href="#r2" x="463.0" y="257.1"/><use href="#r2" x="461.9" y="280.6"/><use href="#r2" x="456.7" y="297.4"/></g><g fill="#e61996" fill-opacity="0.45" stroke="#e61996" stroke-opacity="0.70" stroke-width="0.50"><use href="#r2" x="459.0" y="206.0"/><use href="#r2" x="462.0" y="205.0"/></g><g fill="#19e696" fill-opacity="0.45" stroke="#19e696" stroke-opacity="0.70" stroke-width="0.50"><use href="#s2" x="496.6" y="329.4"/><use href="#s2" x="505.1" y="301.1"/><use href="#s2" x="496.8" y="274.7"/><use href="#s2" x="505.0" y="293.5"/><use href="#s2" x="502.3" y="301.8"/><use href="#s2" x="496.1" y="297.8"/><use href="#s2" x="508.0" y="296.5"/><use href="#s2" x="502.2" y="267.2"/><use href="#s2" x="503.1" y="304.6"/><use href="#s2" x="503.8" y="282.1"/><use href="#s2" x="508.7" y="309.4"/><use href="#s2" x="504.5" y="278.5"/><use href="#s2" x="506.8" y="272.6"/><use href="#s2" x="504.0" y="295.8"/><use href="#s2" x="507.4" y="302.6"/><use href="#s2" x="502.1" y="300.8"/><use href="#s2" x="499.4" y="231.0"/><use href="#s2" x="499.1" y="288.7"/><use href="#s2" x="497.9" y="281.9"/><use href="#s2" x="502.3" y="280.2"/><use href="#s2" x="497.6" y="330.4"/><use href="#s2" x="495.9" y="311.7"/><use href="#s2" x="496.9" y="315.7"/><use href="#s2" x="506.4" y="269.5"/><use href="#s2" x="499.5" y="264.1"/><use href="#s2" x="503.7" y="255.0"/><use href="#s2" x="508.4" y="295.4"/><use href="#s2" x="507.6" y="247.0"/><use href="#s2" x="498.4" y="335.2"/><use href="#s2" x="507.5" y="282.5"/><use href="#s2" x="504.0" y="325.9"/><use href="#s2" x="508.4" y="265.0"/><use href="#s2" x="502.5" y="242.8"/><use href="#s2" x="501.5" y="276.1"/><use href="#s2" x="499.6" y="295.9"/><use href="#s2" x="499.8" y="280.6"/><use href="#s2" x="495.9" y="291.8"/><use href="#s2" x="507.2" y="275.7"/><use href="#s2" x="503.1" y="230.8"/><use href="#s2" x="502.0" y="318.7"/><use href="#s2" x="505.5" y="277.9"/><use href="#s2" x="502.9" y="288.1"/><use href="#s2" x="499.2" y="239.0"/><use href="#s2" x="504.3" y="249.1"/><use href="#s2" x="506.7" y="304.2"/><use href="#s2" x="501.8" y="301.8"/><use href="#s2" x="502.5" y="323.3"/><use href="#s2" x="499.7" y="265.7"/><use href="#s2" x="502.4" y="275.8"/><use href="#s2" x="507.6" y="309.6"/><use href="#s2" x="502.0" y="273.9"/><use href="#s2" x="500.9" y="290.8"/><use href="#s2" x="500.0" y="274.3"/><use href="#s2" x="499.2" y="259.6"/><use href="#s2" x="498.4" y="256.9"/><use href="#s2" x="502.7" y="275.1"/><use href="#s2" x="504.0" y="289.0"/><use href="#s2" x="496.1" y="313.8"/><use href="#s2" x="502.7" y="285.9"/><use href="#s2" x="497.6" y="269.8"/><use href="#s2" x="504.0" y="255.7"/><use href="#s2" x="501.0" y="285.2"/><use href="#s2" x="504.4" y="273.9"/><use href="#s2" x="498.8" y="316.8"/><use href="#s2" x="507.5" y="274.8"/><use href="#s2" x="503.9" y="236.9"/><use href="#s2" x="499.9" y="278.7"/><use href="#s2" x="497.7" y="286.5"/><use href="#s2" x="504.4" y="280.8"/><use href="#s2" x="503.7" y="300.0"/><use href="#s2" x="501.3" y="255.6"/><use href="#s2" x="505.2" y="329.2"/><use href="#s2" x="503.9" y="295.4"/><use href="#s2" x="504.0" y="336.5"/><use href="#s2" x="501.1" y="293.4"/><use href="#s2" x="500.9" y="265.4"/><use href="#s2" x="506.0" y="278.0"/><use href="#s2" x="499.4" y="300.0"/><use href="#s2" x="501.4" y="311.3"/><use href="#s2" x="504.9" y="242.2"/><use href="#s2" x="508.2" y="271.8"/><use href="#s2" x="508.2" y="300.3"/><use href="#s2" x="506.9" y="290.7"/><use href="#s2" x="495.8" y="275.7"/><use href="#s2" x="497.8" y="302.5"/><use href="#s2" x="498.1" y="295.6"/><use href="#s2" x="502.2" y="285.2"/><use href="#s2" x="499.8" y="322.3"/><use href="#s2" x="502.7" y="275.5"/><use href="#s2" x="505.9" y="264.5"/><use href="#s2" x="505.4" y="265.4"/><use href="#s2" x="495.8" y="258.4"/><use href="#s2" x="502.6" y="268.9"/><use href="#s2" x="500.4" y="289.1"/><use href="#s2" x="498.9" y="335.0"/><use href="#s2" x="504.4" y="251.1"/><use href="#s2" x="508.4" y="271.1"/><use href="#s2" x="497.0" y="325.9"/><use href="#s2" x="504.4" y="249.8"/><use href="#s2" x="508.7" y="279.5"/></g><g fill="#96e619" fill-opacity="0.42" stroke="#96e619" stroke-opacity="0.67" stroke-width="0.50"><use href="#v2" x="524.6" y="291.6"/><use href="#v2" x="521.7" y="307.9"/><use href="#v2" x="521.6" y="270.1"/><use href="#v2" x="520.4" y="270.1"/><use href="#v2" x="522.4" y="288.2"/><use href="#v2" x="515.7" y="276.5"/><use href="#v2" x="530.0" y="290.4"/><use href="#v2" x="524.2" y="299.2"/><use href="#v2" x="525.3" y="302.3"/><use href="#v2" x="516.4" y="280.5"/><use href="#v2" x="519.7" y="266.8"/><use href="#v2" x="528.0" y="240.1"/><use href="#v2" x="524.9" y="294.2"/><use href="#v2" x="527.5" y="278.9"/><use href="#v2" x="521.8" y="293.4"/><use href="#v2" x="519.9" y="257.8"/><use href="#v2" x="518.5" y="261.0"/><use href="#v2" x="523.9" y="312.8"/><use href="#v2" x="526.0" y="315.7"/><use href="#v2" x="515.0" y="296.5"/><use href="#v2" x="518.9" y="296.4"/><use href="#v2" x="517.7" y="244.5"/><use href="#v2" x="520.5" y="277.1"/><use href="#v2" x="518.2" y="285.2"/><use href="#v2" x="515.8" y="246.6"/><use href="#v2" x="521.5" y="263.2"/><use href="#v2" x="517.9" y="298.7"/><use href="#v2" x="521.7" y="280.4"/><use href="#v2" x="528.6" y="287.3"/><use href="#v2" x="515.0" y="289.4"/><use href="#v2" x="529.9" y="289.2"/><use href="#v2" x="523.9" y="287.8"/><use href="#v2" x="528.2" y="297.4"/><use href="#v2" x="527.5" y="296.2"/><use href="#v2" x="528.2" y="262.2"/><use href="#v2" x="528.2" y="275.7"/><use href="#v2" x="527.5" y="275.0"/><use href="#v2" x="525.8" y="263.1"/><use href="#v2" x="518.9" y="262.2"/><use href="#v2" x="521.2" y="245.4"/><use href="#v2" x="523.5" y="270.1"/><use href="#v2" x="528.8" y="269.7"/><use href="#v2" x="515.7" y="248.4"/><use href="#v2" x="519.3" y="269.8"/><use href="#v2" x="519.6" y="279.1"/><use href="#v2" x="517.0" y="287.7"/><use href="#v2" x="523.3" y="271.3"/><use href="#v2" x="529.5" y="273.1"/><use href="#v2" x="524.1" y="310.0"/><use href="#v2" x="515.3" y="267.6"/><use href="#v2" x="530.2" y="243.6"/><use href="#v2" x="519.6" y="292.6"/><use href="#v2" x="518.5" y="305.1"/><use href="#v2" x="517.5" y="283.0"/><use href="#v2" x="515.4" y="319.0"/><use href="#v2" x="515.7" y="278.9"/><use href="#v2" x="527.5" y="317.9"/><use href="#v2" x="516.6" y="285.8"/><use href="#v2" x="516.8" y="256.3"/><use href="#v2" x="519.7" y="297.1"/><use href="#v2" x="519.3" y="294.3"/><use href="#v2" x="522.4" y="263.2"/><use href="#v2" x="520.7" y="303.1"/><use href="#v2" x="524.4" y="264.0"/><use href="#v2" x="524.0" y="322.8"/><use href="#v2" x="518.8" y="269.6"/><use href="#v2" x="527.0" y="265.3"/><use href="#v2" x="519.0" y="298.8"/><use href="#v2" x="529.0" y="253.4"/><use href="#v2" x="523.7" y="259.2"/><use href="#v2" x="522.4" y="300.6"/><use href="#v2" x="528.2" y="288.1"/><use href="#v2" x="522.0" y="279.2"/><use href="#v2" x="518.9" y="252.8"/><use href="#v2" x="517.1" y="318.5"/><use href="#v2" x="524.8" y="284.0"/><use href="#v2" x="529.7" y="300.8"/><use href="#v2" x="520.8" y="288.9"/><use href="#v2" x="518.6" y="239.4"/><use href="#v2" x="526.7" y="261.8"/><use href="#v2" x="522.5" y="254.1"/><use href="#v2" x="520.1" y="259.1"/><use href="#v2" x="522.8" y="270.2"/><use href="#v2" x="515.8" y="267.9"/><use href="#v2" x="526.3" y="276.1"/><use href="#v2" x="520.2" y="266.7"/><use href="#v2" x="518.3" y="283.2"/><use href="#v2" x="528.1" y="272.5"/><use href="#v2" x="517.7" y="270.6"/><use href="#v2" x="523.0" y="300.5"/><use href="#v2" x="519.4" y="258.3"/><use href="#v2" x="524.1" y="286.3"/><use href="#v2" x="521.7" y="295.0"/><use href="#v2" x="514.5" y="287.6"/><use href="#v2" x="528.9" y="277.4"/><use href="#v2" x="524.3" y="285.0"/><use href="#v2" x="528.4" y="299.3"/><use href="#v2" x="521.7" y="282.2"/><use href="#v2" x="521.5" y="277.4"/><use href="#v2" x="522.6" y="306.1"/><use href="#v2" x="527.7" y="271.1"/><use href="#v2" x="526.4" y="291.6"/><use href="#v2" x="517.6" y="296.3"/><use href="#v2" x="522.4" y="296.7"/><use href="#v2" x="525.6" y="261.7"/><use href="#v2" x="518.2" y="295.7"/><use href="#v2" x="514.8" y="262.4"/><use href="#v2" x="520.0" y="311.3"/><use href="#v2" x="514.8" y="324.0"/><use href="#v2" x="515.8" y="314.8"/></g><g fill="#96e619" fill-opacity="0.42" stroke="#96e619" stroke-opacity="0.67" stroke-width="0.50"><use href="#v2" x="521.0" y="344.0"/></g><g fill="#9619e6" fill-opacity="0.45" stroke="#9619e6" stroke-opacity="0.70" stroke-width="0.50"><use href="#u2" x="547.2" y="277.9"/><use href="#u2" x="558.1" y="259.9"/><use href="#u2" x="559.4" y="292.5"/><use href="#u2" x="548.7" y="289.7"/><use href="#u2" x="552.6" y="283.1"/><use href="#u2" x="543.8" y="292.6"/><use href="#u2" x="551.5" y="272.2"/><use href="#u2" x="548.8" y="294.7"/><use href="#u2" x="551.2" y="268.0"/><use href="#u2" x="549.2" y="268.8"/><use href="#u2" x="556.7" y="260.5"/><use href="#u2" x="553.1" y="290.1"/><use href="#u2" x="555.1" y="255.2"/><use href="#u2" x="557.5" y="267.2"/><use href="#u2" x="555.5" y="280.7"/><use href="#u2" x="557.2" y="280.2"/><use href="#u2" x="545.2" y="298.1"/><use href="#u2" x="549.6" y="297.4"/><use href="#u2" x="552.5" y="282.4"/><use href="#u2" x="546.5" y="266.5"/><use href="#u2" x="542.5" y="273.3"/><use href="#u2" x="548.7" y="268.8"/><use href="#u2" x="546.8" y="294.3"/><use href="#u2" x="555.0" y="279.6"/><use href="#u2" x="557.7" y="275.9"/><use href="#u2" x="552.8" y="277.7"/><use href="#u2" x="557.3" y="272.8"/><use href="#u2" x="547.2" y="304.0"/><use href="#u2" x="551.4" y="259.0"/><use href="#u2" x="551.6" y="265.4"/><use href="#u2" x="552.5" y="269.1"/><use href="#u2" x="548.0" y="282.2"/><use href="#u2" x="551.2" y="266.4"/><use href="#u2" x="557.2" y="280.3"/><use href="#u2" x="552.0" y="264.4"/><use href="#u2" x="546.9" y="296.6"/><use href="#u2" x="546.6" y="268.6"/><use href="#u2" x="544.5" y="269.4"/><use href="#u2" x="556.7" y="281.5"/><use href="#u2" x="549.1" y="262.7"/><use href="#u2" x="549.1" y="282.1"/><use href="#u2" x="545.9" y="252.9"/><use href="#u2" x="550.0" y="262.7"/><use href="#u2" x="544.1" y="284.9"/><use href="#u2" x="544.3" y="302.0"/><use href="#u2" x="550.3" y="265.9"/><use href="#u2" x="552.4" y="278.4"/><use href="#u2" x="557.7" y="256.2"/><use href="#u2" x="550.8" y="256.6"/><use href="#u2" x="556.1" y="275.6"/><use href="#u2" x="546.1" y="249.6"/><use href="#u2" x="546.1" y="290.4"/><use href="#u2" x="547.7" y="302.5"/><use href="#u2" x="551.4" y="263.6"/><use href="#u2" x="553.1" y="257.1"/><use href="#u2" x="548.6" y="277.8"/><use href="#u2" x="550.5" y="250.3"/><use href="#u2" x="558.5" y="270.9"/><use href="#u2" x="554.1" y="253.1"/><use href="#u2" x="550.2" y="278.1"/><use href="#u2" x="554.1" y="286.3"/><use href="#u2" x="554.7" y="276.8"/><use href="#u2" x="557.8" y="270.3"/><use href="#u2" x="544.4" y="304.3"/><use href="#u2" x="548.5" y="272.0"/><use href="#u2" x="553.0" y="287.8"/><use href="#u2" x="551.4" y="254.7"/><use href="#u2" x="558.4" y="252.4"/><use href="#u2" x="544.7" y="269.0"/><use href="#u2" x="544.7" y="275.0"/><use href="#u2" x="558.4" y="258.4"/><use href="#u2" x="544.9" y="265.2"/><use href="#u2" x="552.6" y="268.3"/><use href="#u2" x="549.8" y="273.4"/><use href="#u2" x="548.8" y="253.5"/><use href="#u2" x="546.7" y="266.4"/><use href="#u2" x="556.5" y="309.1"/><use href="#u2" x="544.4" y="269.8"/><use href="#u2" x="548.2" y="274.3"/><use href="#u2" x="542.7" y="295.7"/><use href="#u2" x="550.7" y="268.2"/><use href="#u2" x="556.6" y="276.7"/><use href="#u2" x="548.9" y="266.1"/><use href="#u2" x="543.9" y="296.9"/><use href="#u2" x="548.4" y="276.4"/><use href="#u2" x="557.2" y="282.4"/><use href="#u2" x="544.3" y="258.1"/><use href="#u2" x="542.7" y="286.4"/><use href="#u2" x="554.6" y="258.9"/><use href="#u2" x="553.5" y="272.5"/><use href="#u2" x="549.7" y="293.0"/><use href="#u2" x="543.3" y="270.1"/><use href="#u2" x="545.4" y="288.4"/><use href="#u2" x="550.4" y="250.0"/><use href="#u2" x="546.6" y="303.6"/><use href="#u2" x="543.8" y="270.0"/><use href="#u2" x="558.5" y="296.1"/><use href="#u2" x="556.1" y="262.9"/><use href="#u2" x="545.4" y="278.5"/><use href="#u2" x="558.7" y="249.2"/><use href="#u2" x="554.1" y="260.8"/><use href="#u2" x="556.5" y="283.8"/><use href="#u2" x="553.2" y="284.2"/><use href="#u2" x="558.7" y="254.0"/><use href="#u2" x="553.8" y="286.2"/><use href="#u2" x="557.9" y="281.0"/><use href="#u2" x="557.8" y="267.9"/><use href="#u2" x="557.6" y="259.8"/><use href="#u2" x="555.1" y="268.4"/><use href="#u2" x="552.8" y="286.9"/><use href="#u2" x="553.8" y="270.7"/><use href="#u2" x="544.0" y="273.2"/><use href="#u2" x="549.1" y="245.8"/><use href="#u2" x="555.0" y="264.1"/><use href="#u2" x="553.4" y="271.4"/><use href="#u2" x="551.8" y="283.1"/><use href="#u2" x="553.9" y="284.3"/><use href="#u2" x="554.2" y="269.8"/><use href="#u2" x="555.5" y="266.6"/><use href="#u2" x="554.5" y="288.4"/><use href="#u2" x="552.9" y="257.4"/><use href="#u2" x="544.5" y="284.2"/><use href="#u2" x="544.6" y="287.9"/><use href="#u2" x="553.9" y="267.8"/><use href="#u2" x="547.0" y="272.4"/><use href="#u2" x="556.3" y="295.0"/><use href="#u2" x="543.4" y="268.4"/><use href="#u2" x="549.4" y="270.7"/><use href="#u2" x="552.9" y="287.6"/><use href="#u2" x="548.0" y="266.3"/><use href="#u2" x="558.9" y="274.9"/><use href="#u2" x="555.7" y="268.6"/><use href="#u2" x="543.8" y="286.0"/><use href="#u2" x="553.8" y="267.8"/><use href="#u2" x="554.8" y="287.2"/><use href="#u2" x="548.2" y="268.5"/><use href="#u2" x="547.0" y="280.9"/><use href="#u2" x="556.1" y="296.6"/><use href="#u2" x="549.6" y="277.3"/><use href="#u2" x="543.4" y="260.1"/><use href="#u2" x="556.1" y="277.4"/><use href="#u2" x="542.8" y="285.2"/><use href="#u2" x="548.8" y="284.3"/><use href="#u2" x="548.4" y="258.4"/><use href="#u2" x="549.7" y="271.4"/><use href="#u2" x="544.2" y="289.1"/><use href="#u2" x="552.4" y="284.2"/><use href="#u2" x="546.5" y="270.5"/><use href="#u2" x="554.6" y="288.2"/><use href="#u2" x="549.5" y="252.6"/></g><g fill="#e61996" fill-opacity="0.42" stroke="#e61996" stroke-opacity="0.67" stroke-width="0.50"><use href="#v2" x="569.0" y="308.5"/><use href="#v2" x="556.5" y="283.4"/><use href="#v2" x="560.2" y="323.4"/><use href="#v2" x="556.6" y="302.3"/><use href="#v2" x="556.8" y="267.5"/><use href="#v2" x="553.4" y="290.6"/><use href="#v2" x="566.6" y="295.3"/><use href="#v2" x="551.5" y="286.4"/><use href="#v2" x="556.5" y="344.9"/><use href="#v2" x="548.6" y="328.9"/><use href="#v2" x="548.4" y="328.0"/><use href="#v2" x="563.2" y="273.0"/><use href="#v2" x="565.9" y="344.8"/><use href="#v2" x="557.4" y="308.2"/><use href="#v2" x="554.3" y="332.7"/><use href="#v2" x="552.9" y="331.5"/><use href="#v2" x="569.3" y="257.5"/><use href="#v2" x="564.7" y="338.6"/><use href="#v2" x="551.4" y="320.8"/><use href="#v2" x="550.5" y="282.1"/><use href="#v2" x="548.9" y="299.7"/><use href="#v2" x="550.6" y="332.6"/><use href="#v2" x="556.3" y="260.6"/><use href="#v2" x="570.7" y="298.1"/><use href="#v2" x="552.6" y="300.8"/><use href="#v2" x="560.4" y="292.8"/><use href="#v2" x="558.3" y="278.3"/><use href="#v2" x="565.1" y="328.7"/><use href="#v2" x="564.5" y="283.3"/><use href="#v2" x="570.4" y="268.7"/><use href="#v2" x="551.7" y="304.1"/><use href="#v2" x="551.8" y="303.6"/><use href="#v2" x="555.5" y="313.1"/><use href="#v2" x="552.9" y="281.7"/><use href="#v2" x="559.7" y="316.1"/><use href="#v2" x="567.1" y="294.7"/><use href="#v2" x="565.8" y="310.1"/><use href="#v2" x="550.7" y="305.0"/><use href="#v2" x="554.9" y="294.3"/><use href="#v2" x="559.6" y="278.6"/></g><g fill="#1e96e6" fill-opacity="0.42" stroke="#1e96e6" stroke-opacity="0.67" stroke-width="0.50"><use href="#o2" x="578.5" y="243.5"/><use href="#o2" x="576.2" y="253.7"/><use href="#o2" x="587.1" y="295.6"/><use href="#o2" x="588.8" y="257.3"/><use href="#o2" x="580.5" y="278.7"/><use href="#o2" x="581.3" y="259.9"/><use href="#o2" x="596.0" y="260.1"/><use href="#o2" x="582.2" y="286.8"/><use href="#o2" x="590.1" y="274.3"/><use href="#o2" x="579.8" y="269.4"/><use href="#o2" x="582.4" y="276.6"/><use href="#o2" x="588.0" y="264.4"/><use href="#o2" x="595.1" y="260.7"/><use href="#o2" x="584.7" y="287.5"/><use href="#o2" x="594.0" y="287.2"/><use href="#o2" x="574.5" y="301.5"/><use href="#o2" x="589.1" y="274.6"/><use href="#o2" x="597.8" y="272.1"/><use href="#o2" x="576.8" y="280.4"/><use href="#o2" x="577.0" y="286.3"/><use href="#o2" x="573.3" y="263.3"/><use href="#o2" x="581.4" y="280.9"/><use href="#o2" x="596.7" y="303.4"/><use href="#o2" x="594.4" y="282.3"/><use href="#o2" x="588.3" y="273.6"/><use href="#o2" x="580.4" y="284.5"/><use href="#o2" x="573.5" y="280.8"/><use href="#o2" x="585.9" y="315.4"/><use href="#o2" x="593.3" y="293.1"/><use href="#o2" x="596.6" y="283.8"/><use href="#o2" x="582.5" y="307.8"/><use href="#o2" x="596.2" y="256.4"/><use href="#o2" x="594.8" y="285.4"/><use href="#o2" x="587.8" y="242.1"/><use href="#o2" x="587.6" y="264.8"/><use href="#o2" x="582.1" y="282.9"/><use href="#o2" x="588.5" y="288.6"/><use href="#o2" x="586.8" y="281.3"/><use href="#o2" x="585.0" y="286.2"/><use href="#o2" x="597.5" y="253.4"/><use href="#o2" x="598.5" y="285.9"/><use href="#o2" x="597.7" y="283.6"/><use href="#o2" x="579.1" y="282.1"/><use href="#o2" x="575.4" y="281.2"/><use href="#o2" x="587.1" y="300.2"/><use href="#o2" x="591.8" y="271.2"/><use href="#o2" x="594.1" y="281.7"/><use href="#o2" x="581.1" y="249.5"/><use href="#o2" x="590.2" y="317.6"/><use href="#o2" x="581.3" y="249.4"/><use href="#o2" x="573.5" y="286.1"/><use href="#o2" x="588.2" y="262.4"/><use href="#o2" x="586.7" y="290.2"/><use href="#o2" x="587.7" y="277.5"/><use href="#o2" x="589.3" y="240.2"/><use href="#o2" x="585.9" y="284.7"/><use href="#o2" x="575.2" y="307.6"/><use href="#o2" x="590.2" y="273.5"/><use href="#o2" x="581.7" y="299.6"/><use href="#o2" x="573.4" y="278.5"/><use href="#o2" x="575.5" y="253.1"/><use href="#o2" x="589.0" y="265.5"/><use href="#o2" x="574.8" y="265.9"/><use href="#o2" x="573.7" y="266.1"/><use href="#o2" x="580.9" y="283.8"/><use href="#o2" x="596.5" y="264.6"/><use href="#o2" x="586.0" y="269.1"/><use href="#o2" x="587.7" y="309.4"/><use href="#o2" x="589.4" y="280.2"/><use href="#o2" x="574.0" y="262.1"/><use href="#o2" x="597.1" y="295.2"/><use href="#o2" x="590.4" y="273.1"/><use href="#o2" x="579.2" y="286.7"/><use href="#o2" x="576.3" y="248.9"/><use href="#o2" x="578.7" y="316.1"/><use href="#o2" x="582.2" y="293.4"/><use href="#o2" x="587.5" y="270.5"/><use href="#o2" x="574.9" y="255.2"/><use href="#o2" x="579.1" y="265.4"/><use href="#o2" x="591.0" y="281.3"/><use href="#o2" x="579.8" y="252.6"/><use href="#o2" x="581.7" y="295.5"/><use href="#o2" x="576.9" y="288.9"/><use href="#o2" x="576.5" y="290.1"/><use href="#o2" x="589.5" y="237.6"/><use href="#o2" x="589.6" y="305.7"/><use href="#o2" x="592.2" y="248.1"/><use href="#o2" x="580.5" y="253.3"/><use href="#o2" x="581.9" y="300.3"/><use href="#o2" x="596.5" y="307.6"/><use href="#o2" x="597.6" y="272.3"/><use href="#o2" x="577.0" y="270.5"/><use href="#o2" x="579.8" y="280.5"/><use href="#o2" x="575.2" y="289.3"/><use href="#o2" x="583.9" y="275.8"/><use href="#o2" x="581.7" y="275.2"/><use href="#o2" x="592.7" y="245.2"/><use href="#o2" x="591.8" y="271.2"/><use href="#o2" x="579.9" y="267.2"/><use href="#o2" x="575.9" y="274.6"/><use href="#o2" x="575.4" y="245.1"/><use href="#o2" x="594.7" y="263.9"/><use href="#o2" x="595.5" y="292.7"/><use href="#o2" x="579.3" y="304.3"/><use href="#o2" x="586.3" y="273.4"/><use href="#o2" x="593.7" y="274.6"/><use href="#o2" x="589.0" y="280.9"/><use href="#o2" x="598.6" y="287.8"/><use href="#o2" x="573.5" y="283.1"/><use href="#o2" x="575.8" y="280.4"/><use href="#o2" x="588.7" y="268.3"/><use href="#o2" x="574.9" y="262.3"/><use href="#o2" x="581.4" y="241.3"/><use href="#o2" x="575.9" y="315.2"/><use href="#o2" x="593.1" y="250.0"/><use href="#o2" x="580.5" y="292.5"/><use href="#o2" x="582.2" y="291.5"/><use href="#o2" x="590.2" y="268.3"/><use href="#o2" x="591.3" y="277.0"/><use href="#o2" x="593.0" y="273.6"/><use href="#o2" x="583.3" y="287.4"/><use href="#o2" x="579.1" y="277.5"/><use href="#o2" x="575.5" y="294.6"/><use href="#o2" x="577.2" y="281.7"/><use href="#o2" x="578.1" y="235.4"/><use href="#o2" x="590.1" y="267.5"/><use href="#o2" x="581.3" y="265.2"/><use href="#o2" x="598.0" y="253.5"/><use href="#o2" x="577.1" y="279.0"/><use href="#o2" x="596.0" y="305.6"/><use href="#o2" x="575.5" y="250.7"/><use href="#o2" x="587.3" y="246.0"/><use href="#o2" x="582.7" y="297.6"/><use href="#o2" x="597.6" y="272.2"/><use href="#o2" x="575.0" y="277.7"/><use href="#o2" x="583.0" y="305.3"/><use href="#o2" x="581.5" y="253.4"/><use href="#o2" x="588.8" y="265.0"/><use href="#o2" x="592.5" y="252.9"/><use href="#o2" x="593.1" y="305.2"/><use href="#o2" x="596.9" y="318.8"/><use href="#o2" x="597.0" y="252.9"/><use href="#o2" x="585.7" y="244.3"/><use href="#o2" x="575.5" y="293.0"/><use href="#o2" x="574.2" y="248.8"/><use href="#o2" x="587.8" y="280.9"/><use href="#o2" x="578.5" y="259.6"/><use href="#o2" x="579.5" y="316.1"/><use href="#o2" x="574.5" y="262.5"/><use href="#o2" x="596.0" y="270.4"/><use href="#o2" x="574.3" y="279.7"/><use href="#o2" x="588.6" y="253.6"/><use href="#o2" x="584.8" y="300.2"/><use href="#o2" x="597.2" y="264.1"/><use href="#o2" x="576.5" y="308.3"/><use href="#o2" x="583.5" y="265.4"/><use href="#o2" x="574.8" y="287.6"/><use href="#o2" x="584.4" y="245.1"/><use href="#o2" x="585.8" y="275.4"/><use href="#o2" x="585.7" y="299.2"/><use href="#o2" x="581.6" y="243.5"/><use href="#o2" x="577.1" y="259.2"/><use href="#o2" x="583.6" y="273.3"/><use href="#o2" x="584.9" y="256.3"/><use href="#o2" x="573.7" y="310.3"/><use href="#o2" x="591.1" y="294.0"/><use href="#o2" x="581.4" y="238.8"/><use href="#o2" x="594.4" y="271.8"/><use href="#o2" x="592.0" y="290.9"/><use href="#o2" x="593.6" y="316.5"/></g><g fill="#19e619" fill-opacity="0.42" stroke="#19e619" stroke-opacity="0.67" stroke-width="0.50"><use href="#x2" x="593.7" y="297.7"/><use href="#x2" x="590.9" y="231.6"/><use href="#x2" x="589.1" y="245.1"/><use href="#x2" x="594.2" y="294.8"/><use href="#x2" x="584.3" y="280.1"/><use href="#x2" x="580.8" y="266.8"/><use href="#x2" x="577.4" y="317.8"/><use href="#x2" x="583.3" y="318.7"/><use href="#x2" x="594.2" y="233.7"/><use href="#x2" x="575.9" y="236.6"/><use href="#x2" x="575.6" y="271.5"/><use href="#x2" x="577.4" y="310.9"/><use href="#x2" x="589.9" y="241.1"/><use href="#x2" x="597.3" y="249.9"/><use href="#x2" x="592.3" y="249.7"/><use href="#x2" x="584.9" y="217.9"/><use href="#x2" x="592.9" y="239.3"/><use href="#x2" x="597.4" y="265.2"/><use href="#x2" x="576.7" y="252.1"/><use href="#x2" x="576.1" y="253.3"/><use href="#x2" x="593.9" y="251.3"/><use href="#x2" x="578.5" y="250.3"/><use href="#x2" x="585.4" y="309.9"/><use href="#x2" x="583.4" y="267.4"/><use href="#x2" x="580.1" y="278.7"/><use href="#x2" x="577.1" y="320.7"/><use href="#x2" x="586.7" y="232.8"/><use href="#x2" x="584.2" y="267.1"/><use href="#x2" x="591.1" y="245.2"/><use href="#x2" x="595.2" y="274.0"/><use href="#x2" x="578.8" y="295.3"/><use href="#x2" x="575.2" y="268.8"/><use href="#x2" x="578.9" y="310.4"/><use href="#x2" x="585.4" y="287.9"/><use href="#x2" x="576.0" y="253.3"/><use href="#x2" x="575.7" y="229.7"/><use href="#x2" x="585.5" y="302.7"/><use href="#x2" x="577.0" y="224.6"/><use href="#x2" x="587.4" y="237.5"/><use href="#x2" x="579.4" y="261.0"/><use href="#x2" x="591.1" y="248.8"/><use href="#x2" x="581.9" y="236.1"/><use href="#x2" x="596.7" y="259.0"/><use href="#x2" x="588.6" y="255.8"/><use href="#x2" x="577.7" y="291.7"/></g><g fill="#19e619" fill-opacity="0.50" stroke="#19e619" stroke-opacity="0.75" stroke-width="0.50"><use href="#x2" x="587.9" y="230.0"/><use href="#x2" x="582.6" y="222.8"/><use href="#x2" x="578.8" y="222.2"/><use href="#x2" x="585.2" y="231.3"/><use href="#x2" x="590.2" y="228.6"/><use href="#x2" x="588.9" y="215.6"/><use href="#x2" x="580.6" y="220.5"/><use href="#x2" x="594.2" y="227.9"/><use href="#x2" x="594.4" y="228.6"/><use href="#x2" x="586.0" y="223.9"/><use href="#x2" x="579.5" y="217.1"/><use href="#x2" x="590.0" y="227.2"/><use href="#x2" x="589.6" y="225.9"/><use href="#x2" x="577.5" y="225.5"/><use href="#x2" x="578.0" y="225.9"/></g><g fill="#808080" fill-opacity="0.45" stroke="#808080" stroke-opacity="0.70" stroke-width="0.50"><use href="#l2" x="589.0" y="206.0"/><use href="#l2" x="586.0" y="221.0"/><use href="#l2" x="598.0" y="335.0"/><use href="#l2" x="599.0" y="344.0"/><use href="#l2" x="593.0" y="300.0"/><use href="#l2" x="590.0" y="318.0"/><use href="#l2" x="582.0" y="368.0"/><use href="#l2" x="584.0" y="352.0"/></g><g fill="#1e96e6" fill-opacity="0.45" stroke="#1e96e6" stroke-opacity="0.70" stroke-width="0.50"><use href="#o2" x="580.0" y="358.0"/><use href="#o2" x="582.0" y="353.0"/></g><g fill="#e69619" fill-opacity="0.42" stroke="#e69619" stroke-opacity="0.67" stroke-width="0.50"><use href="#r2" x="602.0" y="258.2"/><use href="#r2" x="600.9" y="225.1"/><use href="#r2" x="602.1" y="282.8"/><use href="#r2" x="601.3" y="285.2"/><use href="#r2" x="601.4" y="288.1"/><use href="#r2" x="603.0" y="272.7"/><use href="#r2" x="601.7" y="285.2"/><use href="#r2" x="601.8" y="236.7"/><use href="#r2" x="602.2" y="281.3"/><use href="#r2" x="602.0" y="224.8"/><use href="#r2" x="602.1" y="227.3"/><use href="#r2" x="602.7" y="281.7"/><use href="#r2" x="602.0" y="308.1"/><use href="#r2" x="602.3" y="260.6"/><use href="#r2" x="600.9" y="301.0"/><use href="#r2" x="602.0" y="282.0"/><use href="#r2" x="603.0" y="268.7"/><use href="#r2" x="601.1" y="318.8"/></g><g fill="#e69619" fill-opacity="0.42" stroke="#e69619" stroke-opacity="0.67" stroke-width="0.50"><use href="#r2" x="624.9" y="343.8"/><use href="#r2" x="625.8" y="317.0"/><use href="#r2" x="626.2" y="338.7"/><use href="#r2" x="626.6" y="309.5"/><use href="#r2" x="624.8" y="317.7"/><use href="#r2" x="625.0" y="340.8"/><use href="#r2" x="625.3" y="308.9"/><use href="#r2" x="624.4" y="321.8"/><use href="#r2" x="626.2" y="335.9"/><use href="#r2" x="625.9" y="318.9"/><use href="#r2" x="626.0" y="336.3"/><use href="#r2" x="625.3" y="305.9"/></g><g fill="#e61919" fill-opacity="0.36" stroke="#e61919" stroke-opacity="0.70" stroke-width="0.60"><use href="#d2" x="623.9" y="268.4"/><use href="#d2" x="600.4" y="251.8"/><use href="#d2" x="602.0" y="276.6"/><use href="#d2" x="599.9" y="278.6"/><use href="#d2" x="603.0" y="247.4"/><use href="#d2" x="620.6" y="267.3"/><use href="#d2" x="607.9" y="232.8"/><use href="#d2" x="606.3" y="259.3"/><use href="#d2" x="618.1" y="249.4"/><use href="#d2" x="605.9" y="287.3"/><use href="#d2" x="623.7" y="278.2"/><use href="#d2" x="622.1" y="226.9"/><use href="#d2" x="623.5" y="238.9"/><use href="#d2" x="606.0" y="285.0"/><use href="#d2" x="603.5" y="241.3"/><use href="#d2" x="603.4" y="261.6"/><use href="#d2" x="613.3" y="263.3"/><use href="#d2" x="614.9" y="224.5"/><use href="#d2" x="616.1" y="258.3"/><use href="#d2" x="606.0" y="247.4"/><use href="#d2" x="620.0" y="220.4"/><use href="#d2" x="604.7" y="270.4"/><use href="#d2" x="606.9" y="251.1"/><use href="#d2" x="610.1" y="256.6"/><use href="#d2" x="600.8" y="234.6"/><use href="#d2" x="602.7" y="238.0"/><use href="#d2" x="599.8" y="257.4"/><use href="#d2" x="603.7" y="227.3"/><use href="#d2" x="622.5" y="265.5"/><use href="#d2" x="608.6" y="275.4"/><use href="#d2" x="620.7" y="258.7"/><use href="#d2" x="602.8" y="260.2"/><use href="#d2" x="614.3" y="261.9"/><use href="#d2" x="614.8" y="264.5"/><use href="#d2" x="607.2" y="259.0"/><use href="#d2" x="600.6" y="264.0"/><use href="#d2" x="603.5" y="270.8"/><use href="#d2" x="612.8" y="239.3"/><use href="#d2" x="614.2" y="243.7"/><use href="#d2" x="625.0" y="247.9"/><use href="#d2" x="613.9" y="264.4"/><use href="#d2" x="603.9" y="264.4"/><use href="#d2" x="607.9" y="247.1"/><use href="#d2" x="617.7" y="270.8"/><use href="#d2" x="605.8" y="239.6"/><use href="#d2" x="619.8" y="286.0"/><use href="#d2" x="600.7" y="266.1"/><use href="#d2" x="606.0" y="233.9"/><use href="#d2" x="605.1" y="235.0"/><use href="#d2" x="611.3" y="286.4"/><use href="#d2" x="602.0" y="258.2"/><use href="#d2" x="616.3" y="244.9"/><use href="#d2" x="620.1" y="271.2"/><use href="#d2" x="601.5" y="276.6"/><use href="#d2" x="613.6" y="224.4"/><use href="#d2" x="612.4" y="243.8"/><use href="#d2" x="614.0" y="248.2"/><use href="#d2" x="615.1" y="250.0"/><use href="#d2" x="605.7" y="248.8"/><use href="#d2" x="606.4" y="255.4"/><use href="#d2" x="601.7" y="278.5"/><use href="#d2" x="608.4" y="262.2"/><use href="#d2" x="600.2" y="282.8"/><use href="#d2" x="613.5" y="229.9"/><use href="#d2" x="602.3" y="253.9"/><use href="#d2" x="607.8" y="243.4"/><use href="#d2" x="611.2" y="241.2"/><use href="#d2" x="613.1" y="260.0"/><use href="#d2" x="609.7" y="244.5"/><use href="#d2" x="618.4" y="269.6"/><use href="#d2" x="617.9" y="270.5"/><use href="#d2" x="609.4" y="258.6"/><use href="#d2" x="601.4" y="229.9"/><use href="#d2" x="606.9" y="237.8"/><use href="#d2" x="615.4" y="233.1"/><use href="#d2" x="607.0" y="276.1"/><use href="#d2" x="618.7" y="249.1"/><use href="#d2" x="610.0" y="263.0"/><use href="#d2" x="622.3" y="243.7"/><use href="#d2" x="619.9" y="242.2"/><use href="#d2" x="609.9" y="261.3"/><use href="#d2" x="600.5" y="288.2"/><use href="#d2" x="618.7" y="261.8"/><use href="#d2" x="604.7" y="261.1"/><use href="#d2" x="610.6" y="241.6"/><use href="#d2" x="623.6" y="253.7"/><use href="#d2" x="600.1" y="224.9"/><use href="#d2" x="609.4" y="270.3"/><use href="#d2" x="624.2" y="271.3"/><use href="#d2" x="621.8" y="242.6"/><use href="#d2" x="604.7" y="252.4"/><use href="#d2" x="608.8" y="265.0"/><use href="#d2" x="612.2" y="252.1"/><use href="#d2" x="624.1" y="251.5"/><use href="#d2" x="618.9" y="245.7"/><use href="#d2" x="615.3" y="266.9"/><use href="#d2" x="609.8" y="272.4"/><use href="#d2" x="621.4" y="248.4"/><use href="#d2" x="618.7" y="250.8"/><use href="#d2" x="619.0" y="258.9"/><use href="#d2" x="623.6" y="238.6"/><use href="#d2" x="620.9" y="232.3"/><use href="#d2" x="614.4" y="277.3"/><use href="#d2" x="607.9" y="261.0"/><use href="#d2" x="616.8" y="244.8"/><use href="#d2" x="604.3" y="243.4"/><use href="#d2" x="616.6" y="275.8"/><use href="#d2" x="609.6" y="255.6"/><use href="#d2" x="611.3" y="240.3"/><use href="#d2" x="620.6" y="223.0"/><use href="#d2" x="617.9" y="261.6"/><use href="#d2" x="618.7" y="238.2"/><use href="#d2" x="603.9" y="283.5"/><use href="#d2" x="610.2" y="239.5"/><use href="#d2" x="620.5" y="256.0"/><use href="#d2" x="618.4" y="249.3"/><use href="#d2" x="614.4" y="275.2"/><use href="#d2" x="608.5" y="251.3"/><use href="#d2" x="615.1" y="279.6"/><use href="#d2" x="611.4" y="255.4"/><use href="#d2" x="605.8" y="224.6"/><use href="#d2" x="617.0" y="255.7"/><use href="#d2" x="602.9" y="252.5"/><use href="#d2" x="621.9" y="280.3"/><use href="#d2" x="622.6" y="259.1"/><use href="#d2" x="599.9" y="256.6"/><use href="#d2" x="607.0" y="283.5"/><use href="#d2" x="599.9" y="273.1"/><use href="#d2" x="606.1" y="258.2"/><use href="#d2" x="606.5" y="261.4"/><use href="#d2" x="608.7" y="231.0"/><use href="#d2" x="601.7" y="227.2"/><use href="#d2" x="617.0" y="269.0"/><use href="#d2" x="605.2" y="279.0"/><use href="#d2" x="610.1" y="265.6"/><use href="#d2" x="622.1" y="227.8"/><use href="#d2" x="623.9" y="243.0"/><use href="#d2" x="606.8" y="238.3"/><use href="#d2" x="602.3" y="270.9"/><use href="#d2" x="625.1" y="274.6"/><use href="#d2" x="612.5" y="233.1"/><use href="#d2" x="623.7" y="232.8"/><use href="#d2" x="617.2" y="246.4"/><use href="#d2" x="616.3" y="279.0"/><use href="#d2" x="621.2" y="246.5"/><use href="#d2" x="614.9" y="273.9"/><use href="#d2" x="622.3" y="258.8"/><use href="#d2" x="619.5" y="254.2"/><use href="#d2" x="609.7" y="260.7"/><use href="#d2" x="621.7" y="251.6"/><use href="#d2" x="613.6" y="283.3"/><use href="#d2" x="614.9" y="282.6"/><use href="#d2" x="609.1" y="253.5"/><use href="#d2" x="621.3" y="246.9"/><use href="#d2" x="610.3" y="259.7"/><use href="#d2" x="600.2" y="288.1"/><use href="#d2" x="602.5" y="238.6"/><use href="#d2" x="612.9" y="255.9"/><use href="#d2" x="600.8" y="254.4"/><use href="#d2" x="606.5" y="256.8"/><use href="#d2" x="605.3" y="264.8"/><use href="#d2" x="601.2" y="227.4"/><use href="#d2" x="624.8" y="267.9"/><use href="#d2" x="609.0" y="241.3"/><use href="#d2" x="612.4" y="227.3"/><use href="#d2" x="603.0" y="251.2"/><use href="#d2" x="600.0" y="240.5"/><use href="#d2" x="624.5" y="233.1"/><use href="#d2" x="612.7" y="249.9"/><use href="#d2" x="620.7" y="293.6"/><use href="#d2" x="615.5" y="277.6"/><use href="#d2" x="605.8" y="248.0"/><use href="#d2" x="609.0" y="250.5"/><use href="#d2" x="613.4" y="269.4"/><use href="#d2" x="603.2" y="235.1"/><use href="#d2" x="615.1" y="268.0"/><use href="#d2" x="601.1" y="260.4"/><use href="#d2" x="621.4" y="261.7"/><use href="#d2" x="609.6" y="280.0"/><use href="#d2" x="623.0" y="276.3"/></g><g fill="#9619e6" fill-opacity="0.42" stroke="#9619e6" stroke-opacity="0.67" stroke-width="0.50"><use href="#s2" x="627.5" y="245.8"/><use href="#s2" x="655.4" y="272.4"/><use href="#s2" x="627.7" y="259.0"/><use href="#s2" x="644.7" y="289.5"/><use href="#s2" x="639.8" y="213.9"/><use href="#s2" x="639.2" y="291.4"/><use href="#s2" x="648.3" y="294.2"/><use href="#s2" x="642.9" y="239.4"/><use href="#s2" x="650.3" y="248.8"/><use href="#s2" x="631.0" y="233.8"/><use href="#s2" x="638.8" y="290.2"/><use href="#s2" x="633.5" y="286.2"/><use href="#s2" x="638.3" y="223.0"/><use href="#s2" x="648.0" y="251.5"/><use href="#s2" x="637.6" y="236.8"/><use href="#s2" x="639.2" y="298.3"/><use href="#s2" x="632.4" y="245.5"/><use href="#s2" x="643.0" y="236.4"/><use href="#s2" x="647.8" y="275.9"/><use href="#s2" x="651.1" y="266.2"/><use href="#s2" x="654.0" y="258.0"/><use href="#s2" x="649.3" y="234.3"/><use href="#s2" x="640.1" y="261.6"/><use href="#s2" x="650.6" y="275.9"/><use href="#s2" x="646.5" y="234.0"/><use href="#s2" x="646.3" y="264.3"/><use href="#s2" x="649.1" y="284.2"/><use href="#s2" x="632.7" y="216.5"/><use href="#s2" x="644.3" y="247.9"/><use href="#s2" x="630.2" y="249.8"/><use href="#s2" x="651.2" y="240.2"/><use href="#s2" x="654.8" y="252.9"/><use href="#s2" x="634.2" y="245.3"/><use href="#s2" x="648.6" y="271.0"/><use href="#s2" x="640.5" y="287.1"/><use href="#s2" x="639.3" y="250.5"/><use href="#s2" x="635.0" y="273.1"/><use href="#s2" x="628.1" y="254.7"/><use href="#s2" x="632.7" y="268.3"/><use href="#s2" x="652.9" y="252.6"/><use href="#s2" x="654.1" y="302.3"/><use href="#s2" x="648.5" y="242.6"/><use href="#s2" x="631.5" y="244.5"/><use href="#s2" x="647.9" y="276.4"/><use href="#s2" x="641.3" y="273.4"/><use href="#s2" x="627.4" y="281.2"/><use href="#s2" x="647.2" y="248.4"/><use href="#s2" x="639.4" y="272.1"/><use href="#s2" x="632.5" y="262.0"/><use href="#s2" x="635.0" y="265.8"/></g><g fill="#96e619" fill-opacity="0.40" stroke="#96e619" stroke-opacity="0.65" stroke-width="0.50"><use href="#u2" x="638.1" y="264.1"/><use href="#u2" x="657.3" y="248.3"/><use href="#u2" x="631.1" y="250.9"/><use href="#u2" x="646.8" y="259.0"/><use href="#u2" x="648.1" y="253.1"/><use href="#u2" x="641.0" y="248.0"/><use href="#u2" x="649.4" y="304.5"/><use href="#u2" x="632.2" y="276.9"/><use href="#u2" x="652.1" y="258.6"/><use href="#u2" x="650.4" y="251.6"/><use href="#u2" x="632.6" y="223.2"/><use href="#u2" x="632.6" y="260.3"/><use href="#u2" x="655.3" y="268.6"/><use href="#u2" x="629.2" y="288.9"/><use href="#u2" x="632.2" y="266.7"/><use href="#u2" x="628.7" y="259.8"/><use href="#u2" x="645.1" y="223.3"/><use href="#u2" x="635.0" y="277.0"/><use href="#u2" x="644.7" y="260.1"/><use href="#u2" x="629.8" y="246.9"/><use href="#u2" x="641.5" y="256.8"/><use href="#u2" x="631.6" y="282.4"/><use href="#u2" x="639.0" y="250.3"/><use href="#u2" x="642.3" y="252.5"/><use href="#u2" x="635.1" y="252.4"/><use href="#u2" x="630.6" y="285.4"/><use href="#u2" x="640.4" y="225.4"/><use href="#u2" x="631.6" y="254.1"/><use href="#u2" x="652.9" y="264.3"/><use href="#u2" x="655.0" y="254.6"/><use href="#u2" x="653.5" y="263.2"/><use href="#u2" x="641.8" y="257.8"/><use href="#u2" x="654.6" y="253.1"/><use href="#u2" x="650.4" y="274.8"/><use href="#u2" x="635.0" y="258.8"/><use href="#u2" x="635.0" y="267.2"/><use href="#u2" x="633.1" y="250.2"/><use href="#u2" x="652.3" y="241.1"/><use href="#u2" x="632.6" y="238.8"/><use href="#u2" x="639.4" y="233.2"/><use href="#u2" x="632.2" y="298.2"/><use href="#u2" x="648.7" y="254.7"/><use href="#u2" x="642.2" y="269.7"/><use href="#u2" x="632.8" y="242.1"/><use href="#u2" x="648.2" y="264.6"/><use href="#u2" x="645.8" y="249.9"/><use href="#u2" x="651.9" y="279.0"/><use href="#u2" x="640.2" y="250.7"/><use href="#u2" x="639.0" y="245.2"/><use href="#u2" x="655.6" y="259.2"/><use href="#u2" x="655.5" y="241.5"/><use href="#u2" x="641.5" y="250.7"/><use href="#u2" x="651.7" y="272.2"/><use href="#u2" x="648.6" y="241.6"/><use href="#u2" x="649.6" y="225.6"/><use href="#u2" x="652.9" y="266.5"/><use href="#u2" x="647.6" y="252.3"/><use href="#u2" x="628.3" y="247.9"/><use href="#u2" x="651.9" y="260.7"/><use href="#u2" x="655.6" y="258.9"/><use href="#u2" x="638.2" y="244.5"/><use href="#u2" x="643.4" y="252.8"/><use href="#u2" x="636.4" y="281.0"/><use href="#u2" x="648.8" y="268.0"/><use href="#u2" x="643.2" y="234.5"/><use href="#u2" x="641.6" y="274.2"/><use href="#u2" x="627.6" y="270.1"/><use href="#u2" x="642.7" y="237.1"/><use href="#u2" x="632.0" y="269.4"/><use href="#u2" x="657.0" y="248.5"/><use href="#u2" x="653.4" y="277.8"/><use href="#u2" x="652.6" y="226.0"/><use href="#u2" x="631.5" y="256.0"/><use href="#u2" x="657.2" y="279.9"/><use href="#u2" x="653.6" y="249.8"/><use href="#u2" x="632.7" y="256.3"/><use href="#u2" x="651.4" y="267.3"/><use href="#u2" x="640.1" y="237.1"/><use href="#u2" x="653.6" y="266.8"/><use href="#u2" x="653.1" y="259.3"/><use href="#u2" x="629.0" y="253.4"/><use href="#u2" x="649.6" y="281.7"/><use href="#u2" x="630.8" y="278.5"/><use href="#u2" x="640.1" y="285.8"/><use href="#u2" x="648.0" y="247.1"/><use href="#u2" x="648.6" y="281.1"/><use href="#u2" x="644.5" y="278.3"/><use href="#u2" x="647.1" y="242.4"/><use href="#u2" x="655.7" y="229.5"/><use href="#u2" x="647.7" y="273.6"/><use href="#u2" x="647.4" y="220.0"/><use href="#u2" x="655.9" y="251.0"/><use href="#u2" x="632.6" y="241.0"/><use href="#u2" x="647.8" y="236.0"/><use href="#u2" x="657.0" y="258.6"/><use href="#u2" x="629.6" y="223.0"/><use href="#u2" x="641.5" y="262.5"/><use href="#u2" x="637.6" y="232.4"/><use href="#u2" x="648.2" y="278.9"/><use href="#u2" x="634.3" y="259.5"/><use href="#u2" x="644.2" y="306.5"/><use href="#u2" x="642.3" y="241.3"/><use href="#u2" x="644.8" y="276.5"/><use href="#u2" x="628.5" y="277.0"/><use href="#u2" x="631.2" y="267.6"/><use href="#u2" x="630.1" y="245.3"/><use href="#u2" x="629.7" y="251.7"/><use href="#u2" x="633.0" y="265.5"/><use href="#u2" x="644.3" y="275.1"/><use href="#u2" x="655.5" y="278.0"/></g><g fill="#19e696" fill-opacity="0.32" stroke="#19e696" stroke-opacity="0.75" stroke-width="0.70"><use href="#o2" x="669.0" y="238.6"/><use href="#o2" x="676.6" y="291.4"/><use href="#o2" x="668.1" y="243.1"/><use href="#o2" x="667.9" y="281.4"/><use href="#o2" x="676.0" y="268.3"/><use href="#o2" x="652.4" y="273.4"/><use href="#o2" x="652.7" y="273.9"/><use href="#o2" x="675.9" y="286.5"/><use href="#o2" x="663.1" y="254.1"/><use href="#o2" x="676.4" y="279.5"/><use href="#o2" x="653.6" y="267.1"/><use href="#o2" x="676.5" y="269.7"/><use href="#o2" x="652.5" y="253.6"/><use href="#o2" x="662.5" y="257.4"/><use href="#o2" x="677.0" y="274.7"/><use href="#o2" x="653.2" y="246.8"/><use href="#o2" x="675.9" y="237.9"/><use href="#o2" x="652.3" y="264.7"/><use href="#o2" x="668.1" y="275.3"/><use href="#o2" x="675.9" y="288.7"/><use href="#o2" x="675.9" y="282.5"/><use href="#o2" x="652.9" y="264.3"/><use href="#o2" x="676.1" y="261.0"/><use href="#o2" x="652.6" y="279.7"/><use href="#o2" x="668.2" y="271.0"/><use href="#o2" x="652.3" y="251.2"/><use href="#o2" x="668.6" y="263.2"/><use href="#o2" x="652.5" y="240.9"/><use href="#o2" x="653.3" y="283.9"/><use href="#o2" x="676.0" y="280.0"/><use href="#o2" x="662.1" y="280.7"/><use href="#o2" x="675.8" y="243.8"/><use href="#o2" x="669.1" y="268.9"/><use href="#o2" x="652.4" y="273.7"/><use href="#o2" x="653.7" y="270.7"/><use href="#o2" x="668.0" y="252.7"/><use href="#o2" x="652.8" y="275.0"/><use href="#o2" x="653.7" y="236.8"/><use href="#o2" x="652.4" y="278.1"/><use href="#o2" x="676.5" y="282.1"/><use href="#o2" x="653.2" y="255.6"/><use href="#o2" x="676.8" y="238.3"/><use href="#o2" x="652.7" y="293.2"/><use href="#o2" x="662.1" y="269.0"/><use href="#o2" x="662.3" y="262.6"/><use href="#o2" x="662.1" y="246.3"/><use href="#o2" x="662.7" y="303.5"/><use href="#o2" x="662.9" y="243.1"/><use href="#o2" x="675.5" y="261.0"/><use href="#o2" x="677.1" y="288.5"/><use href="#o2" x="676.5" y="260.2"/><use href="#o2" x="663.1" y="281.2"/><use href="#o2" x="676.8" y="278.1"/><use href="#o2" x="663.1" y="300.2"/><use href="#o2" x="662.1" y="253.5"/><use href="#o2" x="663.4" y="257.2"/><use href="#o2" x="653.4" y="255.0"/><use href="#o2" x="675.6" y="255.9"/><use href="#o2" x="662.9" y="254.3"/><use href="#o2" x="663.2" y="253.9"/><use href="#o2" x="653.0" y="271.5"/><use href="#o2" x="662.3" y="251.9"/><use href="#o2" x="667.8" y="284.5"/><use href="#o2" x="652.3" y="245.6"/><use href="#o2" x="676.3" y="264.1"/><use href="#o2" x="663.5" y="278.0"/><use href="#o2" x="676.2" y="289.9"/><use href="#o2" x="663.3" y="259.3"/><use href="#o2" x="668.0" y="279.4"/><use href="#o2" x="653.5" y="279.4"/><use href="#o2" x="668.9" y="259.8"/><use href="#o2" x="663.4" y="255.4"/><use href="#o2" x="667.7" y="286.8"/><use href="#o2" x="653.8" y="264.4"/><use href="#o2" x="662.4" y="265.4"/><use href="#o2" x="677.0" y="257.8"/><use href="#o2" x="653.7" y="291.0"/><use href="#o2" x="652.8" y="258.0"/><use href="#o2" x="676.8" y="265.3"/><use href="#o2" x="652.5" y="279.0"/><use href="#o2" x="652.9" y="275.4"/><use href="#o2" x="667.8" y="269.2"/><use href="#o2" x="653.5" y="247.0"/><use href="#o2" x="669.0" y="271.5"/><use href="#o2" x="676.0" y="256.3"/><use href="#o2" x="662.6" y="293.1"/><use href="#o2" x="676.4" y="247.8"/><use href="#o2" x="662.4" y="271.9"/><use href="#o2" x="669.2" y="280.3"/><use href="#o2" x="675.6" y="279.1"/><use href="#o2" x="662.9" y="268.2"/><use href="#o2" x="662.6" y="260.6"/><use href="#o2" x="675.6" y="246.6"/><use href="#o2" x="668.9" y="265.6"/><use href="#o2" x="662.2" y="286.8"/><use href="#o2" x="662.4" y="260.0"/><use href="#o2" x="661.9" y="272.4"/><use href="#o2" x="676.5" y="284.7"/><use href="#o2" x="662.4" y="272.7"/><use href="#o2" x="662.2" y="297.4"/><use href="#o2" x="653.4" y="277.1"/><use href="#o2" x="668.9" y="240.8"/><use href="#o2" x="667.9" y="256.6"/><use href="#o2" x="663.3" y="242.2"/><use href="#o2" x="676.5" y="262.7"/><use href="#o2" x="653.7" y="278.8"/><use href="#o2" x="675.8" y="251.1"/><use href="#o2" x="662.6" y="269.1"/><use href="#o2" x="662.7" y="253.5"/><use href="#o2" x="676.6" y="287.3"/></g><g fill="#19e696" fill-opacity="0.40" stroke="#19e696" stroke-opacity="0.65" stroke-width="0.50"><use href="#o2" x="665.0" y="218.0"/><use href="#o2" x="653.0" y="314.0"/><use href="#o2" x="676.0" y="302.0"/></g></g><g font-family="Liberation Sans, sans-serif"><rect x="179.2" y="19.7" width="153.3" height="32.6" rx="1.5" fill="#fff" fill-opacity="0.85" stroke="#d4d4d4" stroke-width="0.7"/><use href="#dL" x="185.6" y="22.8" fill="#1e96e6" fill-opacity="0.62" stroke="#1e96e6" stroke-opacity="0.75" stroke-width="0.4"/><text x="193.9" y="24.4" font-size="4.4" fill="#222" textLength="16.2" lengthAdjust="spacingAndGlyphs">F1S1F2</text><use href="#oL" x="185.6" y="29.2" fill="#19e696" fill-opacity="0.62" stroke="#19e696" stroke-opacity="0.75" stroke-width="0.4"/><text x="193.9" y="30.8" font-size="4.4" fill="#222" textLength="16.8" lengthAdjust="spacingAndGlyphs">E1S2E2</text><use href="#sL" x="185.6" y="35.5" fill="#9619e6" fill-opacity="0.62" stroke="#9619e6" stroke-opacity="0.75" stroke-width="0.4"/><text x="193.9" y="37.1" font-size="4.4" fill="#222" textLength="16.5" lengthAdjust="spacingAndGlyphs">F1S2S1</text><use href="#uL" x="185.6" y="41.7" fill="#96e619" fill-opacity="0.62" stroke="#96e619" stroke-opacity="0.75" stroke-width="0.4"/><text x="193.9" y="43.3" font-size="4.4" fill="#222" textLength="18.3" lengthAdjust="spacingAndGlyphs">E1W1E2</text><use href="#vL" x="185.6" y="48.3" fill="#e61996" fill-opacity="0.62" stroke="#e61996" stroke-opacity="0.75" stroke-width="0.4"/><text x="193.9" y="49.9" font-size="4.4" fill="#222" textLength="18.1" lengthAdjust="spacingAndGlyphs">F1W1S1</text><use href="#rL" x="224.5" y="22.8" fill="#e69619" fill-opacity="0.62" stroke="#e69619" stroke-opacity="0.75" stroke-width="0.4"/><text x="232.8" y="24.4" font-size="4.4" fill="#222" textLength="18.1" lengthAdjust="spacingAndGlyphs">F1W1S2</text><use href="#lL" x="224.5" y="29.2" fill="#808080" fill-opacity="0.62" stroke="#808080" stroke-opacity="0.75" stroke-width="0.4"/><text x="232.8" y="30.8" font-size="4.4" fill="#222" textLength="18.3" lengthAdjust="spacingAndGlyphs">E1W2E2</text><use href="#pL" x="224.5" y="35.5" fill="#1919e6" fill-opacity="0.62" stroke="#1919e6" stroke-opacity="0.75" stroke-width="0.4"/><text x="232.8" y="37.1" font-size="4.4" fill="#222" textLength="18.1" lengthAdjust="spacingAndGlyphs">F1W2S1</text><use href="#xL" x="224.5" y="41.7" fill="#19e619" fill-opacity="0.62" stroke="#19e619" stroke-opacity="0.75" stroke-width="0.4"/><text x="232.8" y="43.3" font-size="4.4" fill="#222" textLength="18.3" lengthAdjust="spacingAndGlyphs">E1W2S2</text><use href="#DL" x="224.5" y="48.3" fill="#e61919" fill-opacity="0.62" stroke="#e61919" stroke-opacity="0.75" stroke-width="0.4"/><text x="232.8" y="49.9" font-size="4.4" fill="#222" textLength="19.6" lengthAdjust="spacingAndGlyphs">F1W2W1</text><use href="#oL" x="264.6" y="22.8" fill="#1e96e6" fill-opacity="0.62" stroke="#1e96e6" stroke-opacity="0.75" stroke-width="0.4"/><text x="272.9" y="24.4" font-size="4.4" fill="#222" textLength="16.5" lengthAdjust="spacingAndGlyphs">S2S1F2</text><use href="#sL" x="264.6" y="29.2" fill="#19e696" fill-opacity="0.62" stroke="#19e696" stroke-opacity="0.75" stroke-width="0.4"/><text x="272.9" y="30.8" font-size="4.4" fill="#222" textLength="18.3" lengthAdjust="spacingAndGlyphs">W1S1E2</text><use href="#uL" x="264.6" y="35.5" fill="#9619e6" fill-opacity="0.62" stroke="#9619e6" stroke-opacity="0.75" stroke-width="0.4"/><text x="272.9" y="37.1" font-size="4.4" fill="#222" textLength="18.1" lengthAdjust="spacingAndGlyphs">W1S2F2</text><use href="#vL" x="264.6" y="41.7" fill="#96e619" fill-opacity="0.62" stroke="#96e619" stroke-opacity="0.75" stroke-width="0.4"/><text x="272.9" y="43.3" font-size="4.4" fill="#222" textLength="18.3" lengthAdjust="spacingAndGlyphs">W1S2S1</text><use href="#rL" x="264.6" y="48.3" fill="#e61996" fill-opacity="0.62" stroke="#e61996" stroke-opacity="0.75" stroke-width="0.4"/><text x="272.9" y="49.9" font-size="4.4" fill="#222" textLength="18.1" lengthAdjust="spacingAndGlyphs">W2S1F2</text><use href="#lL" x="303.5" y="22.8" fill="#e69619" fill-opacity="0.62" stroke="#e69619" stroke-opacity="0.75" stroke-width="0.4"/><text x="311.3" y="24.4" font-size="4.4" fill="#222" textLength="18.1" lengthAdjust="spacingAndGlyphs">W2S2F2</text><use href="#pL" x="303.5" y="29.2" fill="#808080" fill-opacity="0.62" stroke="#808080" stroke-opacity="0.75" stroke-width="0.4"/><text x="311.3" y="30.8" font-size="4.4" fill="#222" textLength="18.3" lengthAdjust="spacingAndGlyphs">W2S2S1</text><use href="#xL" x="303.5" y="35.5" fill="#1919e6" fill-opacity="0.62" stroke="#1919e6" stroke-opacity="0.75" stroke-width="0.4"/><text x="311.3" y="37.1" font-size="4.4" fill="#222" textLength="19.6" lengthAdjust="spacingAndGlyphs">W2W1F2</text><use href="#DL" x="303.5" y="41.7" fill="#19e619" fill-opacity="0.62" stroke="#19e619" stroke-opacity="0.75" stroke-width="0.4"/><text x="311.3" y="43.3" font-size="4.4" fill="#222" textLength="19.9" lengthAdjust="spacingAndGlyphs">W2W1S1</text><use href="#oL" x="303.5" y="48.3" fill="#e61919" fill-opacity="0.62" stroke="#e61919" stroke-opacity="0.75" stroke-width="0.4"/><text x="311.3" y="49.9" font-size="4.4" fill="#222" textLength="19.9" lengthAdjust="spacingAndGlyphs">W2W1S2</text><rect x="558.3" y="19.6" width="128.7" height="26.0" rx="1.5" fill="#fff" fill-opacity="0.85" stroke="#d4d4d4" stroke-width="0.7"/><use href="#dL" x="564.0" y="22.9" fill="#1e96e6" fill-opacity="0.62" stroke="#1e96e6" stroke-opacity="0.75" stroke-width="0.4"/><text x="572.4" y="24.5" font-size="4.4" fill="#222" textLength="10.9" lengthAdjust="spacingAndGlyphs">E1F2</text><use href="#oL" x="564.0" y="29.5" fill="#19e696" fill-opacity="0.62" stroke="#19e696" stroke-opacity="0.75" stroke-width="0.4"/><text x="572.4" y="31.1" font-size="4.4" fill="#222" textLength="11.2" lengthAdjust="spacingAndGlyphs">E1S1</text><use href="#sL" x="564.0" y="35.7" fill="#9619e6" fill-opacity="0.62" stroke="#9619e6" stroke-opacity="0.75" stroke-width="0.4"/><text x="572.4" y="37.3" font-size="4.4" fill="#222" textLength="11.2" lengthAdjust="spacingAndGlyphs">E1S2</text><use href="#uL" x="564.0" y="41.9" fill="#96e619" fill-opacity="0.62" stroke="#96e619" stroke-opacity="0.75" stroke-width="0.4"/><text x="572.4" y="43.5" font-size="4.4" fill="#222" textLength="12.7" lengthAdjust="spacingAndGlyphs">E1W1</text><use href="#vL" x="597.2" y="22.9" fill="#e61996" fill-opacity="0.62" stroke="#e61996" stroke-opacity="0.75" stroke-width="0.4"/><text x="605.5" y="24.5" font-size="4.4" fill="#222" textLength="12.7" lengthAdjust="spacingAndGlyphs">E1W2</text><use href="#rL" x="597.2" y="29.5" fill="#e69619" fill-opacity="0.62" stroke="#e69619" stroke-opacity="0.75" stroke-width="0.4"/><text x="605.5" y="31.1" font-size="4.4" fill="#222" textLength="11.2" lengthAdjust="spacingAndGlyphs">S1E2</text><use href="#lL" x="597.2" y="35.7" fill="#808080" fill-opacity="0.62" stroke="#808080" stroke-opacity="0.75" stroke-width="0.4"/><text x="605.5" y="37.3" font-size="4.4" fill="#222" textLength="11.2" lengthAdjust="spacingAndGlyphs">S2E2</text><use href="#pL" x="597.2" y="41.9" fill="#1919e6" fill-opacity="0.62" stroke="#1919e6" stroke-opacity="0.75" stroke-width="0.4"/><text x="605.5" y="43.5" font-size="4.4" fill="#222" textLength="11.2" lengthAdjust="spacingAndGlyphs">S2S1</text><use href="#xL" x="630.7" y="22.9" fill="#19e619" fill-opacity="0.62" stroke="#19e619" stroke-opacity="0.75" stroke-width="0.4"/><text x="639.0" y="24.5" font-size="4.4" fill="#222" textLength="12.7" lengthAdjust="spacingAndGlyphs">W1E2</text><use href="#DL" x="630.7" y="29.5" fill="#e61919" fill-opacity="0.62" stroke="#e61919" stroke-opacity="0.75" stroke-width="0.4"/><text x="639.0" y="31.1" font-size="4.4" fill="#222" textLength="12.7" lengthAdjust="spacingAndGlyphs">W1S1</text><use href="#oL" x="630.7" y="35.7" fill="#1e96e6" fill-opacity="0.62" stroke="#1e96e6" stroke-opacity="0.75" stroke-width="0.4"/><text x="639.0" y="37.3" font-size="4.4" fill="#222" textLength="12.7" lengthAdjust="spacingAndGlyphs">W1S2</text><use href="#sL" x="630.7" y="41.9" fill="#19e696" fill-opacity="0.62" stroke="#19e696" stroke-opacity="0.75" stroke-width="0.4"/><text x="639.0" y="43.5" font-size="4.4" fill="#222" textLength="12.7" lengthAdjust="spacingAndGlyphs">W2E2</text><use href="#uL" x="663.9" y="22.9" fill="#9619e6" fill-opacity="0.62" stroke="#9619e6" stroke-opacity="0.75" stroke-width="0.4"/><text x="671.7" y="24.5" font-size="4.4" fill="#222" textLength="12.7" lengthAdjust="spacingAndGlyphs">W2S1</text><use href="#vL" x="663.9" y="29.5" fill="#96e619" fill-opacity="0.62" stroke="#96e619" stroke-opacity="0.75" stroke-width="0.4"/><text x="671.7" y="31.1" font-size="4.4" fill="#222" textLength="12.7" lengthAdjust="spacingAndGlyphs">W2S2</text><use href="#rL" x="663.9" y="35.7" fill="#e61996" fill-opacity="0.62" stroke="#e61996" stroke-opacity="0.75" stroke-width="0.4"/><text x="671.7" y="37.3" font-size="4.4" fill="#222" textLength="14.3" lengthAdjust="spacingAndGlyphs">W2W1</text></g><g fill="none" stroke="#1a1a1a" stroke-width="1.05"><rect x="26.2" y="17.3" width="308.3" height="359.6"/><path d="M26.2 197.4H334.5"/><rect x="381.2" y="17.3" width="308.6" height="359.6"/><path d="M381.2 197.2H689.8"/></g><g font-family="Liberation Sans, sans-serif" fill="#1a1a1a"><g stroke="#1a1a1a" stroke-width="0.9"><path d="M22.7 22.6H26.2"/><path d="M22.7 43.3H26.2"/><path d="M22.7 63.9H26.2"/><path d="M22.7 84.5H26.2"/><path d="M22.7 105.0H26.2"/><path d="M22.7 125.6H26.2"/><path d="M22.7 146.2H26.2"/><path d="M22.7 166.8H26.2"/><path d="M22.7 187.3H26.2"/></g><text x="18.8" y="25.8" text-anchor="end" font-size="8.8" textLength="11.2" lengthAdjust="spacingAndGlyphs">25</text><text x="18.8" y="46.5" text-anchor="end" font-size="8.8" textLength="11.2" lengthAdjust="spacingAndGlyphs">20</text><text x="18.8" y="67.1" text-anchor="end" font-size="8.8" textLength="11.2" lengthAdjust="spacingAndGlyphs">15</text><text x="18.8" y="87.7" text-anchor="end" font-size="8.8" textLength="11.2" lengthAdjust="spacingAndGlyphs">10</text><text x="18.8" y="108.2" text-anchor="end" font-size="8.8" textLength="5.6" lengthAdjust="spacingAndGlyphs">5</text><text x="18.8" y="128.8" text-anchor="end" font-size="8.8" textLength="5.6" lengthAdjust="spacingAndGlyphs">0</text><text x="18.8" y="149.4" text-anchor="end" font-size="8.8" textLength="13.0" lengthAdjust="spacingAndGlyphs">−5</text><text x="18.8" y="170.0" text-anchor="end" font-size="8.8" textLength="18.6" lengthAdjust="spacingAndGlyphs">−10</text><text x="18.8" y="190.5" text-anchor="end" font-size="8.8" textLength="18.6" lengthAdjust="spacingAndGlyphs">−15</text><g stroke="#1a1a1a" stroke-width="0.9"><path d="M22.7 201.1H26.2"/><path d="M22.7 232.6H26.2"/><path d="M22.7 264.2H26.2"/><path d="M22.7 295.8H26.2"/><path d="M22.7 327.3H26.2"/><path d="M22.7 358.9H26.2"/></g><text x="18.8" y="204.3" text-anchor="end" font-size="8.8" textLength="5.6" lengthAdjust="spacingAndGlyphs">6</text><text x="18.8" y="235.8" text-anchor="end" font-size="8.8" textLength="5.6" lengthAdjust="spacingAndGlyphs">4</text><text x="18.8" y="267.4" text-anchor="end" font-size="8.8" textLength="5.6" lengthAdjust="spacingAndGlyphs">2</text><text x="18.8" y="299.0" text-anchor="end" font-size="8.8" textLength="5.6" lengthAdjust="spacingAndGlyphs">0</text><text x="18.8" y="330.5" text-anchor="end" font-size="8.8" textLength="13.0" lengthAdjust="spacingAndGlyphs">−2</text><text x="18.8" y="362.1" text-anchor="end" font-size="8.8" textLength="13.0" lengthAdjust="spacingAndGlyphs">−4</text><g stroke="#1a1a1a" stroke-width="0.9"><path d="M377.7 37.2H381.2"/><path d="M377.7 61.1H381.2"/><path d="M377.7 84.9H381.2"/><path d="M377.7 108.8H381.2"/><path d="M377.7 132.7H381.2"/><path d="M377.7 156.6H381.2"/><path d="M377.7 180.4H381.2"/></g><text x="373.8" y="40.4" text-anchor="end" font-size="8.8" textLength="14.0" lengthAdjust="spacingAndGlyphs">1.2</text><text x="373.8" y="64.3" text-anchor="end" font-size="8.8" textLength="14.0" lengthAdjust="spacingAndGlyphs">1.1</text><text x="373.8" y="88.1" text-anchor="end" font-size="8.8" textLength="14.0" lengthAdjust="spacingAndGlyphs">1.0</text><text x="373.8" y="112.0" text-anchor="end" font-size="8.8" textLength="14.0" lengthAdjust="spacingAndGlyphs">0.9</text><text x="373.8" y="135.9" text-anchor="end" font-size="8.8" textLength="14.0" lengthAdjust="spacingAndGlyphs">0.8</text><text x="373.8" y="159.8" text-anchor="end" font-size="8.8" textLength="14.0" lengthAdjust="spacingAndGlyphs">0.7</text><text x="373.8" y="183.6" text-anchor="end" font-size="8.8" textLength="14.0" lengthAdjust="spacingAndGlyphs">0.6</text><g stroke="#1a1a1a" stroke-width="0.9"><path d="M377.7 208.2H381.2"/><path d="M377.7 241.0H381.2"/><path d="M377.7 273.8H381.2"/><path d="M377.7 306.6H381.2"/><path d="M377.7 339.4H381.2"/><path d="M377.7 372.2H381.2"/></g><text x="373.8" y="211.4" text-anchor="end" font-size="8.8" textLength="5.6" lengthAdjust="spacingAndGlyphs">4</text><text x="373.8" y="244.2" text-anchor="end" font-size="8.8" textLength="5.6" lengthAdjust="spacingAndGlyphs">2</text><text x="373.8" y="277.0" text-anchor="end" font-size="8.8" textLength="5.6" lengthAdjust="spacingAndGlyphs">0</text><text x="373.8" y="309.8" text-anchor="end" font-size="8.8" textLength="13.0" lengthAdjust="spacingAndGlyphs">−2</text><text x="373.8" y="342.6" text-anchor="end" font-size="8.8" textLength="13.0" lengthAdjust="spacingAndGlyphs">−4</text><text x="373.8" y="375.4" text-anchor="end" font-size="8.8" textLength="13.0" lengthAdjust="spacingAndGlyphs">−6</text><g stroke="#1a1a1a" stroke-width="0.9"><path d="M32.2 376.9V380.4"/><path d="M92.7 376.9V380.4"/><path d="M153.2 376.9V380.4"/><path d="M213.7 376.9V380.4"/><path d="M274.2 376.9V380.4"/></g><text x="32.2" y="393.1" text-anchor="middle" font-size="10.4" textLength="19.8" lengthAdjust="spacingAndGlyphs">120</text><text x="92.7" y="393.1" text-anchor="middle" font-size="10.4" textLength="19.8" lengthAdjust="spacingAndGlyphs">140</text><text x="153.2" y="393.1" text-anchor="middle" font-size="10.4" textLength="19.8" lengthAdjust="spacingAndGlyphs">160</text><text x="213.7" y="393.1" text-anchor="middle" font-size="10.4" textLength="19.8" lengthAdjust="spacingAndGlyphs">180</text><text x="274.2" y="393.1" text-anchor="middle" font-size="10.4" textLength="19.8" lengthAdjust="spacingAndGlyphs">200</text><g stroke="#1a1a1a" stroke-width="0.9"><path d="M401.9 376.9V380.4"/><path d="M437.9 376.9V380.4"/><path d="M473.9 376.9V380.4"/><path d="M509.9 376.9V380.4"/><path d="M545.9 376.9V380.4"/><path d="M581.9 376.9V380.4"/><path d="M617.9 376.9V380.4"/><path d="M653.9 376.9V380.4"/><path d="M689.9 376.9V380.4"/></g><text x="401.9" y="393.1" text-anchor="middle" font-size="10.4" textLength="13.2" lengthAdjust="spacingAndGlyphs">25</text><text x="437.9" y="393.1" text-anchor="middle" font-size="10.4" textLength="13.2" lengthAdjust="spacingAndGlyphs">50</text><text x="473.9" y="393.1" text-anchor="middle" font-size="10.4" textLength="13.2" lengthAdjust="spacingAndGlyphs">75</text><text x="509.9" y="393.1" text-anchor="middle" font-size="10.4" textLength="19.8" lengthAdjust="spacingAndGlyphs">100</text><text x="545.9" y="393.1" text-anchor="middle" font-size="10.4" textLength="19.8" lengthAdjust="spacingAndGlyphs">125</text><text x="581.9" y="393.1" text-anchor="middle" font-size="10.4" textLength="19.8" lengthAdjust="spacingAndGlyphs">150</text><text x="617.9" y="393.1" text-anchor="middle" font-size="10.4" textLength="19.8" lengthAdjust="spacingAndGlyphs">175</text><text x="653.9" y="393.1" text-anchor="middle" font-size="10.4" textLength="19.8" lengthAdjust="spacingAndGlyphs">200</text><text x="689.9" y="393.1" text-anchor="middle" font-size="10.4" textLength="19.8" lengthAdjust="spacingAndGlyphs">225</text><text x="180.3" y="407.4" text-anchor="middle" font-size="10.2" textLength="46" lengthAdjust="spacingAndGlyphs">Bmax/wl</text><text x="535.8" y="407.4" text-anchor="middle" font-size="10.2" textLength="23" lengthAdjust="spacingAndGlyphs">B/wl</text><text x="180.4" y="11" text-anchor="middle" font-size="13" textLength="75" lengthAdjust="spacingAndGlyphs">T3PHI (deg)</text><text x="535.2" y="10.9" text-anchor="middle" font-size="13" textLength="16.5" lengthAdjust="spacingAndGlyphs">V2</text><text x="180.3" y="208" text-anchor="middle" font-size="9" fill="#8c8c8c" textLength="54.5" lengthAdjust="spacingAndGlyphs">residuals (<tspan font-style="italic">σ</tspan>)</text><text x="535.2" y="208" text-anchor="middle" font-size="9" fill="#8c8c8c" textLength="54.5" lengthAdjust="spacingAndGlyphs">residuals (<tspan font-style="italic">σ</tspan>)</text><path d="M23.4 205.6H25.3V212H23.4" stroke="#1a1a1a" stroke-width="0.9" fill="none"/></g></svg></body></html>
